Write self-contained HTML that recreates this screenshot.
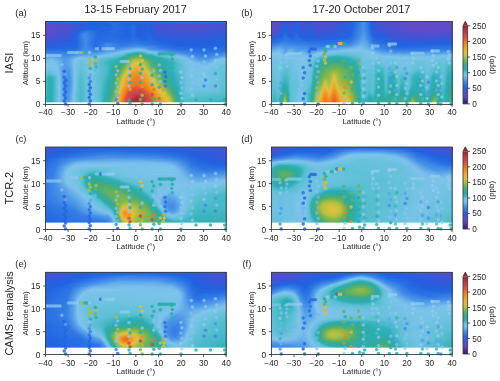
<!DOCTYPE html><html><head><meta charset="utf-8"><style>
html,body{margin:0;padding:0;background:#fff;width:500px;height:381px;overflow:hidden}
.fld{position:absolute;overflow:hidden}.fld i{position:absolute;left:0;width:100%;display:block}
svg{position:absolute;left:0;top:0;will-change:transform}text{font-family:"Liberation Sans",sans-serif;fill:#262626}
.tk{stroke:#262626;stroke-width:0.8}.sp{fill:none;stroke:#3a3a3a;stroke-width:0.85}
</style></head><body>
<div class="fld" style="left:45px;top:21px;width:182px;height:84px"><i style="top:0px;height:1px;background:linear-gradient(90deg,#634ac6 0.5px,#4d50d0 24.5px,#1e62e0 45.5px,#2260df 62.5px,#276de3 69.5px,#2360df 75.5px,#305bdb 94.5px,#4d50d0 118.5px,#514fce 155.5px,#4652d4 181.5px)"></i><i style="top:1px;height:1px;background:linear-gradient(90deg,#644ac5 0.5px,#4e50d0 24.5px,#1e62e0 45.5px,#2260df 62.5px,#276de3 69.5px,#2261df 76.5px,#255fde 90.5px,#4c50d1 116.5px,#534ecd 152.5px,#4752d4 181.5px)"></i><i style="top:2px;height:1px;background:linear-gradient(90deg,#644ac5 0.5px,#4e50d0 24.5px,#1e62e0 45.5px,#2161df 62.5px,#286ee3 69.5px,#2061df 79.5px,#2360de 91.5px,#3359da 101.5px,#3858d8 106.5px,#4951d2 113.5px,#544ecd 150.5px,#4752d3 181.5px)"></i><i style="top:3px;height:1px;background:linear-gradient(90deg,#644ac5 0.5px,#4e50d0 24.5px,#1e62e0 45.5px,#2161df 62.5px,#286ee3 69.5px,#1e62e0 80.5px,#2266e1 89.5px,#315ada 100.5px,#2b5ddc 105.5px,#4752d4 111.5px,#554ecd 149.5px,#4752d4 181.5px)"></i><i style="top:4px;height:1px;background:linear-gradient(90deg,#644ac5 0.5px,#4e50d0 24.5px,#1e62e0 44.5px,#2061df 62.5px,#286fe3 69.5px,#1e62e0 80.5px,#2469e2 89.5px,#2260df 92.5px,#2f5bdb 100.5px,#2061df 104.5px,#4453d5 110.5px,#554ecd 148.5px,#4652d4 181.5px)"></i><i style="top:5px;height:1px;background:linear-gradient(90deg,#644ac5 0.5px,#4e50d0 24.5px,#1e63e0 44.5px,#2166e1 64.5px,#266ce3 70.5px,#2064e1 82.5px,#286ee3 88.5px,#2260df 92.5px,#2d5cdc 100.5px,#1f64e0 104.5px,#285edd 106.5px,#4353d5 110.5px,#534ecd 148.5px,#4453d5 181.5px)"></i><i style="top:6px;height:1px;background:linear-gradient(90deg,#634ac6 0.5px,#4d50d1 24.5px,#1f63e0 43.5px,#2266e1 64.5px,#276ce3 70.5px,#2064e1 82.5px,#286ee3 88.5px,#2260df 92.5px,#2c5cdc 100.5px,#2065e1 104.5px,#265fdd 106.5px,#4154d5 110.5px,#524fce 148.5px,#4254d5 181.5px)"></i><i style="top:7px;height:1px;background:linear-gradient(90deg,#614ac6 0.5px,#4b50d1 24.5px,#1f63e0 40.5px,#2267e1 64.5px,#276ce3 70.5px,#1f64e0 82.5px,#286ee3 88.5px,#2260df 92.5px,#2c5cdc 100.5px,#2064e1 103.5px,#265fde 106.5px,#4054d6 110.5px,#504fcf 148.5px,#4055d6 181.5px)"></i><i style="top:8px;height:1px;background:linear-gradient(90deg,#604bc7 0.5px,#4a51d2 24.5px,#1f63e0 36.5px,#2166e1 48.5px,#2267e1 64.5px,#276ce3 70.5px,#1f63e0 82.5px,#276ee3 88.5px,#1e62e0 91.5px,#2e5cdb 99.5px,#2064e1 103.5px,#255fde 106.5px,#3e55d6 110.5px,#4d50d0 149.5px,#3d56d7 181.5px)"></i><i style="top:9px;height:1px;background:linear-gradient(90deg,#5e4bc8 0.5px,#4851d3 24.5px,#1f63e0 34.5px,#2a71e4 42.5px,#1e62e0 61.5px,#296fe4 69.5px,#1e62e0 80.5px,#276de3 88.5px,#2460de 92.5px,#2b5ddc 100.5px,#2065e1 103.5px,#2460de 106.5px,#3c56d7 110.5px,#4b51d2 149.5px,#3957d8 181.5px)"></i><i style="top:10px;height:1px;background:linear-gradient(90deg,#5c4cc9 0.5px,#4652d4 24.5px,#2064e1 33.5px,#327ae6 41.5px,#1f63e0 56.5px,#286ee3 66.5px,#1f63e0 82.5px,#276de3 88.5px,#245fde 92.5px,#2b5ddc 100.5px,#2165e1 103.5px,#2360df 106.5px,#3b57d7 110.5px,#4852d3 150.5px,#3658d9 181.5px)"></i><i style="top:11px;height:1px;background:linear-gradient(90deg,#5a4cca 0.5px,#4453d5 24.5px,#1f63e0 32.5px,#3c85e7 40.5px,#2166e1 53.5px,#256be2 65.5px,#276ce3 70.5px,#1f63e0 82.5px,#276de3 88.5px,#255fde 92.5px,#2a5ddc 100.5px,#2166e1 103.5px,#2161df 106.5px,#3957d8 110.5px,#4453d5 151.5px,#335ada 181.5px)"></i><i style="top:12px;height:1px;background:linear-gradient(90deg,#584dcb 0.5px,#4453d5 23.5px,#2165e1 32.5px,#408be7 39.5px,#2267e1 52.5px,#266be3 65.5px,#276de3 70.5px,#1f63e0 82.5px,#276de3 88.5px,#255fde 92.5px,#295edd 100.5px,#2166e1 103.5px,#2061df 106.5px,#3858d8 111.5px,#3f55d6 155.5px,#2f5bdb 181.5px)"></i><i style="top:13px;height:1px;background:linear-gradient(90deg,#554ecc 0.5px,#4154d6 23.5px,#1e62e0 31.5px,#428ce7 39.5px,#2368e2 52.5px,#266ce3 65.5px,#246ae2 71.5px,#2064e1 83.5px,#276de3 88.5px,#255fde 92.5px,#285edd 100.5px,#2166e1 105.5px,#265fdd 107.5px,#3658d9 113.5px,#3957d8 161.5px,#2c5ddc 181.5px)"></i><i style="top:14px;height:1px;background:linear-gradient(90deg,#534ece 0.5px,#3e55d6 23.5px,#1f63e0 31.5px,#428ce7 39.5px,#2469e2 52.5px,#266ce3 65.5px,#256ae2 71.5px,#2065e1 83.5px,#276de3 88.5px,#2460de 92.5px,#265fde 100.5px,#2267e1 105.5px,#245fde 107.5px,#3359da 113.5px,#3459d9 164.5px,#295edd 181.5px)"></i><i style="top:15px;height:1px;background:linear-gradient(90deg,#504fcf 0.5px,#3b56d7 23.5px,#2064e1 31.5px,#428de7 39.5px,#246ae2 52.5px,#276de3 65.5px,#256ae2 71.5px,#2165e1 83.5px,#276de3 88.5px,#2260df 92.5px,#2460de 100.5px,#2368e2 105.5px,#315ada 114.5px,#2f5bdb 166.5px,#265fde 181.5px)"></i><i style="top:16px;height:1px;background:linear-gradient(90deg,#4d50d0 0.5px,#3858d8 23.5px,#2065e1 31.5px,#428de7 39.5px,#256ae2 52.5px,#276de3 65.5px,#256be2 71.5px,#2166e1 83.5px,#286ee3 88.5px,#2260df 93.5px,#2267e1 102.5px,#1f62e0 107.5px,#2e5cdb 114.5px,#2d5cdc 166.5px,#2360df 181.5px)"></i><i style="top:17px;height:1px;background:linear-gradient(90deg,#4a51d2 0.5px,#335ada 24.5px,#2165e1 31.5px,#428de7 40.5px,#266ce3 50.5px,#286ee3 65.5px,#266ce3 71.5px,#256ae2 84.5px,#266ce3 89.5px,#2061df 99.5px,#256ae2 105.5px,#2261df 108.5px,#2f5bdb 135.5px,#255fde 172.5px,#2161df 181.5px)"></i><i style="top:18px;height:1px;background:linear-gradient(90deg,#4752d3 0.5px,#2c5cdc 26.5px,#2166e1 31.5px,#428de7 40.5px,#266ce3 50.5px,#296fe4 65.5px,#256be2 72.5px,#266ce3 84.5px,#286ee3 89.5px,#1f63e0 99.5px,#266ce3 105.5px,#2161df 109.5px,#2c5cdc 142.5px,#1f62e0 181.5px)"></i><i style="top:19px;height:1px;background:linear-gradient(90deg,#4353d5 0.5px,#285edd 27.5px,#2166e1 31.5px,#428de7 40.5px,#266ce3 50.5px,#2a71e4 70.5px,#266ce3 83.5px,#2a70e4 89.5px,#2368e2 100.5px,#256be2 106.5px,#2260df 113.5px,#2a5ddc 159.5px,#1e62e0 181.5px)"></i><i style="top:20px;height:1px;background:linear-gradient(90deg,#3f55d6 0.5px,#245fde 28.5px,#2469e2 32.5px,#428de7 40.5px,#266ce3 50.5px,#2c73e5 70.5px,#286ee3 83.5px,#2c73e5 89.5px,#276de3 101.5px,#276de3 106.5px,#2260df 117.5px,#255fde 166.5px,#1f63e0 181.5px)"></i><i style="top:21px;height:1px;background:linear-gradient(90deg,#3b57d7 0.5px,#2166e1 31.5px,#428ce7 40.5px,#266ce3 50.5px,#337be6 63.5px,#2970e4 81.5px,#2f76e6 89.5px,#2b72e4 102.5px,#2261df 120.5px,#2161df 170.5px,#1f63e0 181.5px)"></i><i style="top:22px;height:1px;background:linear-gradient(90deg,#3658d9 0.5px,#2166e1 31.5px,#428ce7 40.5px,#266ce3 50.5px,#2f76e6 57.5px,#3c86e7 62.5px,#2b72e4 77.5px,#337ce6 89.5px,#276de3 108.5px,#2360df 125.5px,#1f63e0 181.5px)"></i><i style="top:23px;height:1px;background:linear-gradient(90deg,#315ada 0.5px,#2166e1 31.5px,#428ce7 40.5px,#266ce3 50.5px,#327ae6 57.5px,#448ee7 61.5px,#2e75e5 75.5px,#3881e7 90.5px,#286ee3 110.5px,#2260df 132.5px,#2064e1 181.5px)"></i><i style="top:24px;height:1px;background:linear-gradient(90deg,#2b5ddc 0.5px,#2266e1 31.5px,#428ce7 40.5px,#276de3 50.5px,#2f76e6 56.5px,#4691e8 61.5px,#327ae6 75.5px,#3f89e7 92.5px,#1e62e0 132.5px,#2065e1 181.5px)"></i><i style="top:25px;height:1px;background:linear-gradient(90deg,#255fde 0.5px,#2368e2 31.5px,#428de7 40.5px,#286ee3 50.5px,#3078e6 56.5px,#4793e8 61.5px,#3780e7 74.5px,#4691e8 95.5px,#2166e1 127.5px,#2266e1 181.5px)"></i><i style="top:26px;height:1px;background:linear-gradient(90deg,#1e62e0 0.5px,#2469e2 31.5px,#438de7 40.5px,#2a70e4 50.5px,#327be6 56.5px,#4994e8 61.5px,#3d87e7 73.5px,#55a0e9 90.5px,#529de8 96.5px,#286fe3 121.5px,#2065e1 164.5px,#2368e2 181.5px)"></i><i style="top:27px;height:1px;background:linear-gradient(90deg,#2266e1 0.5px,#266ce3 31.5px,#448fe7 40.5px,#2c73e5 50.5px,#367fe6 56.5px,#4b96e8 61.5px,#438de7 72.5px,#62abea 89.5px,#6fb5eb 93.5px,#448fe7 105.5px,#276ce3 131.5px,#246ae2 177.5px,#256be2 181.5px)"></i><i style="top:28px;height:1px;background:linear-gradient(90deg,#266be3 0.5px,#2970e4 31.5px,#4590e8 40.5px,#2f77e6 50.5px,#3f8ae7 57.5px,#4d99e8 62.5px,#4a95e8 72.5px,#6ab1ea 85.5px,#76bbeb 89.5px,#7cc4ea 92.5px,#7bc0ec 97.5px,#4e99e8 104.5px,#2a71e4 132.5px,#256be2 170.5px,#286fe3 181.5px)"></i><i style="top:29px;height:1px;background:linear-gradient(90deg,#2a71e4 0.5px,#2d74e5 31.5px,#4792e8 40.5px,#357ee6 51.5px,#529de8 62.5px,#509be8 70.5px,#80c4ec 85.5px,#6dc2e1 94.5px,#7fc3ec 100.5px,#60a9ea 104.5px,#3078e6 132.5px,#276de3 165.5px,#2c73e5 181.5px)"></i><i style="top:30px;height:1px;background:linear-gradient(90deg,#2f76e6 0.5px,#3078e6 30.5px,#4994e8 40.5px,#3d86e7 51.5px,#57a1e9 63.5px,#62abea 71.5px,#7fc4ec 79.5px,#64c1da 89.5px,#5ac0d1 94.5px,#7dc1ec 103.5px,#438de7 124.5px,#286ee3 155.5px,#3078e6 181.5px)"></i><i style="top:31px;height:1px;background:linear-gradient(90deg,#357ee6 0.5px,#347de6 28.5px,#4a96e8 41.5px,#4590e7 51.5px,#7dc4ea 76.5px,#4bbbc9 88.5px,#31b1ba 92.5px,#49bac8 97.5px,#75c3e6 104.5px,#7dc1ec 111.5px,#4893e8 128.5px,#2a71e4 156.5px,#3780e7 181.5px)"></i><i style="top:32px;height:1px;background:linear-gradient(90deg,#3d86e7 0.5px,#3882e7 26.5px,#4d99e8 41.5px,#4e9ae8 51.5px,#78bdeb 67.5px,#7cc4ea 71.5px,#61c1d7 80.5px,#2cafb7 86.5px,#2daca5 92.5px,#2eb0b8 98.5px,#5cc0d4 103.5px,#7fc3ec 116.5px,#4590e8 137.5px,#2d75e5 157.5px,#3f89e7 181.5px)"></i><i style="top:33px;height:1px;background:linear-gradient(90deg,#448fe7 0.5px,#3c86e7 24.5px,#539ee9 40.5px,#5aa4e9 50.5px,#6db4eb 59.5px,#7ec4eb 66.5px,#5dc0d4 78.5px,#2aaeb5 83.5px,#35aa91 91.5px,#2cadab 99.5px,#2aaeb6 101.5px,#5dc0d4 108.5px,#7fc3ec 122.5px,#3f8ae7 145.5px,#3179e6 160.5px,#4792e8 181.5px)"></i><i style="top:34px;height:1px;background:linear-gradient(90deg,#4b96e8 0.5px,#428ce7 24.5px,#5da6e9 36.5px,#62abea 48.5px,#7dc1ec 57.5px,#78c3e7 65.5px,#52becc 77.5px,#2baeb3 81.5px,#44ac7d 90.5px,#3bab89 96.5px,#2aaeb4 104.5px,#5dc0d4 113.5px,#7dc1ec 129.5px,#418be7 148.5px,#367fe6 161.5px,#519de8 181.5px)"></i><i style="top:35px;height:1px;background:linear-gradient(90deg,#55a0e9 0.5px,#56a1e9 8.5px,#438ee7 21.5px,#56a0e9 28.5px,#6bb2ea 35.5px,#6cb3ea 47.5px,#7ec4eb 53.5px,#6ac2df 66.5px,#4bbbc9 75.5px,#2aaeb4 79.5px,#3eab85 85.5px,#5db065 91.5px,#45ac7c 97.5px,#2daca6 104.5px,#31b1ba 109.5px,#5dc0d4 118.5px,#7dc1ec 134.5px,#438ee7 150.5px,#3b85e7 161.5px,#60a9ea 181.5px)"></i><i style="top:36px;height:1px;background:linear-gradient(90deg,#60a9ea 0.5px,#65adea 7.5px,#4893e8 18.5px,#509ce8 25.5px,#7bbfec 34.5px,#75bbeb 46.5px,#7ec4eb 50.5px,#4fbccb 71.5px,#2aaeb4 77.5px,#36ab90 82.5px,#70b354 89.5px,#73b451 93.5px,#34aa93 103.5px,#2baeb7 112.5px,#5ec1d5 123.5px,#80c4ec 137.5px,#4590e7 152.5px,#438ee7 163.5px,#6db4eb 179.5px,#6db4eb 181.5px)"></i><i style="top:37px;height:1px;background:linear-gradient(90deg,#68b0ea 0.5px,#70b6eb 7.5px,#4a96e8 19.5px,#58a2e9 25.5px,#7fc4eb 32.5px,#7bc3e9 49.5px,#3bb4bf 72.5px,#2badaf 76.5px,#39ab8c 81.5px,#60b062 85.5px,#82b74c 88.5px,#93ba48 91.5px,#82b74c 95.5px,#51ae6f 100.5px,#30aa9a 107.5px,#2dafb8 116.5px,#61c1d7 128.5px,#7ec2ec 140.5px,#4994e8 153.5px,#4894e8 163.5px,#74baeb 175.5px,#79beeb 181.5px)"></i><i style="top:38px;height:1px;background:linear-gradient(90deg,#6fb5eb 0.5px,#77bdeb 7.5px,#4d99e8 19.5px,#5da6e9 25.5px,#80c4ec 30.5px,#74c3e5 37.5px,#80c4ec 46.5px,#33b1bb 71.5px,#2daca7 76.5px,#41ab81 81.5px,#81b74c 86.5px,#aabf42 90.5px,#a3bd44 94.5px,#6db356 99.5px,#42ac80 104.5px,#2eaca3 112.5px,#2eafb8 119.5px,#65c1da 132.5px,#7dc1ec 142.5px,#4d99e8 155.5px,#4f9be8 163.5px,#79beeb 173.5px,#7ec4eb 181.5px)"></i><i style="top:39px;height:1px;background:linear-gradient(90deg,#73b9eb 0.5px,#7ec2ec 6.5px,#4f9be8 20.5px,#68afea 26.5px,#7fc3ec 29.5px,#6fc2e3 37.5px,#7fc3ec 45.5px,#31b1ba 69.5px,#2daca5 75.5px,#41ab81 80.5px,#75b450 84.5px,#b0c040 88.5px,#bdc13f 92.5px,#a6be43 96.5px,#67b25c 101.5px,#41ab82 106.5px,#2daca6 115.5px,#31b1ba 122.5px,#65c1db 134.5px,#7ec3ec 143.5px,#59a3e9 154.5px,#55a0e9 162.5px,#7fc3ec 172.5px,#79c3e8 181.5px)"></i><i style="top:40px;height:1px;background:linear-gradient(90deg,#77bceb 0.5px,#7fc4eb 6.5px,#6eb5eb 12.5px,#519ce8 20.5px,#63abea 25.5px,#7ec4eb 29.5px,#6ac2df 36.5px,#80c4ec 45.5px,#2eb0b8 68.5px,#34aa93 77.5px,#56ae6c 81.5px,#86b84b 84.5px,#b5c040 87.5px,#ccc13f 91.5px,#b6c040 96.5px,#69b25a 102.5px,#42ac80 107.5px,#2eaca4 116.5px,#2fb0b9 123.5px,#64c1da 135.5px,#80c4ec 144.5px,#62aaea 155.5px,#61aaea 163.5px,#7fc4eb 171.5px,#74c3e6 181.5px)"></i><i style="top:41px;height:1px;background:linear-gradient(90deg,#79beeb 0.5px,#7bc0ec 10.5px,#529de8 19.5px,#5da6e9 24.5px,#7dc4ea 29.5px,#68c1dd 36.5px,#7fc4ec 45.5px,#35b2bc 65.5px,#2badb0 70.5px,#39ab8c 77.5px,#52ae6f 80.5px,#83b74c 83.5px,#b7c040 86.5px,#d7c23e 90.5px,#d0c13f 94.5px,#a0bd44 99.5px,#6ab259 103.5px,#43ac7f 108.5px,#2eaca4 117.5px,#2fb0b9 124.5px,#64c1da 136.5px,#7ec4eb 145.5px,#66aeea 158.5px,#6db4eb 164.5px,#7ec4eb 170.5px,#71c2e3 181.5px)"></i><i style="top:42px;height:1px;background:linear-gradient(90deg,#7bbfec 0.5px,#7dc2ec 10.5px,#529de8 19.5px,#5ca6e9 24.5px,#7dc1ec 28.5px,#66c1db 36.5px,#7fc4ec 45.5px,#38b3be 64.5px,#2badb1 69.5px,#37ab8e 76.5px,#5cb066 80.5px,#91ba48 83.5px,#c2c13f 86.5px,#e2c23e 90.5px,#dcc23e 94.5px,#aec041 99.5px,#69b25a 104.5px,#43ac7f 109.5px,#2daca5 118.5px,#31b1ba 125.5px,#73c3e5 140.5px,#7ec2ec 148.5px,#6bb2ea 159.5px,#7ec4eb 168.5px,#6dc2e1 180.5px,#6dc2e2 181.5px)"></i><i style="top:43px;height:1px;background:linear-gradient(90deg,#7cc1ec 0.5px,#7bc0ec 11.5px,#519ce8 19.5px,#5ba5e9 24.5px,#7cc1ec 28.5px,#64c1da 36.5px,#7fc4ec 45.5px,#40b7c3 62.5px,#2badb2 68.5px,#36aa91 75.5px,#56af6b 79.5px,#8ab84a 82.5px,#bfc13f 85.5px,#e1c23e 88.5px,#e3c03d 94.5px,#b8c040 99.5px,#67b25c 105.5px,#42ab81 110.5px,#2eaca3 118.5px,#2fb0b9 125.5px,#6ec2e2 139.5px,#7fc3ec 149.5px,#71b8eb 160.5px,#7dc4ea 167.5px,#6ac2de 180.5px,#6ac2df 181.5px)"></i><i style="top:44px;height:1px;background:linear-gradient(90deg,#7ec2ec 0.5px,#7dc4ea 9.5px,#77bdeb 12.5px,#509be8 19.5px,#59a3e9 24.5px,#7dc4ea 29.5px,#64c1da 36.5px,#7fc4ec 45.5px,#42b7c3 62.5px,#2badb1 68.5px,#39ab8c 75.5px,#51ae70 78.5px,#82b74c 81.5px,#bbc040 84.5px,#e1c23e 87.5px,#e8b639 92.5px,#e0c23e 96.5px,#98bb46 102.5px,#5baf67 107.5px,#3cab88 112.5px,#2badb0 122.5px,#34b2bc 126.5px,#71c2e4 140.5px,#7dc2ec 151.5px,#79beeb 161.5px,#79c3e8 168.5px,#66c1dc 179.5px,#68c1dd 181.5px)"></i><i style="top:45px;height:1px;background:linear-gradient(90deg,#80c4ec 0.5px,#79c3e8 7.5px,#7fc3ec 11.5px,#4e9ae8 19.5px,#57a1e9 24.5px,#7dc4eb 29.5px,#63c1d9 36.5px,#80c4ec 45.5px,#48bac7 61.5px,#2aaeb4 67.5px,#37ab8f 74.5px,#5aaf68 78.5px,#8fb949 81.5px,#d3c13f 85.5px,#e4bd3c 87.5px,#eab037 92.5px,#e0c23e 97.5px,#94ba48 103.5px,#58af6a 108.5px,#36ab90 114.5px,#2fb0b9 125.5px,#60c1d7 136.5px,#78c3e7 144.5px,#7bc0ec 154.5px,#79c3e8 166.5px,#65c1db 180.5px,#66c1db 181.5px)"></i><i style="top:46px;height:1px;background:linear-gradient(90deg,#7fc4eb 0.5px,#76c3e6 6.5px,#7bc0ec 12.5px,#4d99e8 19.5px,#549fe9 24.5px,#7ec4eb 29.5px,#63c1d9 35.5px,#75c3e6 41.5px,#7ec4eb 46.5px,#4abbc8 61.5px,#2baeb3 67.5px,#35aa92 73.5px,#55ae6c 77.5px,#87b84b 80.5px,#c0c13f 83.5px,#e4be3c 86.5px,#edab34 91.5px,#dec23e 98.5px,#90ba49 104.5px,#5eb064 108.5px,#3cab88 113.5px,#2cadab 121.5px,#2eb0b8 125.5px,#60c1d6 136.5px,#77c3e7 144.5px,#7dc4ea 162.5px,#67c1dc 174.5px,#64c1da 181.5px)"></i><i style="top:47px;height:1px;background:linear-gradient(90deg,#7cc4ea 0.5px,#72c2e4 5.5px,#7dc2ec 12.5px,#4c97e8 19.5px,#529de8 24.5px,#7ec4eb 29.5px,#62c1d8 35.5px,#75c3e6 41.5px,#7fc4eb 46.5px,#4bbbc9 61.5px,#2badb2 67.5px,#38ab8d 73.5px,#51ae70 76.5px,#80b64d 79.5px,#cbc13f 83.5px,#e3bf3d 85.5px,#efa532 91.5px,#ddc23e 99.5px,#7eb64d 106.5px,#43ac7f 112.5px,#2eaba3 119.5px,#2dafb8 125.5px,#60c1d6 136.5px,#76c3e7 144.5px,#7ec4eb 160.5px,#69c2de 173.5px,#63c1d9 181.5px)"></i><i style="top:48px;height:1px;background:linear-gradient(90deg,#79c3e8 0.5px,#70c2e3 5.5px,#80c4ec 12.5px,#4b97e8 19.5px,#4f9be8 24.5px,#7fc4eb 29.5px,#61c1d7 35.5px,#75c3e6 41.5px,#7fc4eb 46.5px,#4cbbc9 61.5px,#2aaeb6 66.5px,#36aa91 72.5px,#5aaf67 76.5px,#8fb949 79.5px,#d5c13f 83.5px,#e6b93a 85.5px,#f2a030 91.5px,#e6b93a 98.5px,#cec13f 101.5px,#7ab54e 107.5px,#45ac7c 112.5px,#2eaba2 119.5px,#2cafb7 125.5px,#5fc1d6 136.5px,#76c3e6 144.5px,#7cc4ea 160.5px,#68c1dd 173.5px,#62c1d8 181.5px)"></i><i style="top:49px;height:1px;background:linear-gradient(90deg,#76c3e7 0.5px,#6dc2e1 5.5px,#7abfec 13.5px,#4a96e8 19.5px,#4d99e8 24.5px,#7fc4eb 29.5px,#5fc1d6 35.5px,#6ec2e2 40.5px,#80c4ec 45.5px,#4bbbc9 61.5px,#2aaeb5 66.5px,#39ab8c 72.5px,#56ae6c 75.5px,#89b84a 78.5px,#d2c13f 82.5px,#e5bb3b 84.5px,#f29c2d 90.5px,#eea833 96.5px,#d8c23e 101.5px,#76b450 108.5px,#43ac7e 113.5px,#2eaca4 120.5px,#30b0b9 126.5px,#5fc1d5 136.5px,#76c3e6 143.5px,#7ac3e9 160.5px,#6bc2e0 172.5px,#61c1d7 180.5px,#61c1d8 181.5px)"></i><i style="top:50px;height:1px;background:linear-gradient(90deg,#73c3e5 0.5px,#67c1dd 4.5px,#7dc1ec 13.5px,#4995e8 19.5px,#4c98e8 24.5px,#7fc4eb 29.5px,#5ec1d5 35.5px,#6dc2e1 40.5px,#7fc4ec 45.5px,#4abbc8 61.5px,#2baeb3 66.5px,#36aa91 71.5px,#50ad71 74.5px,#83b74c 77.5px,#cec13f 81.5px,#e5bd3c 83.5px,#f19729 90.5px,#f1a331 96.5px,#e2c23e 101.5px,#91ba48 107.5px,#5aaf68 111.5px,#38ab8e 116.5px,#2eafb8 126.5px,#5ec1d5 136.5px,#75c3e6 143.5px,#79c3e8 160.5px,#6bc2df 172.5px,#60c1d7 180.5px,#61c1d7 181.5px)"></i><i style="top:51px;height:1px;background:linear-gradient(90deg,#6fc2e2 0.5px,#62c1d8 4.5px,#7fc3ec 13.5px,#4d99e8 18.5px,#4793e8 23.5px,#69b0ea 27.5px,#7fc4eb 29.5px,#5cc0d3 35.5px,#6cc2e0 40.5px,#7fc4eb 45.5px,#49bac7 61.5px,#2badb2 66.5px,#39ab8c 71.5px,#59af69 74.5px,#91ba48 77.5px,#d9c23e 81.5px,#f1a131 86.5px,#f19225 92.5px,#ebaf36 99.5px,#e0c23e 102.5px,#8cb94a 108.5px,#4bad75 113.5px,#2fab9f 120.5px,#2baeb6 126.5px,#5dc0d4 136.5px,#75c3e6 143.5px,#7cc4ea 154.5px,#6ac2df 172.5px,#5fc1d6 180.5px,#60c1d7 181.5px)"></i><i style="top:52px;height:1px;background:linear-gradient(90deg,#6ac2df 0.5px,#5bc0d3 4.5px,#7fc4eb 13.5px,#4894e8 19.5px,#4a95e8 24.5px,#7fc4eb 29.5px,#5ac0d2 35.5px,#6bc2df 40.5px,#7fc4eb 45.5px,#47b9c6 61.5px,#2aaeb6 65.5px,#34aa92 70.5px,#51ae70 73.5px,#73b451 75.5px,#c5c13f 79.5px,#e3c13e 81.5px,#f19729 87.5px,#f18f23 93.5px,#e7b639 101.5px,#d1c13f 104.5px,#76b44f 110.5px,#42ac80 115.5px,#2eaba1 121.5px,#2eb0b8 127.5px,#60c1d6 137.5px,#74c3e6 143.5px,#7ac3e9 153.5px,#6ec2e2 171.5px,#5fc1d5 179.5px,#60c1d6 181.5px)"></i><i style="top:53px;height:1px;background:linear-gradient(90deg,#65c1db 0.5px,#51bdcc 4.5px,#7dc4ea 13.5px,#4893e8 19.5px,#4995e8 24.5px,#7ec4eb 29.5px,#58c0d0 35.5px,#6ac2de 40.5px,#7ec4eb 45.5px,#4abbc8 60.5px,#2aaeb4 65.5px,#37ab8f 70.5px,#59af69 73.5px,#96bb47 76.5px,#dfc23e 80.5px,#f1982a 86.5px,#f18a1f 92.5px,#edaa34 100.5px,#dac23e 104.5px,#92ba48 109.5px,#59af69 113.5px,#37ab8f 118.5px,#2baeb7 127.5px,#63c1d9 138.5px,#74c3e5 143.5px,#79c3e8 153.5px,#6ec2e2 171.5px,#5ec1d5 179.5px,#5fc1d6 181.5px)"></i><i style="top:54px;height:1px;background:linear-gradient(90deg,#61c1d7 0.5px,#43b8c4 4.5px,#6cc2e1 11.5px,#7abfec 14.5px,#4c98e8 18.5px,#4590e7 23.5px,#5aa4e9 26.5px,#7ec4eb 29.5px,#56bfcf 35.5px,#68c1dd 40.5px,#7ec4eb 45.5px,#48bac7 60.5px,#2baeb3 65.5px,#3aab8b 70.5px,#61b062 73.5px,#8bb94a 75.5px,#d9c23e 79.5px,#f29f2f 84.5px,#f0861c 91.5px,#f29f30 99.5px,#e2c13e 104.5px,#9dbc45 109.5px,#61b062 113.5px,#3fab84 117.5px,#2daca9 124.5px,#2fb0b9 128.5px,#6cc2e1 140.5px,#79c3e8 159.5px,#6ac2df 172.5px,#5ec1d5 180.5px,#5fc1d6 181.5px)"></i><i style="top:55px;height:1px;background:linear-gradient(90deg,#5dc0d4 0.5px,#3ab4bf 3.5px,#3ab4bf 6.5px,#7ac3e9 13.5px,#7cc1ec 14.5px,#4c98e8 18.5px,#448fe7 23.5px,#59a3e9 26.5px,#7ec4eb 29.5px,#54becd 35.5px,#60c1d6 39.5px,#7dc4ea 44.5px,#50bdcc 58.5px,#2badb1 65.5px,#34aa93 69.5px,#55ae6c 72.5px,#95bb47 75.5px,#e2c23e 79.5px,#f19527 85.5px,#f0831a 92.5px,#f1a131 100.5px,#dfc23e 105.5px,#86b84b 111.5px,#47ac79 116.5px,#2eaba2 123.5px,#2cafb7 128.5px,#6cc2e0 140.5px,#79c3e8 159.5px,#6ac2df 172.5px,#5ec1d5 181.5px)"></i><i style="top:56px;height:1px;background:linear-gradient(90deg,#5ac0d2 0.5px,#32b1ba 3.5px,#31b1ba 6.5px,#79c3e8 13.5px,#7dc2ec 14.5px,#4c98e8 18.5px,#448fe7 23.5px,#59a3e9 26.5px,#7ec4eb 29.5px,#52bdcc 35.5px,#5fc1d6 39.5px,#7dc4ea 44.5px,#54bece 57.5px,#2aaeb5 64.5px,#36ab90 69.5px,#49ac78 71.5px,#86b84b 74.5px,#c8c13f 77.5px,#e4bd3c 79.5px,#f19125 85.5px,#f08119 92.5px,#f29e2e 100.5px,#dac23e 106.5px,#80b64d 112.5px,#46ac7b 117.5px,#2eaca4 124.5px,#30b0b9 129.5px,#70c2e3 141.5px,#7ac3e9 154.5px,#6ac2df 172.5px,#5ec1d5 181.5px)"></i><i style="top:57px;height:1px;background:linear-gradient(90deg,#57c0d0 0.5px,#2dafb8 3.5px,#2cafb7 6.5px,#78c3e8 13.5px,#7fc3ec 14.5px,#4c98e8 18.5px,#438ee7 23.5px,#58a3e9 26.5px,#7ec4eb 29.5px,#50bdcb 35.5px,#5ec1d5 39.5px,#7dc4ea 44.5px,#52becc 57.5px,#2aaeb4 64.5px,#38ab8d 69.5px,#61b062 72.5px,#8eb949 74.5px,#e1c23e 78.5px,#f29a2b 83.5px,#f07f19 90.5px,#f19024 98.5px,#e5bb3b 105.5px,#d5c13f 107.5px,#7bb54e 113.5px,#44ac7d 118.5px,#2eaba2 124.5px,#2dafb8 129.5px,#70c2e3 141.5px,#7ac3e9 154.5px,#6ac2df 172.5px,#5dc0d4 181.5px)"></i><i style="top:58px;height:1px;background:linear-gradient(90deg,#55bfce 0.5px,#2aaeb6 3.5px,#31b1ba 7.5px,#6ec2e2 12.5px,#80c4ec 14.5px,#4c98e8 18.5px,#438ee7 23.5px,#58a2e9 26.5px,#7ec4eb 29.5px,#4fbccb 35.5px,#57c0cf 38.5px,#7cc4ea 44.5px,#56bfcf 56.5px,#2baeb2 64.5px,#3aab8a 69.5px,#66b15d 72.5px,#b0c040 75.5px,#e3bf3d 78.5px,#f19125 84.5px,#ef7c1a 90.5px,#f18a1f 97.5px,#e7b73a 105.5px,#d0c13f 108.5px,#76b450 114.5px,#42ac80 119.5px,#2eaca4 125.5px,#2aaeb6 129.5px,#70c2e3 141.5px,#7ac3e9 154.5px,#6ac2df 172.5px,#5dc0d4 181.5px)"></i><i style="top:59px;height:1px;background:linear-gradient(90deg,#53becd 0.5px,#2aaeb5 3.5px,#2fb0b9 7.5px,#6ec2e2 12.5px,#80c4ec 14.5px,#4c98e8 18.5px,#438ee7 23.5px,#58a2e9 26.5px,#7ec4eb 29.5px,#4ebcca 35.5px,#56bfcf 38.5px,#7cc4ea 44.5px,#55bfce 56.5px,#2aaeb6 63.5px,#34aa93 68.5px,#57af6b 71.5px,#9dbc45 74.5px,#dbc23e 77.5px,#f29a2c 82.5px,#f07f19 88.5px,#f08119 95.5px,#ecad35 104.5px,#e2c13e 107.5px,#91ba48 113.5px,#5aaf67 117.5px,#36ab90 122.5px,#2fb0b9 130.5px,#6fc2e3 141.5px,#7ac3e9 154.5px,#6ac2df 172.5px,#5cc0d3 181.5px)"></i><i style="top:60px;height:1px;background:linear-gradient(90deg,#52becd 0.5px,#31b1ba 2.5px,#2aaeb4 6.5px,#39b4bf 8.5px,#6dc2e1 12.5px,#7fc4ec 14.5px,#4c98e8 18.5px,#438ee7 23.5px,#58a2e9 26.5px,#7dc4eb 29.5px,#4ebcca 35.5px,#56bfcf 38.5px,#7cc4ea 44.5px,#54bece 56.5px,#2aaeb4 63.5px,#35aa91 68.5px,#48ac78 70.5px,#89b84a 73.5px,#cec13f 76.5px,#e1c23e 77.5px,#f1982a 82.5px,#ef7c1b 88.5px,#f07f19 95.5px,#ebb036 105.5px,#dfc23e 108.5px,#8cb949 114.5px,#44ac7d 120.5px,#2eaca4 126.5px,#2cafb7 130.5px,#6fc2e3 141.5px,#7ac3e8 154.5px,#6ac2de 172.5px,#5bc0d3 181.5px)"></i><i style="top:61px;height:1px;background:linear-gradient(90deg,#52becc 0.5px,#30b0ba 2.5px,#2baeb3 6.5px,#39b4be 8.5px,#6dc2e1 12.5px,#7fc4eb 14.5px,#4793e8 19.5px,#438ee7 23.5px,#58a2e9 26.5px,#7dc4eb 29.5px,#4dbcca 35.5px,#55bfce 38.5px,#7cc4ea 44.5px,#53becd 56.5px,#2baeb3 63.5px,#37ab8e 68.5px,#4cad75 70.5px,#74b450 72.5px,#c0c13f 75.5px,#e3c03d 77.5px,#f19528 82.5px,#ef7d1a 87.5px,#ee7a1c 94.5px,#f18b21 99.5px,#e9b237 106.5px,#dbc23e 109.5px,#88b84b 115.5px,#48ac78 120.5px,#2eaba2 126.5px,#2aaeb6 130.5px,#6fc2e3 141.5px,#79c3e8 154.5px,#69c2de 172.5px,#5ac0d2 181.5px)"></i><i style="top:62px;height:1px;background:linear-gradient(90deg,#52becd 0.5px,#30b0ba 2.5px,#2baeb3 6.5px,#38b4be 8.5px,#6cc2e1 12.5px,#7fc4eb 14.5px,#4893e8 19.5px,#438ee7 23.5px,#59a3e9 26.5px,#7dc4ea 29.5px,#4dbcca 35.5px,#55bfce 38.5px,#7cc4ea 44.5px,#58c0d0 55.5px,#2badb2 63.5px,#39ab8c 68.5px,#64b15f 71.5px,#96bb47 73.5px,#d8c23e 76.5px,#f2a030 80.5px,#ef7e19 86.5px,#ec7420 93.5px,#f0851c 98.5px,#ebae36 106.5px,#d7c23e 110.5px,#84b74c 116.5px,#46ac7b 121.5px,#2eaca4 127.5px,#2eb0b9 131.5px,#6fc2e2 141.5px,#79c3e8 154.5px,#69c2de 172.5px,#5ac0d1 181.5px)"></i><i style="top:63px;height:1px;background:linear-gradient(90deg,#52becd 0.5px,#31b1ba 2.5px,#2baeb3 6.5px,#38b4be 8.5px,#6cc2e1 12.5px,#7fc4eb 14.5px,#4893e8 19.5px,#448ee7 23.5px,#59a3e9 26.5px,#7dc4ea 29.5px,#4dbcca 35.5px,#55bfce 38.5px,#7cc4ea 44.5px,#58c0d0 55.5px,#2aaeb5 62.5px,#33aa94 67.5px,#54ae6d 70.5px,#9dbc45 73.5px,#dec23e 76.5px,#f19628 81.5px,#f07f19 85.5px,#eb7023 92.5px,#f0861c 99.5px,#ebb037 107.5px,#e0c23e 110.5px,#a0bd44 115.5px,#64b15e 119.5px,#3eab86 123.5px,#2cadad 129.5px,#34b2bc 132.5px,#6fc2e2 141.5px,#78c3e8 154.5px,#69c2de 172.5px,#59c0d1 181.5px)"></i><i style="top:64px;height:1px;background:linear-gradient(90deg,#53becd 0.5px,#31b1ba 2.5px,#2baeb3 6.5px,#38b4be 8.5px,#6cc2e1 12.5px,#7fc4eb 14.5px,#4894e8 19.5px,#448fe7 23.5px,#59a3e9 26.5px,#7dc4ea 29.5px,#4dbcca 35.5px,#55bfce 38.5px,#7cc4ea 44.5px,#58c0d0 55.5px,#2aaeb4 62.5px,#35aa91 67.5px,#47ac7a 69.5px,#88b84b 72.5px,#d0c13f 75.5px,#e2c13e 76.5px,#f19226 81.5px,#ee7a1c 85.5px,#e96b26 92.5px,#f0861d 100.5px,#eab137 108.5px,#ddc23e 111.5px,#9dbc45 116.5px,#61b062 120.5px,#3cab88 124.5px,#2badb0 130.5px,#3ab4bf 133.5px,#71c2e4 142.5px,#73c3e5 152.5px,#75c3e6 159.5px,#68c1dd 172.5px,#58c0d0 181.5px)"></i><i style="top:65px;height:1px;background:linear-gradient(90deg,#53becd 0.5px,#31b1ba 2.5px,#2baeb3 6.5px,#39b4be 8.5px,#6cc2e1 12.5px,#7ec4eb 14.5px,#4894e8 19.5px,#448fe7 23.5px,#5aa4e9 26.5px,#7dc4ea 29.5px,#4dbcca 35.5px,#55bfce 38.5px,#7cc4ea 44.5px,#57c0d0 55.5px,#2baeb2 62.5px,#37ab8f 67.5px,#4bac76 69.5px,#73b451 71.5px,#c1c13f 74.5px,#e4be3c 76.5px,#f19629 80.5px,#ee7b1b 84.5px,#e5642c 91.5px,#f0821a 100.5px,#ecac35 108.5px,#dbc23e 112.5px,#88b84b 118.5px,#46ac7b 123.5px,#2daca7 129.5px,#2eb0b8 132.5px,#69c2de 140.5px,#6fc2e2 145.5px,#74c3e5 159.5px,#68c1dd 172.5px,#58c0d0 181.5px)"></i><i style="top:66px;height:1px;background:linear-gradient(90deg,#53becd 0.5px,#32b1ba 2.5px,#2aaeb4 6.5px,#39b4be 8.5px,#6cc2e1 12.5px,#7ec4eb 14.5px,#4994e8 19.5px,#4590e7 23.5px,#5ba4e9 26.5px,#77bceb 28.5px,#7cc4ea 29.5px,#4cbbc9 35.5px,#55bfce 38.5px,#7cc4ea 44.5px,#57c0cf 55.5px,#2aaeb6 61.5px,#39ab8c 67.5px,#63b15f 70.5px,#96bb47 72.5px,#dcc23e 75.5px,#f29b2c 79.5px,#ef7c1b 83.5px,#df5b35 90.5px,#ea6d25 97.5px,#f0861d 102.5px,#e9b438 110.5px,#d9c23e 113.5px,#95bb47 118.5px,#66b25c 121.5px,#3eab86 125.5px,#2cacab 130.5px,#2baeb6 132.5px,#63c1d9 139.5px,#72c2e4 143.5px,#70c2e3 152.5px,#6fc2e2 161.5px,#6cc2e0 171.5px,#57c0cf 180.5px,#56bfcf 181.5px)"></i><i style="top:67px;height:1px;background:linear-gradient(90deg,#53becd 0.5px,#32b1ba 2.5px,#2aaeb4 6.5px,#39b4bf 8.5px,#6cc2e0 12.5px,#7ec4eb 14.5px,#4995e8 19.5px,#4590e8 23.5px,#5ba5e9 26.5px,#78bdeb 28.5px,#7cc4ea 29.5px,#4cbbc9 35.5px,#54bfce 38.5px,#7cc4ea 44.5px,#57bfcf 55.5px,#2aaeb4 61.5px,#34aa93 66.5px,#55ae6c 69.5px,#9ebc45 72.5px,#e2c23e 75.5px,#f19629 79.5px,#ef7e19 82.5px,#da533d 89.5px,#df5a36 95.5px,#f08119 102.5px,#ebae36 110.5px,#e2c23e 113.5px,#a2bd44 118.5px,#63b15f 122.5px,#3bab89 126.5px,#2aaeb5 132.5px,#69c2de 140.5px,#70c2e3 144.5px,#70c2e3 153.5px,#6bc2e0 171.5px,#56bfcf 180.5px,#55bfcf 181.5px)"></i><i style="top:68px;height:1px;background:linear-gradient(90deg,#52becd 0.5px,#32b1ba 2.5px,#2aaeb4 6.5px,#48bac7 9.5px,#7ec4eb 14.5px,#4995e8 19.5px,#4691e8 23.5px,#5ca6e9 26.5px,#79beeb 28.5px,#73c3e5 30.5px,#4bbbc9 35.5px,#54bece 38.5px,#7cc4ea 44.5px,#56bfcf 55.5px,#2baeb3 61.5px,#36ab90 66.5px,#47ac79 68.5px,#89b84a 71.5px,#d4c13f 74.5px,#eab237 76.5px,#f08119 81.5px,#d85040 87.5px,#db543c 96.5px,#f08119 103.5px,#ebaf36 111.5px,#e0c23e 114.5px,#9ebc45 119.5px,#60b062 123.5px,#39ab8c 127.5px,#2baeb3 132.5px,#69c2de 140.5px,#70c2e3 144.5px,#6ec2e2 154.5px,#6dc2e2 168.5px,#54bfce 181.5px)"></i><i style="top:69px;height:1px;background:linear-gradient(90deg,#52bdcc 0.5px,#31b1ba 2.5px,#2aaeb4 6.5px,#48bac7 9.5px,#7ec4eb 14.5px,#4a96e8 19.5px,#4691e8 23.5px,#5da7e9 26.5px,#79beeb 28.5px,#72c2e4 30.5px,#4bbbc9 35.5px,#54bece 38.5px,#7cc4ea 44.5px,#56bfcf 55.5px,#2cafb7 60.5px,#38ab8d 66.5px,#4cad74 68.5px,#75b450 70.5px,#c5c13f 73.5px,#e6ba3b 75.5px,#f18d22 79.5px,#ee7a1c 81.5px,#d64f42 86.5px,#d34d44 95.5px,#e05d33 99.5px,#f08119 104.5px,#eab137 112.5px,#dec23e 115.5px,#9bbc46 120.5px,#6ab259 123.5px,#3dab87 127.5px,#2daca9 131.5px,#2cafb7 133.5px,#5dc0d4 138.5px,#70c2e3 143.5px,#69c2de 153.5px,#69c2de 171.5px,#53becd 181.5px)"></i><i style="top:70px;height:1px;background:linear-gradient(90deg,#51bdcc 0.5px,#31b1ba 2.5px,#2aaeb4 6.5px,#48bac7 9.5px,#7ec4eb 14.5px,#4a96e8 19.5px,#4792e8 23.5px,#5ea7e9 26.5px,#7abfec 28.5px,#72c2e4 30.5px,#4abbc8 35.5px,#53becd 38.5px,#7cc4ea 44.5px,#5bc0d3 54.5px,#2aaeb6 60.5px,#33aa94 65.5px,#51ae70 68.5px,#7cb64e 70.5px,#cbc13f 73.5px,#e1c23e 74.5px,#f19326 78.5px,#f07f19 80.5px,#d9523e 84.5px,#ca474b 92.5px,#d9523e 99.5px,#f08119 105.5px,#e9b237 113.5px,#dbc23e 116.5px,#98bb47 121.5px,#66b25c 124.5px,#41ab81 127.5px,#2daca6 131.5px,#2aaeb5 133.5px,#5cc0d3 138.5px,#6ec2e2 143.5px,#67c1dd 156.5px,#66c1dc 171.5px,#52becd 181.5px)"></i><i style="top:71px;height:1px;background:linear-gradient(90deg,#50bdcc 0.5px,#31b1ba 2.5px,#2aaeb4 6.5px,#48bac7 9.5px,#7ec4eb 14.5px,#4b97e8 19.5px,#4793e8 23.5px,#5fa8e9 26.5px,#7bc0ec 28.5px,#58c0d0 33.5px,#49bac7 36.5px,#7cc4ea 44.5px,#5bc0d3 54.5px,#2aaeb5 60.5px,#35aa91 65.5px,#56af6b 68.5px,#a1bd44 71.5px,#e4bf3d 74.5px,#f18f23 78.5px,#ee791d 80.5px,#d44e43 84.5px,#c54450 92.5px,#d85040 100.5px,#ee7a1c 105.5px,#f29a2b 110.5px,#e3c13d 116.5px,#a5be43 121.5px,#71b353 124.5px,#3eab85 128.5px,#2cadac 132.5px,#33b2bb 134.5px,#5bc0d2 138.5px,#69c2de 144.5px,#5fc1d6 172.5px,#51bdcc 181.5px)"></i><i style="top:72px;height:1px;background:linear-gradient(90deg,#4fbdcb 0.5px,#30b1ba 2.5px,#2aaeb4 6.5px,#48bac7 9.5px,#7dc4eb 14.5px,#4b97e8 19.5px,#4893e8 23.5px,#60a9ea 26.5px,#7cc1ec 28.5px,#49bac7 35.5px,#52becd 38.5px,#7cc4ea 44.5px,#5bc0d3 54.5px,#2aaeb4 60.5px,#37ab8f 65.5px,#48ac78 67.5px,#8bb94a 70.5px,#d7c23e 73.5px,#f1a231 76.5px,#f08018 79.5px,#d54e42 83.5px,#c3434e 88.5px,#c9474c 97.5px,#de5937 102.5px,#ef7c1b 106.5px,#ebaf36 114.5px,#e2c23e 117.5px,#a2bd44 122.5px,#6cb357 125.5px,#42ac80 128.5px,#2daca9 132.5px,#30b1ba 134.5px,#5ac0d1 138.5px,#66c1db 144.5px,#5ac0d2 173.5px,#4fbdcb 181.5px)"></i><i style="top:73px;height:1px;background:linear-gradient(90deg,#4ebcca 0.5px,#30b0b9 2.5px,#2aaeb5 6.5px,#49bac7 9.5px,#7dc4ea 14.5px,#4c97e8 19.5px,#4c98e8 24.5px,#7dc2ec 28.5px,#48bac7 35.5px,#52becd 38.5px,#7cc4ea 44.5px,#5bc0d3 54.5px,#2baeb3 60.5px,#39ab8c 65.5px,#4dad74 67.5px,#75b450 69.5px,#c6c13f 72.5px,#ddc23e 73.5px,#f19226 77.5px,#ee7a1c 79.5px,#d74f41 82.5px,#c44450 86.5px,#bc3c46 93.5px,#c8464d 98.5px,#de5a36 103.5px,#ef7e1a 107.5px,#eab037 115.5px,#e0c23e 118.5px,#9dbc45 123.5px,#66b15d 126.5px,#3dab86 129.5px,#2badb0 133.5px,#3bb5c0 135.5px,#5cc0d3 139.5px,#5fc1d6 161.5px,#4ebcca 181.5px)"></i><i style="top:74px;height:1px;background:linear-gradient(90deg,#4dbcca 0.5px,#30b0b9 2.5px,#2aaeb5 6.5px,#49bac7 9.5px,#7dc4ea 14.5px,#4c98e8 19.5px,#4995e8 23.5px,#70b6eb 27.5px,#7ec2ec 28.5px,#48bac7 35.5px,#52bdcc 38.5px,#7cc4ea 44.5px,#5bc0d3 54.5px,#2dafb7 59.5px,#33aa94 64.5px,#51ae70 67.5px,#7cb64e 69.5px,#cbc13f 72.5px,#e2c23e 73.5px,#f18f23 77.5px,#f0831a 78.5px,#e7662a 80.5px,#d44d43 82.5px,#c44450 85.5px,#b6363f 92.5px,#c8464d 99.5px,#d9523e 103.5px,#ed781d 107.5px,#f0871d 109.5px,#eab237 116.5px,#d2c13f 120.5px,#98bb46 124.5px,#5eb064 127.5px,#30aa99 131.5px,#2aaeb6 134.5px,#57c0d0 138.5px,#5dc0d4 148.5px,#50bdcb 175.5px,#4cbbc9 181.5px)"></i><i style="top:75px;height:1px;background:linear-gradient(90deg,#4cbbc9 0.5px,#2fb0b9 2.5px,#2aaeb5 6.5px,#49bac7 9.5px,#7dc4ea 14.5px,#4995e8 20.5px,#4e9ae8 24.5px,#7fc3ec 28.5px,#47b9c6 35.5px,#51bdcc 38.5px,#79c3e8 43.5px,#71c2e4 49.5px,#4bbbc8 56.5px,#2baeb7 59.5px,#35aa92 64.5px,#55ae6c 67.5px,#9ebc45 70.5px,#e3bf3d 73.5px,#f18b21 77.5px,#f07f18 78.5px,#d75040 81.5px,#c5454f 84.5px,#b2323a 92.5px,#c8474c 100.5px,#db553b 104.5px,#ef7c1b 108.5px,#ecad35 116.5px,#dcc23e 120.5px,#a5be43 124.5px,#67b25c 127.5px,#3bab89 130.5px,#2aaeb4 134.5px,#56bfcf 138.5px,#5cc0d3 147.5px,#4ebcca 174.5px,#4abac8 181.5px)"></i><i style="top:76px;height:1px;background:linear-gradient(90deg,#4bbbc9 0.5px,#2fb0b9 2.5px,#2aaeb5 6.5px,#6cc2e0 12.5px,#7dc4ea 14.5px,#4a95e8 20.5px,#4f9be8 24.5px,#80c4ec 28.5px,#46b9c6 35.5px,#51bdcc 38.5px,#79c3e8 43.5px,#71c2e4 49.5px,#4abbc8 56.5px,#2aaeb6 59.5px,#36ab90 64.5px,#47ac79 66.5px,#87b84b 69.5px,#d5c13f 72.5px,#ebaf36 74.5px,#ee7b1b 78.5px,#d54e42 81.5px,#c2424e 84.5px,#ae2e36 91.5px,#ca484b 101.5px,#df5a36 105.5px,#f08018 109.5px,#ebaf36 117.5px,#d9c23e 121.5px,#9dbc45 125.5px,#70b353 127.5px,#3fab84 130.5px,#2badb2 134.5px,#59c0d1 139.5px,#4ebcca 170.5px,#47b9c6 181.5px)"></i><i style="top:77px;height:1px;background:linear-gradient(90deg,#4bbbc8 0.5px,#2fb0b9 2.5px,#2aaeb5 6.5px,#6cc2e0 12.5px,#7dc4ea 14.5px,#4a96e8 20.5px,#509ce8 24.5px,#7fc4ec 28.5px,#45b9c6 35.5px,#50bdcc 38.5px,#79c3e8 43.5px,#71c2e4 49.5px,#54bece 55.5px,#2aaeb5 59.5px,#38ab8e 64.5px,#4aac77 66.5px,#8bb94a 69.5px,#d8c23e 72.5px,#f29f30 75.5px,#f0861d 77.5px,#e86928 79.5px,#d34d44 81.5px,#c0404b 84.5px,#ab2a33 91.5px,#bf3f4a 99.5px,#cc4949 102.5px,#dc553b 105.5px,#ef7c1b 109.5px,#edaa34 117.5px,#e2c23e 121.5px,#a9bf42 125.5px,#65b15d 128.5px,#38ab8d 131.5px,#2badb0 134.5px,#58c0d0 139.5px,#44b8c5 181.5px)"></i><i style="top:78px;height:1px;background:linear-gradient(90deg,#4abac8 0.5px,#2eb0b8 2.5px,#2aaeb5 6.5px,#6cc2e0 12.5px,#7cc4ea 14.5px,#4b97e8 20.5px,#519de8 24.5px,#7fc4eb 28.5px,#45b9c5 35.5px,#50bdcb 38.5px,#79c3e8 43.5px,#71c2e4 49.5px,#54bece 55.5px,#2aaeb5 59.5px,#39ab8c 64.5px,#5fb063 67.5px,#8fb949 69.5px,#dbc23e 72.5px,#f29e2e 75.5px,#f0841b 77.5px,#e6662a 79.5px,#da533d 80.5px,#c44450 83.5px,#a92831 90.5px,#b93943 98.5px,#c6454e 101.5px,#d9523e 105.5px,#ee791d 109.5px,#f18d21 112.5px,#e7b73a 120.5px,#d2c13f 123.5px,#9ebc45 126.5px,#6eb356 128.5px,#3bab89 131.5px,#2cadae 134.5px,#2cafb7 135.5px,#56bfcf 139.5px,#52becd 148.5px,#41b7c3 181.5px)"></i><i style="top:79px;height:1px;background:linear-gradient(90deg,#49bac8 0.5px,#2eb0b8 2.5px,#2aaeb5 6.5px,#6cc2e0 12.5px,#7cc4ea 14.5px,#4b97e8 20.5px,#529de8 24.5px,#7ec4eb 28.5px,#44b8c5 35.5px,#50bdcb 38.5px,#79c3e8 43.5px,#71c2e4 49.5px,#53becd 55.5px,#2aaeb4 59.5px,#3aab8b 64.5px,#61b161 67.5px,#92ba48 69.5px,#dec23e 72.5px,#f29c2d 75.5px,#f0831a 77.5px,#e5642c 79.5px,#d85040 80.5px,#c3434f 83.5px,#a82630 90.5px,#b83842 98.5px,#c5454f 101.5px,#d85040 105.5px,#ed771e 109.5px,#f18b20 112.5px,#e6b93a 121.5px,#ccc13f 124.5px,#90ba48 127.5px,#60b062 129.5px,#3eab85 131.5px,#2aaeb5 135.5px,#53becd 139.5px,#55bfce 145.5px,#3db5c0 179.5px,#3db6c1 181.5px)"></i><i style="top:80px;height:1px;background:linear-gradient(90deg,#49bac7 0.5px,#2eb0b8 2.5px,#2aaeb5 6.5px,#6cc2e0 12.5px,#7cc4ea 14.5px,#62abea 17.5px,#4a96e8 21.5px,#539ee9 24.5px,#7ec4eb 28.5px,#44b8c5 35.5px,#4fbdcb 38.5px,#79c3e8 43.5px,#71c2e4 49.5px,#53becd 55.5px,#2baeb3 59.5px,#3bab8a 64.5px,#63b15f 67.5px,#95bb47 69.5px,#dfc23e 72.5px,#f18f23 76.5px,#f0831a 77.5px,#e5632d 79.5px,#d85040 80.5px,#c3434f 83.5px,#a92731 90.5px,#b83842 98.5px,#c5454f 101.5px,#df5a36 106.5px,#ef7e1a 110.5px,#ebaf36 120.5px,#e2c23e 123.5px,#b3c040 126.5px,#68b25b 129.5px,#37ab8f 132.5px,#2baeb3 135.5px,#50bdcc 139.5px,#51bdcc 145.5px,#38b4be 174.5px,#39b4be 181.5px)"></i><i style="top:81px;height:1px;background:linear-gradient(90deg,#48bac7 0.5px,#2eb0b8 2.5px,#2aaeb6 6.5px,#6cc2e0 12.5px,#7cc4ea 14.5px,#6db4eb 16.5px,#4c98e8 20.5px,#549fe9 24.5px,#7dc4eb 28.5px,#43b8c4 35.5px,#4fbdcb 38.5px,#79c3e8 43.5px,#71c2e4 49.5px,#52becd 55.5px,#2baeb3 59.5px,#3bab89 64.5px,#64b15e 67.5px,#b3c040 70.5px,#e0c23e 72.5px,#f18f23 76.5px,#f0831a 77.5px,#e5642c 79.5px,#d9513f 80.5px,#c44450 83.5px,#aa2832 90.5px,#b93943 98.5px,#ca484b 102.5px,#df5b35 106.5px,#ef7d1a 110.5px,#eab137 121.5px,#dcc23e 124.5px,#a5be43 127.5px,#6fb355 129.5px,#45ac7c 131.5px,#2daca6 134.5px,#2fb0b9 136.5px,#51bdcc 140.5px,#32b1bb 175.5px,#34b2bc 181.5px)"></i><i style="top:82px;height:1px;background:linear-gradient(90deg,#48bac7 0.5px,#2eb0b8 2.5px,#2aaeb6 6.5px,#6bc2e0 12.5px,#7cc4ea 14.5px,#6eb5eb 16.5px,#4d99e8 20.5px,#55a0e9 24.5px,#7dc4ea 28.5px,#43b8c4 35.5px,#4fbccb 38.5px,#79c3e8 43.5px,#71c2e4 49.5px,#52becc 55.5px,#2baeb2 59.5px,#3cab88 64.5px,#65b15e 67.5px,#b3c040 70.5px,#e0c23e 72.5px,#f19024 76.5px,#f0841b 77.5px,#e7662a 79.5px,#d24d45 81.5px,#c0404b 84.5px,#ac2b34 91.5px,#bf3f4a 99.5px,#d04b46 103.5px,#e15d33 106.5px,#f0831a 111.5px,#ecad36 121.5px,#e2c23e 124.5px,#aec040 127.5px,#76b44f 129.5px,#49ac77 131.5px,#2eaba2 134.5px,#2aaeb6 136.5px,#49bac7 139.5px,#4dbcca 144.5px,#3bb4bf 157.5px,#2fb0b9 181.5px)"></i><i style="top:83px;height:1px;background:linear-gradient(90deg,#48bac7 0.5px,#2eb0b8 2.5px,#2aaeb6 6.5px,#6bc2e0 12.5px,#7cc4ea 14.5px,#6eb5eb 16.5px,#4d99e8 20.5px,#55a0e9 24.5px,#7dc4ea 28.5px,#43b8c4 35.5px,#4fbccb 38.5px,#78c3e8 43.5px,#71c2e4 49.5px,#51bdcc 55.5px,#2badb2 59.5px,#3cab88 64.5px,#65b15e 67.5px,#b3c040 70.5px,#dfc23e 72.5px,#f19125 76.5px,#ed771e 78.5px,#d44d43 81.5px,#c2424e 84.5px,#af2f37 91.5px,#c9474c 101.5px,#dc553b 105.5px,#ef7e19 110.5px,#eab137 122.5px,#d8c23e 125.5px,#99bb46 128.5px,#64b15f 130.5px,#3fab84 132.5px,#2cadab 135.5px,#34b2bc 137.5px,#4dbcca 141.5px,#34b2bc 161.5px,#2baeb7 181.5px)"></i></div>
<div class="fld" style="left:271px;top:21px;width:182px;height:84px"><i style="top:0px;height:1px;background:linear-gradient(90deg,#5e4bc8 0.5px,#594dca 8.5px,#3e55d7 11.5px,#2460de 13.5px,#2b5ddc 15.5px,#4951d2 18.5px,#3f55d6 21.5px,#2360de 23.5px,#1f63e0 26.5px,#4254d5 30.5px,#3f55d6 35.5px,#285edd 38.5px,#4a51d2 44.5px,#4c50d1 59.5px,#1f63e0 81.5px,#4590e7 92.5px,#3179e6 96.5px,#1f64e0 99.5px,#4353d5 106.5px,#5f4bc8 136.5px,#5e4bc8 172.5px,#5a4cca 181.5px)"></i><i style="top:1px;height:1px;background:linear-gradient(90deg,#5f4bc7 0.5px,#594dca 8.5px,#3d56d7 11.5px,#2360de 13.5px,#2b5ddc 15.5px,#4951d3 18.5px,#3e55d6 21.5px,#2360df 23.5px,#1f64e0 26.5px,#4254d5 30.5px,#3f55d6 35.5px,#285edd 38.5px,#4851d3 43.5px,#4d50d0 58.5px,#2b5ddc 74.5px,#2166e1 82.5px,#4590e8 92.5px,#327ae6 96.5px,#2064e1 99.5px,#4353d5 106.5px,#604bc7 137.5px,#5f4bc8 177.5px,#5d4cc9 181.5px)"></i><i style="top:2px;height:1px;background:linear-gradient(90deg,#604bc7 0.5px,#534ecd 9.5px,#2360df 13.5px,#2a5ddc 15.5px,#4851d3 18.5px,#3e55d7 21.5px,#2260df 23.5px,#1f64e0 26.5px,#4254d5 30.5px,#3f55d6 35.5px,#285edd 38.5px,#4951d3 43.5px,#4d50d0 58.5px,#2b5ddc 73.5px,#2267e1 82.5px,#4691e8 92.5px,#327ae6 96.5px,#2064e1 99.5px,#4253d5 106.5px,#624ac6 137.5px,#604bc7 179.5px,#5f4bc7 181.5px)"></i><i style="top:3px;height:1px;background:linear-gradient(90deg,#604bc7 0.5px,#524fce 9.5px,#2261df 13.5px,#295edd 15.5px,#4752d3 18.5px,#3d56d7 21.5px,#2261df 23.5px,#2064e1 26.5px,#4254d5 30.5px,#3f55d6 35.5px,#285edd 38.5px,#4951d3 43.5px,#4d50d1 58.5px,#295ddd 73.5px,#2267e1 82.5px,#4691e8 92.5px,#337be6 96.5px,#2065e1 99.5px,#4453d4 107.5px,#6549c4 142.5px,#614bc7 181.5px)"></i><i style="top:4px;height:1px;background:linear-gradient(90deg,#604bc7 0.5px,#504fcf 9.5px,#2061df 13.5px,#285edd 15.5px,#4652d4 18.5px,#3b56d7 21.5px,#2161df 23.5px,#2064e1 26.5px,#4154d5 30.5px,#3f55d6 35.5px,#285edd 38.5px,#4951d3 43.5px,#4c50d1 58.5px,#295edd 73.5px,#2368e2 82.5px,#4792e8 92.5px,#337ce6 96.5px,#2260df 100.5px,#4254d5 106.5px,#644ac5 140.5px,#624ac6 181.5px)"></i><i style="top:5px;height:1px;background:linear-gradient(90deg,#604bc7 0.5px,#4f50d0 9.5px,#1f62e0 13.5px,#265fdd 15.5px,#4453d5 18.5px,#3a57d8 21.5px,#2061df 23.5px,#2064e1 26.5px,#4353d5 31.5px,#3f55d6 35.5px,#285edd 38.5px,#4851d3 43.5px,#4b51d2 58.5px,#295edd 72.5px,#2166e1 81.5px,#4792e8 92.5px,#347de6 96.5px,#2161df 100.5px,#4154d6 106.5px,#644ac5 141.5px,#614ac6 181.5px)"></i><i style="top:6px;height:1px;background:linear-gradient(90deg,#5f4bc8 0.5px,#4c50d1 9.5px,#1e62e0 13.5px,#305bda 16.5px,#4453d5 19.5px,#2d5cdc 22.5px,#1f61e0 23.5px,#2065e1 26.5px,#4253d5 31.5px,#3e55d6 35.5px,#275edd 38.5px,#4951d2 44.5px,#4a51d2 58.5px,#295edd 72.5px,#2166e1 81.5px,#4893e8 92.5px,#357de6 96.5px,#2061df 100.5px,#4054d6 106.5px,#634ac6 141.5px,#604bc7 181.5px)"></i><i style="top:7px;height:1px;background:linear-gradient(90deg,#5d4cc8 0.5px,#4951d2 9.5px,#1f64e0 13.5px,#2360df 15.5px,#3f55d6 18.5px,#3758d9 21.5px,#1e62e0 23.5px,#2165e1 26.5px,#4154d5 31.5px,#3d56d7 35.5px,#275fdd 38.5px,#4851d3 44.5px,#4652d4 59.5px,#295edd 72.5px,#2266e1 81.5px,#4894e8 92.5px,#367ee6 96.5px,#1f62e0 100.5px,#3f55d6 106.5px,#624ac6 142.5px,#5f4bc8 181.5px)"></i><i style="top:8px;height:1px;background:linear-gradient(90deg,#5b4cc9 0.5px,#4652d4 9.5px,#2161df 12.5px,#2061df 15.5px,#3d56d7 18.5px,#3559d9 21.5px,#1f63e0 23.5px,#2166e1 26.5px,#2e5cdb 28.5px,#4154d6 32.5px,#3459d9 36.5px,#285edd 39.5px,#4552d4 43.5px,#4652d4 58.5px,#285edd 72.5px,#2267e1 81.5px,#4995e8 92.5px,#3780e6 96.5px,#1e63e0 100.5px,#3d55d7 106.5px,#604bc7 142.5px,#5d4cc9 181.5px)"></i><i style="top:9px;height:1px;background:linear-gradient(90deg,#594dcb 0.5px,#4254d5 9.5px,#1f62e0 12.5px,#1e62e0 15.5px,#3c56d7 19.5px,#1f64e0 23.5px,#2267e1 26.5px,#2161df 27.5px,#3b56d7 30.5px,#3957d8 35.5px,#245fde 38.5px,#4552d4 44.5px,#4353d5 58.5px,#285edd 72.5px,#2267e1 81.5px,#4a96e8 92.5px,#3881e7 96.5px,#1f64e0 100.5px,#3d55d7 107.5px,#5e4bc8 144.5px,#5a4cca 181.5px)"></i><i style="top:10px;height:1px;background:linear-gradient(90deg,#564ecc 0.5px,#3d56d7 9.5px,#1f63e0 12.5px,#1f64e0 15.5px,#3858d8 19.5px,#2065e1 23.5px,#2267e1 26.5px,#1f62e0 27.5px,#3957d8 30.5px,#3758d8 35.5px,#2360df 38.5px,#4353d5 44.5px,#4054d6 58.5px,#285edd 73.5px,#2368e2 81.5px,#4b97e8 92.5px,#3982e7 96.5px,#2065e1 100.5px,#3b57d7 108.5px,#594dcb 139.5px,#574dcc 181.5px)"></i><i style="top:11px;height:1px;background:linear-gradient(90deg,#534ece 0.5px,#3758d9 9.5px,#2165e1 12.5px,#2165e1 15.5px,#3459d9 19.5px,#2166e1 23.5px,#2368e2 26.5px,#1e62e0 27.5px,#3957d8 31.5px,#3559d9 35.5px,#2161df 38.5px,#4054d6 44.5px,#3a57d7 59.5px,#1f63e0 79.5px,#3f89e7 88.5px,#4b97e8 93.5px,#2061df 101.5px,#3659d9 107.5px,#3a57d8 113.5px,#504fcf 127.5px,#564ecc 175.5px,#534ece 181.5px)"></i><i style="top:12px;height:1px;background:linear-gradient(90deg,#4f50d0 0.5px,#315ada 9.5px,#1e62e0 11.5px,#256be2 14.5px,#1e62e0 16.5px,#305bdb 19.5px,#2267e1 23.5px,#2469e2 26.5px,#265fde 28.5px,#3658d9 32.5px,#2b5ddc 36.5px,#2161df 39.5px,#3c56d7 44.5px,#3758d9 59.5px,#1f64e0 79.5px,#418be7 88.5px,#4c98e8 93.5px,#1e62e0 101.5px,#325ada 106.5px,#2e5cdb 112.5px,#4652d4 119.5px,#544ecd 163.5px,#4f4fcf 181.5px)"></i><i style="top:13px;height:1px;background:linear-gradient(90deg,#4b51d2 0.5px,#2065e1 11.5px,#2469e2 15.5px,#2a5ddc 20.5px,#1f63e0 22.5px,#256be2 26.5px,#2360df 28.5px,#335ada 32.5px,#285edd 36.5px,#1f62e0 39.5px,#3957d8 44.5px,#2f5bdb 61.5px,#2267e1 80.5px,#509be8 92.5px,#357de6 97.5px,#2161df 102.5px,#2c5cdc 107.5px,#2161df 111.5px,#4154d6 118.5px,#514fce 157.5px,#4b51d2 181.5px)"></i><i style="top:14px;height:1px;background:linear-gradient(90deg,#4652d4 0.5px,#1f63e0 10.5px,#286fe3 14.5px,#1e62e0 17.5px,#255fde 20.5px,#256ae2 23.5px,#266ce3 26.5px,#1f62e0 28.5px,#2f5bdb 32.5px,#1f63e0 39.5px,#3559d9 44.5px,#285edd 63.5px,#2369e2 80.5px,#529de8 92.5px,#3780e6 97.5px,#1e62e0 102.5px,#285edd 107.5px,#2064e1 111.5px,#3e55d6 119.5px,#4e50d0 156.5px,#4652d4 181.5px)"></i><i style="top:15px;height:1px;background:linear-gradient(90deg,#3f55d6 0.5px,#1f63e0 9.5px,#2a71e4 14.5px,#2061df 20.5px,#2a70e4 25.5px,#2260df 29.5px,#275fdd 35.5px,#1f61e0 40.5px,#315bda 45.5px,#2166e1 78.5px,#418be7 87.5px,#549fe9 92.5px,#3982e7 97.5px,#2061df 103.5px,#2460de 107.5px,#1f63e0 112.5px,#3957d8 118.5px,#4951d3 147.5px,#4054d6 181.5px)"></i><i style="top:16px;height:1px;background:linear-gradient(90deg,#3758d8 0.5px,#1f63e0 7.5px,#2c73e5 14.5px,#2064e1 20.5px,#296fe4 26.5px,#2260df 30.5px,#1f63e0 40.5px,#2c5cdc 47.5px,#1f64e0 75.5px,#337ce6 84.5px,#57a1e9 92.5px,#3b84e7 97.5px,#1f63e0 103.5px,#2061e0 113.5px,#3658d9 119.5px,#4652d4 152.5px,#3a57d8 181.5px)"></i><i style="top:17px;height:1px;background:linear-gradient(90deg,#2f5bdb 0.5px,#1f63e0 4.5px,#2c73e5 15.5px,#2469e2 21.5px,#2b71e4 26.5px,#1f61e0 33.5px,#2166e1 40.5px,#2061df 57.5px,#296fe4 80.5px,#59a3e9 92.5px,#367ee6 98.5px,#1e62e0 105.5px,#2267e1 112.5px,#3957d8 125.5px,#3c56d7 167.5px,#3459d9 181.5px)"></i><i style="top:18px;height:1px;background:linear-gradient(90deg,#265fde 0.5px,#2368e2 4.5px,#2e76e5 15.5px,#276de3 21.5px,#2c74e5 26.5px,#2065e1 34.5px,#2368e2 40.5px,#2064e1 57.5px,#2b72e4 80.5px,#5ca5e9 92.5px,#3882e7 98.5px,#2267e1 104.5px,#2165e1 113.5px,#3a57d8 133.5px,#325ada 172.5px,#2e5cdb 181.5px)"></i><i style="top:19px;height:1px;background:linear-gradient(90deg,#1f63e0 0.5px,#337be6 14.5px,#2a71e4 21.5px,#2e76e5 26.5px,#2368e2 34.5px,#2368e2 41.5px,#2c73e5 79.5px,#5ea8e9 91.5px,#509ce8 95.5px,#286fe3 102.5px,#266ce3 109.5px,#2460de 116.5px,#3658d9 140.5px,#285edd 181.5px)"></i><i style="top:20px;height:1px;background:linear-gradient(90deg,#2368e2 0.5px,#347de6 15.5px,#2f76e6 22.5px,#2e76e5 27.5px,#296fe4 37.5px,#266ce3 56.5px,#3078e6 79.5px,#62aaea 91.5px,#549fe9 95.5px,#2b72e4 102.5px,#286ee3 109.5px,#2260df 117.5px,#325ada 142.5px,#2360df 181.5px)"></i><i style="top:21px;height:1px;background:linear-gradient(90deg,#286ee3 0.5px,#3a83e7 14.5px,#337be6 22.5px,#3179e6 27.5px,#276ee3 52.5px,#357ee6 79.5px,#65adea 91.5px,#58a2e9 95.5px,#2e75e5 102.5px,#2369e2 114.5px,#265fde 123.5px,#2b5ddc 158.5px,#1e62e0 181.5px)"></i><i style="top:22px;height:1px;background:linear-gradient(90deg,#2c74e5 0.5px,#3e88e7 11.5px,#337be6 28.5px,#2b72e4 53.5px,#3a83e7 78.5px,#69b0ea 91.5px,#559fe9 96.5px,#2f76e6 103.5px,#266be3 114.5px,#2260df 124.5px,#265fde 159.5px,#2166e1 181.5px)"></i><i style="top:23px;height:1px;background:linear-gradient(90deg,#327ae6 0.5px,#448ee7 9.5px,#2e75e5 50.5px,#438de7 79.5px,#6cb3ea 90.5px,#61aaea 95.5px,#367fe6 102.5px,#2f77e6 110.5px,#2061e0 126.5px,#2469e2 181.5px)"></i><i style="top:24px;height:1px;background:linear-gradient(90deg,#3983e7 0.5px,#4995e8 9.5px,#327ae6 49.5px,#4c98e8 80.5px,#70b6eb 89.5px,#65adea 95.5px,#3c85e7 102.5px,#327ae6 109.5px,#1f63e0 130.5px,#266ce3 181.5px)"></i><i style="top:25px;height:1px;background:linear-gradient(90deg,#408be7 0.5px,#519de8 9.5px,#4995e8 16.5px,#3780e6 47.5px,#529de8 78.5px,#75bbeb 89.5px,#64adea 96.5px,#3e88e7 103.5px,#2267e1 127.5px,#2970e4 181.5px)"></i><i style="top:26px;height:1px;background:linear-gradient(90deg,#4793e8 0.5px,#5da6e9 8.5px,#4c97e8 15.5px,#509be8 20.5px,#3d86e7 42.5px,#5aa4e9 76.5px,#7bbfec 88.5px,#64adea 97.5px,#418be7 104.5px,#266be3 127.5px,#2d74e5 181.5px)"></i><i style="top:27px;height:1px;background:linear-gradient(90deg,#4f9be8 0.5px,#66aeea 8.5px,#4e9ae8 14.5px,#5ca5e9 19.5px,#4a95e8 26.5px,#438ee7 36.5px,#4691e8 50.5px,#75bbeb 81.5px,#7fc3ec 89.5px,#65adea 98.5px,#448fe7 105.5px,#2a71e4 126.5px,#3078e6 180.5px,#3179e6 181.5px)"></i><i style="top:28px;height:1px;background:linear-gradient(90deg,#5aa4e9 0.5px,#6fb6eb 8.5px,#539ee9 14.5px,#65adea 19.5px,#4e99e8 26.5px,#509ce8 33.5px,#4590e8 40.5px,#7dc4ea 83.5px,#77bdeb 95.5px,#4792e8 107.5px,#2f77e6 127.5px,#327be6 177.5px,#3780e7 181.5px)"></i><i style="top:29px;height:1px;background:linear-gradient(90deg,#64acea 0.5px,#76bceb 8.5px,#57a1e9 14.5px,#6db4eb 19.5px,#529de8 25.5px,#5ca5e9 32.5px,#4994e8 39.5px,#80c4ec 73.5px,#7bc3e9 89.5px,#78bdeb 97.5px,#4995e8 109.5px,#3882e7 125.5px,#357de6 151.5px,#3881e7 160.5px,#3e88e7 181.5px)"></i><i style="top:30px;height:1px;background:linear-gradient(90deg,#6db4eb 0.5px,#7cc0ec 8.5px,#5ba5e9 14.5px,#73b9eb 19.5px,#57a1e9 25.5px,#65adea 31.5px,#4f9be8 39.5px,#64adea 47.5px,#7ec4eb 61.5px,#76c3e7 88.5px,#7ec2ec 97.5px,#4d99e8 111.5px,#438de7 119.5px,#3f8ae7 129.5px,#3f8ae7 138.5px,#3c86e7 150.5px,#448fe7 158.5px,#428de7 169.5px,#4691e8 181.5px)"></i><i style="top:31px;height:1px;background:linear-gradient(90deg,#75bbeb 0.5px,#80c4ec 8.5px,#5ea7e9 14.5px,#78bdeb 18.5px,#6cb3ea 22.5px,#5ba4e9 25.5px,#6bb3ea 31.5px,#5ca6e9 36.5px,#57a2e9 39.5px,#70b7eb 46.5px,#7ec4eb 54.5px,#6dc2e1 82.5px,#7ec3ec 99.5px,#57a1e9 111.5px,#58a2e9 116.5px,#4893e8 122.5px,#4b97e8 128.5px,#4793e8 133.5px,#4995e8 138.5px,#448fe7 149.5px,#519de8 157.5px,#4793e8 167.5px,#509be8 173.5px,#4f9be8 181.5px)"></i><i style="top:32px;height:1px;background:linear-gradient(90deg,#7cc1ec 0.5px,#7cc1ec 10.5px,#63abea 13.5px,#7cc0ec 19.5px,#5fa8e9 25.5px,#71b7eb 32.5px,#5ca5e9 38.5px,#80c4ec 47.5px,#65c1da 70.5px,#71c2e3 88.5px,#80c4ec 100.5px,#69b1ea 108.5px,#62abea 112.5px,#64acea 116.5px,#539ee9 123.5px,#5aa3e9 128.5px,#4f9be8 132.5px,#5aa4e9 137.5px,#4b97e8 143.5px,#55a0e9 152.5px,#5fa8e9 157.5px,#529de8 166.5px,#5fa8e9 173.5px,#5ea7e9 181.5px)"></i><i style="top:33px;height:1px;background:linear-gradient(90deg,#7fc4eb 0.5px,#7abfec 11.5px,#6bb3ea 14.5px,#80c4ec 18.5px,#68afea 26.5px,#75bbeb 34.5px,#64adea 38.5px,#80c4ec 43.5px,#59c0d1 67.5px,#6ac2df 87.5px,#7ac3e9 94.5px,#7dc2ec 106.5px,#69b1ea 111.5px,#6cb3ea 117.5px,#65adea 125.5px,#60a9ea 133.5px,#62abea 138.5px,#5da6e9 148.5px,#68b0ea 158.5px,#65adea 168.5px,#6db4eb 181.5px)"></i><i style="top:34px;height:1px;background:linear-gradient(90deg,#7cc4ea 0.5px,#7cc1ec 12.5px,#7bbfec 15.5px,#7abfec 22.5px,#6fb6eb 26.5px,#79beeb 35.5px,#71b7eb 39.5px,#7dc4ea 42.5px,#46b9c6 66.5px,#67c1dc 87.5px,#78c3e8 94.5px,#7dc2ec 108.5px,#73b9eb 112.5px,#6fb5eb 128.5px,#6fb6eb 152.5px,#7bc0ec 181.5px)"></i><i style="top:35px;height:1px;background:linear-gradient(90deg,#79c3e8 0.5px,#79beeb 24.5px,#7dc1ec 36.5px,#7cc4ea 41.5px,#32b1bb 63.5px,#3cb5c0 73.5px,#6dc2e1 89.5px,#75c3e6 95.5px,#7cc4ea 108.5px,#78bdeb 127.5px,#7bc3e9 181.5px)"></i><i style="top:36px;height:1px;background:linear-gradient(90deg,#77c3e7 0.5px,#7fc4eb 24.5px,#77c3e7 41.5px,#3bb5bf 54.5px,#2baeb2 60.5px,#2baeb7 73.5px,#6bc2e0 89.5px,#75c3e6 94.5px,#74c3e5 107.5px,#7ec4eb 113.5px,#7dc4ea 124.5px,#7ac3e8 164.5px,#74c3e5 181.5px)"></i><i style="top:37px;height:1px;background:linear-gradient(90deg,#75c3e6 0.5px,#75c3e6 9.5px,#77c3e7 18.5px,#7dc4ea 33.5px,#72c2e4 41.5px,#2aaeb5 54.5px,#2daca5 67.5px,#30b0b9 78.5px,#74c3e5 92.5px,#74c3e5 100.5px,#6fc2e3 107.5px,#7bc3e9 113.5px,#75c3e6 123.5px,#7dc4eb 138.5px,#78c3e8 152.5px,#76c3e6 161.5px,#73c3e5 174.5px,#6dc2e1 181.5px)"></i><i style="top:38px;height:1px;background:linear-gradient(90deg,#74c3e5 0.5px,#74c3e5 9.5px,#70c2e3 16.5px,#7fc4ec 31.5px,#6fc2e3 41.5px,#2aaeb5 51.5px,#2faa9b 64.5px,#2aaeb5 79.5px,#52becd 86.5px,#73c3e5 92.5px,#72c2e4 100.5px,#6bc2df 107.5px,#78c3e8 112.5px,#6fc2e3 122.5px,#78c3e8 129.5px,#78c3e8 139.5px,#74c3e5 152.5px,#75c3e6 159.5px,#70c2e3 169.5px,#6fc2e2 174.5px,#67c1dc 181.5px)"></i><i style="top:39px;height:1px;background:linear-gradient(90deg,#73c3e5 0.5px,#73c3e5 9.5px,#6ec2e2 16.5px,#77c3e7 23.5px,#7dc4ea 32.5px,#6cc2e1 41.5px,#2aaeb5 49.5px,#35aa92 62.5px,#2eaba0 74.5px,#2dafb8 82.5px,#70c2e3 91.5px,#71c2e4 100.5px,#67c1dc 107.5px,#76c3e6 112.5px,#6bc2df 122.5px,#78c3e7 128.5px,#75c3e6 139.5px,#6fc2e2 151.5px,#75c3e6 158.5px,#69c2de 168.5px,#6fc2e2 173.5px,#60c1d7 179.5px,#61c1d8 181.5px)"></i><i style="top:40px;height:1px;background:linear-gradient(90deg,#72c2e4 0.5px,#72c2e4 9.5px,#6cc2e0 16.5px,#75c3e6 23.5px,#7dc4ea 32.5px,#6ac2df 41.5px,#2dafb8 47.5px,#3aab8b 60.5px,#36aa90 71.5px,#2aaeb6 83.5px,#6ac2df 90.5px,#6ec2e2 95.5px,#6bc2e0 103.5px,#64c1da 107.5px,#74c3e5 112.5px,#66c1db 121.5px,#76c3e6 128.5px,#77c3e7 138.5px,#6ac2df 150.5px,#76c3e6 157.5px,#63c1d9 167.5px,#6fc2e2 172.5px,#5bc0d2 178.5px,#5dc0d4 181.5px)"></i><i style="top:41px;height:1px;background:linear-gradient(90deg,#71c2e4 0.5px,#71c2e4 9.5px,#68c1dd 15.5px,#75c3e6 22.5px,#7dc4ea 32.5px,#67c1dd 41.5px,#2cafb7 46.5px,#3fab84 59.5px,#40ab83 69.5px,#2baeb7 84.5px,#69c2de 90.5px,#70c2e3 94.5px,#6cc2e0 99.5px,#69c2de 103.5px,#61c1d7 107.5px,#72c2e4 112.5px,#67c1dc 117.5px,#67c1dc 123.5px,#75c3e6 128.5px,#76c3e6 138.5px,#66c1dc 149.5px,#75c3e6 157.5px,#60c1d6 167.5px,#6dc2e1 172.5px,#56bfcf 178.5px,#59c0d1 181.5px)"></i><i style="top:42px;height:1px;background:linear-gradient(90deg,#71c2e3 0.5px,#74c3e5 8.5px,#65c1db 15.5px,#74c3e5 22.5px,#7ec4eb 32.5px,#6ec2e2 40.5px,#4bbbc9 43.5px,#2eb0b8 45.5px,#3aab8b 54.5px,#4aac76 65.5px,#32aa95 77.5px,#2fb0b9 85.5px,#60c1d7 89.5px,#71c2e3 93.5px,#6bc2df 99.5px,#6dc2e1 102.5px,#5cc0d3 106.5px,#70c2e3 114.5px,#5fc1d6 120.5px,#74c3e6 128.5px,#77c3e7 134.5px,#6cc2e1 141.5px,#68c1dd 151.5px,#74c3e5 157.5px,#5dc0d4 167.5px,#6bc2df 172.5px,#50bdcb 178.5px,#55bfcf 181.5px)"></i><i style="top:43px;height:1px;background:linear-gradient(90deg,#70c2e3 0.5px,#74c3e5 8.5px,#63c1d9 14.5px,#73c3e5 22.5px,#7ec4eb 32.5px,#6cc2e1 40.5px,#59c0d0 42.5px,#2aaeb4 45.5px,#47ac79 57.5px,#54ae6d 66.5px,#2faa9c 80.5px,#2aaeb5 85.5px,#5fc1d6 89.5px,#70c2e3 93.5px,#6ac2df 99.5px,#6cc2e1 102.5px,#59c0d1 106.5px,#6ec2e2 115.5px,#5dc0d4 120.5px,#74c3e5 128.5px,#77c3e7 134.5px,#6fc2e2 140.5px,#64c1da 150.5px,#73c3e5 157.5px,#5bc0d2 166.5px,#69c2de 172.5px,#4bbbc9 178.5px,#51bdcc 181.5px)"></i><i style="top:44px;height:1px;background:linear-gradient(90deg,#70c2e3 0.5px,#73c3e5 8.5px,#61c1d7 14.5px,#72c2e4 22.5px,#7ec4eb 32.5px,#6bc2e0 40.5px,#55bfce 42.5px,#2dafb8 44.5px,#3aab8b 51.5px,#5db065 62.5px,#50ad71 71.5px,#2daca6 83.5px,#32b1ba 86.5px,#5dc0d4 89.5px,#70c2e3 93.5px,#69c2de 99.5px,#6bc2e0 102.5px,#55bfce 107.5px,#6cc2e0 115.5px,#5bc0d3 120.5px,#73c3e5 128.5px,#77c3e7 134.5px,#6ec2e2 140.5px,#63c1d9 150.5px,#73c3e5 157.5px,#59c0d1 166.5px,#68c1dd 172.5px,#48bac7 177.5px,#4dbcca 181.5px)"></i><i style="top:45px;height:1px;background:linear-gradient(90deg,#6fc2e2 0.5px,#72c2e4 8.5px,#5fc1d6 14.5px,#71c2e4 22.5px,#7fc4eb 32.5px,#6ac2df 40.5px,#50bdcc 42.5px,#2aaeb4 44.5px,#45ac7b 53.5px,#66b25c 63.5px,#54ae6d 72.5px,#2eaba3 83.5px,#2dafb8 86.5px,#5cc0d3 89.5px,#6fc2e3 93.5px,#68c1dd 99.5px,#6bc2df 102.5px,#4ebcca 107.5px,#6ac2df 115.5px,#59c0d1 120.5px,#73c3e5 128.5px,#77c3e7 134.5px,#6dc2e2 140.5px,#62c1d8 150.5px,#72c2e4 157.5px,#57bfcf 166.5px,#67c1dc 172.5px,#44b8c5 177.5px,#4abac8 181.5px)"></i><i style="top:46px;height:1px;background:linear-gradient(90deg,#6ec2e2 0.5px,#72c2e4 8.5px,#5dc0d4 14.5px,#70c2e3 22.5px,#7fc4eb 32.5px,#69c2de 40.5px,#4cbbc9 42.5px,#35b2bc 43.5px,#2daca8 45.5px,#60b062 57.5px,#6db356 66.5px,#47ac7a 76.5px,#2aaeb6 86.5px,#64c1d9 90.5px,#6dc2e1 94.5px,#67c1dc 99.5px,#6ac2de 102.5px,#48bac7 107.5px,#50bdcb 111.5px,#68c1dd 115.5px,#57c0cf 120.5px,#72c2e4 128.5px,#76c3e6 134.5px,#70c2e3 139.5px,#5ec1d5 149.5px,#71c2e4 157.5px,#54bece 166.5px,#66c1db 172.5px,#41b7c3 177.5px,#46b9c6 181.5px)"></i><i style="top:47px;height:1px;background:linear-gradient(90deg,#6dc2e1 0.5px,#71c2e4 8.5px,#5bc0d3 14.5px,#70c2e3 21.5px,#74c3e5 26.5px,#7fc4eb 32.5px,#68c1dd 40.5px,#48bac7 42.5px,#30b0b9 43.5px,#38ab8e 48.5px,#6eb355 59.5px,#72b451 67.5px,#42ac80 78.5px,#2aaeb4 86.5px,#63c1d9 90.5px,#6cc2e1 94.5px,#66c1dc 99.5px,#69c2de 102.5px,#44b8c4 107.5px,#4abac8 111.5px,#65c1db 114.5px,#52becd 120.5px,#72c2e4 127.5px,#72c2e4 133.5px,#73c3e5 138.5px,#5bc0d3 148.5px,#70c2e3 157.5px,#50bdcc 166.5px,#65c1db 172.5px,#3fb6c2 177.5px,#43b8c4 181.5px)"></i><i style="top:48px;height:1px;background:linear-gradient(90deg,#6bc2e0 0.5px,#70c2e3 8.5px,#59c0d1 14.5px,#6fc2e3 21.5px,#73c3e5 26.5px,#7fc4eb 32.5px,#66c1dc 40.5px,#44b8c5 42.5px,#2baeb6 43.5px,#40ab83 49.5px,#72b452 58.5px,#7db64e 65.5px,#67b25c 72.5px,#2eaba1 84.5px,#2badb2 86.5px,#62c1d8 90.5px,#6cc2e0 94.5px,#62c1d8 98.5px,#68c1dd 102.5px,#40b6c2 107.5px,#46b9c6 111.5px,#64c1da 114.5px,#5ac0d1 117.5px,#4dbcca 120.5px,#70c2e3 127.5px,#6cc2e0 132.5px,#75c3e6 137.5px,#5ac0d1 146.5px,#62c1d8 152.5px,#70c2e3 156.5px,#4dbcca 166.5px,#64c1da 172.5px,#3cb5c0 177.5px,#3fb6c2 181.5px)"></i><i style="top:49px;height:1px;background:linear-gradient(90deg,#69c2de 0.5px,#70c2e3 8.5px,#57c0cf 14.5px,#6fc2e2 21.5px,#73c3e5 26.5px,#80c4ec 31.5px,#65c1db 40.5px,#59c0d1 41.5px,#2aaeb4 43.5px,#48ac78 50.5px,#78b54f 58.5px,#88b84b 64.5px,#6cb357 72.5px,#2fab9f 84.5px,#32b1ba 87.5px,#58c0d0 89.5px,#6dc2e1 93.5px,#61c1d7 98.5px,#67c1dc 102.5px,#3cb5c0 107.5px,#41b7c3 111.5px,#62c1d8 114.5px,#57c0cf 117.5px,#47b9c7 120.5px,#6fc2e2 127.5px,#69c2de 132.5px,#74c3e5 137.5px,#53becd 147.5px,#64c1da 153.5px,#6dc2e1 157.5px,#49bac8 165.5px,#51bdcc 168.5px,#63c1d9 172.5px,#39b4be 177.5px,#3ab4bf 181.5px)"></i><i style="top:50px;height:1px;background:linear-gradient(90deg,#67c1dd 0.5px,#6fc2e2 8.5px,#54bece 14.5px,#6ec2e2 21.5px,#72c2e4 26.5px,#7fc4ec 31.5px,#64c1d9 40.5px,#57c0d0 41.5px,#2badb1 43.5px,#4ead72 50.5px,#7ab54e 57.5px,#96bb47 63.5px,#6bb258 73.5px,#2fab9d 84.5px,#2fb0b9 87.5px,#56bfcf 89.5px,#6bc2e0 92.5px,#63c1d9 99.5px,#66c1db 102.5px,#38b3be 107.5px,#3db6c1 111.5px,#61c1d7 114.5px,#5dc0d4 116.5px,#42b7c3 119.5px,#4fbccb 123.5px,#6dc2e1 127.5px,#66c1db 132.5px,#72c2e4 137.5px,#4cbbc9 147.5px,#5cc0d3 152.5px,#6dc2e1 156.5px,#45b8c5 165.5px,#4ebcca 168.5px,#63c1d9 171.5px,#54bece 174.5px,#36b3bd 177.5px,#36b3bd 181.5px)"></i><i style="top:51px;height:1px;background:linear-gradient(90deg,#65c1db 0.5px,#6ec2e2 8.5px,#51bdcc 14.5px,#6dc2e1 21.5px,#6dc2e1 25.5px,#7fc4ec 31.5px,#62c1d8 40.5px,#54bece 41.5px,#37b3bd 42.5px,#2cadae 43.5px,#4aac76 49.5px,#7bb54e 56.5px,#98bb47 61.5px,#a6be43 63.5px,#82b74c 69.5px,#62b160 75.5px,#2fab9c 84.5px,#2dafb7 87.5px,#5fc1d6 90.5px,#6cc2e0 93.5px,#5fc1d6 98.5px,#65c1da 102.5px,#34b2bc 107.5px,#39b4bf 111.5px,#5fc1d6 114.5px,#5bc0d2 116.5px,#3cb5c0 119.5px,#49bac7 123.5px,#6bc2df 127.5px,#63c1d9 132.5px,#72c2e4 136.5px,#44b8c5 147.5px,#4fbccb 151.5px,#6bc2df 156.5px,#41b7c3 164.5px,#4bbbc8 168.5px,#62c1d8 171.5px,#52becd 174.5px,#33b2bb 177.5px,#32b1ba 181.5px)"></i><i style="top:52px;height:1px;background:linear-gradient(90deg,#63c1d9 0.5px,#71c2e3 7.5px,#4dbcca 14.5px,#6cc2e1 21.5px,#6cc2e0 25.5px,#7fc4eb 31.5px,#60c1d7 40.5px,#50bdcc 41.5px,#33b1bb 42.5px,#2fab9f 44.5px,#6eb355 53.5px,#96bb47 60.5px,#b2c040 62.5px,#aec041 64.5px,#8eb949 67.5px,#6bb258 74.5px,#30aa9a 84.5px,#2aaeb6 87.5px,#5ec1d5 90.5px,#6bc2df 93.5px,#5ec1d5 98.5px,#64c1da 102.5px,#30b0b9 107.5px,#35b2bc 111.5px,#5dc0d4 114.5px,#59c0d1 116.5px,#36b3bd 119.5px,#42b7c4 123.5px,#65c1da 126.5px,#5fc1d6 132.5px,#70c2e3 136.5px,#3fb6c2 146.5px,#41b7c3 150.5px,#68c1dd 155.5px,#5ac0d2 159.5px,#3eb6c2 163.5px,#40b7c2 167.5px,#61c1d7 171.5px,#50bdcc 174.5px,#31b1ba 177.5px,#2dafb8 181.5px)"></i><i style="top:53px;height:1px;background:linear-gradient(90deg,#62c1d8 0.5px,#70c2e3 7.5px,#4abbc8 14.5px,#6bc2e0 21.5px,#6bc2df 25.5px,#7ec4eb 31.5px,#5fc1d6 40.5px,#2eb0b9 42.5px,#35aa91 45.5px,#73b451 53.5px,#9ebc45 60.5px,#bdc13f 62.5px,#c1c13f 63.5px,#92ba48 67.5px,#68b25b 75.5px,#30aa99 84.5px,#2aaeb5 87.5px,#5ec1d5 90.5px,#6ac2df 93.5px,#5dc0d4 98.5px,#63c1d9 102.5px,#2dafb8 107.5px,#31b1ba 111.5px,#5cc0d3 114.5px,#56bfcf 116.5px,#30b1ba 119.5px,#3cb5c0 123.5px,#62c1d8 126.5px,#5cc0d3 132.5px,#6fc2e2 136.5px,#3bb5c0 145.5px,#3bb5c0 150.5px,#65c1db 155.5px,#57bfcf 159.5px,#39b4bf 163.5px,#3cb5c0 167.5px,#60c1d7 171.5px,#5bc0d2 173.5px,#2eafb8 177.5px,#2aaeb5 181.5px)"></i><i style="top:54px;height:1px;background:linear-gradient(90deg,#60c1d7 0.5px,#6fc2e3 7.5px,#47b9c7 14.5px,#6bc2df 21.5px,#6ac2df 25.5px,#7ec4eb 31.5px,#5dc0d4 40.5px,#2aaeb6 42.5px,#46ac7b 47.5px,#77b54f 53.5px,#98bb46 59.5px,#c7c13f 62.5px,#cbc13f 63.5px,#95bb47 67.5px,#6ab259 75.5px,#30aa97 84.5px,#2aaeb4 87.5px,#5dc0d4 90.5px,#6ac2de 93.5px,#5cc0d3 98.5px,#62c1d8 102.5px,#2fb0b9 106.5px,#2eb0b8 111.5px,#5bc0d2 114.5px,#53becd 116.5px,#2bafb7 119.5px,#2eb0b8 122.5px,#60c1d7 126.5px,#5ac0d2 129.5px,#52becd 131.5px,#6dc2e1 136.5px,#38b3be 144.5px,#31b1ba 149.5px,#48bac7 152.5px,#64c1d9 155.5px,#5cc0d3 158.5px,#37b3bd 162.5px,#39b4be 167.5px,#5fc1d6 171.5px,#5ac0d2 173.5px,#2baeb7 177.5px,#2baeb3 181.5px)"></i><i style="top:55px;height:1px;background:linear-gradient(90deg,#5fc1d6 0.5px,#6ec2e2 7.5px,#45b9c6 13.5px,#4cbbc9 16.5px,#69c2de 20.5px,#69c2de 25.5px,#7ec4eb 30.5px,#64c1d9 39.5px,#5cc0d3 40.5px,#2aaeb4 42.5px,#48ac78 47.5px,#7db64e 53.5px,#9cbc45 59.5px,#d0c13f 62.5px,#d4c13f 63.5px,#a1bd44 66.5px,#6db357 75.5px,#31aa96 84.5px,#2baeb3 87.5px,#5cc0d4 90.5px,#69c2de 93.5px,#5bc0d3 98.5px,#61c1d7 102.5px,#2dafb8 106.5px,#2baeb7 111.5px,#59c0d1 114.5px,#50bdcc 116.5px,#2fb0b9 118.5px,#2aaeb6 122.5px,#3fb6c2 124.5px,#5ec1d5 126.5px,#58c0d0 129.5px,#4dbcca 131.5px,#6bc2e0 136.5px,#4cbbc9 140.5px,#30b0b9 145.5px,#30b0b9 150.5px,#62c1d8 155.5px,#5ac0d2 158.5px,#32b1bb 162.5px,#35b2bc 167.5px,#5ec1d5 171.5px,#59c0d1 173.5px,#30b0b9 176.5px,#2badb1 181.5px)"></i><i style="top:56px;height:1px;background:linear-gradient(90deg,#5ec1d5 0.5px,#6ec2e2 7.5px,#42b8c4 13.5px,#4abac8 16.5px,#69c2de 20.5px,#68c1dd 25.5px,#7dc4ea 30.5px,#62c1d8 39.5px,#5ac0d2 40.5px,#2badb2 42.5px,#4cad74 47.5px,#7ab54e 52.5px,#94ba47 57.5px,#9fbd44 59.5px,#d8c23e 62.5px,#ddc23e 63.5px,#a5be43 66.5px,#6fb355 75.5px,#2fab9e 85.5px,#2badb2 87.5px,#5cc0d3 90.5px,#69c2de 93.5px,#5bc0d2 98.5px,#61c1d7 102.5px,#2baeb6 106.5px,#2aaeb5 111.5px,#58c0d0 114.5px,#59c0d1 115.5px,#2baeb7 118.5px,#2cafb7 123.5px,#5cc0d4 126.5px,#5dc0d4 128.5px,#48bac7 131.5px,#6ac2df 136.5px,#56bfcf 139.5px,#37b3be 142.5px,#2aaeb5 149.5px,#40b7c2 152.5px,#61c1d7 155.5px,#58c0d0 158.5px,#2eb0b8 162.5px,#32b1bb 167.5px,#5dc0d4 171.5px,#58c0d0 173.5px,#2dafb8 176.5px,#2badaf 181.5px)"></i><i style="top:57px;height:1px;background:linear-gradient(90deg,#5dc0d4 0.5px,#6dc2e1 7.5px,#3fb6c2 13.5px,#47b9c7 16.5px,#68c1dd 20.5px,#67c1dd 25.5px,#7dc4ea 30.5px,#61c1d7 39.5px,#58c0d0 40.5px,#2badaf 42.5px,#50ae70 47.5px,#81b74c 52.5px,#97bb47 55.5px,#a3bd44 59.5px,#e0c23e 62.5px,#e3c13d 63.5px,#9ebc45 67.5px,#6bb258 76.5px,#2fab9c 85.5px,#2badb1 87.5px,#5bc0d3 90.5px,#68c1dd 93.5px,#5ac0d2 98.5px,#60c1d7 102.5px,#2aaeb5 106.5px,#2aaeb4 111.5px,#57c0cf 114.5px,#59c0d0 115.5px,#2aaeb5 118.5px,#2badb1 122.5px,#2aaeb5 123.5px,#5bc0d3 126.5px,#5bc0d3 128.5px,#45b8c5 131.5px,#67c1dc 135.5px,#5ec1d5 138.5px,#35b2bc 142.5px,#2baeb3 148.5px,#31b1ba 151.5px,#5fc1d6 155.5px,#56bfcf 158.5px,#30b0ba 161.5px,#2fb0b9 167.5px,#5dc0d4 171.5px,#57bfcf 173.5px,#2aaeb6 176.5px,#2cadad 181.5px)"></i><i style="top:58px;height:1px;background:linear-gradient(90deg,#5dc0d4 0.5px,#6cc2e0 7.5px,#3cb5c0 13.5px,#45b9c5 16.5px,#68c1dd 20.5px,#67c1dc 25.5px,#7cc4ea 30.5px,#5fc1d6 39.5px,#56bfcf 40.5px,#3ab4bf 41.5px,#2cadad 42.5px,#54ae6d 47.5px,#8bb94a 52.5px,#a3bd43 54.5px,#9dbc45 58.5px,#b8c040 60.5px,#e3bf3d 62.5px,#dbc23e 64.5px,#aec041 66.5px,#96bb47 69.5px,#6db356 76.5px,#2faa9b 85.5px,#2badb0 87.5px,#4abac8 89.5px,#62c1d8 91.5px,#66c1db 94.5px,#5ac0d1 98.5px,#60c1d6 102.5px,#2aaeb5 106.5px,#2baeb3 111.5px,#46b9c6 113.5px,#55bfcf 114.5px,#58c0d0 115.5px,#2aaeb4 118.5px,#2badb0 122.5px,#34b2bc 124.5px,#5ac0d2 126.5px,#5ac0d2 128.5px,#44b8c4 130.5px,#49bac7 132.5px,#66c1dc 135.5px,#5dc0d4 138.5px,#33b1bb 142.5px,#2aaeb5 150.5px,#4bbbc8 153.5px,#5fc1d5 155.5px,#54bece 158.5px,#2dafb8 161.5px,#2cafb7 167.5px,#5cc0d3 171.5px,#55bfce 173.5px,#2aaeb5 176.5px,#2cacab 181.5px)"></i><i style="top:59px;height:1px;background:linear-gradient(90deg,#5dc0d4 0.5px,#6bc2e0 7.5px,#38b4be 13.5px,#43b8c4 16.5px,#67c1dc 20.5px,#66c1dc 25.5px,#7cc4ea 30.5px,#5ec1d5 39.5px,#52becd 40.5px,#37b3bd 41.5px,#2cacab 42.5px,#4dad73 46.5px,#83b74c 51.5px,#aabf42 53.5px,#b2c040 54.5px,#9ebc45 57.5px,#aabf42 59.5px,#e5bb3b 62.5px,#e6b83a 63.5px,#e1c23e 64.5px,#b2c040 66.5px,#99bb46 69.5px,#69b25a 77.5px,#30aa9a 85.5px,#2badaf 87.5px,#33b2bb 88.5px,#5ac0d2 90.5px,#68c1dd 93.5px,#59c0d1 98.5px,#5fc1d6 102.5px,#2aaeb4 106.5px,#2baeb2 111.5px,#31b1ba 112.5px,#54bfce 114.5px,#56bfcf 115.5px,#2baeb3 118.5px,#2cadae 122.5px,#32b1ba 124.5px,#59c0d1 126.5px,#59c0d1 128.5px,#41b7c3 130.5px,#46b9c6 132.5px,#65c1db 135.5px,#5cc0d4 138.5px,#32b1ba 142.5px,#2aaeb4 150.5px,#3ab4bf 152.5px,#58c0d0 154.5px,#5cc0d3 157.5px,#2aaeb6 161.5px,#2aaeb6 167.5px,#5bc0d2 171.5px,#53becd 173.5px,#32b1ba 175.5px,#2cadab 179.5px,#2daca9 181.5px)"></i><i style="top:60px;height:1px;background:linear-gradient(90deg,#5dc0d4 0.5px,#6ac2df 7.5px,#51bdcc 10.5px,#34b2bc 13.5px,#40b7c2 16.5px,#62c1d8 19.5px,#66c1db 25.5px,#7cc4ea 30.5px,#5cc0d3 39.5px,#4fbdcb 40.5px,#33b1bb 41.5px,#31aa96 43.5px,#70b354 49.5px,#8bb94a 51.5px,#b7c040 53.5px,#bdc13f 54.5px,#a1bd44 57.5px,#aec040 59.5px,#dcc23e 61.5px,#e8b539 63.5px,#e3bf3d 64.5px,#a8be42 67.5px,#6bb258 77.5px,#30aa99 85.5px,#31b1ba 88.5px,#59c0d1 90.5px,#67c1dc 93.5px,#59c0d1 98.5px,#5fc1d6 102.5px,#31b1ba 105.5px,#2cadae 110.5px,#30b0b9 112.5px,#53becd 114.5px,#55bfcf 115.5px,#33b1bb 117.5px,#2cadab 120.5px,#30b0b9 124.5px,#58c0d0 126.5px,#58c0d0 128.5px,#3fb6c2 130.5px,#44b8c5 132.5px,#65c1da 135.5px,#5cc0d3 138.5px,#31b1ba 142.5px,#2aaeb4 150.5px,#39b4bf 152.5px,#57c0d0 154.5px,#5bc0d2 157.5px,#2aaeb5 161.5px,#2aaeb4 167.5px,#5ac0d1 171.5px,#51bdcc 173.5px,#2fb0b9 175.5px,#2daca7 181.5px)"></i><i style="top:61px;height:1px;background:linear-gradient(90deg,#5dc0d4 0.5px,#66c1dc 5.5px,#64c1da 8.5px,#30b0b9 13.5px,#3db6c1 16.5px,#61c1d7 19.5px,#65c1db 25.5px,#7bc3e9 30.5px,#5ac0d2 39.5px,#4cbbc9 40.5px,#2fb0b9 41.5px,#33aa93 43.5px,#6bb258 48.5px,#92ba48 51.5px,#c1c13f 53.5px,#c7c13f 54.5px,#a5be43 57.5px,#b2c040 59.5px,#e2c23e 61.5px,#eab137 63.5px,#e5bb3b 64.5px,#acbf41 67.5px,#6fb355 77.5px,#2eaba2 86.5px,#30b0b9 88.5px,#59c0d1 90.5px,#67c1dc 93.5px,#59c0d0 98.5px,#5fc1d6 102.5px,#30b0b9 105.5px,#2cadae 110.5px,#2eb0b8 112.5px,#52becd 114.5px,#54bfce 115.5px,#31b1ba 117.5px,#2cacaa 120.5px,#2eafb8 124.5px,#56bfcf 126.5px,#57bfcf 128.5px,#3cb5c0 130.5px,#42b7c3 132.5px,#64c1da 135.5px,#5bc0d3 138.5px,#30b0b9 142.5px,#2baeb3 150.5px,#38b4be 152.5px,#5dc0d4 155.5px,#5ac0d2 157.5px,#30b0b9 160.5px,#2cadae 165.5px,#2fb0b9 168.5px,#59c0d1 171.5px,#4fbdcb 173.5px,#2dafb8 175.5px,#2daca5 181.5px)"></i><i style="top:62px;height:1px;background:linear-gradient(90deg,#5dc0d4 0.5px,#65c1db 5.5px,#63c1d9 8.5px,#2baeb6 13.5px,#3bb5bf 16.5px,#60c1d7 19.5px,#65c1db 25.5px,#7bc3e9 30.5px,#59c0d1 39.5px,#48bac7 40.5px,#2baeb6 41.5px,#42ab80 44.5px,#7ab54e 49.5px,#9abc46 51.5px,#cac13f 53.5px,#d0c13f 54.5px,#abbf41 57.5px,#b6c040 59.5px,#e4be3d 61.5px,#ecad35 63.5px,#d8c23e 65.5px,#b1c040 67.5px,#72b452 77.5px,#32aa96 85.5px,#2eb0b8 88.5px,#58c0d0 90.5px,#66c1dc 93.5px,#58c0d0 98.5px,#5ec1d5 102.5px,#2fb0b9 105.5px,#2cadad 110.5px,#2dafb8 112.5px,#51bdcc 114.5px,#53becd 115.5px,#30b0b9 117.5px,#2daca9 120.5px,#2bafb7 124.5px,#55bfce 126.5px,#55bfce 128.5px,#3ab4bf 130.5px,#3fb6c2 132.5px,#63c1d9 135.5px,#5ac0d2 138.5px,#35b2bc 141.5px,#2baeb2 146.5px,#2cafb7 151.5px,#5cc0d4 155.5px,#5ac0d1 157.5px,#2dafb8 160.5px,#2cadac 165.5px,#2cafb7 168.5px,#58c0d0 171.5px,#4dbcca 173.5px,#2aaeb6 175.5px,#2eaba3 181.5px)"></i><i style="top:63px;height:1px;background:linear-gradient(90deg,#5dc0d4 0.5px,#65c1da 5.5px,#62c1d8 8.5px,#2cafb7 12.5px,#2cafb7 15.5px,#60c1d6 19.5px,#65c1da 25.5px,#7bc3e9 30.5px,#56bfcf 39.5px,#2aaeb4 41.5px,#45ac7d 44.5px,#75b450 48.5px,#8eb949 50.5px,#d4c13f 53.5px,#dac23e 54.5px,#b1c040 57.5px,#bbc040 59.5px,#e5bb3b 61.5px,#eea934 63.5px,#dfc23e 65.5px,#b6c040 67.5px,#76b450 77.5px,#33aa94 85.5px,#2cafb7 88.5px,#57c0d0 90.5px,#66c1db 93.5px,#57c0d0 98.5px,#5ec1d5 102.5px,#2eb0b8 105.5px,#2cadac 110.5px,#2cafb7 112.5px,#50bdcc 114.5px,#52becd 115.5px,#2eb0b8 117.5px,#2daca8 120.5px,#2aaeb6 124.5px,#53becd 126.5px,#59c0d1 127.5px,#37b3bd 130.5px,#3cb5c0 132.5px,#62c1d8 135.5px,#59c0d1 138.5px,#33b2bb 141.5px,#2badb2 146.5px,#2baeb6 151.5px,#5cc0d3 155.5px,#59c0d1 157.5px,#2baeb6 160.5px,#2cacab 165.5px,#2aaeb5 168.5px,#56bfcf 171.5px,#4bbbc9 173.5px,#2aaeb5 175.5px,#2eaba1 181.5px)"></i><i style="top:64px;height:1px;background:linear-gradient(90deg,#5dc0d4 0.5px,#5ec1d5 4.5px,#67c1dc 7.5px,#58c0d0 9.5px,#2aaeb4 12.5px,#2aaeb4 15.5px,#5fc1d6 19.5px,#65c1da 25.5px,#7bc3e9 30.5px,#53becd 39.5px,#2badb2 41.5px,#48ac79 44.5px,#72b452 47.5px,#96bb47 50.5px,#dec23e 53.5px,#e2c13e 54.5px,#b6c040 57.5px,#b5c040 58.5px,#c1c13f 59.5px,#d8c23e 60.5px,#eea833 62.5px,#f0a532 63.5px,#e3bf3d 65.5px,#bbc040 67.5px,#84b74c 76.5px,#5fb063 80.5px,#2fab9e 86.5px,#2baeb6 88.5px,#56bfcf 90.5px,#66c1db 93.5px,#57bfcf 98.5px,#5ec1d5 102.5px,#2dafb8 105.5px,#2cadab 110.5px,#2baeb6 112.5px,#4fbdcb 114.5px,#51bdcc 115.5px,#2cafb7 117.5px,#2daca6 120.5px,#2aaeb4 124.5px,#51bdcc 126.5px,#58c0d0 127.5px,#33b2bb 130.5px,#39b4be 132.5px,#61c1d7 135.5px,#58c0d0 138.5px,#30b1ba 141.5px,#2badb2 150.5px,#35b2bc 152.5px,#5bc0d2 155.5px,#58c0d0 157.5px,#2aaeb5 160.5px,#2daca9 165.5px,#2aaeb4 168.5px,#54bece 171.5px,#49bac7 173.5px,#2baeb3 175.5px,#2fab9f 181.5px)"></i><i style="top:65px;height:1px;background:linear-gradient(90deg,#5dc0d4 0.5px,#5dc0d4 4.5px,#66c1db 7.5px,#55bfce 9.5px,#30b0b9 11.5px,#2cadac 14.5px,#31b1ba 16.5px,#5fc1d5 19.5px,#65c1da 25.5px,#7bc3e9 30.5px,#58c0d0 38.5px,#3eb6c1 40.5px,#2badaf 41.5px,#3eab85 43.5px,#6db357 46.5px,#a0bd44 50.5px,#e4bf3d 53.5px,#e0c23e 55.5px,#bcc040 57.5px,#bbc040 58.5px,#c7c13f 59.5px,#e0c23e 60.5px,#f0a432 62.5px,#f2a130 63.5px,#e5bb3b 65.5px,#b9c040 68.5px,#92ba48 75.5px,#6db357 79.5px,#2fab9c 86.5px,#2aaeb5 88.5px,#55bfce 90.5px,#65c1db 93.5px,#55bfce 98.5px,#61c1d7 101.5px,#51bdcc 103.5px,#2baeb7 105.5px,#2cacab 110.5px,#2aaeb5 112.5px,#4ebcca 114.5px,#50bdcb 115.5px,#2aaeb6 117.5px,#2daca5 120.5px,#2baeb2 124.5px,#4ebcca 126.5px,#56bfcf 127.5px,#2fb0b9 130.5px,#34b2bc 132.5px,#5fc1d6 135.5px,#5ec1d5 137.5px,#2dafb8 141.5px,#2badb1 150.5px,#33b1bb 152.5px,#5ac0d2 155.5px,#55bfcf 157.5px,#2baeb3 160.5px,#2daca6 165.5px,#2badb2 168.5px,#52bdcc 171.5px,#52becd 172.5px,#2badb1 175.5px,#2fab9d 181.5px)"></i><i style="top:66px;height:1px;background:linear-gradient(90deg,#5dc0d4 0.5px,#5cc0d3 4.5px,#64c1da 7.5px,#51bdcc 9.5px,#2aaeb6 11.5px,#2daca7 14.5px,#2dafb7 16.5px,#5ec1d5 19.5px,#65c1db 25.5px,#7bc3e9 30.5px,#5fc1d6 36.5px,#4dbcca 39.5px,#2cadad 41.5px,#41ab81 43.5px,#74b450 46.5px,#aabf42 50.5px,#dbc23e 52.5px,#e8b639 54.5px,#e4be3c 55.5px,#c3c13f 57.5px,#c2c13f 58.5px,#e4be3c 60.5px,#f29f30 62.5px,#efa532 64.5px,#dcc23e 66.5px,#bfc13f 68.5px,#99bb46 75.5px,#67b25c 80.5px,#2faa9b 86.5px,#2aaeb4 88.5px,#53becd 90.5px,#65c1da 93.5px,#54bece 98.5px,#61c1d7 101.5px,#4fbdcb 103.5px,#2aaeb6 105.5px,#2daca9 110.5px,#2aaeb4 112.5px,#4cbbc9 114.5px,#4ebcca 115.5px,#2aaeb5 117.5px,#2eaba3 120.5px,#2badb0 124.5px,#52becd 127.5px,#2aaeb6 130.5px,#2eb0b8 132.5px,#5dc0d4 135.5px,#5cc0d4 137.5px,#2aaeb5 141.5px,#2badaf 150.5px,#30b0b9 152.5px,#59c0d1 155.5px,#53becd 157.5px,#31b1ba 159.5px,#2eaca4 163.5px,#2badb0 168.5px,#30b0ba 169.5px,#4fbdcb 171.5px,#50bdcb 172.5px,#31b1ba 174.5px,#2eaba0 178.5px,#2faa9b 181.5px)"></i><i style="top:67px;height:1px;background:linear-gradient(90deg,#5dc0d4 0.5px,#5bc0d2 4.5px,#63c1d9 7.5px,#4ebcca 9.5px,#2baeb3 11.5px,#2eaba1 13.5px,#2aaeb5 16.5px,#5dc0d4 19.5px,#65c1db 25.5px,#7bc3e9 30.5px,#66c1db 35.5px,#4abac8 39.5px,#2cacaa 41.5px,#44ac7d 43.5px,#6db357 45.5px,#b4c040 50.5px,#e3c03d 52.5px,#ebb036 54.5px,#dcc23e 56.5px,#cbc13f 57.5px,#cac13f 58.5px,#e6b93a 60.5px,#f29b2c 62.5px,#f2a030 64.5px,#e3c03d 66.5px,#c6c13f 68.5px,#a0bd44 75.5px,#6bb258 80.5px,#30aa99 86.5px,#2baeb3 88.5px,#5ec1d5 91.5px,#62c1d8 94.5px,#52becd 98.5px,#60c1d6 101.5px,#4dbcca 103.5px,#2aaeb4 105.5px,#2daca8 110.5px,#2baeb3 112.5px,#4bbbc8 114.5px,#4cbbc9 115.5px,#2aaeb4 117.5px,#2eaba1 120.5px,#2cadae 124.5px,#32b1ba 125.5px,#47b9c6 126.5px,#4fbccb 127.5px,#2baeb2 130.5px,#2aaeb5 132.5px,#5bc0d2 135.5px,#5ac0d2 137.5px,#2bafb7 140.5px,#2cadad 150.5px,#2cafb7 152.5px,#57bfcf 155.5px,#50bdcb 157.5px,#2dafb8 159.5px,#2eaba2 163.5px,#2cadae 168.5px,#2dafb8 169.5px,#4dbcca 171.5px,#4ebcca 172.5px,#2fb0b9 174.5px,#2fab9e 178.5px,#30aa99 181.5px)"></i><i style="top:68px;height:1px;background:linear-gradient(90deg,#5dc0d4 0.5px,#54bfce 3.5px,#62c1d8 7.5px,#4abbc8 9.5px,#34b2bc 10.5px,#2eaca3 12.5px,#2fab9c 14.5px,#2baeb3 16.5px,#5dc0d4 19.5px,#66c1db 25.5px,#7cc4ea 30.5px,#65c1db 35.5px,#46b9c6 39.5px,#32b1ba 40.5px,#2daca7 41.5px,#48ac79 43.5px,#74b450 45.5px,#bdc13f 50.5px,#e6ba3b 52.5px,#edaa34 54.5px,#e3c03d 56.5px,#d5c13f 57.5px,#d3c13f 58.5px,#e1c23e 59.5px,#f19629 62.5px,#f29b2c 64.5px,#dac23e 67.5px,#bfc13f 71.5px,#9ebc45 76.5px,#70b354 80.5px,#30aa98 86.5px,#2badb2 88.5px,#5dc0d4 91.5px,#61c1d7 94.5px,#50bdcc 98.5px,#5fc1d6 101.5px,#4bbbc9 103.5px,#2baeb3 105.5px,#2daca7 110.5px,#2badb2 112.5px,#49bac7 114.5px,#4abbc8 115.5px,#2badb2 117.5px,#2fab9f 120.5px,#2cadab 124.5px,#2dafb8 125.5px,#43b8c4 126.5px,#4bbbc9 127.5px,#2cafb7 129.5px,#2cadad 131.5px,#32b1bb 133.5px,#58c0d0 135.5px,#57c0d0 137.5px,#2baeb3 140.5px,#2cadab 150.5px,#2aaeb5 152.5px,#54bece 155.5px,#4dbcca 157.5px,#2aaeb5 159.5px,#2fab9e 163.5px,#2cadac 168.5px,#2aaeb6 169.5px,#4abbc8 171.5px,#4bbbc9 172.5px,#2cafb7 174.5px,#2fab9c 178.5px,#31aa96 181.5px)"></i><i style="top:69px;height:1px;background:linear-gradient(90deg,#5dc0d4 0.5px,#51bdcc 3.5px,#60c1d7 7.5px,#59c0d1 8.5px,#2fb0b9 10.5px,#33aa94 13.5px,#2eaba1 15.5px,#2badb0 16.5px,#5cc0d3 19.5px,#66c1db 25.5px,#7cc4ea 30.5px,#65c1da 35.5px,#43b8c4 39.5px,#2eb0b8 40.5px,#2daca5 41.5px,#4dad73 43.5px,#7db64e 45.5px,#c6c13f 50.5px,#dec23e 51.5px,#efa733 53.5px,#ecac35 55.5px,#dfc23e 57.5px,#e4bd3c 59.5px,#f19125 62.5px,#f19628 64.5px,#e2c13e 67.5px,#c6c13f 71.5px,#a5be43 76.5px,#69b25a 81.5px,#32aa96 86.5px,#2badb1 88.5px,#5cc0d3 91.5px,#60c1d7 94.5px,#4ebcca 98.5px,#5ec1d5 101.5px,#59c0d1 102.5px,#34b2bb 104.5px,#2cadab 106.5px,#2daca9 111.5px,#35b2bc 113.5px,#46b9c6 114.5px,#48bac7 115.5px,#2badb0 117.5px,#2fab9c 120.5px,#2eaba0 123.5px,#2aaeb5 125.5px,#3fb6c2 126.5px,#46b9c6 127.5px,#2aaeb4 129.5px,#2daca8 131.5px,#2baeb6 133.5px,#53becd 135.5px,#59c0d1 136.5px,#40b7c3 138.5px,#2dafb7 139.5px,#2daca8 143.5px,#2cadac 151.5px,#35b2bc 153.5px,#50bdcc 155.5px,#49bac7 157.5px,#2baeb3 159.5px,#2faa9b 163.5px,#2cacaa 168.5px,#2aaeb4 169.5px,#48bac7 171.5px,#49bac7 172.5px,#2aaeb5 174.5px,#30aa9a 178.5px,#33aa94 181.5px)"></i><i style="top:70px;height:1px;background:linear-gradient(90deg,#5dc0d4 0.5px,#4fbccb 3.5px,#5fc1d5 7.5px,#57c0d0 8.5px,#2aaeb6 10.5px,#39ab8b 13.5px,#38ab8d 14.5px,#2cadad 16.5px,#34b2bc 17.5px,#5cc0d3 19.5px,#66c1dc 25.5px,#7dc4ea 30.5px,#64c1da 35.5px,#40b7c3 39.5px,#2aaeb6 40.5px,#3cab88 42.5px,#6eb355 44.5px,#a9bf42 47.5px,#d0c13f 50.5px,#e4be3c 51.5px,#f2a130 53.5px,#efa633 55.5px,#e4be3c 57.5px,#e7b73a 59.5px,#f18c21 62.5px,#f19125 64.5px,#e5bc3b 67.5px,#adbf41 76.5px,#6db356 81.5px,#33aa94 86.5px,#2badaf 88.5px,#5bc0d3 91.5px,#5fc1d6 94.5px,#4bbbc8 98.5px,#5cc0d3 101.5px,#58c0d0 102.5px,#30b1ba 104.5px,#2eaca3 108.5px,#2badaf 112.5px,#44b8c5 114.5px,#45b9c5 115.5px,#2cadae 117.5px,#30aa9a 120.5px,#2fab9d 123.5px,#2baeb2 125.5px,#42b7c3 127.5px,#2badb0 129.5px,#2eaca4 131.5px,#2baeb2 133.5px,#4ebcca 135.5px,#55bfce 136.5px,#2baeb3 139.5px,#2eaca3 143.5px,#2cacaa 151.5px,#30b0ba 153.5px,#4cbbc9 155.5px,#45b8c5 157.5px,#2badb0 159.5px,#31aa97 163.5px,#2eaba0 167.5px,#2badb2 169.5px,#46b9c6 171.5px,#47b9c6 172.5px,#2aaeb4 174.5px,#30aa98 178.5px,#35aa91 181.5px)"></i><i style="top:71px;height:1px;background:linear-gradient(90deg,#5cc0d4 0.5px,#4cbbc9 3.5px,#5dc0d4 7.5px,#54bece 8.5px,#2baeb3 10.5px,#40ab83 13.5px,#3fab85 14.5px,#2cacaa 16.5px,#31b1ba 17.5px,#5bc0d3 19.5px,#67c1dc 25.5px,#7dc4ea 30.5px,#64c1da 35.5px,#3db6c1 39.5px,#2aaeb4 40.5px,#3eab85 42.5px,#75b450 44.5px,#b2c040 47.5px,#dac23e 50.5px,#f29b2c 53.5px,#f2a030 55.5px,#e7b83a 57.5px,#eab137 59.5px,#f0871e 62.5px,#f18c21 64.5px,#e3bf3d 68.5px,#a8be42 77.5px,#71b452 81.5px,#35aa92 86.5px,#2cadae 88.5px,#34b2bc 89.5px,#5ac0d2 91.5px,#5ec1d5 94.5px,#47b9c6 98.5px,#5ac0d2 101.5px,#55bfce 102.5px,#2dafb8 104.5px,#2eaba1 108.5px,#2cadad 112.5px,#2fb0b9 113.5px,#41b7c3 114.5px,#42b7c3 115.5px,#30b1ba 116.5px,#30aa9a 119.5px,#30aa9a 123.5px,#2badb0 125.5px,#3db5c1 127.5px,#2cadac 129.5px,#2fab9f 131.5px,#2cadae 133.5px,#34b2bb 134.5px,#48bac7 135.5px,#4fbccb 136.5px,#2badaf 139.5px,#2fab9e 142.5px,#2daca7 151.5px,#2bafb7 153.5px,#48bac7 155.5px,#40b7c2 157.5px,#2eb0b8 158.5px,#32aa95 162.5px,#2fab9d 167.5px,#2badb0 169.5px,#43b8c4 171.5px,#44b8c5 172.5px,#2baeb3 174.5px,#31aa96 178.5px,#37ab8f 181.5px)"></i><i style="top:72px;height:1px;background:linear-gradient(90deg,#5cc0d3 0.5px,#48bac7 3.5px,#5cc0d3 7.5px,#2badb0 10.5px,#47ac79 13.5px,#45ac7b 14.5px,#2daca7 16.5px,#2eb0b8 17.5px,#5bc0d2 19.5px,#6fc2e2 26.5px,#7ec4eb 30.5px,#64c1d9 35.5px,#2baeb2 40.5px,#2fab9d 41.5px,#41ab81 42.5px,#7eb64d 44.5px,#acbf41 46.5px,#e2c13e 50.5px,#f19628 53.5px,#f29b2c 55.5px,#eab237 57.5px,#edab35 59.5px,#f0831a 62.5px,#f0871d 64.5px,#e6ba3b 68.5px,#c0c13f 75.5px,#94ba47 79.5px,#68b25b 82.5px,#36ab90 86.5px,#2cadac 88.5px,#32b1ba 89.5px,#59c0d1 91.5px,#5dc0d4 94.5px,#42b8c4 98.5px,#58c0d0 101.5px,#3fb6c2 103.5px,#2aaeb6 104.5px,#2fab9f 108.5px,#2cadac 112.5px,#2cafb7 113.5px,#3db5c1 114.5px,#3eb6c1 115.5px,#2cafb7 116.5px,#30aa98 119.5px,#31aa97 123.5px,#30b0b9 126.5px,#38b3be 127.5px,#2aaeb6 128.5px,#30aa9a 131.5px,#2cafb7 134.5px,#42b7c3 135.5px,#49bac8 136.5px,#40b7c2 137.5px,#2aaeb6 138.5px,#30aa9a 141.5px,#2eaca4 151.5px,#2aaeb4 153.5px,#42b8c4 155.5px,#3ab4bf 157.5px,#2aaeb5 158.5px,#36ab90 162.5px,#33aa94 166.5px,#2cadae 169.5px,#41b7c3 171.5px,#42b8c4 172.5px,#2badb1 174.5px,#33aa94 178.5px,#39ab8d 181.5px)"></i><i style="top:73px;height:1px;background:linear-gradient(90deg,#5cc0d3 0.5px,#45b9c5 3.5px,#5bc0d2 6.5px,#4dbcca 8.5px,#36b3bd 9.5px,#2cadad 10.5px,#2faa9b 11.5px,#54ae6d 13.5px,#50ae70 14.5px,#2eaca3 16.5px,#2baeb6 17.5px,#5ac0d2 19.5px,#6fc2e3 26.5px,#7ec4eb 30.5px,#6dc2e1 34.5px,#2badb1 40.5px,#2faa9b 41.5px,#43ac7e 42.5px,#65b15e 43.5px,#a1bd44 45.5px,#e5bc3b 50.5px,#f19125 53.5px,#f19628 55.5px,#edac35 57.5px,#f0a532 59.5px,#ef7d1a 62.5px,#f08219 64.5px,#e8b539 68.5px,#d5c13f 73.5px,#a9bf42 78.5px,#6db357 82.5px,#2fab9c 87.5px,#2fb0b9 89.5px,#58c0d0 91.5px,#5cc0d3 94.5px,#3db5c1 98.5px,#53becd 101.5px,#3bb5bf 103.5px,#2baeb3 104.5px,#2fab9d 108.5px,#2cacaa 112.5px,#2aaeb5 113.5px,#38b4be 114.5px,#38b4be 115.5px,#2aaeb4 116.5px,#32aa95 119.5px,#34aa93 123.5px,#2baeb7 126.5px,#33b1bb 127.5px,#2eaca4 129.5px,#32aa95 131.5px,#2baeb3 134.5px,#43b8c4 136.5px,#2badb2 138.5px,#35aa92 141.5px,#2eaba2 151.5px,#31b1ba 154.5px,#3eb6c1 156.5px,#2badb2 158.5px,#3bab8a 162.5px,#35aa91 166.5px,#2fb0b9 170.5px,#3fb6c2 171.5px,#40b7c3 172.5px,#2badb0 174.5px,#34aa92 178.5px,#3aab8a 181.5px)"></i><i style="top:74px;height:1px;background:linear-gradient(90deg,#5bc0d3 0.5px,#42b8c4 3.5px,#59c0d1 6.5px,#58c0d0 7.5px,#32b1ba 9.5px,#31aa96 11.5px,#62b160 13.5px,#5eb064 14.5px,#40ab83 15.5px,#2eaba0 16.5px,#2aaeb5 17.5px,#59c0d1 19.5px,#70c2e3 26.5px,#7fc4eb 30.5px,#6dc2e2 34.5px,#2badaf 40.5px,#30aa98 41.5px,#46ac7b 42.5px,#6ab259 43.5px,#a9bf42 45.5px,#e1c23e 49.5px,#f18c21 53.5px,#f19024 55.5px,#efa733 58.5px,#f0841b 61.5px,#ec7420 63.5px,#f1891f 65.5px,#e7b83a 69.5px,#d3c13f 74.5px,#a0bd44 79.5px,#71b353 82.5px,#30aa9a 87.5px,#2cafb7 89.5px,#56bfcf 91.5px,#5bc0d2 94.5px,#36b3bd 98.5px,#4cbbc9 101.5px,#2badb1 104.5px,#2faa9b 108.5px,#2daca8 112.5px,#33b1bb 114.5px,#2badb1 116.5px,#37ab8e 120.5px,#36ab90 123.5px,#2aaeb4 126.5px,#2dafb8 127.5px,#37ab8f 131.5px,#2badb0 134.5px,#3db5c1 136.5px,#2cadad 138.5px,#3cab88 141.5px,#2fab9f 151.5px,#2baeb6 154.5px,#36b3bd 156.5px,#2cadae 158.5px,#40ab83 162.5px,#3dab86 165.5px,#2dafb7 170.5px,#3db5c1 171.5px,#3fb6c2 172.5px,#2badaf 174.5px,#35aa91 178.5px,#3cab88 181.5px)"></i><i style="top:75px;height:1px;background:linear-gradient(90deg,#5bc0d2 0.5px,#3fb6c2 3.5px,#57c0d0 6.5px,#56bfcf 7.5px,#2eafb8 9.5px,#35aa92 11.5px,#70b353 13.5px,#6bb258 14.5px,#45ac7c 15.5px,#2fab9d 16.5px,#2baeb3 17.5px,#59c0d1 19.5px,#70c2e3 26.5px,#7fc4eb 30.5px,#6ec2e2 34.5px,#2cadad 40.5px,#31aa96 41.5px,#48ac78 42.5px,#6eb355 43.5px,#b0c040 45.5px,#e4be3c 49.5px,#f19226 52.5px,#f0851c 54.5px,#f2a130 58.5px,#f07f19 61.5px,#ea6f24 63.5px,#f0851c 65.5px,#ecac35 68.5px,#d8c23e 74.5px,#a6be43 79.5px,#75b450 82.5px,#30aa98 87.5px,#2aaeb6 89.5px,#54bece 91.5px,#59c0d1 94.5px,#2dafb8 98.5px,#44b8c5 101.5px,#2cadae 104.5px,#30aa99 108.5px,#2daca6 112.5px,#2cafb7 114.5px,#2cadad 116.5px,#3aab8b 120.5px,#39ab8c 123.5px,#2badb1 126.5px,#2aaeb5 127.5px,#37ab8f 130.5px,#37ab8f 132.5px,#2fb0b9 135.5px,#37b3bd 136.5px,#2baeb6 137.5px,#3eab85 140.5px,#43ac7f 142.5px,#33aa94 147.5px,#2eaba3 152.5px,#2dafb8 156.5px,#34aa92 160.5px,#4aac76 163.5px,#2fab9d 168.5px,#2aaeb6 170.5px,#3bb5c0 171.5px,#3db5c1 172.5px,#2cadae 174.5px,#37ab8f 178.5px,#3eab86 181.5px)"></i><i style="top:76px;height:1px;background:linear-gradient(90deg,#5bc0d2 0.5px,#3cb5c0 3.5px,#55bfce 6.5px,#53becd 7.5px,#2aaeb6 9.5px,#38ab8d 11.5px,#81b74d 13.5px,#7ab54e 14.5px,#4cad75 15.5px,#30aa9a 16.5px,#2badb2 17.5px,#58c0d0 19.5px,#71c2e3 26.5px,#7fc4ec 30.5px,#6ec2e2 34.5px,#2cadac 40.5px,#33aa94 41.5px,#4bad75 42.5px,#72b451 43.5px,#b4c040 45.5px,#dfc23e 48.5px,#f18e23 52.5px,#f08119 54.5px,#f29b2c 58.5px,#ee7a1c 61.5px,#e96a27 63.5px,#f08018 65.5px,#eab037 69.5px,#ddc23e 74.5px,#acbf41 79.5px,#6ab259 83.5px,#31aa96 87.5px,#2aaeb4 89.5px,#51bdcc 91.5px,#5bc0d2 93.5px,#4bbbc9 95.5px,#2cafb7 97.5px,#30b1ba 100.5px,#38b3be 102.5px,#2aaeb5 103.5px,#30aa98 107.5px,#2fab9c 111.5px,#2baeb3 114.5px,#3cab88 120.5px,#3cab89 123.5px,#2cadae 126.5px,#2baeb2 127.5px,#3bab8a 130.5px,#3bab8a 132.5px,#2aaeb5 135.5px,#31b1ba 136.5px,#2eaba2 138.5px,#47ac7a 140.5px,#52ae6f 141.5px,#36ab90 146.5px,#2eaba0 152.5px,#2baeb3 156.5px,#2faa9b 159.5px,#59af69 163.5px,#2daca8 169.5px,#2aaeb5 170.5px,#39b4bf 171.5px,#3bb5c0 172.5px,#2cadad 174.5px,#38ab8e 178.5px,#3fab83 181.5px)"></i><i style="top:77px;height:1px;background:linear-gradient(90deg,#5ac0d2 0.5px,#39b4bf 3.5px,#52becd 6.5px,#50bdcc 7.5px,#2aaeb4 9.5px,#3cab88 11.5px,#63b15f 12.5px,#91ba48 13.5px,#8ab84a 14.5px,#54ae6d 15.5px,#31aa96 16.5px,#2badb0 17.5px,#58c0d0 19.5px,#71c2e4 26.5px,#80c4ec 30.5px,#6ec2e2 34.5px,#2fb0b9 39.5px,#34aa93 41.5px,#4ead73 42.5px,#76b44f 43.5px,#9ebc45 44.5px,#c8c13f 46.5px,#e3c03d 48.5px,#f18a20 52.5px,#ef7d1a 54.5px,#f19528 58.5px,#f0841b 60.5px,#e86828 62.5px,#ea6d25 64.5px,#ee7b1b 65.5px,#ecac35 69.5px,#d9c23e 75.5px,#a1bd44 80.5px,#6db356 83.5px,#33aa94 87.5px,#2badb2 89.5px,#58c0d0 92.5px,#54bece 94.5px,#2baeb3 97.5px,#2cadac 99.5px,#2eb0b8 102.5px,#32aa95 107.5px,#30aa9a 111.5px,#2badaf 114.5px,#40ab83 121.5px,#37ab8f 124.5px,#2cadac 126.5px,#2badb0 127.5px,#3eab85 130.5px,#3eab85 132.5px,#2badb2 135.5px,#2baeb7 136.5px,#2fab9c 138.5px,#57af6a 140.5px,#65b15e 141.5px,#4ead73 143.5px,#39ab8d 146.5px,#2fab9d 152.5px,#2cadad 156.5px,#31aa97 159.5px,#4aac77 161.5px,#5fb063 162.5px,#68b25b 163.5px,#30aa99 168.5px,#2aaeb4 170.5px,#3ab4bf 172.5px,#2cadad 174.5px,#3cab88 179.5px,#41ab81 181.5px)"></i><i style="top:78px;height:1px;background:linear-gradient(90deg,#5ac0d2 0.5px,#37b3bd 3.5px,#4fbdcb 6.5px,#4dbcca 7.5px,#2badb2 9.5px,#2eaba0 10.5px,#3fab84 11.5px,#6db357 12.5px,#a1bd44 13.5px,#99bb46 14.5px,#5db065 15.5px,#34aa93 16.5px,#2badaf 17.5px,#57c0cf 19.5px,#62c1d9 22.5px,#78c3e7 27.5px,#7fc4eb 31.5px,#63c1d9 35.5px,#2eb0b8 39.5px,#35aa92 41.5px,#50ad71 42.5px,#7ab54e 43.5px,#a2bd44 44.5px,#ccc13f 46.5px,#e4be3c 48.5px,#f0871d 52.5px,#ee791d 54.5px,#f1881e 56.5px,#f19024 58.5px,#f08018 60.5px,#e5642c 62.5px,#e26030 63.5px,#f0861d 66.5px,#eea934 69.5px,#dcc23e 75.5px,#a5be43 80.5px,#71b353 83.5px,#35aa92 87.5px,#2badb0 89.5px,#56bfcf 92.5px,#51bdcc 94.5px,#30b0b9 96.5px,#2daca5 99.5px,#2baeb3 102.5px,#35aa92 107.5px,#30aa98 111.5px,#2cacaa 114.5px,#42ac80 121.5px,#39ab8c 124.5px,#2daca9 126.5px,#2cadad 127.5px,#42ac80 130.5px,#42ac80 132.5px,#2badaf 135.5px,#2aaeb4 136.5px,#2cadab 137.5px,#31aa96 138.5px,#47ac7a 139.5px,#69b25a 140.5px,#7ab54e 141.5px,#70b353 142.5px,#46ac7b 144.5px,#39ab8c 147.5px,#30aa9a 152.5px,#2daca7 156.5px,#34aa92 159.5px,#54ae6d 161.5px,#6eb356 162.5px,#7ab54e 163.5px,#6fb354 164.5px,#45ac7c 166.5px,#2daca6 169.5px,#2baeb3 170.5px,#3ab4bf 172.5px,#2cadac 174.5px,#3dab87 179.5px,#42ac80 181.5px)"></i><i style="top:79px;height:1px;background:linear-gradient(90deg,#5ac0d1 0.5px,#3ab4bf 2.5px,#38b4be 4.5px,#4dbcca 6.5px,#4bbbc9 7.5px,#2badb0 9.5px,#2fab9d 10.5px,#42ab80 11.5px,#76b450 12.5px,#aec040 13.5px,#a6be43 14.5px,#64b15f 15.5px,#36aa90 16.5px,#2cadad 17.5px,#56bfcf 19.5px,#62c1d9 22.5px,#78c3e7 27.5px,#7fc4eb 31.5px,#63c1d9 35.5px,#2dafb8 39.5px,#35aa91 41.5px,#52ae6f 42.5px,#7cb64e 43.5px,#a5be43 44.5px,#ddc23e 47.5px,#f19225 51.5px,#f0841b 52.5px,#ed761f 54.5px,#f18b21 58.5px,#ef7c1b 60.5px,#e26030 62.5px,#e05c34 63.5px,#f0831b 66.5px,#ecae36 70.5px,#dfc23e 75.5px,#aabf42 80.5px,#75b450 83.5px,#37ab8f 87.5px,#2cadae 89.5px,#53becd 92.5px,#4dbcca 94.5px,#2aaeb6 96.5px,#2fab9d 99.5px,#2cadae 102.5px,#37ab8f 107.5px,#32aa96 111.5px,#2daca5 114.5px,#44ac7d 121.5px,#3cab89 124.5px,#2daca7 126.5px,#2cacab 127.5px,#39ab8c 129.5px,#4cad75 131.5px,#3aab8a 133.5px,#2cadac 135.5px,#2badb1 136.5px,#2daca7 137.5px,#36aa90 138.5px,#53ae6e 139.5px,#7cb64e 140.5px,#92ba48 141.5px,#85b74b 142.5px,#4cad74 144.5px,#3cab88 146.5px,#30aa98 152.5px,#2fab9e 157.5px,#44ac7e 160.5px,#7fb64d 162.5px,#8fb949 163.5px,#80b64d 164.5px,#48ac78 166.5px,#2daca5 169.5px,#2baeb3 170.5px,#39b4bf 172.5px,#2cadac 174.5px,#3dab86 179.5px,#44ac7e 181.5px)"></i><i style="top:80px;height:1px;background:linear-gradient(90deg,#5ac0d1 0.5px,#38b4be 2.5px,#36b3bd 4.5px,#4bbbc8 6.5px,#49bac7 7.5px,#2cadae 9.5px,#2faa9b 10.5px,#44ac7d 11.5px,#7eb64d 12.5px,#b7c040 13.5px,#b1c040 14.5px,#6ab259 15.5px,#38ab8e 16.5px,#2cadac 17.5px,#55bfce 19.5px,#62c1d8 22.5px,#7fc4ec 30.5px,#6ec2e2 34.5px,#2cafb7 39.5px,#36aa90 41.5px,#53ae6e 42.5px,#7eb64d 43.5px,#a6be43 44.5px,#e0c23e 47.5px,#f19024 51.5px,#f0821a 52.5px,#ec7320 54.5px,#f0871d 58.5px,#ed781d 60.5px,#e05d33 62.5px,#de5937 63.5px,#f08119 66.5px,#ecac35 70.5px,#d8c23e 76.5px,#9dbc45 81.5px,#68b25b 84.5px,#39ab8c 87.5px,#2cadac 89.5px,#31b1ba 90.5px,#50bdcb 92.5px,#49bac8 94.5px,#2badb2 96.5px,#30aa99 98.5px,#2faa9b 100.5px,#2daca9 102.5px,#39ab8c 107.5px,#33aa94 111.5px,#2eaba1 114.5px,#46ac7b 121.5px,#3eab86 124.5px,#2daca5 126.5px,#2daca8 127.5px,#3bab89 129.5px,#52ae6f 131.5px,#3dab86 133.5px,#2daca9 135.5px,#2cadae 136.5px,#2eaca4 137.5px,#3aab8b 138.5px,#5fb063 139.5px,#90ba48 140.5px,#a8be42 141.5px,#98bb46 142.5px,#71b452 143.5px,#53ae6e 144.5px,#3eab86 146.5px,#2faa9b 156.5px,#3aab8a 159.5px,#47ac79 160.5px,#69b25a 161.5px,#90ba49 162.5px,#a2bd44 163.5px,#90ba48 164.5px,#6bb258 165.5px,#4cad74 166.5px,#2eaca4 169.5px,#2baeb2 170.5px,#39b4be 172.5px,#2cadac 174.5px,#3eab85 179.5px,#45ac7c 181.5px)"></i><i style="top:81px;height:1px;background:linear-gradient(90deg,#59c0d1 0.5px,#37b3bd 2.5px,#33b2bb 4.5px,#49bac7 6.5px,#46b9c6 7.5px,#2cadad 9.5px,#30aa99 10.5px,#47ac7a 11.5px,#86b84b 12.5px,#bdc13f 13.5px,#b7c040 14.5px,#6fb355 15.5px,#39ab8c 16.5px,#2cadab 17.5px,#3ab4bf 18.5px,#54bfce 19.5px,#62c1d8 22.5px,#7fc4ec 30.5px,#6ec2e2 34.5px,#2cafb7 39.5px,#36aa90 41.5px,#53ae6e 42.5px,#7eb64d 43.5px,#a7be43 44.5px,#e1c23e 47.5px,#f18e22 51.5px,#f08119 52.5px,#eb7222 54.5px,#f0841b 58.5px,#ec751f 60.5px,#df5b35 62.5px,#e26030 64.5px,#f07f19 66.5px,#edab34 70.5px,#dac23e 76.5px,#a1bd44 81.5px,#6cb258 84.5px,#3bab8a 87.5px,#2cacaa 89.5px,#2dafb8 90.5px,#4cbbc9 92.5px,#45b8c5 94.5px,#2badaf 96.5px,#34aa92 98.5px,#38ab8d 99.5px,#2eaca4 102.5px,#3bab89 107.5px,#30aa99 112.5px,#2fab9d 114.5px,#45ac7c 120.5px,#47ac7a 123.5px,#2eaba3 126.5px,#2daca6 127.5px,#2faa9b 128.5px,#4ead72 130.5px,#58af6a 131.5px,#40ab83 133.5px,#2daca7 135.5px,#2cadac 136.5px,#2eaba1 137.5px,#3dab86 138.5px,#69b25a 139.5px,#a1bd44 140.5px,#b7c040 141.5px,#a8be42 142.5px,#7bb54e 143.5px,#58af6a 144.5px,#44ac7d 145.5px,#30aa98 155.5px,#3dab87 159.5px,#4dad74 160.5px,#71b353 161.5px,#9ebc45 162.5px,#b1c040 163.5px,#9ebc45 164.5px,#72b451 165.5px,#50ae70 166.5px,#33aa94 168.5px,#2baeb2 170.5px,#39b4bf 172.5px,#2cadad 174.5px,#43ac7f 180.5px,#46ac7b 181.5px)"></i><i style="top:82px;height:1px;background:linear-gradient(90deg,#59c0d1 0.5px,#35b2bc 2.5px,#31b1ba 4.5px,#46b9c6 6.5px,#44b8c5 7.5px,#2cadab 9.5px,#31aa97 10.5px,#49ac77 11.5px,#8bb94a 12.5px,#c2c13f 13.5px,#bbc040 14.5px,#73b451 15.5px,#3aab8a 16.5px,#2cacaa 17.5px,#39b4be 18.5px,#53becd 19.5px,#62c1d8 21.5px,#6bc2e0 25.5px,#80c4ec 30.5px,#6dc2e2 34.5px,#2cafb7 39.5px,#36aa90 41.5px,#52ae6f 42.5px,#7db64e 43.5px,#a5be43 44.5px,#e1c23e 47.5px,#f18d22 51.5px,#f08018 52.5px,#eb7122 54.5px,#f08119 58.5px,#e76729 61.5px,#dd5739 63.5px,#ef7e19 66.5px,#edaa34 70.5px,#dbc23e 76.5px,#a4be43 81.5px,#6fb354 84.5px,#3dab87 87.5px,#2daca7 89.5px,#2aaeb5 90.5px,#48bac7 92.5px,#40b7c2 94.5px,#2eb0b8 95.5px,#39ab8c 98.5px,#3dab87 99.5px,#2eaba0 102.5px,#3eab86 107.5px,#31aa97 112.5px,#30aa9a 114.5px,#40ab83 118.5px,#49ac77 123.5px,#2eaba1 126.5px,#2eaca4 127.5px,#30aa98 128.5px,#53ae6e 130.5px,#5db065 131.5px,#43ac7f 133.5px,#2daca5 135.5px,#2cacaa 136.5px,#2fab9f 137.5px,#40ab83 138.5px,#70b354 139.5px,#acbf41 140.5px,#bfc13f 141.5px,#b1c040 142.5px,#82b74c 143.5px,#5aaf67 144.5px,#45ac7c 145.5px,#32aa96 154.5px,#3fab84 159.5px,#51ae6f 160.5px,#78b54f 161.5px,#a8be42 162.5px,#b9c040 163.5px,#a7be42 164.5px,#78b54f 165.5px,#53ae6e 166.5px,#33aa94 168.5px,#2badb2 170.5px,#3ab4bf 172.5px,#2cadad 174.5px,#43ac7e 180.5px,#46ac7a 181.5px)"></i><i style="top:83px;height:1px;background:linear-gradient(90deg,#59c0d1 0.5px,#34b2bc 2.5px,#2fb0b9 4.5px,#44b8c5 6.5px,#42b7c3 7.5px,#30b0b9 8.5px,#32aa96 10.5px,#4bac76 11.5px,#8eb949 12.5px,#c4c13f 13.5px,#bdc13f 14.5px,#75b450 15.5px,#3bab89 16.5px,#2daca9 17.5px,#38b3be 18.5px,#52becd 19.5px,#61c1d8 21.5px,#6bc2df 25.5px,#80c4ec 30.5px,#6dc2e1 34.5px,#2cafb7 39.5px,#36aa90 41.5px,#52ae6f 42.5px,#7cb64e 43.5px,#a4be43 44.5px,#e0c23e 47.5px,#f18d22 51.5px,#f08018 52.5px,#eb7122 54.5px,#f08018 58.5px,#dd5838 63.5px,#ef7e19 66.5px,#eab037 71.5px,#dbc23e 76.5px,#a6be43 81.5px,#72b452 84.5px,#32aa95 88.5px,#2baeb3 90.5px,#43b8c4 92.5px,#3bb5c0 94.5px,#2aaeb5 95.5px,#3cab88 98.5px,#40ab83 99.5px,#2fab9c 102.5px,#3fab84 107.5px,#30aa98 114.5px,#41ab81 118.5px,#4bad75 123.5px,#2fab9f 126.5px,#2eaba2 127.5px,#32aa96 128.5px,#57af6b 130.5px,#60b062 131.5px,#45ac7d 133.5px,#2eaba2 135.5px,#2daca7 136.5px,#2fab9c 137.5px,#42ab80 138.5px,#74b450 139.5px,#b1c040 140.5px,#c3c13f 141.5px,#b4c040 142.5px,#85b74c 143.5px,#5bb066 144.5px,#45ac7c 145.5px,#33aa94 153.5px,#3aab8a 158.5px,#41ab81 159.5px,#54ae6d 160.5px,#7cb64e 161.5px,#adbf41 162.5px,#bcc040 163.5px,#abbf41 164.5px,#7bb54e 165.5px,#55ae6c 166.5px,#34aa93 168.5px,#2badb2 170.5px,#39b4bf 172.5px,#2cadad 174.5px,#47ac79 181.5px)"></i></div>
<div class="fld" style="left:45px;top:147px;width:182px;height:83px"><i style="top:0px;height:1px;background:linear-gradient(90deg,#4453d5 0.5px,#2261df 20.5px,#1e62e0 116.5px,#3f55d6 181.5px)"></i><i style="top:1px;height:1px;background:linear-gradient(90deg,#4353d5 0.5px,#2460de 18.5px,#2166e1 106.5px,#2c5cdc 150.5px,#3e55d6 181.5px)"></i><i style="top:2px;height:1px;background:linear-gradient(90deg,#4154d6 0.5px,#245fde 16.5px,#2469e2 43.5px,#2065e1 114.5px,#3e55d6 181.5px)"></i><i style="top:3px;height:1px;background:linear-gradient(90deg,#3e55d6 0.5px,#2360de 16.5px,#246ae2 40.5px,#2469e2 109.5px,#2460de 132.5px,#3d55d7 181.5px)"></i><i style="top:4px;height:1px;background:linear-gradient(90deg,#3b56d7 0.5px,#2161df 16.5px,#2b72e4 63.5px,#2267e1 119.5px,#285edd 148.5px,#3d56d7 181.5px)"></i><i style="top:5px;height:1px;background:linear-gradient(90deg,#3858d8 0.5px,#1e62e0 16.5px,#2f77e6 62.5px,#256be2 119.5px,#2360de 143.5px,#3c56d7 181.5px)"></i><i style="top:6px;height:1px;background:linear-gradient(90deg,#3559d9 0.5px,#1f63e0 13.5px,#347de6 62.5px,#2a70e4 117.5px,#2260df 145.5px,#3b56d7 181.5px)"></i><i style="top:7px;height:1px;background:linear-gradient(90deg,#315ada 0.5px,#1f64e0 11.5px,#3a83e7 61.5px,#3078e6 111.5px,#2260df 147.5px,#3b57d7 181.5px)"></i><i style="top:8px;height:1px;background:linear-gradient(90deg,#2d5cdb 0.5px,#2064e1 9.5px,#3f89e7 60.5px,#367ee6 112.5px,#2161df 148.5px,#3957d8 181.5px)"></i><i style="top:9px;height:1px;background:linear-gradient(90deg,#295ddd 0.5px,#2165e1 8.5px,#4590e7 58.5px,#3c86e7 112.5px,#2260df 150.5px,#3858d8 181.5px)"></i><i style="top:10px;height:1px;background:linear-gradient(90deg,#255fde 0.5px,#2368e2 9.5px,#4792e8 49.5px,#4590e8 105.5px,#2b72e4 136.5px,#2360df 152.5px,#3658d9 181.5px)"></i><i style="top:11px;height:1px;background:linear-gradient(90deg,#2261df 0.5px,#3d87e7 28.5px,#539ee9 68.5px,#4590e8 119.5px,#2061df 152.5px,#3459d9 181.5px)"></i><i style="top:12px;height:1px;background:linear-gradient(90deg,#1e62e0 0.5px,#448fe7 28.5px,#5da7e9 67.5px,#519ce8 114.5px,#337be6 136.5px,#2161df 154.5px,#325ada 181.5px)"></i><i style="top:13px;height:1px;background:linear-gradient(90deg,#2064e1 0.5px,#3f89e7 22.5px,#5ba5e9 39.5px,#66aeea 91.5px,#509ce8 124.5px,#1f63e0 152.5px,#2e5bdb 181.5px)"></i><i style="top:14px;height:1px;background:linear-gradient(90deg,#2266e1 0.5px,#3b84e7 18.5px,#66aeea 36.5px,#6eb5eb 96.5px,#5ca6e9 124.5px,#246ae2 148.5px,#2460de 164.5px,#2b5ddc 181.5px)"></i><i style="top:15px;height:1px;background:linear-gradient(90deg,#2368e2 0.5px,#3a83e7 16.5px,#6fb6eb 34.5px,#75baeb 103.5px,#65adea 125.5px,#276de3 147.5px,#2260df 166.5px,#275fdd 181.5px)"></i><i style="top:16px;height:1px;background:linear-gradient(90deg,#256ae2 0.5px,#3881e7 14.5px,#78bdeb 33.5px,#7abfec 116.5px,#64acea 129.5px,#296fe4 147.5px,#2261df 173.5px,#2260df 181.5px)"></i><i style="top:17px;height:1px;background:linear-gradient(90deg,#266ce3 0.5px,#3881e7 13.5px,#7dc2ec 31.5px,#7abfec 124.5px,#3e88e7 140.5px,#266be3 152.5px,#1f63e0 181.5px)"></i><i style="top:18px;height:1px;background:linear-gradient(90deg,#276de3 0.5px,#3780e7 12.5px,#5ea7e9 21.5px,#80c4ec 29.5px,#7bc3e9 80.5px,#7abfec 127.5px,#2f77e6 146.5px,#2166e1 175.5px,#2266e1 181.5px)"></i><i style="top:19px;height:1px;background:linear-gradient(90deg,#286ee3 0.5px,#367fe6 11.5px,#5fa8e9 20.5px,#80c4ec 27.5px,#75c3e6 50.5px,#7cc1ec 128.5px,#347de6 145.5px,#256be2 163.5px,#256ae2 181.5px)"></i><i style="top:20px;height:1px;background:linear-gradient(90deg,#2970e4 0.5px,#357de6 10.5px,#5fa8e9 19.5px,#7fc4eb 26.5px,#70c2e3 50.5px,#7ec4eb 127.5px,#64adea 135.5px,#3b85e7 144.5px,#2970e4 157.5px,#286ee3 181.5px)"></i><i style="top:21px;height:1px;background:linear-gradient(90deg,#2a70e4 0.5px,#367fe6 10.5px,#5da7e9 18.5px,#80c4ec 24.5px,#69c2de 49.5px,#77c3e7 86.5px,#7dc4ea 127.5px,#76bceb 132.5px,#3f89e7 144.5px,#2c73e5 156.5px,#2c73e5 181.5px)"></i><i style="top:22px;height:1px;background:linear-gradient(90deg,#2a71e4 0.5px,#347de6 9.5px,#5aa4e9 17.5px,#7fc4ec 23.5px,#62c1d9 49.5px,#77c3e7 78.5px,#7bc3e9 126.5px,#79beeb 132.5px,#3f89e7 145.5px,#2e75e5 159.5px,#2f77e6 181.5px)"></i><i style="top:23px;height:1px;background:linear-gradient(90deg,#2b72e4 0.5px,#357ee6 9.5px,#5ea7e9 17.5px,#7ec4eb 23.5px,#5bc0d2 48.5px,#77c3e7 74.5px,#7cc4ea 127.5px,#78bdeb 133.5px,#408ae7 146.5px,#3179e6 162.5px,#357ee6 181.5px)"></i><i style="top:24px;height:1px;background:linear-gradient(90deg,#2c73e5 0.5px,#367fe6 9.5px,#5aa4e9 16.5px,#7fc4ec 22.5px,#63c1d9 39.5px,#50bdcb 48.5px,#74c3e5 69.5px,#7dc4ea 128.5px,#76bceb 134.5px,#448fe7 146.5px,#357ee6 162.5px,#3b85e7 181.5px)"></i><i style="top:25px;height:1px;background:linear-gradient(90deg,#2c73e5 0.5px,#3781e7 9.5px,#5ca6e9 16.5px,#7ec3ec 21.5px,#67c1dc 37.5px,#42b7c3 47.5px,#6fc2e3 66.5px,#75c3e6 105.5px,#7bc0ec 133.5px,#4590e8 147.5px,#3b84e7 164.5px,#418be7 181.5px)"></i><i style="top:26px;height:1px;background:linear-gradient(90deg,#2c74e5 0.5px,#357ee6 8.5px,#57a1e9 15.5px,#80c4ec 21.5px,#66c1db 37.5px,#35b2bc 46.5px,#46b9c6 53.5px,#65c1db 62.5px,#77c3e7 85.5px,#7ec4eb 129.5px,#73b9eb 136.5px,#4792e8 148.5px,#408be7 166.5px,#4792e8 181.5px)"></i><i style="top:27px;height:1px;background:linear-gradient(90deg,#2d74e5 0.5px,#367fe6 8.5px,#59a3e9 15.5px,#7fc4eb 21.5px,#69c2de 36.5px,#3fb6c2 42.5px,#2aaeb5 46.5px,#33b2bb 52.5px,#5dc0d4 61.5px,#76c3e7 82.5px,#7ec4eb 130.5px,#6bb2ea 139.5px,#4793e8 150.5px,#4994e8 172.5px,#4c98e8 181.5px)"></i><i style="top:28px;height:1px;background:linear-gradient(90deg,#2d75e5 0.5px,#3780e6 8.5px,#5ba4e9 15.5px,#7ec4eb 21.5px,#6cc2e1 35.5px,#4abbc8 40.5px,#2cafb7 43.5px,#2badaf 50.5px,#30b0b9 54.5px,#5ec1d5 64.5px,#75c3e6 84.5px,#7bc0ec 135.5px,#4a95e8 151.5px,#539ee9 176.5px,#55a0e9 181.5px)"></i><i style="top:29px;height:1px;background:linear-gradient(90deg,#2e75e5 0.5px,#3881e7 8.5px,#5ca6e9 15.5px,#7fc3ec 20.5px,#6cc2e0 35.5px,#4fbdcb 39.5px,#2cafb7 42.5px,#2daca5 48.5px,#2dafb8 56.5px,#5dc0d4 67.5px,#74c3e5 85.5px,#7abfec 136.5px,#4d99e8 152.5px,#58a2e9 172.5px,#5ea7e9 181.5px)"></i><i style="top:30px;height:1px;background:linear-gradient(90deg,#2e76e5 0.5px,#3982e7 8.5px,#5da7e9 15.5px,#7fc3ec 20.5px,#6bc2e0 35.5px,#4abbc8 39.5px,#2baeb3 42.5px,#2fab9e 48.5px,#2eb0b8 59.5px,#5fc1d6 71.5px,#72c2e4 87.5px,#7cc1ec 136.5px,#539ee9 152.5px,#66aeea 181.5px)"></i><i style="top:31px;height:1px;background:linear-gradient(90deg,#2e76e5 0.5px,#3a83e7 8.5px,#5ea7e9 15.5px,#7fc3ec 20.5px,#6fc2e3 34.5px,#54bece 38.5px,#2aaeb6 41.5px,#30aa99 47.5px,#2cacaa 57.5px,#31b1ba 63.5px,#5fc1d6 74.5px,#71c2e3 91.5px,#7cc1ec 137.5px,#5aa3e9 152.5px,#6eb4eb 181.5px)"></i><i style="top:32px;height:1px;background:linear-gradient(90deg,#2f77e6 0.5px,#3a84e7 8.5px,#5ea8e9 15.5px,#7ec4eb 21.5px,#6fc2e3 34.5px,#51bdcc 38.5px,#2baeb3 41.5px,#34aa93 47.5px,#2fab9e 56.5px,#2fb0b9 66.5px,#60c1d6 77.5px,#71c2e4 102.5px,#7cc1ec 138.5px,#60a9ea 152.5px,#75bbeb 181.5px)"></i><i style="top:33px;height:1px;background:linear-gradient(90deg,#2f77e6 0.5px,#3f89e7 9.5px,#7fc4ec 21.5px,#6fc2e2 34.5px,#4fbccb 38.5px,#2fb0b9 40.5px,#37ab8e 47.5px,#33aa93 55.5px,#2eb0b8 69.5px,#5ec1d5 79.5px,#72c2e4 110.5px,#7cc1ec 139.5px,#66aeea 152.5px,#7cc0ec 181.5px)"></i><i style="top:34px;height:1px;background:linear-gradient(90deg,#2f77e6 0.5px,#3f89e7 9.5px,#80c4ec 21.5px,#6fc2e3 34.5px,#4ebcca 38.5px,#2eafb8 40.5px,#3aab8b 47.5px,#39ab8c 55.5px,#2aaeb5 71.5px,#5bc0d3 81.5px,#7bc3e9 126.5px,#7abfec 141.5px,#6cb3ea 153.5px,#7ec4eb 181.5px)"></i><i style="top:35px;height:1px;background:linear-gradient(90deg,#3078e6 0.5px,#438ee7 10.5px,#7fc4ec 22.5px,#6fc2e3 34.5px,#4ebcca 38.5px,#2eafb8 40.5px,#3bab89 47.5px,#3fab84 55.5px,#2baeb6 74.5px,#5ac0d2 84.5px,#7bc3e9 127.5px,#7abfec 142.5px,#73b9eb 154.5px,#7dc4ea 175.5px,#7ac3e9 181.5px)"></i><i style="top:36px;height:1px;background:linear-gradient(90deg,#3078e6 0.5px,#438ee7 10.5px,#7fc3ec 22.5px,#70c2e3 34.5px,#50bdcc 38.5px,#30b0ba 40.5px,#34aa93 45.5px,#44ac7d 52.5px,#31aa97 67.5px,#2cafb7 77.5px,#5bc0d2 88.5px,#7bc3e9 130.5px,#7abfec 144.5px,#7fc3ec 158.5px,#76c3e7 181.5px)"></i><i style="top:37px;height:1px;background:linear-gradient(90deg,#3078e6 0.5px,#4691e8 11.5px,#7ec2ec 23.5px,#71c2e3 34.5px,#54bece 38.5px,#2aaeb4 41.5px,#40ab82 49.5px,#45ac7c 59.5px,#2badb1 78.5px,#3cb5c0 83.5px,#5fc1d6 93.5px,#7bc3e9 130.5px,#7ac3e9 163.5px,#72c2e4 181.5px)"></i><i style="top:38px;height:1px;background:linear-gradient(90deg,#3078e6 0.5px,#4894e8 12.5px,#7dc1ec 24.5px,#75c3e6 33.5px,#59c0d1 38.5px,#2dafb8 41.5px,#3bab89 48.5px,#4dad74 57.5px,#30aa98 73.5px,#2cafb7 83.5px,#5dc0d4 94.5px,#7cc4ea 129.5px,#79c3e8 158.5px,#6ec2e2 181.5px)"></i><i style="top:39px;height:1px;background:linear-gradient(90deg,#3179e6 0.5px,#4b96e8 13.5px,#7abfec 24.5px,#7cc4ea 31.5px,#5cc0d4 38.5px,#2aaeb5 42.5px,#46ac7b 52.5px,#52ae6f 60.5px,#2daca8 81.5px,#2fb0b9 86.5px,#5cc0d3 95.5px,#7dc4ea 128.5px,#6dc2e1 176.5px,#6ac2de 181.5px)"></i><i style="top:40px;height:1px;background:linear-gradient(90deg,#3179e6 0.5px,#4995e8 13.5px,#78beeb 25.5px,#7dc4ea 31.5px,#61c1d7 38.5px,#2aaeb4 43.5px,#41ab82 51.5px,#59af69 59.5px,#33aa94 78.5px,#2eb0b8 88.5px,#5dc0d4 97.5px,#7ec4eb 128.5px,#65c1db 181.5px)"></i><i style="top:41px;height:1px;background:linear-gradient(90deg,#3179e6 0.5px,#4b96e8 14.5px,#79beeb 27.5px,#7cc4ea 32.5px,#59c0d1 40.5px,#2aaeb5 44.5px,#3dab86 51.5px,#5db065 59.5px,#45ac7c 73.5px,#2aaeb5 89.5px,#5dc0d4 98.5px,#7fc4ec 127.5px,#61c1d7 181.5px)"></i><i style="top:42px;height:1px;background:linear-gradient(90deg,#3179e6 0.5px,#4b97e8 15.5px,#7ec2ec 30.5px,#6ac2df 38.5px,#4ebccb 42.5px,#2aaeb6 45.5px,#3aab8b 51.5px,#5fb063 59.5px,#55ae6c 70.5px,#30aa98 84.5px,#2cafb7 91.5px,#5cc0d3 99.5px,#7dc2ec 123.5px,#6bc2e0 156.5px,#5cc0d4 181.5px)"></i><i style="top:43px;height:1px;background:linear-gradient(90deg,#3179e6 0.5px,#4c98e8 16.5px,#7fc4ec 32.5px,#60c1d6 41.5px,#38b4be 45.5px,#2baeb7 46.5px,#3bab8a 52.5px,#62b160 60.5px,#56af6b 74.5px,#2daca8 89.5px,#31b1ba 93.5px,#5cc0d3 100.5px,#7ec2ec 121.5px,#7fc3ec 130.5px,#59c0d1 181.5px)"></i><i style="top:44px;height:1px;background:linear-gradient(90deg,#3078e6 0.5px,#4d99e8 17.5px,#7fc4eb 33.5px,#5cc0d3 43.5px,#2cafb7 47.5px,#36ab90 52.5px,#61b161 60.5px,#61b161 73.5px,#3dab87 84.5px,#2aaeb4 93.5px,#5ec1d5 102.5px,#7cc1ec 120.5px,#77bdeb 128.5px,#7cc4ea 134.5px,#53becd 181.5px)"></i><i style="top:45px;height:1px;background:linear-gradient(90deg,#3078e6 0.5px,#519ce8 19.5px,#7fc4eb 34.5px,#5dc0d4 44.5px,#2cafb7 48.5px,#37ab8f 53.5px,#61b161 61.5px,#68b25b 74.5px,#46ac7a 83.5px,#2daca8 92.5px,#2aaeb6 95.5px,#5dc0d4 103.5px,#7fc3ec 118.5px,#71b7eb 126.5px,#7dc4eb 134.5px,#59c0d1 170.5px,#4ebccb 181.5px)"></i><i style="top:46px;height:1px;background:linear-gradient(90deg,#3078e6 0.5px,#519de8 20.5px,#7ec4eb 36.5px,#5dc0d4 45.5px,#2aaeb6 49.5px,#3dab87 55.5px,#64b15f 63.5px,#6db356 75.5px,#4fad72 83.5px,#2eaba1 92.5px,#2fb0b9 97.5px,#5dc0d4 104.5px,#7dc2ec 117.5px,#6cb3ea 126.5px,#7dc4ea 135.5px,#59c0d1 165.5px,#4bbbc8 181.5px)"></i><i style="top:47px;height:1px;background:linear-gradient(90deg,#3078e6 0.5px,#529de8 21.5px,#7ec4eb 37.5px,#63c1d9 45.5px,#46b9c6 48.5px,#2aaeb5 50.5px,#3cab87 56.5px,#69b25a 66.5px,#71b353 76.5px,#4bac76 85.5px,#2eaca4 94.5px,#2aaeb6 98.5px,#5ec1d5 105.5px,#80c4ec 115.5px,#67afea 125.5px,#7fc4eb 135.5px,#5ac0d1 160.5px,#48bac7 181.5px)"></i><i style="top:48px;height:1px;background:linear-gradient(90deg,#3077e6 0.5px,#529de8 22.5px,#7fc4eb 38.5px,#63c1d9 46.5px,#37b3bd 50.5px,#2aaeb5 51.5px,#40ab83 58.5px,#6fb354 69.5px,#71b452 78.5px,#2fab9c 94.5px,#2fb0b9 100.5px,#60c1d6 106.5px,#80c4ec 114.5px,#62abea 124.5px,#7ec4eb 136.5px,#5ac0d2 157.5px,#46b9c6 181.5px)"></i><i style="top:49px;height:1px;background:linear-gradient(90deg,#2f77e6 0.5px,#519de8 23.5px,#7fc4eb 39.5px,#62c1d8 47.5px,#2aaeb6 52.5px,#3eab86 59.5px,#71b353 70.5px,#75b450 78.5px,#45ac7b 89.5px,#2daca7 98.5px,#2cafb7 101.5px,#63c1d9 107.5px,#7fc4eb 113.5px,#5ea7e9 123.5px,#6fb6eb 132.5px,#7dc4ea 137.5px,#5ac0d2 155.5px,#45b9c5 181.5px)"></i><i style="top:50px;height:1px;background:linear-gradient(90deg,#2f77e6 0.5px,#519ce8 24.5px,#7fc4eb 40.5px,#5bc0d2 49.5px,#2cafb7 53.5px,#3bab89 60.5px,#73b451 71.5px,#78b54f 79.5px,#4ead73 89.5px,#2daca5 99.5px,#2aaeb6 102.5px,#61c1d7 107.5px,#7fc3ec 113.5px,#5ba5e9 121.5px,#61a9ea 129.5px,#7fc4eb 137.5px,#5ac0d2 153.5px,#45b9c5 181.5px)"></i><i style="top:51px;height:1px;background:linear-gradient(90deg,#2f76e6 0.5px,#509ce8 25.5px,#7fc4eb 41.5px,#5bc0d2 50.5px,#2baeb3 55.5px,#39ab8b 61.5px,#74b450 72.5px,#7ab54e 80.5px,#52ae6f 90.5px,#2eaba3 100.5px,#2aaeb6 103.5px,#5dc0d4 107.5px,#7dc4eb 112.5px,#56a0e9 121.5px,#5ca6e9 129.5px,#80c4ec 137.5px,#59c0d1 153.5px,#45b9c5 181.5px)"></i><i style="top:52px;height:1px;background:linear-gradient(90deg,#2e76e5 0.5px,#529de8 27.5px,#7ec4eb 42.5px,#55bfcf 52.5px,#2aaeb5 56.5px,#3dab87 63.5px,#72b452 72.5px,#81b74d 79.5px,#66b15d 88.5px,#2eaba1 101.5px,#2dafb7 104.5px,#62c1d8 108.5px,#7ec4eb 112.5px,#519ce8 121.5px,#57a2e9 129.5px,#7ec4eb 138.5px,#59c0d0 152.5px,#45b9c6 181.5px)"></i><i style="top:53px;height:1px;background:linear-gradient(90deg,#2e75e5 0.5px,#519ce8 28.5px,#7dc4eb 43.5px,#59c0d1 53.5px,#2badb2 58.5px,#3cab88 64.5px,#75b450 73.5px,#87b84b 80.5px,#6bb258 89.5px,#2eaba1 102.5px,#30b0ba 105.5px,#5ec1d5 108.5px,#7dc4ea 112.5px,#4d99e8 121.5px,#539ee9 129.5px,#7fc4ec 138.5px,#58c0d0 151.5px,#46b9c6 181.5px)"></i><i style="top:54px;height:1px;background:linear-gradient(90deg,#2d75e5 0.5px,#4f9be8 29.5px,#7fc4ec 43.5px,#5bc0d2 54.5px,#2aaeb4 59.5px,#3cab88 65.5px,#7ab54e 74.5px,#90ba49 80.5px,#7ab54e 88.5px,#45ac7d 98.5px,#2baeb3 105.5px,#62c1d8 109.5px,#7ec2ec 113.5px,#4d99e8 120.5px,#4f9ae8 129.5px,#80c4ec 138.5px,#57c0cf 151.5px,#47b9c6 181.5px)"></i><i style="top:55px;height:1px;background:linear-gradient(90deg,#2d74e5 0.5px,#4e9ae8 30.5px,#7fc4eb 44.5px,#5dc0d4 55.5px,#2aaeb5 60.5px,#3bab89 66.5px,#7bb54e 74.5px,#9bbc46 80.5px,#8bb94a 87.5px,#62b161 95.5px,#2eaba2 104.5px,#2aaeb5 106.5px,#66c1dc 110.5px,#7ec4eb 113.5px,#4c98e8 120.5px,#4b97e8 129.5px,#7fc3ec 138.5px,#55bfce 151.5px,#47b9c6 181.5px)"></i><i style="top:56px;height:1px;background:linear-gradient(90deg,#2c73e5 0.5px,#4a96e8 30.5px,#7ec4eb 45.5px,#5ec1d5 56.5px,#2aaeb6 61.5px,#35aa91 66.5px,#5db064 71.5px,#89b84a 75.5px,#aabf42 80.5px,#9cbc45 86.5px,#6bb258 95.5px,#2eaba3 105.5px,#2cafb7 107.5px,#5fc1d6 110.5px,#7ec2ec 114.5px,#4c97e8 120.5px,#4793e8 128.5px,#69b1ea 135.5px,#7fc3ec 138.5px,#53becd 151.5px,#47b9c6 181.5px)"></i><i style="top:57px;height:1px;background:linear-gradient(90deg,#2c73e5 0.5px,#4691e8 29.5px,#7fc4eb 46.5px,#5fc1d6 57.5px,#2cafb7 62.5px,#36aa91 67.5px,#59af69 71.5px,#81b74c 74.5px,#b1c040 78.5px,#b6c040 83.5px,#6fb355 96.5px,#2eaca4 106.5px,#2fb0b9 108.5px,#62c1d8 111.5px,#7cc4ea 114.5px,#65adea 117.5px,#4994e8 121.5px,#4591e8 128.5px,#62aaea 134.5px,#80c4ec 138.5px,#51bdcc 151.5px,#47b9c6 181.5px)"></i><i style="top:58px;height:1px;background:linear-gradient(90deg,#2b72e4 0.5px,#428ce7 28.5px,#63acea 39.5px,#7fc4eb 47.5px,#60c1d7 58.5px,#3bb5c0 62.5px,#2badb1 64.5px,#37ab8f 68.5px,#54ae6d 71.5px,#86b84b 74.5px,#b5c040 77.5px,#c8c13f 81.5px,#aabf42 88.5px,#6bb258 98.5px,#2faa9c 106.5px,#32b1ba 109.5px,#64c1da 112.5px,#7ec4eb 115.5px,#4995e8 121.5px,#448fe7 128.5px,#5aa4e9 133.5px,#7fc4ec 138.5px,#4fbdcb 151.5px,#46b9c6 181.5px)"></i><i style="top:59px;height:1px;background:linear-gradient(90deg,#2a71e4 0.5px,#3f89e7 28.5px,#5fa8e9 39.5px,#7fc4ec 48.5px,#61c1d8 59.5px,#3eb6c2 63.5px,#2badb2 65.5px,#39ab8c 69.5px,#62b160 72.5px,#8db949 74.5px,#c2c13f 77.5px,#d7c23e 80.5px,#c7c13f 85.5px,#6db356 99.5px,#2fab9c 107.5px,#2badb1 109.5px,#48bac7 111.5px,#70c2e3 114.5px,#80c4ec 116.5px,#4b96e8 121.5px,#428ce7 127.5px,#539ee9 132.5px,#7ec4eb 138.5px,#4ebcca 151.5px,#46b9c6 181.5px)"></i><i style="top:60px;height:1px;background:linear-gradient(90deg,#2a70e4 0.5px,#3a84e7 27.5px,#5aa4e9 39.5px,#7ec4eb 50.5px,#5ec1d5 61.5px,#2baeb3 66.5px,#3fab84 70.5px,#61b161 72.5px,#94ba47 74.5px,#c1c13f 76.5px,#e3c03d 79.5px,#dbc23e 84.5px,#8eb949 95.5px,#67b25b 101.5px,#2fab9d 108.5px,#2badb2 110.5px,#67c1dd 114.5px,#7cc0ec 117.5px,#4894e8 122.5px,#438ee7 128.5px,#5ba5e9 133.5px,#7ec2ec 137.5px,#4cbbc9 151.5px,#45b9c5 181.5px)"></i><i style="top:61px;height:1px;background:linear-gradient(90deg,#296fe4 0.5px,#3881e7 27.5px,#59a3e9 40.5px,#7fc4ec 51.5px,#61c1d7 62.5px,#44b8c5 65.5px,#2badb2 67.5px,#3bab8a 70.5px,#60b062 72.5px,#9dbc45 74.5px,#e0c23e 77.5px,#e9b338 81.5px,#e0c23e 85.5px,#9ebc45 93.5px,#70b354 101.5px,#33aa94 108.5px,#2baeb3 111.5px,#6ac2de 115.5px,#7dc4ea 117.5px,#4b97e8 122.5px,#448fe7 128.5px,#5ea7e9 133.5px,#80c4ec 137.5px,#4abac8 151.5px,#44b8c5 181.5px)"></i><i style="top:62px;height:1px;background:linear-gradient(90deg,#286fe3 0.5px,#3780e6 28.5px,#5ca5e9 42.5px,#7fc4eb 53.5px,#64c1da 63.5px,#45b9c5 66.5px,#32b1ba 67.5px,#2eaba0 69.5px,#45ac7c 71.5px,#7fb64d 73.5px,#c2c13f 75.5px,#dbc23e 76.5px,#eea833 80.5px,#dfc23e 86.5px,#a8be42 92.5px,#70b354 102.5px,#32aa95 109.5px,#2aaeb4 112.5px,#61c1d7 115.5px,#7fc4ec 118.5px,#4a95e8 123.5px,#4894e8 129.5px,#7dc4eb 137.5px,#49bac7 150.5px,#43b8c4 181.5px)"></i><i style="top:63px;height:1px;background:linear-gradient(90deg,#286ee3 0.5px,#367fe6 29.5px,#5da7e9 44.5px,#7fc4ec 55.5px,#67c1dd 64.5px,#56bfcf 66.5px,#2aaeb6 68.5px,#32aa95 70.5px,#5db065 72.5px,#81b74c 73.5px,#cbc13f 75.5px,#e3bf3d 76.5px,#f2a030 79.5px,#eea733 83.5px,#dac23e 87.5px,#a5be43 93.5px,#77b54f 102.5px,#31aa97 110.5px,#2baeb7 113.5px,#57c0d0 115.5px,#7dc1ec 119.5px,#4f9be8 123.5px,#4994e8 128.5px,#6fb6eb 134.5px,#80c4ec 136.5px,#47b9c6 150.5px,#42b7c3 181.5px)"></i><i style="top:64px;height:1px;background:linear-gradient(90deg,#276de3 0.5px,#347ce6 29.5px,#5ea7e9 46.5px,#7fc4eb 59.5px,#69c2de 65.5px,#52becd 67.5px,#38b4be 68.5px,#2cadad 69.5px,#3fab84 71.5px,#5aaf67 72.5px,#82b74c 73.5px,#b1c040 74.5px,#d2c13f 75.5px,#e6ba3b 76.5px,#f2982a 79.5px,#f29a2c 82.5px,#dfc23e 87.5px,#adbf41 92.5px,#75b450 103.5px,#30aa99 111.5px,#31b1ba 114.5px,#67c1dc 117.5px,#7bc3e9 119.5px,#6db4eb 121.5px,#4d99e8 125.5px,#57a1e9 130.5px,#7ec2ec 135.5px,#44b8c5 150.5px,#40b7c3 181.5px)"></i><i style="top:65px;height:1px;background:linear-gradient(90deg,#266ce3 0.5px,#337ce6 30.5px,#5da6e9 48.5px,#7cc4ea 63.5px,#5ec1d5 67.5px,#2aaeb4 69.5px,#3bab89 71.5px,#56af6b 72.5px,#80b64d 73.5px,#b2c040 74.5px,#d5c13f 75.5px,#efa733 77.5px,#f19024 80.5px,#f0a532 84.5px,#e2c23e 87.5px,#b4c040 91.5px,#7ab54e 103.5px,#35aa92 111.5px,#2badb2 114.5px,#6ac2df 118.5px,#7cc4ea 120.5px,#56a1e9 126.5px,#66aeea 131.5px,#7dc4ea 135.5px,#44b8c4 149.5px,#3fb6c2 181.5px)"></i><i style="top:66px;height:1px;background:linear-gradient(90deg,#266be3 0.5px,#337be6 31.5px,#60a9ea 52.5px,#7abfec 63.5px,#79c3e8 65.5px,#57bfcf 68.5px,#35b2bc 69.5px,#2daca7 70.5px,#37ab8f 71.5px,#4fad71 72.5px,#7ab54e 73.5px,#b0c040 74.5px,#d5c13f 75.5px,#f0a532 77.5px,#f18d22 80.5px,#f0a331 84.5px,#e2c23e 87.5px,#b3c040 91.5px,#93ba48 98.5px,#6eb356 105.5px,#32aa95 112.5px,#2aaeb5 115.5px,#61c1d7 118.5px,#7cc4ea 121.5px,#63abea 127.5px,#7dc4ea 134.5px,#41b7c3 149.5px,#3eb6c1 181.5px)"></i><i style="top:67px;height:1px;background:linear-gradient(90deg,#256be2 0.5px,#327ae6 32.5px,#6eb5eb 63.5px,#7fc3ec 65.5px,#60c1d6 68.5px,#2cadae 70.5px,#32aa95 71.5px,#47ac79 72.5px,#72b452 73.5px,#a8be42 74.5px,#d1c13f 75.5px,#e7b83a 76.5px,#f19125 79.5px,#f19326 82.5px,#e1c23e 87.5px,#b1c040 91.5px,#94ba47 97.5px,#77b54f 104.5px,#30aa99 113.5px,#2eb0b8 116.5px,#61c1d8 119.5px,#7fc4ec 123.5px,#72b8eb 128.5px,#7cc4ea 133.5px,#3fb6c2 149.5px,#3cb5c0 181.5px)"></i><i style="top:68px;height:1px;background:linear-gradient(90deg,#256ae2 0.5px,#327ae6 34.5px,#5da6e9 62.5px,#80c4ec 66.5px,#68c1dd 68.5px,#52becd 69.5px,#2aaeb5 70.5px,#2fab9d 71.5px,#42ab80 72.5px,#68b25b 73.5px,#9cbc45 74.5px,#c8c13f 75.5px,#e5bc3c 76.5px,#f19528 79.5px,#f19628 82.5px,#ddc23e 87.5px,#a5be43 92.5px,#78b54f 104.5px,#3bab8a 112.5px,#2badb0 116.5px,#32b1ba 117.5px,#61c1d7 120.5px,#7fc4ec 126.5px,#6fc2e2 135.5px,#3db5c1 149.5px,#3bb5c0 181.5px)"></i><i style="top:69px;height:1px;background:linear-gradient(90deg,#2469e2 0.5px,#347ce6 38.5px,#519de8 62.5px,#7cc4ea 67.5px,#5dc0d4 69.5px,#38b3be 70.5px,#2daca5 71.5px,#3bab89 72.5px,#5baf67 73.5px,#8bb94a 74.5px,#bcc040 75.5px,#dfc23e 76.5px,#f29c2d 79.5px,#f29c2d 82.5px,#e4be3d 86.5px,#a0bd44 92.5px,#71b353 105.5px,#2eaba0 115.5px,#2badb2 117.5px,#5ec1d5 121.5px,#77c3e7 127.5px,#5fc1d5 138.5px,#3bb4bf 149.5px,#3ab4bf 181.5px)"></i><i style="top:70px;height:1px;background:linear-gradient(90deg,#2469e2 0.5px,#357ee6 43.5px,#4c98e8 63.5px,#6bb2ea 66.5px,#7cc1ec 67.5px,#65c1da 69.5px,#2cadad 71.5px,#34aa92 72.5px,#4dad74 73.5px,#78b54f 74.5px,#acbf41 75.5px,#cfc13f 76.5px,#e5bc3b 77.5px,#f2a130 80.5px,#eab137 84.5px,#e1c23e 86.5px,#9bbc46 92.5px,#6bb258 106.5px,#30aa99 115.5px,#2baeb2 118.5px,#60c1d6 123.5px,#6dc2e1 130.5px,#38b3be 150.5px,#39b4be 181.5px)"></i><i style="top:71px;height:1px;background:linear-gradient(90deg,#2368e2 0.5px,#3780e7 49.5px,#4792e8 63.5px,#61aaea 66.5px,#7cc4ea 68.5px,#55bfce 70.5px,#2aaeb5 71.5px,#2fab9c 72.5px,#42ac80 73.5px,#66b15d 74.5px,#94ba47 75.5px,#bdc13f 76.5px,#dac23e 77.5px,#edab35 80.5px,#e7b83a 84.5px,#cac13f 87.5px,#90ba49 93.5px,#6fb355 105.5px,#2eaba3 117.5px,#2eb0b8 120.5px,#59c0d0 124.5px,#61c1d8 132.5px,#36b3bd 150.5px,#37b3be 181.5px)"></i><i style="top:72px;height:1px;background:linear-gradient(90deg,#2368e2 0.5px,#3780e7 54.5px,#4691e8 64.5px,#59a3e9 66.5px,#7ec3ec 68.5px,#5ec1d5 70.5px,#38b3be 71.5px,#2daca5 72.5px,#3aab8a 73.5px,#55ae6c 74.5px,#7cb64e 75.5px,#a8be42 76.5px,#ddc23e 78.5px,#e7b739 82.5px,#dbc23e 85.5px,#90ba48 92.5px,#6db357 105.5px,#2eaba3 118.5px,#2aaeb5 121.5px,#55bfce 127.5px,#53becd 136.5px,#35b2bc 150.5px,#36b3bd 181.5px)"></i><i style="top:73px;height:1px;background:linear-gradient(90deg,#2267e1 0.5px,#367fe6 60.5px,#4793e8 65.5px,#62aaea 67.5px,#76bceb 68.5px,#77c3e7 69.5px,#65c1da 70.5px,#2cadad 72.5px,#33aa95 73.5px,#46ac7a 74.5px,#69b25a 75.5px,#b3c040 77.5px,#d9c23e 79.5px,#e3bf3d 81.5px,#d9c23e 84.5px,#8bb94a 92.5px,#67b25c 106.5px,#2eaba1 119.5px,#2aaeb6 123.5px,#4bbbc9 130.5px,#41b7c3 141.5px,#34b2bb 154.5px,#35b2bc 181.5px)"></i><i style="top:74px;height:1px;background:linear-gradient(90deg,#2267e1 0.5px,#347de6 61.5px,#4b97e8 66.5px,#7bc3e9 69.5px,#52bdcc 71.5px,#2aaeb4 72.5px,#3fab84 74.5px,#79b54f 76.5px,#b7c040 78.5px,#d6c23e 81.5px,#c6c13f 85.5px,#81b74c 93.5px,#61b161 107.5px,#2eaba0 120.5px,#2dafb8 126.5px,#43b8c4 134.5px,#33b1bb 155.5px,#35b2bc 181.5px)"></i><i style="top:75px;height:1px;background:linear-gradient(90deg,#2267e1 0.5px,#3179e6 61.5px,#4994e8 66.5px,#7fc4eb 69.5px,#5ac0d1 71.5px,#32b1bb 72.5px,#2eaca4 73.5px,#4bad75 75.5px,#69b25a 76.5px,#a4be43 78.5px,#c2c13f 80.5px,#c8c13f 83.5px,#99bb46 89.5px,#77b54f 95.5px,#5cb066 108.5px,#2eaba2 122.5px,#2eafb8 129.5px,#3db5c1 138.5px,#33b1bb 157.5px,#34b2bc 181.5px)"></i><i style="top:76px;height:1px;background:linear-gradient(90deg,#2267e1 0.5px,#2f77e6 61.5px,#4792e8 66.5px,#67aeea 68.5px,#7ec2ec 69.5px,#5ec1d5 71.5px,#3bb4bf 72.5px,#2daca9 73.5px,#44ac7d 75.5px,#79b54f 77.5px,#aabf42 79.5px,#bfc13f 82.5px,#a8be42 87.5px,#7bb54e 93.5px,#57af6a 109.5px,#2eaba1 123.5px,#30b0ba 132.5px,#37b3bd 142.5px,#33b2bb 178.5px,#33b2bb 181.5px)"></i><i style="top:77px;height:1px;background:linear-gradient(90deg,#2267e1 0.5px,#2e76e5 61.5px,#4591e8 66.5px,#64adea 68.5px,#7bc0ec 69.5px,#60c1d7 71.5px,#2cadad 73.5px,#40ab82 75.5px,#6fb355 77.5px,#adbf41 80.5px,#b9c040 83.5px,#9bbc46 88.5px,#75b450 94.5px,#53ae6e 110.5px,#2eaba1 124.5px,#2fb0b9 133.5px,#35b2bc 143.5px,#33b2bb 181.5px)"></i><i style="top:78px;height:1px;background:linear-gradient(90deg,#2267e1 0.5px,#2e76e5 61.5px,#4590e8 66.5px,#64acea 68.5px,#7bc0ec 69.5px,#61c1d8 71.5px,#2cadae 73.5px,#3eab85 75.5px,#6ab259 77.5px,#a7be42 80.5px,#b5c040 83.5px,#a2bd44 87.5px,#74b450 94.5px,#52ae6f 110.5px,#2eaca3 125.5px,#31b1ba 134.5px,#32b1ba 146.5px,#33b2bb 181.5px)"></i><i style="top:79px;height:1px;background:linear-gradient(90deg,#2267e1 0.5px,#2f77e6 61.5px,#4691e8 66.5px,#65adea 68.5px,#7cc1ec 69.5px,#61c1d7 71.5px,#2cadae 73.5px,#3eab85 75.5px,#80b64d 78.5px,#afc040 81.5px,#b0c040 85.5px,#75b450 94.5px,#52ae6f 110.5px,#2eaba2 124.5px,#2dafb8 132.5px,#38b3be 141.5px,#34b2bb 166.5px,#33b2bb 181.5px)"></i><i style="top:80px;height:1px;background:linear-gradient(90deg,#2267e1 0.5px,#3079e6 61.5px,#4893e8 66.5px,#7fc3ec 69.5px,#5ec1d5 71.5px,#3eb6c1 72.5px,#2cadac 73.5px,#3fab84 75.5px,#6bb258 77.5px,#a7be42 80.5px,#b6c040 83.5px,#a5be43 87.5px,#78b54f 94.5px,#56af6b 109.5px,#2eaba0 122.5px,#2dafb8 130.5px,#3bb5c0 139.5px,#33b1bb 158.5px,#34b2bc 181.5px)"></i><i style="top:81px;height:1px;background:linear-gradient(90deg,#2267e1 0.5px,#347ce6 61.5px,#4b97e8 66.5px,#7dc4eb 69.5px,#5bc0d2 71.5px,#37b3bd 72.5px,#2daca9 73.5px,#42ac80 75.5px,#70b353 77.5px,#aec041 80.5px,#b9c040 84.5px,#7cb64e 94.5px,#60b062 107.5px,#2fab9f 120.5px,#2fb0b9 127.5px,#42b8c4 136.5px,#33b1bb 155.5px,#34b2bc 181.5px)"></i><i style="top:82px;height:1px;background:linear-gradient(90deg,#2267e1 0.5px,#367fe6 60.5px,#4792e8 65.5px,#5fa8e9 67.5px,#7ac3e9 69.5px,#55bfcf 71.5px,#2fb0b9 72.5px,#36ab90 74.5px,#5fb064 76.5px,#77b54f 77.5px,#a6be43 79.5px,#bfc13f 82.5px,#b0c040 87.5px,#84b74c 93.5px,#66b15d 106.5px,#2eaba0 119.5px,#2eb0b8 124.5px,#4abbc8 131.5px,#33b2bb 154.5px,#35b2bc 181.5px)"></i></div>
<div class="fld" style="left:271px;top:147px;width:182px;height:83px"><i style="top:0px;height:1px;background:linear-gradient(90deg,#564ecc 0.5px,#2260df 25.5px,#2368e2 119.5px,#2360de 136.5px,#4652d4 175.5px,#4552d4 181.5px)"></i><i style="top:1px;height:1px;background:linear-gradient(90deg,#574dcb 0.5px,#2161df 24.5px,#1f62e0 59.5px,#2d74e5 91.5px,#2166e1 134.5px,#295ddd 144.5px,#4652d4 178.5px,#4553d4 181.5px)"></i><i style="top:2px;height:1px;background:linear-gradient(90deg,#574dcc 0.5px,#2f5bdb 15.5px,#1e63e0 25.5px,#2161df 57.5px,#3982e7 87.5px,#2d75e5 126.5px,#2360df 144.5px,#4553d4 177.5px,#4353d5 181.5px)"></i><i style="top:3px;height:1px;background:linear-gradient(90deg,#544ecd 0.5px,#3659d9 12.5px,#1f63e0 20.5px,#2061df 56.5px,#448fe7 84.5px,#3c85e7 121.5px,#2161df 146.5px,#4353d5 177.5px,#4254d5 181.5px)"></i><i style="top:4px;height:1px;background:linear-gradient(90deg,#504fcf 0.5px,#3459d9 11.5px,#2064e1 18.5px,#2166e1 58.5px,#4f9be8 82.5px,#4d99e8 110.5px,#337be6 133.5px,#2161df 149.5px,#4154d6 178.5px,#4054d6 181.5px)"></i><i style="top:5px;height:1px;background:linear-gradient(90deg,#4a51d2 0.5px,#2b5ddc 11.5px,#2165e1 16.5px,#256ae2 30.5px,#2368e2 57.5px,#60a9ea 82.5px,#5fa8e9 109.5px,#3b84e7 133.5px,#1f62e0 151.5px,#3e55d6 178.5px,#3e55d7 181.5px)"></i><i style="top:6px;height:1px;background:linear-gradient(90deg,#4154d5 0.5px,#2065e1 13.5px,#2b72e4 27.5px,#2469e2 54.5px,#418ce7 67.5px,#6fb6eb 82.5px,#6eb5eb 109.5px,#509be8 127.5px,#2166e1 150.5px,#2b5ddc 162.5px,#3b56d7 181.5px)"></i><i style="top:7px;height:1px;background:linear-gradient(90deg,#3559d9 0.5px,#2065e1 10.5px,#3078e6 26.5px,#276de3 53.5px,#3e88e7 64.5px,#79beeb 80.5px,#7cc1ec 107.5px,#5da6e9 127.5px,#276ee3 147.5px,#2260df 159.5px,#3858d8 180.5px,#3858d8 181.5px)"></i><i style="top:8px;height:1px;background:linear-gradient(90deg,#275edd 0.5px,#2267e1 7.5px,#3882e7 25.5px,#2b72e4 51.5px,#3f89e7 62.5px,#80c4ec 78.5px,#7ec4eb 112.5px,#6bb2ea 126.5px,#2c73e5 146.5px,#2260df 162.5px,#3459d9 181.5px)"></i><i style="top:9px;height:1px;background:linear-gradient(90deg,#2165e1 0.5px,#418be7 24.5px,#2f77e6 49.5px,#4692e8 62.5px,#80c4ec 75.5px,#74c3e5 100.5px,#7abfec 124.5px,#2f77e6 146.5px,#2161df 164.5px,#315bda 181.5px)"></i><i style="top:10px;height:1px;background:linear-gradient(90deg,#286ee3 0.5px,#4a96e8 23.5px,#367fe6 49.5px,#509be8 62.5px,#7ec4eb 73.5px,#70c2e3 93.5px,#7bc0ec 127.5px,#377fe6 145.5px,#2161df 167.5px,#2c5cdc 181.5px)"></i><i style="top:11px;height:1px;background:linear-gradient(90deg,#2f77e6 0.5px,#59a3e9 23.5px,#3e88e7 48.5px,#55a0e9 60.5px,#80c4ec 70.5px,#6cc2e1 89.5px,#7bc3e9 125.5px,#7abfec 130.5px,#3c85e7 145.5px,#1f63e0 167.5px,#285edd 181.5px)"></i><i style="top:12px;height:1px;background:linear-gradient(90deg,#3a84e7 0.5px,#6ab1ea 20.5px,#5ca5e9 33.5px,#4691e8 45.5px,#56a0e9 56.5px,#7ec4eb 68.5px,#69c2de 88.5px,#77c3e7 125.5px,#7abfec 132.5px,#408be7 145.5px,#266be3 162.5px,#2360df 179.5px,#2360df 181.5px)"></i><i style="top:13px;height:1px;background:linear-gradient(90deg,#4691e8 0.5px,#78bdeb 15.5px,#76bbeb 29.5px,#4e9ae8 46.5px,#79beeb 62.5px,#7bc3e9 67.5px,#66c1dc 89.5px,#74c3e5 125.5px,#7ec2ec 133.5px,#428de7 146.5px,#266ce3 164.5px,#1e62e0 181.5px)"></i><i style="top:14px;height:1px;background:linear-gradient(90deg,#56a1e9 0.5px,#7fc3ec 8.5px,#7bc3e9 27.5px,#7abfec 34.5px,#5da6e9 46.5px,#7ec4eb 61.5px,#65c1da 87.5px,#71c2e4 125.5px,#7dc1ec 135.5px,#448fe7 147.5px,#276de3 166.5px,#2166e1 181.5px)"></i><i style="top:15px;height:1px;background:linear-gradient(90deg,#6bb2ea 0.5px,#80c4ec 3.5px,#6ac2df 16.5px,#7bc0ec 38.5px,#6bb2ea 47.5px,#7ec4eb 56.5px,#63c1d9 87.5px,#6ec2e2 125.5px,#7bc0ec 137.5px,#4692e8 148.5px,#286fe3 168.5px,#2469e2 181.5px)"></i><i style="top:16px;height:1px;background:linear-gradient(90deg,#7ec2ec 0.5px,#5cc0d3 12.5px,#73c3e5 34.5px,#7dc2ec 41.5px,#7bbfec 49.5px,#79c3e8 55.5px,#62c1d9 89.5px,#6dc2e1 126.5px,#7dc1ec 138.5px,#4691e8 150.5px,#2a70e4 171.5px,#276de3 181.5px)"></i><i style="top:17px;height:1px;background:linear-gradient(90deg,#77c3e7 0.5px,#43b8c4 11.5px,#4ebccb 21.5px,#7fc4ec 46.5px,#65c1db 72.5px,#68c1dd 123.5px,#7ec2ec 139.5px,#4691e8 152.5px,#2c73e5 173.5px,#2a71e4 181.5px)"></i><i style="top:18px;height:1px;background:linear-gradient(90deg,#6dc2e1 0.5px,#2bafb7 9.5px,#31b1ba 19.5px,#70c2e3 38.5px,#77c3e7 49.5px,#64c1da 67.5px,#67c1dd 124.5px,#7abfec 141.5px,#4893e8 153.5px,#2e76e5 176.5px,#2e75e5 181.5px)"></i><i style="top:19px;height:1px;background:linear-gradient(90deg,#63c1d9 0.5px,#2baeb7 5.5px,#2daca6 13.5px,#2dafb8 23.5px,#66c1db 36.5px,#75c3e6 47.5px,#62c1d8 66.5px,#68c1dd 126.5px,#7bc0ec 142.5px,#4893e8 155.5px,#327ae6 178.5px,#327ae6 181.5px)"></i><i style="top:20px;height:1px;background:linear-gradient(90deg,#5ac0d2 0.5px,#2eb0b8 3.5px,#2faa9b 10.5px,#2daca6 20.5px,#2eb0b8 26.5px,#63c1d9 36.5px,#72c2e4 47.5px,#60c1d6 65.5px,#68c1dd 128.5px,#7cc0ec 143.5px,#4792e8 158.5px,#3881e7 181.5px)"></i><i style="top:21px;height:1px;background:linear-gradient(90deg,#50bdcb 0.5px,#2dafb8 2.5px,#35aa91 9.5px,#34aa93 17.5px,#2aaeb6 27.5px,#5ec1d5 35.5px,#71c2e3 46.5px,#5fc1d6 66.5px,#68c1dd 129.5px,#7cc1ec 144.5px,#4893e8 160.5px,#3e88e7 181.5px)"></i><i style="top:22px;height:1px;background:linear-gradient(90deg,#45b9c5 0.5px,#2badb1 2.5px,#3dab86 9.5px,#3bab89 17.5px,#2aaeb6 28.5px,#5dc0d4 35.5px,#6fc2e3 46.5px,#5fc1d6 67.5px,#68c1dd 130.5px,#7dc1ec 145.5px,#4a95e8 162.5px,#448fe7 181.5px)"></i><i style="top:23px;height:1px;background:linear-gradient(90deg,#3db5c1 0.5px,#2baeb6 1.5px,#3eab85 7.5px,#47ac79 14.5px,#2eaca4 25.5px,#2fb0b9 29.5px,#5dc0d4 35.5px,#6ec2e2 46.5px,#5fc1d6 69.5px,#67c1dc 130.5px,#7dc2ec 146.5px,#4c98e8 164.5px,#4a96e8 181.5px)"></i><i style="top:24px;height:1px;background:linear-gradient(90deg,#36b3bd 0.5px,#2baeb3 1.5px,#43ac7e 7.5px,#52ae6f 13.5px,#32aa95 23.5px,#2dafb8 29.5px,#5bc0d2 34.5px,#6ec2e2 44.5px,#5fc1d5 76.5px,#67c1dc 131.5px,#7ec2ec 147.5px,#539ee9 165.5px,#539ee9 181.5px)"></i><i style="top:25px;height:1px;background:linear-gradient(90deg,#32b1ba 0.5px,#30aa99 3.5px,#52ae6e 9.5px,#56af6b 15.5px,#2eaca4 26.5px,#2cafb7 29.5px,#5cc0d3 34.5px,#6ec2e2 44.5px,#5ec1d5 84.5px,#68c1dd 132.5px,#7cc0ec 149.5px,#59a3e9 166.5px,#5da6e9 181.5px)"></i><i style="top:26px;height:1px;background:linear-gradient(90deg,#2fb0b9 0.5px,#39ab8c 4.5px,#5cb066 10.5px,#58af69 16.5px,#2eaca4 26.5px,#2dafb8 29.5px,#5dc0d4 34.5px,#6ec2e2 44.5px,#5fc1d5 92.5px,#6ac2de 134.5px,#7dc1ec 150.5px,#60a9ea 167.5px,#66aeea 181.5px)"></i><i style="top:27px;height:1px;background:linear-gradient(90deg,#2dafb8 0.5px,#3aab8b 4.5px,#5fb064 10.5px,#5aaf67 16.5px,#2eaca4 26.5px,#30b0b9 29.5px,#5ac0d2 33.5px,#6ec2e2 42.5px,#5ec1d5 98.5px,#6ac2df 135.5px,#7ec2ec 151.5px,#66aeea 168.5px,#6eb5eb 181.5px)"></i><i style="top:28px;height:1px;background:linear-gradient(90deg,#2dafb7 0.5px,#3aab8a 4.5px,#5fb063 10.5px,#59af68 16.5px,#2fab9f 25.5px,#2aaeb4 28.5px,#5cc0d3 33.5px,#6ec2e2 42.5px,#5ec1d5 101.5px,#6bc2e0 136.5px,#7cc1ec 153.5px,#6cb3ea 170.5px,#75bbeb 181.5px)"></i><i style="top:29px;height:1px;background:linear-gradient(90deg,#2dafb8 0.5px,#3aab8b 4.5px,#5cb066 10.5px,#56ae6c 16.5px,#2daca9 26.5px,#2baeb6 28.5px,#5ec1d5 33.5px,#6ec2e2 42.5px,#5ec1d5 104.5px,#6cc2e1 137.5px,#7cc0ec 155.5px,#73b9eb 173.5px,#7bc0ec 181.5px)"></i><i style="top:30px;height:1px;background:linear-gradient(90deg,#2fb0b9 0.5px,#38ab8d 4.5px,#57af6a 10.5px,#4fad71 16.5px,#2daca5 25.5px,#30b1ba 28.5px,#5ac0d2 32.5px,#6ec2e2 41.5px,#5dc0d4 107.5px,#6dc2e1 138.5px,#7dc2ec 156.5px,#7abfec 175.5px,#80c4ec 181.5px)"></i><i style="top:31px;height:1px;background:linear-gradient(90deg,#31b1ba 0.5px,#30aa99 3.5px,#4ead73 9.5px,#4cad75 15.5px,#2cacaa 25.5px,#2baeb7 27.5px,#5cc0d4 32.5px,#6dc2e1 41.5px,#5dc0d4 108.5px,#6dc2e1 138.5px,#7dc1ec 159.5px,#7dc4eb 181.5px)"></i><i style="top:32px;height:1px;background:linear-gradient(90deg,#34b2bc 0.5px,#2daca6 2.5px,#45ac7c 8.5px,#45ac7c 15.5px,#2badaf 25.5px,#33b2bb 27.5px,#5ec1d5 32.5px,#6dc2e1 42.5px,#5dc0d4 109.5px,#6dc2e1 138.5px,#7dc2ec 163.5px,#7bc3e9 181.5px)"></i><i style="top:33px;height:1px;background:linear-gradient(90deg,#38b3be 0.5px,#2aaeb4 1.5px,#3eab86 7.5px,#41ab82 14.5px,#2aaeb5 25.5px,#5cc0d4 31.5px,#6dc2e1 41.5px,#5cc0d4 109.5px,#6dc2e1 138.5px,#7fc4ec 169.5px,#7ac3e9 181.5px)"></i><i style="top:34px;height:1px;background:linear-gradient(90deg,#3cb5c0 0.5px,#2bafb7 1.5px,#39ab8c 7.5px,#3aab8a 14.5px,#2aaeb5 24.5px,#5bc0d3 30.5px,#6dc2e1 40.5px,#5cc0d3 107.5px,#6bc2df 136.5px,#7ec4eb 169.5px,#78c3e8 181.5px)"></i><i style="top:35px;height:1px;background:linear-gradient(90deg,#41b7c3 0.5px,#2badb0 2.5px,#36aa90 8.5px,#30aa99 16.5px,#2bafb7 23.5px,#5ec1d5 30.5px,#6dc2e1 41.5px,#5cc0d3 102.5px,#67c1dd 133.5px,#7dc4ea 166.5px,#77c3e7 181.5px)"></i><i style="top:36px;height:1px;background:linear-gradient(90deg,#45b9c6 0.5px,#2aaeb4 2.5px,#30aa98 8.5px,#2eaca4 17.5px,#2fb0b9 22.5px,#5ec1d5 29.5px,#6ec2e2 40.5px,#5bc0d3 93.5px,#64c1da 130.5px,#7cc4ea 163.5px,#76c3e6 181.5px)"></i><i style="top:37px;height:1px;background:linear-gradient(90deg,#4abbc8 0.5px,#2eb0b8 2.5px,#2fab9e 9.5px,#2baeb3 19.5px,#5fc1d5 28.5px,#6fc2e2 40.5px,#5ac0d2 83.5px,#63c1d9 129.5px,#7ac3e9 161.5px,#75c3e6 181.5px)"></i><i style="top:38px;height:1px;background:linear-gradient(90deg,#4fbdcb 0.5px,#2baeb7 3.5px,#2daca6 10.5px,#2baeb7 18.5px,#5fc1d6 27.5px,#70c2e3 39.5px,#58c0d0 75.5px,#62c1d8 128.5px,#79c3e8 158.5px,#74c3e5 181.5px)"></i><i style="top:39px;height:1px;background:linear-gradient(90deg,#54bece 0.5px,#2cafb7 4.5px,#2badaf 12.5px,#32b1ba 17.5px,#60c1d7 26.5px,#71c2e4 39.5px,#52becd 71.5px,#64c1da 129.5px,#79c3e8 157.5px,#73c3e5 181.5px)"></i><i style="top:40px;height:1px;background:linear-gradient(90deg,#58c0d0 0.5px,#2dafb8 6.5px,#31b1ba 14.5px,#64c1da 26.5px,#73c3e5 39.5px,#49bac8 67.5px,#5ac0d1 101.5px,#64c1da 129.5px,#78c3e8 155.5px,#72c2e4 181.5px)"></i><i style="top:41px;height:1px;background:linear-gradient(90deg,#5bc0d2 0.5px,#37b3bd 7.5px,#41b7c3 15.5px,#6ec2e2 29.5px,#70c2e3 43.5px,#40b7c2 63.5px,#5ac0d2 97.5px,#63c1d9 128.5px,#78c3e7 152.5px,#71c2e4 181.5px)"></i><i style="top:42px;height:1px;background:linear-gradient(90deg,#5dc0d4 0.5px,#42b7c3 8.5px,#52becd 17.5px,#76c3e6 34.5px,#66c1db 47.5px,#35b2bc 61.5px,#42b7c3 76.5px,#5ac0d2 93.5px,#61c1d7 126.5px,#78c3e7 150.5px,#71c2e3 181.5px)"></i><i style="top:43px;height:1px;background:linear-gradient(90deg,#60c1d6 0.5px,#4dbcca 10.5px,#77c3e7 35.5px,#63c1d9 47.5px,#2baeb6 59.5px,#31b1ba 72.5px,#59c0d1 91.5px,#61c1d7 126.5px,#78c3e7 149.5px,#70c2e3 181.5px)"></i><i style="top:44px;height:1px;background:linear-gradient(90deg,#62c1d8 0.5px,#5ac0d2 14.5px,#78c3e8 36.5px,#5ec1d5 47.5px,#2aaeb4 56.5px,#2badaf 68.5px,#30b0b9 75.5px,#59c0d1 91.5px,#61c1d7 126.5px,#78c3e8 149.5px,#6fc2e3 181.5px)"></i><i style="top:45px;height:1px;background:linear-gradient(90deg,#64c1d9 0.5px,#61c1d7 17.5px,#7ac3e9 35.5px,#5cc0d3 46.5px,#2aaeb4 53.5px,#2eaca3 64.5px,#2fb0b9 77.5px,#58c0d0 90.5px,#61c1d7 126.5px,#78c3e8 148.5px,#6ec2e2 181.5px)"></i><i style="top:46px;height:1px;background:linear-gradient(90deg,#65c1db 0.5px,#67c1dd 20.5px,#7bc3e9 35.5px,#59c0d1 45.5px,#2baeb3 51.5px,#30aa9a 61.5px,#2badaf 75.5px,#36b3bd 80.5px,#58c0d0 91.5px,#61c1d7 126.5px,#78c3e8 148.5px,#6ec2e2 181.5px)"></i><i style="top:47px;height:1px;background:linear-gradient(90deg,#67c1dc 0.5px,#6bc2df 21.5px,#7cc4ea 34.5px,#5cc0d3 43.5px,#2cafb7 48.5px,#36ab90 59.5px,#2faa9b 70.5px,#31b1ba 80.5px,#57c0cf 91.5px,#61c1d7 126.5px,#78c3e8 148.5px,#6dc2e1 181.5px)"></i><i style="top:48px;height:1px;background:linear-gradient(90deg,#68c1dd 0.5px,#6ec2e2 22.5px,#7dc4ea 34.5px,#5ac0d2 42.5px,#2dafb8 46.5px,#3dab87 57.5px,#3bab89 67.5px,#2baeb7 80.5px,#54bece 90.5px,#62c1d8 127.5px,#79c3e8 148.5px,#6cc2e1 181.5px)"></i><i style="top:49px;height:1px;background:linear-gradient(90deg,#69c2de 0.5px,#6ec2e2 22.5px,#7fc4eb 33.5px,#61c1d8 40.5px,#2baeb3 45.5px,#45ac7d 56.5px,#46ac7a 65.5px,#2badb0 79.5px,#38b3be 83.5px,#57c0cf 93.5px,#61c1d7 126.5px,#79c3e8 148.5px,#6bc2e0 181.5px)"></i><i style="top:50px;height:1px;background:linear-gradient(90deg,#69c2de 0.5px,#6fc2e3 22.5px,#80c4ec 33.5px,#64c1da 39.5px,#2fb0b9 43.5px,#38ab8d 49.5px,#5baf67 59.5px,#4ead73 67.5px,#2eaca3 77.5px,#2eb0b8 82.5px,#53becd 91.5px,#62c1d8 127.5px,#79c3e8 148.5px,#6bc2df 181.5px)"></i><i style="top:51px;height:1px;background:linear-gradient(90deg,#6ac2df 0.5px,#6fc2e3 22.5px,#7dc2ec 30.5px,#7ac3e9 35.5px,#53becd 40.5px,#2fb0b9 42.5px,#38ab8d 47.5px,#66b15d 56.5px,#68b25b 64.5px,#2fab9f 77.5px,#2aaeb6 82.5px,#52becd 91.5px,#64c1da 128.5px,#78c3e8 149.5px,#6ac2df 181.5px)"></i><i style="top:52px;height:1px;background:linear-gradient(90deg,#6bc2df 0.5px,#6fc2e3 22.5px,#7dc2ec 29.5px,#7ac3e9 35.5px,#5ac0d2 39.5px,#34b2bc 41.5px,#2daca6 43.5px,#66b15d 52.5px,#7eb64d 58.5px,#75b450 65.5px,#2faa9b 77.5px,#2dafb8 83.5px,#53becd 92.5px,#64c1da 128.5px,#78c3e8 149.5px,#69c2de 181.5px)"></i><i style="top:53px;height:1px;background:linear-gradient(90deg,#6bc2e0 0.5px,#6fc2e3 22.5px,#7fc3ec 28.5px,#7dc1ec 33.5px,#73c3e5 36.5px,#53becd 39.5px,#2aaeb5 41.5px,#44ac7e 46.5px,#78b54f 52.5px,#94ba48 59.5px,#88b84b 65.5px,#6cb258 69.5px,#3cab88 75.5px,#2badb2 82.5px,#54bece 93.5px,#62c1d8 127.5px,#78c3e8 149.5px,#69c2de 181.5px)"></i><i style="top:54px;height:1px;background:linear-gradient(90deg,#6bc2e0 0.5px,#6dc2e1 21.5px,#7dc2ec 28.5px,#7cc1ec 33.5px,#72c2e4 36.5px,#4cbbc9 39.5px,#34b2bc 40.5px,#2eaba2 42.5px,#5baf67 47.5px,#7ab54e 50.5px,#a0bd44 56.5px,#a2bd44 63.5px,#79b54f 69.5px,#3aab8a 76.5px,#2badb0 82.5px,#53becd 93.5px,#64c1da 128.5px,#78c3e8 149.5px,#68c1dd 181.5px)"></i><i style="top:55px;height:1px;background:linear-gradient(90deg,#6cc2e0 0.5px,#6dc2e1 21.5px,#7cc1ec 28.5px,#77bceb 32.5px,#7fc4eb 34.5px,#5bc0d2 38.5px,#2cafb7 40.5px,#37ab8f 43.5px,#74b450 48.5px,#a3bd43 53.5px,#b6c040 60.5px,#a4be43 66.5px,#70b354 71.5px,#3eab85 76.5px,#2daca9 81.5px,#33b2bb 85.5px,#54bfce 94.5px,#63c1d9 127.5px,#78c3e8 149.5px,#67c1dd 181.5px)"></i><i style="top:56px;height:1px;background:linear-gradient(90deg,#6cc2e0 0.5px,#6dc2e1 21.5px,#80c4ec 27.5px,#76bceb 32.5px,#7fc4eb 34.5px,#59c0d1 38.5px,#2aaeb4 40.5px,#3bab89 43.5px,#72b451 47.5px,#abbf41 52.5px,#c0c13f 60.5px,#b3c040 66.5px,#6eb355 72.5px,#41ab81 76.5px,#2daca7 81.5px,#2aaeb6 84.5px,#50bdcc 92.5px,#65c1db 128.5px,#78c3e8 149.5px,#67c1dc 181.5px)"></i><i style="top:57px;height:1px;background:linear-gradient(90deg,#6cc2e0 0.5px,#6dc2e1 21.5px,#7fc3ec 27.5px,#75bbeb 32.5px,#7fc4eb 34.5px,#56bfcf 38.5px,#2badb1 40.5px,#3eab85 43.5px,#7cb64e 47.5px,#aec040 51.5px,#c9c13f 59.5px,#bcc040 66.5px,#95bb47 70.5px,#69b25a 73.5px,#3dab87 77.5px,#2daca5 81.5px,#30b0b9 85.5px,#53becd 93.5px,#64c1da 127.5px,#79c3e8 148.5px,#66c1db 181.5px)"></i><i style="top:58px;height:1px;background:linear-gradient(90deg,#6cc2e1 0.5px,#6dc2e1 21.5px,#7fc3ec 27.5px,#75bbeb 32.5px,#7fc4eb 34.5px,#64c1da 37.5px,#2badaf 40.5px,#41ab82 43.5px,#72b452 46.5px,#adbf41 50.5px,#cdc13f 57.5px,#cdc13f 64.5px,#aec041 69.5px,#70b354 73.5px,#3fab84 77.5px,#2eaca4 81.5px,#2fb0b9 85.5px,#53becd 93.5px,#63c1d9 126.5px,#79c3e8 147.5px,#65c1da 181.5px)"></i><i style="top:59px;height:1px;background:linear-gradient(90deg,#6cc2e1 0.5px,#6dc2e1 21.5px,#7ec3ec 27.5px,#75baeb 32.5px,#7fc4eb 34.5px,#63c1d9 37.5px,#38b3be 39.5px,#2cadae 40.5px,#42ac80 43.5px,#76b44f 46.5px,#b2c040 50.5px,#d5c13f 58.5px,#d1c13f 65.5px,#a9bf42 70.5px,#67b25c 74.5px,#41ab81 77.5px,#2daca9 82.5px,#2eb0b8 85.5px,#53becd 93.5px,#64c1da 126.5px,#79c3e8 147.5px,#64c1da 181.5px)"></i><i style="top:60px;height:1px;background:linear-gradient(90deg,#6cc2e1 0.5px,#6dc2e1 21.5px,#7ec3ec 27.5px,#75baeb 32.5px,#7fc4eb 34.5px,#63c1d9 37.5px,#37b3be 39.5px,#2cadae 40.5px,#43ac7f 43.5px,#78b54f 46.5px,#b4c040 50.5px,#d9c23e 58.5px,#d6c23e 65.5px,#b0c040 70.5px,#6bb258 74.5px,#43ac7f 77.5px,#2eaba2 81.5px,#2eb0b8 85.5px,#53becd 93.5px,#63c1d9 125.5px,#79c3e8 146.5px,#63c1d9 181.5px)"></i><i style="top:61px;height:1px;background:linear-gradient(90deg,#6cc2e1 0.5px,#6dc2e1 21.5px,#7fc3ec 27.5px,#75baeb 32.5px,#7fc4eb 34.5px,#63c1d9 37.5px,#38b3be 39.5px,#2cadae 40.5px,#42ac7f 43.5px,#77b54f 46.5px,#b4c040 50.5px,#dbc23e 58.5px,#dac23e 65.5px,#b3c040 70.5px,#6eb356 74.5px,#3cab88 78.5px,#2cadae 83.5px,#35b2bc 86.5px,#55bfce 94.5px,#61c1d7 123.5px,#79c3e8 145.5px,#62c1d8 181.5px)"></i><i style="top:62px;height:1px;background:linear-gradient(90deg,#6cc2e0 0.5px,#6dc2e1 21.5px,#7fc3ec 27.5px,#75bbeb 32.5px,#7fc4eb 34.5px,#64c1d9 37.5px,#2badaf 40.5px,#41ab81 43.5px,#75b450 46.5px,#b3c040 50.5px,#dbc23e 58.5px,#dbc23e 65.5px,#b5c040 70.5px,#6fb354 74.5px,#3cab88 78.5px,#2daca8 82.5px,#2eb0b8 85.5px,#51bdcc 92.5px,#63c1d9 124.5px,#79c3e8 144.5px,#61c1d7 181.5px)"></i><i style="top:63px;height:1px;background:linear-gradient(90deg,#6cc2e0 0.5px,#6dc2e1 21.5px,#7fc3ec 27.5px,#76bbeb 32.5px,#7fc4eb 34.5px,#56bfcf 38.5px,#2badb1 40.5px,#3fab83 43.5px,#70b353 46.5px,#afc040 50.5px,#dac23e 58.5px,#dec23e 64.5px,#bfc13f 69.5px,#81b74c 73.5px,#44ac7d 77.5px,#2eaba2 81.5px,#2eb0b8 85.5px,#51bdcc 92.5px,#64c1da 124.5px,#79c3e8 144.5px,#5fc1d6 181.5px)"></i><i style="top:64px;height:1px;background:linear-gradient(90deg,#6bc2e0 0.5px,#6dc2e1 21.5px,#80c4ec 27.5px,#77bceb 32.5px,#7ec4eb 34.5px,#58c0d0 38.5px,#2baeb3 40.5px,#3dab87 43.5px,#7bb54e 47.5px,#b2c040 51.5px,#dcc23e 60.5px,#d4c13f 66.5px,#b3c040 70.5px,#6db356 74.5px,#43ac7e 77.5px,#2eaba2 81.5px,#2fb0b9 85.5px,#52bdcc 92.5px,#65c1da 124.5px,#79c3e8 144.5px,#5ec1d5 181.5px)"></i><i style="top:65px;height:1px;background:linear-gradient(90deg,#6bc2df 0.5px,#6dc2e1 21.5px,#7cc1ec 28.5px,#78bdeb 32.5px,#7ec4eb 34.5px,#59c0d1 38.5px,#2aaeb5 40.5px,#3aab8b 43.5px,#72b452 47.5px,#b3c040 52.5px,#d8c23e 61.5px,#c9c13f 67.5px,#9ebc45 71.5px,#6ab259 74.5px,#42ab80 77.5px,#2eaba3 81.5px,#30b0b9 85.5px,#52bdcc 92.5px,#65c1db 124.5px,#78c3e8 144.5px,#5dc0d4 181.5px)"></i><i style="top:66px;height:1px;background:linear-gradient(90deg,#6ac2df 0.5px,#6dc2e1 21.5px,#7ec2ec 28.5px,#78c3e7 35.5px,#5bc0d2 38.5px,#2eafb8 40.5px,#36ab90 43.5px,#77b54f 48.5px,#b3c040 53.5px,#d1c13f 61.5px,#c3c13f 67.5px,#a6be43 70.5px,#74b450 73.5px,#40ab83 77.5px,#2eaca4 81.5px,#31b1ba 85.5px,#54bece 93.5px,#65c1da 123.5px,#78c3e8 143.5px,#5bc0d3 181.5px)"></i><i style="top:67px;height:1px;background:linear-gradient(90deg,#69c2de 0.5px,#70c2e3 22.5px,#7cc0ec 29.5px,#78c3e7 35.5px,#5dc0d4 38.5px,#34b2bb 40.5px,#2eaba2 42.5px,#51ae6f 46.5px,#7ab54f 49.5px,#b0c040 54.5px,#cac13f 62.5px,#b4c040 68.5px,#6db356 73.5px,#3eab86 77.5px,#2daca6 81.5px,#2aaeb6 84.5px,#4fbccb 91.5px,#69c2de 125.5px,#77c3e7 145.5px,#5ac0d1 181.5px)"></i><i style="top:68px;height:1px;background:linear-gradient(90deg,#69c2de 0.5px,#70c2e3 22.5px,#7dc2ec 29.5px,#7dc4ea 34.5px,#5fc1d5 38.5px,#2baeb3 41.5px,#3fab83 45.5px,#79b54f 50.5px,#b2c040 56.5px,#c0c13f 63.5px,#a9bf42 68.5px,#73b451 72.5px,#42ac80 76.5px,#2daca8 81.5px,#33b2bb 85.5px,#53becd 93.5px,#68c1dd 124.5px,#77c3e7 144.5px,#58c0d0 181.5px)"></i><i style="top:69px;height:1px;background:linear-gradient(90deg,#68c1dd 0.5px,#70c2e3 22.5px,#7dc2ec 30.5px,#77c3e7 35.5px,#55bfce 39.5px,#2cafb7 41.5px,#3aab8b 45.5px,#77b54f 51.5px,#b0c040 58.5px,#b1c040 65.5px,#84b74c 70.5px,#3fab84 76.5px,#2cacaa 81.5px,#2eafb8 84.5px,#51bdcc 92.5px,#6cc2e0 126.5px,#76c3e6 146.5px,#56bfcf 181.5px)"></i><i style="top:70px;height:1px;background:linear-gradient(90deg,#67c1dc 0.5px,#70c2e3 22.5px,#80c4ec 32.5px,#6bc2e0 37.5px,#47b9c7 40.5px,#2badb1 42.5px,#43ac7f 47.5px,#7eb64d 53.5px,#a6be43 59.5px,#a7be42 64.5px,#83b74c 69.5px,#42ac80 75.5px,#2daca6 80.5px,#30b0b9 84.5px,#51bdcc 92.5px,#6ec2e2 127.5px,#75c3e6 147.5px,#53becd 181.5px)"></i><i style="top:71px;height:1px;background:linear-gradient(90deg,#66c1dc 0.5px,#72c2e4 23.5px,#7ec4eb 33.5px,#5cc0d3 39.5px,#2aaeb6 42.5px,#3dab86 47.5px,#7ab54e 54.5px,#9bbc46 60.5px,#94ba47 65.5px,#6cb357 70.5px,#38ab8d 76.5px,#2aaeb6 83.5px,#4ebccb 91.5px,#76c3e7 142.5px,#51bdcc 181.5px)"></i><i style="top:72px;height:1px;background:linear-gradient(90deg,#65c1db 0.5px,#72c2e4 23.5px,#7dc4ea 33.5px,#5ec1d5 39.5px,#2badb1 43.5px,#3eab86 48.5px,#75b450 55.5px,#8eb949 61.5px,#80b64d 66.5px,#62b161 70.5px,#35aa91 76.5px,#2dafb8 83.5px,#50bdcc 92.5px,#76c3e6 142.5px,#4fbccb 181.5px)"></i><i style="top:73px;height:1px;background:linear-gradient(90deg,#65c1da 0.5px,#74c3e5 24.5px,#7cc4ea 33.5px,#61c1d7 39.5px,#2baeb6 43.5px,#3eab85 49.5px,#76b450 57.5px,#7fb64d 63.5px,#67b25c 68.5px,#32aa96 76.5px,#2fb0b9 83.5px,#50bdcb 92.5px,#75c3e6 142.5px,#4fbdcb 179.5px,#4dbcca 181.5px)"></i><i style="top:74px;height:1px;background:linear-gradient(90deg,#64c1da 0.5px,#73c3e5 24.5px,#7ac3e8 34.5px,#5cc0d3 40.5px,#2baeb3 44.5px,#3fab84 50.5px,#70b353 58.5px,#71b353 64.5px,#34aa93 75.5px,#2aaeb6 82.5px,#4ebcca 91.5px,#75c3e6 141.5px,#51bdcc 177.5px,#4bbbc9 181.5px)"></i><i style="top:75px;height:1px;background:linear-gradient(90deg,#64c1da 0.5px,#75c3e6 25.5px,#79c3e8 34.5px,#56bfcf 41.5px,#2baeb7 44.5px,#3bab89 50.5px,#69b25a 58.5px,#65b15d 65.5px,#2fab9c 76.5px,#2cafb7 82.5px,#4fbdcb 92.5px,#75c3e6 141.5px,#51bdcc 176.5px,#49bac8 181.5px)"></i><i style="top:76px;height:1px;background:linear-gradient(90deg,#63c1d9 0.5px,#77c3e7 26.5px,#77c3e7 35.5px,#59c0d1 41.5px,#2badb2 45.5px,#43ac7f 52.5px,#65b15d 59.5px,#5baf67 66.5px,#2fab9e 76.5px,#2eb0b8 82.5px,#4fbdcb 92.5px,#75c3e6 141.5px,#50bdcb 176.5px,#48bac7 181.5px)"></i><i style="top:77px;height:1px;background:linear-gradient(90deg,#63c1d9 0.5px,#76c3e7 26.5px,#77c3e7 35.5px,#5ac0d2 41.5px,#2aaeb4 45.5px,#3cab88 51.5px,#62b160 59.5px,#57af6a 66.5px,#2eaba0 76.5px,#2fb0b9 82.5px,#4fbccb 92.5px,#75c3e6 141.5px,#51bdcc 175.5px,#48bac7 181.5px)"></i><i style="top:78px;height:1px;background:linear-gradient(90deg,#63c1d9 0.5px,#76c3e7 26.5px,#77c3e7 35.5px,#5ac0d2 41.5px,#2aaeb5 45.5px,#3bab89 51.5px,#61b161 59.5px,#56af6b 66.5px,#2eaba0 76.5px,#2fb0b9 82.5px,#4fbccb 92.5px,#75c3e6 141.5px,#51bdcc 175.5px,#48bac7 181.5px)"></i><i style="top:79px;height:1px;background:linear-gradient(90deg,#63c1d9 0.5px,#76c3e7 26.5px,#77c3e7 35.5px,#5ac0d1 41.5px,#2baeb3 45.5px,#3cab88 51.5px,#63b15f 59.5px,#58af6a 66.5px,#2fab9f 76.5px,#2fb0b9 82.5px,#4fbccb 92.5px,#75c3e6 141.5px,#51bdcc 175.5px,#48bac7 181.5px)"></i><i style="top:80px;height:1px;background:linear-gradient(90deg,#63c1d9 0.5px,#75c3e6 25.5px,#77c3e7 35.5px,#57c0d0 41.5px,#2eafb8 44.5px,#34aa92 49.5px,#66b15d 58.5px,#62b160 65.5px,#2fab9d 76.5px,#2dafb8 82.5px,#4fbdcb 92.5px,#75c3e6 141.5px,#51bdcc 176.5px,#49bac8 181.5px)"></i><i style="top:81px;height:1px;background:linear-gradient(90deg,#64c1da 0.5px,#73c3e5 24.5px,#7ac3e8 34.5px,#5cc0d3 40.5px,#2baeb3 44.5px,#3fab85 50.5px,#6fb355 58.5px,#6fb355 64.5px,#2eaba0 77.5px,#31b1ba 83.5px,#51bdcc 93.5px,#75c3e6 142.5px,#4fbccb 178.5px,#4bbbc8 181.5px)"></i><i style="top:82px;height:1px;background:linear-gradient(90deg,#65c1da 0.5px,#74c3e5 24.5px,#7ac3e9 34.5px,#59c0d1 40.5px,#2cafb7 43.5px,#38ab8e 48.5px,#74b450 57.5px,#7db64e 63.5px,#66b15d 68.5px,#31aa96 76.5px,#2fb0b9 83.5px,#50bdcb 92.5px,#75c3e6 142.5px,#4fbccb 179.5px,#4cbbc9 181.5px)"></i></div>
<div class="fld" style="left:45px;top:272px;width:182px;height:83px"><i style="top:0px;height:1px;background:linear-gradient(90deg,#4a51d2 0.5px,#1e62e0 53.5px,#255fde 129.5px,#4a51d2 181.5px)"></i><i style="top:1px;height:1px;background:linear-gradient(90deg,#4852d3 0.5px,#285edd 41.5px,#2266e1 55.5px,#2166e1 122.5px,#2b5ddc 140.5px,#4851d3 181.5px)"></i><i style="top:2px;height:1px;background:linear-gradient(90deg,#4552d4 0.5px,#295edd 36.5px,#2166e1 51.5px,#2c73e5 100.5px,#2260df 135.5px,#4353d5 173.5px,#4652d4 181.5px)"></i><i style="top:3px;height:1px;background:linear-gradient(90deg,#4254d5 0.5px,#265fde 38.5px,#2368e2 50.5px,#327ae6 86.5px,#256be2 127.5px,#2360df 139.5px,#4154d5 171.5px,#4453d5 181.5px)"></i><i style="top:4px;height:1px;background:linear-gradient(90deg,#3f55d6 0.5px,#1f63e0 43.5px,#3a83e7 80.5px,#3179e6 118.5px,#2161df 141.5px,#3f55d6 169.5px,#4254d5 181.5px)"></i><i style="top:5px;height:1px;background:linear-gradient(90deg,#3c56d7 0.5px,#1f63e0 39.5px,#408ae7 77.5px,#3982e7 116.5px,#2161df 143.5px,#3e55d6 168.5px,#4054d6 181.5px)"></i><i style="top:6px;height:1px;background:linear-gradient(90deg,#3957d8 0.5px,#2064e1 35.5px,#4691e8 76.5px,#3f89e7 116.5px,#2161df 145.5px,#3c56d7 168.5px,#3e55d6 181.5px)"></i><i style="top:7px;height:1px;background:linear-gradient(90deg,#3758d9 0.5px,#2065e1 32.5px,#4a96e8 74.5px,#4591e8 115.5px,#2061df 146.5px,#3b56d7 167.5px,#3c56d7 181.5px)"></i><i style="top:8px;height:1px;background:linear-gradient(90deg,#3459d9 0.5px,#2165e1 29.5px,#529de8 74.5px,#4f9be8 110.5px,#357ee6 131.5px,#2161df 147.5px,#3a57d8 168.5px,#3b57d7 181.5px)"></i><i style="top:9px;height:1px;background:linear-gradient(90deg,#315ada 0.5px,#2065e1 26.5px,#5ba5e9 74.5px,#57a1e9 111.5px,#3780e6 133.5px,#2161df 148.5px,#3857d8 169.5px,#3957d8 181.5px)"></i><i style="top:10px;height:1px;background:linear-gradient(90deg,#2f5bdb 0.5px,#2065e1 24.5px,#60a9ea 71.5px,#60a9ea 110.5px,#418ce7 131.5px,#1f62e0 148.5px,#3758d9 169.5px,#3658d9 181.5px)"></i><i style="top:11px;height:1px;background:linear-gradient(90deg,#2c5cdc 0.5px,#2065e1 22.5px,#64acea 67.5px,#69b0ea 107.5px,#519ce8 127.5px,#1e62e0 148.5px,#3559d9 171.5px,#3459d9 181.5px)"></i><i style="top:12px;height:1px;background:linear-gradient(90deg,#2a5ddc 0.5px,#2065e1 20.5px,#428de7 41.5px,#69b1ea 65.5px,#6fb6eb 107.5px,#5aa4e9 127.5px,#1f63e0 148.5px,#335ada 175.5px,#315ada 181.5px)"></i><i style="top:13px;height:1px;background:linear-gradient(90deg,#285edd 0.5px,#2064e1 17.5px,#3780e7 34.5px,#65adea 53.5px,#76bceb 88.5px,#68b0ea 125.5px,#347ce6 140.5px,#1f61e0 150.5px,#305bdb 176.5px,#2e5cdb 181.5px)"></i><i style="top:14px;height:1px;background:linear-gradient(90deg,#265fde 0.5px,#2165e1 17.5px,#3780e6 32.5px,#6bb2ea 50.5px,#7bbfec 93.5px,#6eb5eb 126.5px,#408ae7 138.5px,#1f64e0 149.5px,#2c5cdc 178.5px,#2a5ddc 181.5px)"></i><i style="top:15px;height:1px;background:linear-gradient(90deg,#2460de 0.5px,#276ce3 23.5px,#509be8 38.5px,#74baeb 49.5px,#7ec2ec 107.5px,#72b8eb 128.5px,#3f8ae7 139.5px,#2065e1 149.5px,#275edd 179.5px,#265fde 181.5px)"></i><i style="top:16px;height:1px;background:linear-gradient(90deg,#2161df 0.5px,#2b72e4 25.5px,#5aa4e9 38.5px,#7cc1ec 48.5px,#7bc0ec 127.5px,#5ca5e9 135.5px,#2970e4 145.5px,#2161df 154.5px,#2161df 181.5px)"></i><i style="top:17px;height:1px;background:linear-gradient(90deg,#2061e0 0.5px,#2d74e5 25.5px,#59a3e9 36.5px,#80c4ec 45.5px,#7abfec 130.5px,#539ee9 137.5px,#286ee3 146.5px,#2161df 158.5px,#1f64e0 181.5px)"></i><i style="top:18px;height:1px;background:linear-gradient(90deg,#1e62e0 0.5px,#2d74e5 24.5px,#5ba5e9 35.5px,#7fc4eb 43.5px,#7dc1ec 131.5px,#3e88e7 141.5px,#2368e2 149.5px,#2267e1 181.5px)"></i><i style="top:19px;height:1px;background:linear-gradient(90deg,#1f63e0 0.5px,#2e76e5 24.5px,#5da6e9 34.5px,#7ec4eb 41.5px,#79c3e8 58.5px,#7abfec 133.5px,#3078e6 144.5px,#1f64e0 155.5px,#266be3 181.5px)"></i><i style="top:20px;height:1px;background:linear-gradient(90deg,#2064e1 0.5px,#2d75e5 23.5px,#55a0e9 32.5px,#7fc4ec 39.5px,#75c3e6 53.5px,#7dc4ea 131.5px,#78beeb 134.5px,#327ae6 144.5px,#2165e1 154.5px,#2970e4 181.5px)"></i><i style="top:21px;height:1px;background:linear-gradient(90deg,#2165e1 0.5px,#2e76e5 23.5px,#549fe9 31.5px,#7fc4eb 38.5px,#74c3e5 52.5px,#7dc4ea 132.5px,#75bbeb 135.5px,#3983e7 143.5px,#2469e2 151.5px,#2d74e5 181.5px)"></i><i style="top:22px;height:1px;background:linear-gradient(90deg,#2166e1 0.5px,#3077e6 23.5px,#5aa4e9 31.5px,#7ec2ec 36.5px,#73c3e5 52.5px,#7cc4ea 132.5px,#78bdeb 135.5px,#408be7 142.5px,#276de3 149.5px,#2b72e4 174.5px,#317ae6 181.5px)"></i><i style="top:23px;height:1px;background:linear-gradient(90deg,#2267e1 0.5px,#3179e6 23.5px,#56a1e9 30.5px,#7ec2ec 35.5px,#72c2e4 51.5px,#7bc3e9 132.5px,#79beeb 135.5px,#3d86e7 143.5px,#276ee3 150.5px,#327be6 177.5px,#3881e7 181.5px)"></i><i style="top:24px;height:1px;background:linear-gradient(90deg,#2368e2 0.5px,#2f77e6 22.5px,#529de8 29.5px,#7ec4eb 35.5px,#71c2e4 48.5px,#7bc3e9 132.5px,#7abfec 135.5px,#3e88e7 143.5px,#2970e4 150.5px,#347ce6 174.5px,#3e88e7 181.5px)"></i><i style="top:25px;height:1px;background:linear-gradient(90deg,#2368e2 0.5px,#3078e6 22.5px,#56a0e9 29.5px,#7fc4ec 34.5px,#71c2e4 45.5px,#79c3e8 131.5px,#7bc0ec 135.5px,#408ae7 143.5px,#2b72e4 150.5px,#367fe6 172.5px,#448fe7 181.5px)"></i><i style="top:26px;height:1px;background:linear-gradient(90deg,#2469e2 0.5px,#317ae6 22.5px,#5aa4e9 29.5px,#7ec2ec 33.5px,#71c2e3 45.5px,#78c3e7 129.5px,#7bc0ec 135.5px,#418ce7 143.5px,#2c73e5 151.5px,#3c85e7 172.5px,#4a95e8 181.5px)"></i><i style="top:27px;height:1px;background:linear-gradient(90deg,#246ae2 0.5px,#327be6 22.5px,#539ee9 28.5px,#7fc4ec 33.5px,#70c2e3 42.5px,#76c3e6 125.5px,#7abfec 135.5px,#438de7 143.5px,#2e76e5 151.5px,#418be7 172.5px,#529de8 181.5px)"></i><i style="top:28px;height:1px;background:linear-gradient(90deg,#256ae2 0.5px,#337ce6 22.5px,#55a0e9 28.5px,#7cc1ec 32.5px,#70c2e3 44.5px,#74c3e5 120.5px,#7ec3ec 134.5px,#408be7 144.5px,#3078e6 153.5px,#539ee9 178.5px,#5ba5e9 181.5px)"></i><i style="top:29px;height:1px;background:linear-gradient(90deg,#256be2 0.5px,#347de6 22.5px,#57a1e9 28.5px,#7fc3ec 32.5px,#6ec2e2 41.5px,#72c2e4 119.5px,#7dc1ec 134.5px,#428de7 144.5px,#357de6 153.5px,#55a0e9 176.5px,#64acea 181.5px)"></i><i style="top:30px;height:1px;background:linear-gradient(90deg,#266be3 0.5px,#357de6 22.5px,#59a3e9 28.5px,#80c4ec 32.5px,#6dc2e2 40.5px,#71c2e4 118.5px,#7bc0ec 134.5px,#448fe7 144.5px,#3983e7 153.5px,#58a2e9 174.5px,#6bb2ea 181.5px)"></i><i style="top:31px;height:1px;background:linear-gradient(90deg,#266ce3 0.5px,#327ae6 21.5px,#4f9be8 27.5px,#7fc4eb 32.5px,#6dc2e1 40.5px,#6fc2e2 115.5px,#7dc2ec 133.5px,#438ee7 145.5px,#418be7 156.5px,#68b0ea 177.5px,#72b8eb 181.5px)"></i><i style="top:32px;height:1px;background:linear-gradient(90deg,#266ce3 0.5px,#327be6 21.5px,#509be8 27.5px,#7fc4eb 32.5px,#6cc2e0 40.5px,#6bc2e0 111.5px,#7bc0ec 133.5px,#4691e8 145.5px,#4893e8 157.5px,#79beeb 181.5px)"></i><i style="top:33px;height:1px;background:linear-gradient(90deg,#276de3 0.5px,#337be6 21.5px,#519ce8 27.5px,#7ec4eb 32.5px,#6bc2e0 40.5px,#69c2de 80.5px,#70c2e3 118.5px,#7cc1ec 132.5px,#4894e8 145.5px,#4e9ae8 157.5px,#7fc3ec 181.5px)"></i><i style="top:34px;height:1px;background:linear-gradient(90deg,#276de3 0.5px,#337ce6 21.5px,#519ce8 27.5px,#7ec4eb 32.5px,#6bc2df 41.5px,#67c1dc 77.5px,#6fc2e3 117.5px,#7cc1ec 131.5px,#4a95e8 146.5px,#57a2e9 157.5px,#7ec4eb 181.5px)"></i><i style="top:35px;height:1px;background:linear-gradient(90deg,#276de3 0.5px,#347ce6 21.5px,#519de8 27.5px,#7ec4eb 32.5px,#6ac2df 41.5px,#65c1da 76.5px,#6fc2e3 117.5px,#7cc1ec 130.5px,#4d99e8 146.5px,#7fc4eb 177.5px,#7ac3e9 181.5px)"></i><i style="top:36px;height:1px;background:linear-gradient(90deg,#276de3 0.5px,#347de6 21.5px,#529de8 27.5px,#7ec4eb 32.5px,#6ac2df 41.5px,#63c1d9 75.5px,#6fc2e2 116.5px,#7bc0ec 129.5px,#539ee9 145.5px,#80c4ec 172.5px,#77c3e7 181.5px)"></i><i style="top:37px;height:1px;background:linear-gradient(90deg,#276ee3 0.5px,#347de6 21.5px,#529de8 27.5px,#7ec4eb 32.5px,#6ac2df 41.5px,#61c1d7 75.5px,#6ec2e2 115.5px,#7dc2ec 127.5px,#58a2e9 143.5px,#6bb2ea 155.5px,#7ec4eb 168.5px,#74c3e5 181.5px)"></i><i style="top:38px;height:1px;background:linear-gradient(90deg,#286ee3 0.5px,#357ee6 21.5px,#529de8 27.5px,#7fc4eb 32.5px,#6ac2df 41.5px,#5fc1d6 75.5px,#6dc2e2 114.5px,#7cc0ec 126.5px,#5ba5e9 141.5px,#6fb6eb 154.5px,#7ec4eb 163.5px,#70c2e3 181.5px)"></i><i style="top:39px;height:1px;background:linear-gradient(90deg,#286ee3 0.5px,#357ee6 21.5px,#529de8 27.5px,#7fc4eb 32.5px,#6bc2df 41.5px,#5dc0d4 75.5px,#6dc2e1 113.5px,#7dc1ec 124.5px,#5ca5e9 138.5px,#70b7eb 152.5px,#7ec4eb 160.5px,#6dc2e1 181.5px)"></i><i style="top:40px;height:1px;background:linear-gradient(90deg,#286ee3 0.5px,#367ee6 21.5px,#529de8 27.5px,#7fc4ec 32.5px,#6bc2df 41.5px,#5bc0d3 75.5px,#69c2de 110.5px,#7fc3ec 122.5px,#5ba5e9 135.5px,#6cb3ea 148.5px,#7ec4eb 157.5px,#69c2de 181.5px)"></i><i style="top:41px;height:1px;background:linear-gradient(90deg,#286ee3 0.5px,#367fe6 21.5px,#529de8 27.5px,#80c4ec 32.5px,#6bc2e0 42.5px,#59c0d1 76.5px,#65c1da 106.5px,#7ec2ec 121.5px,#58a2e9 134.5px,#6cb3ea 146.5px,#7ec4eb 155.5px,#65c1db 181.5px)"></i><i style="top:42px;height:1px;background:linear-gradient(90deg,#286ee3 0.5px,#367fe6 21.5px,#519de8 27.5px,#80c4ec 32.5px,#6bc2e0 42.5px,#56bfcf 76.5px,#5ac0d2 97.5px,#7dc1ec 120.5px,#559fe9 132.5px,#62abea 142.5px,#7ec4eb 153.5px,#62c1d8 181.5px)"></i><i style="top:43px;height:1px;background:linear-gradient(90deg,#286ee3 0.5px,#367fe6 21.5px,#519ce8 27.5px,#7ec3ec 32.5px,#6bc2e0 44.5px,#50bdcc 79.5px,#50bdcc 94.5px,#7cc1ec 119.5px,#509ce8 131.5px,#5ca6e9 140.5px,#7fc4ec 150.5px,#5fc1d5 181.5px)"></i><i style="top:44px;height:1px;background:linear-gradient(90deg,#286ee3 0.5px,#357ee6 21.5px,#59a3e9 28.5px,#7dc2ec 32.5px,#69c2de 48.5px,#43b8c4 88.5px,#76c3e7 114.5px,#7cc1ec 118.5px,#4c98e8 130.5px,#549fe9 138.5px,#7fc4eb 149.5px,#5cc0d3 181.5px)"></i><i style="top:45px;height:1px;background:linear-gradient(90deg,#276ee3 0.5px,#357ee6 21.5px,#58a2e9 28.5px,#7ec4eb 33.5px,#6bc2e0 45.5px,#3bb5bf 91.5px,#7ec4eb 116.5px,#4a96e8 129.5px,#529de8 138.5px,#7ec4eb 148.5px,#59c0d1 181.5px)"></i><i style="top:46px;height:1px;background:linear-gradient(90deg,#276de3 0.5px,#347de6 21.5px,#56a1e9 28.5px,#7fc4eb 33.5px,#6ac2df 46.5px,#30b0ba 91.5px,#7ac3e9 114.5px,#79beeb 117.5px,#4a95e8 127.5px,#4c98e8 137.5px,#7fc4eb 147.5px,#57bfcf 181.5px)"></i><i style="top:47px;height:1px;background:linear-gradient(90deg,#276de3 0.5px,#367fe6 22.5px,#549fe9 28.5px,#80c4ec 33.5px,#67c1dd 48.5px,#2aaeb4 87.5px,#33b1bb 96.5px,#72c2e4 111.5px,#7fc4ec 115.5px,#4994e8 126.5px,#4893e8 136.5px,#80c4ec 146.5px,#54bece 181.5px)"></i><i style="top:48px;height:1px;background:linear-gradient(90deg,#276de3 0.5px,#347de6 22.5px,#519de8 28.5px,#7ec2ec 33.5px,#3db5c1 72.5px,#2badb1 84.5px,#2baeb2 95.5px,#3db5c1 100.5px,#6fc2e3 110.5px,#7ec2ec 115.5px,#4894e8 125.5px,#448fe7 135.5px,#5fa8e9 141.5px,#7fc4ec 146.5px,#5fc1d6 170.5px,#52becc 181.5px)"></i><i style="top:49px;height:1px;background:linear-gradient(90deg,#266ce3 0.5px,#337be6 22.5px,#58a2e9 29.5px,#7fc4eb 34.5px,#37b3bd 72.5px,#2cadae 82.5px,#2daca8 93.5px,#2cafb7 99.5px,#66c1db 108.5px,#7fc4eb 114.5px,#4894e8 124.5px,#418be7 134.5px,#57a2e9 140.5px,#7ec4eb 146.5px,#63c1d9 164.5px,#50bdcc 181.5px)"></i><i style="top:50px;height:1px;background:linear-gradient(90deg,#266ce3 0.5px,#317ae6 22.5px,#559fe9 29.5px,#7fc3ec 34.5px,#3fb6c2 65.5px,#2badb2 77.5px,#2fab9f 92.5px,#30b0b9 101.5px,#69c2de 109.5px,#80c4ec 114.5px,#4994e8 123.5px,#3e88e7 133.5px,#56a1e9 140.5px,#7dc2ec 145.5px,#61c1d7 165.5px,#4fbccb 181.5px)"></i><i style="top:51px;height:1px;background:linear-gradient(90deg,#266be3 0.5px,#3078e6 22.5px,#519ce8 29.5px,#7fc4eb 35.5px,#40b7c3 62.5px,#2baeb3 73.5px,#32aa96 91.5px,#2eb0b8 102.5px,#62c1d8 108.5px,#7fc3ec 114.5px,#4792e8 123.5px,#3c86e7 133.5px,#55a0e9 140.5px,#7ec3ec 145.5px,#63c1d9 160.5px,#4ebccb 181.5px)"></i><i style="top:52px;height:1px;background:linear-gradient(90deg,#256be2 0.5px,#3179e6 23.5px,#55a0e9 30.5px,#7dc2ec 35.5px,#49bac7 58.5px,#2baeb3 69.5px,#38ab8d 91.5px,#2badb2 102.5px,#42b8c4 105.5px,#6bc2e0 110.5px,#7fc4ec 114.5px,#4894e8 122.5px,#3a83e7 132.5px,#4c98e8 139.5px,#7fc3ec 145.5px,#63c1d9 158.5px,#4ebcca 181.5px)"></i><i style="top:53px;height:1px;background:linear-gradient(90deg,#256ae2 0.5px,#3077e6 23.5px,#59a3e9 31.5px,#7ec3ec 36.5px,#4bbbc8 57.5px,#2baeb3 66.5px,#3bab8a 84.5px,#3dab86 93.5px,#2dafb7 104.5px,#61c1d8 109.5px,#7fc4ec 114.5px,#4792e8 122.5px,#3882e7 132.5px,#4c98e8 139.5px,#80c4ec 145.5px,#62c1d8 157.5px,#4dbcca 181.5px)"></i><i style="top:54px;height:1px;background:linear-gradient(90deg,#246ae2 0.5px,#2e76e5 23.5px,#539ee9 31.5px,#7ec2ec 37.5px,#4fbccb 56.5px,#2baeb3 64.5px,#3dab86 81.5px,#47ac79 91.5px,#2fab9f 101.5px,#2dafb8 105.5px,#64c1da 110.5px,#7ec4eb 114.5px,#4691e8 122.5px,#3780e6 131.5px,#4c98e8 139.5px,#7fc4eb 145.5px,#61c1d7 156.5px,#4dbcca 181.5px)"></i><i style="top:55px;height:1px;background:linear-gradient(90deg,#2469e2 0.5px,#2d75e5 23.5px,#549fe9 32.5px,#7fc4eb 39.5px,#50bdcb 56.5px,#2aaeb5 62.5px,#41ab81 78.5px,#57af6a 90.5px,#35aa91 100.5px,#2dafb7 106.5px,#5fc1d5 110.5px,#7fc3ec 115.5px,#4995e8 121.5px,#357ee6 130.5px,#4893e8 138.5px,#7ec4eb 145.5px,#60c1d6 156.5px,#4cbbc9 181.5px)"></i><i style="top:56px;height:1px;background:linear-gradient(90deg,#2469e2 0.5px,#2e76e5 24.5px,#5ba4e9 34.5px,#80c4ec 40.5px,#53becd 56.5px,#2baeb7 61.5px,#3eab86 72.5px,#68b25b 87.5px,#5aaf67 94.5px,#2eaba2 104.5px,#2cafb7 107.5px,#60c1d7 111.5px,#7ec4eb 115.5px,#4590e7 122.5px,#347de6 130.5px,#4994e8 138.5px,#7ec2ec 144.5px,#5ec1d5 156.5px,#4cbbc9 181.5px)"></i><i style="top:57px;height:1px;background:linear-gradient(90deg,#2369e2 0.5px,#2f77e6 25.5px,#58a2e9 35.5px,#7fc3ec 41.5px,#57c0cf 56.5px,#2aaeb4 61.5px,#3eab86 69.5px,#75b450 82.5px,#78b54f 90.5px,#4fad71 98.5px,#2daca8 106.5px,#2bafb7 108.5px,#61c1d8 112.5px,#7fc3ec 116.5px,#4995e8 121.5px,#337ce6 129.5px,#4590e7 137.5px,#80c4ec 144.5px,#5fc1d6 154.5px,#4bbbc8 181.5px)"></i><i style="top:58px;height:1px;background:linear-gradient(90deg,#2368e2 0.5px,#2f77e6 26.5px,#55a0e9 36.5px,#7fc4eb 43.5px,#5bc0d2 56.5px,#2baeb3 61.5px,#3dab87 67.5px,#78b54f 76.5px,#96bb47 84.5px,#83b74c 92.5px,#5cb066 98.5px,#2fab9f 106.5px,#2baeb6 109.5px,#63c1d9 113.5px,#7dc4ea 116.5px,#4590e7 122.5px,#337be6 129.5px,#4691e8 137.5px,#7ec4eb 144.5px,#5ec1d5 154.5px,#49bac8 181.5px)"></i><i style="top:59px;height:1px;background:linear-gradient(90deg,#2368e2 0.5px,#2f77e6 27.5px,#529de8 37.5px,#80c4ec 44.5px,#5fc1d5 56.5px,#2badb2 61.5px,#37ab8f 65.5px,#7fb64d 73.5px,#b0c040 80.5px,#adbf41 87.5px,#78b54f 96.5px,#37ab8f 105.5px,#2baeb6 110.5px,#66c1db 114.5px,#7fc3ec 117.5px,#4590e8 122.5px,#327be6 129.5px,#4893e8 137.5px,#7ec2ec 143.5px,#5dc0d4 154.5px,#48bac7 181.5px)"></i><i style="top:60px;height:1px;background:linear-gradient(90deg,#2267e1 0.5px,#3078e6 29.5px,#57a1e9 39.5px,#7fc4eb 46.5px,#63c1d9 56.5px,#43b8c4 59.5px,#2badb1 61.5px,#3cab88 65.5px,#75b450 70.5px,#b2c040 75.5px,#ccc13f 81.5px,#b8c040 89.5px,#6cb258 99.5px,#38ab8e 106.5px,#2cafb7 111.5px,#6ac2de 115.5px,#7dc4ea 117.5px,#5aa4e9 120.5px,#3c86e7 124.5px,#357ee6 131.5px,#519ce8 138.5px,#7fc4ec 143.5px,#5dc0d4 153.5px,#47b9c6 181.5px)"></i><i style="top:61px;height:1px;background:linear-gradient(90deg,#2267e1 0.5px,#3078e6 31.5px,#559fe9 40.5px,#7ec2ec 47.5px,#6ec2e2 55.5px,#59c0d1 58.5px,#2badb2 61.5px,#40ab83 65.5px,#79b54f 69.5px,#b8c040 73.5px,#e2c23e 78.5px,#dfc23e 85.5px,#9cbc45 95.5px,#6db356 100.5px,#38ab8d 107.5px,#2fb0b9 112.5px,#63c1d9 115.5px,#7dc2ec 118.5px,#4894e8 122.5px,#347ce6 128.5px,#4792e8 136.5px,#7cc0ec 142.5px,#5bc0d2 154.5px,#45b9c5 181.5px)"></i><i style="top:62px;height:1px;background:linear-gradient(90deg,#2266e1 0.5px,#3179e6 33.5px,#5aa4e9 42.5px,#80c4ec 51.5px,#67c1dc 57.5px,#50bdcb 59.5px,#2baeb3 61.5px,#38ab8d 64.5px,#75b450 68.5px,#c0c13f 72.5px,#e3c03d 75.5px,#ecac35 81.5px,#dec23e 88.5px,#8bb94a 98.5px,#5cb065 103.5px,#2fab9f 110.5px,#2badb1 112.5px,#4abac8 114.5px,#7dc4ea 118.5px,#448fe7 123.5px,#357ee6 129.5px,#509be8 137.5px,#80c4ec 142.5px,#5dc0d4 151.5px,#44b8c5 181.5px)"></i><i style="top:63px;height:1px;background:linear-gradient(90deg,#2166e1 0.5px,#2f77e6 34.5px,#6eb4eb 48.5px,#7ec4eb 54.5px,#63c1d9 58.5px,#42b7c4 60.5px,#2aaeb6 61.5px,#39ab8c 64.5px,#69b25a 67.5px,#b0c040 70.5px,#e1c23e 73.5px,#f29c2d 79.5px,#f1a331 84.5px,#dac23e 90.5px,#7fb64d 100.5px,#3dab87 108.5px,#2aaeb5 113.5px,#62c1d8 116.5px,#7bc0ec 119.5px,#4792e8 123.5px,#3881e7 129.5px,#4c98e8 136.5px,#7ec4eb 142.5px,#5bc0d3 151.5px,#42b7c4 181.5px)"></i><i style="top:64px;height:1px;background:linear-gradient(90deg,#2166e1 0.5px,#2f76e6 35.5px,#65adea 49.5px,#80c4ec 55.5px,#5ec1d5 59.5px,#32b1bb 61.5px,#2fab9e 63.5px,#56af6b 66.5px,#86b84b 68.5px,#ccc13f 71.5px,#e6b93a 73.5px,#f18f24 78.5px,#f18c21 82.5px,#e9b338 88.5px,#d8c23e 91.5px,#7bb54e 101.5px,#34aa93 110.5px,#2badb0 113.5px,#33b1bb 114.5px,#69c2de 117.5px,#7ec4eb 119.5px,#4b97e8 123.5px,#3b85e7 129.5px,#529de8 136.5px,#7fc3ec 141.5px,#5ac0d2 151.5px,#41b7c3 181.5px)"></i><i style="top:65px;height:1px;background:linear-gradient(90deg,#2165e1 0.5px,#2c74e5 35.5px,#5ca6e9 50.5px,#75baeb 55.5px,#7fc3ec 56.5px,#57c0d0 60.5px,#2badb1 62.5px,#42ab81 65.5px,#87b84b 68.5px,#d2c13f 71.5px,#e9b338 73.5px,#f0821a 78.5px,#ee7b1c 81.5px,#f19226 85.5px,#ddc23e 91.5px,#75b450 102.5px,#30aa98 111.5px,#2aaeb6 114.5px,#63c1d9 117.5px,#79c3e8 119.5px,#7bc0ec 120.5px,#4a95e8 124.5px,#408ae7 130.5px,#58a2e9 136.5px,#7ec4eb 141.5px,#59c0d1 151.5px,#3fb6c2 181.5px)"></i><i style="top:66px;height:1px;background:linear-gradient(90deg,#2065e1 0.5px,#2a71e4 35.5px,#4f9ae8 49.5px,#69b0ea 55.5px,#7fc4ec 57.5px,#5fc1d6 60.5px,#2dafb7 62.5px,#31aa97 64.5px,#4ead73 66.5px,#83b74c 68.5px,#d4c13f 71.5px,#ebaf36 73.5px,#f08119 77.5px,#ea6e24 80.5px,#f0831a 84.5px,#eea934 88.5px,#dfc23e 91.5px,#76b44f 102.5px,#33aa94 111.5px,#2badb2 114.5px,#6ac2df 118.5px,#7ec4eb 120.5px,#4b97e8 125.5px,#4691e8 131.5px,#5ea8e9 136.5px,#80c4ec 140.5px,#59c0d1 150.5px,#3eb6c1 181.5px)"></i><i style="top:67px;height:1px;background:linear-gradient(90deg,#2064e1 0.5px,#2a71e4 36.5px,#4793e8 49.5px,#559fe9 54.5px,#7ec4eb 58.5px,#58c0d0 61.5px,#3bb5bf 62.5px,#2badaf 63.5px,#46ac7a 66.5px,#7ab54e 68.5px,#d1c13f 71.5px,#e4be3c 72.5px,#f19528 75.5px,#f07f19 77.5px,#e86927 80.5px,#ed761f 83.5px,#f08018 84.5px,#eea934 88.5px,#dec23e 91.5px,#75b450 102.5px,#2faa9b 112.5px,#2fb0b9 115.5px,#59c0d1 117.5px,#7fc3ec 121.5px,#4f9ae8 126.5px,#4e9ae8 132.5px,#7dc4eb 140.5px,#55bfcf 151.5px,#44b8c5 172.5px,#3cb5c0 181.5px)"></i><i style="top:68px;height:1px;background:linear-gradient(90deg,#1f64e0 0.5px,#296fe4 36.5px,#509ce8 55.5px,#77bceb 58.5px,#7bc3e9 59.5px,#4bbbc8 62.5px,#2cafb7 63.5px,#32aa95 65.5px,#53ae6e 67.5px,#8db949 69.5px,#e1c23e 72.5px,#f2992b 75.5px,#f0831a 77.5px,#ea6e24 80.5px,#ee7a1c 83.5px,#f19729 86.5px,#dac23e 91.5px,#73b451 102.5px,#30aa99 112.5px,#2aaeb5 115.5px,#5fc1d6 118.5px,#7cc1ec 122.5px,#56a1e9 127.5px,#5ba5e9 133.5px,#7fc4ec 139.5px,#54bece 151.5px,#44b8c5 171.5px,#3bb5c0 181.5px)"></i><i style="top:69px;height:1px;background:linear-gradient(90deg,#1f63e0 0.5px,#2970e4 37.5px,#4893e8 55.5px,#6ab2ea 58.5px,#7cc0ec 59.5px,#6ac2df 61.5px,#5ac0d2 62.5px,#2badaf 64.5px,#47ac7a 67.5px,#7bb54e 69.5px,#d3c13f 72.5px,#ebaf36 74.5px,#ef7e19 79.5px,#f07f19 82.5px,#efa733 87.5px,#e0c23e 90.5px,#86b84b 99.5px,#54ae6d 106.5px,#2eaba0 113.5px,#2baeb2 115.5px,#63c1d9 119.5px,#7dc1ec 123.5px,#5fa8e9 128.5px,#68b0ea 134.5px,#7fc4ec 138.5px,#52becd 151.5px,#43b8c4 171.5px,#3ab4bf 181.5px)"></i><i style="top:70px;height:1px;background:linear-gradient(90deg,#1f63e0 0.5px,#2a70e4 38.5px,#428ce7 55.5px,#5ea7e9 58.5px,#7fc4eb 60.5px,#4fbdcb 63.5px,#30b0b9 64.5px,#30aa97 66.5px,#4fad72 68.5px,#86b84b 70.5px,#d8c23e 73.5px,#f0a331 76.5px,#f18b20 80.5px,#f29f2f 85.5px,#e2c23e 89.5px,#88b84b 98.5px,#58af6a 105.5px,#2fab9f 113.5px,#2fb0b9 116.5px,#5ec1d5 119.5px,#80c4ec 124.5px,#69b0ea 130.5px,#7dc4ea 138.5px,#50bdcb 152.5px,#42b7c3 171.5px,#38b4be 181.5px)"></i><i style="top:71px;height:1px;background:linear-gradient(90deg,#1f63e0 0.5px,#2970e4 39.5px,#3881e7 54.5px,#529de8 58.5px,#76bbeb 60.5px,#7ac3e9 61.5px,#5dc0d4 63.5px,#2baeb3 65.5px,#42ac7f 68.5px,#6fb355 70.5px,#c1c13f 73.5px,#e4bd3c 75.5px,#f29c2d 80.5px,#ecad35 85.5px,#e1c23e 88.5px,#80b64d 98.5px,#30aa98 112.5px,#2aaeb6 116.5px,#60c1d7 120.5px,#7fc3ec 126.5px,#74baeb 132.5px,#7dc4eb 137.5px,#4ebccb 152.5px,#41b7c3 171.5px,#37b3bd 181.5px)"></i><i style="top:72px;height:1px;background:linear-gradient(90deg,#1e62e0 0.5px,#2b72e4 43.5px,#327be6 54.5px,#4a95e8 58.5px,#7ec2ec 61.5px,#55bfce 64.5px,#37b3bd 65.5px,#2cadad 66.5px,#45ac7b 69.5px,#71b353 71.5px,#bdc13f 74.5px,#dfc23e 76.5px,#ebae36 81.5px,#dbc23e 87.5px,#78b54f 98.5px,#30aa98 112.5px,#2baeb3 116.5px,#61c1d8 121.5px,#7fc4eb 128.5px,#77c3e7 138.5px,#4dbcca 152.5px,#3eb6c1 172.5px,#36b3bd 181.5px)"></i><i style="top:73px;height:1px;background:linear-gradient(90deg,#1e62e0 0.5px,#2e76e5 54.5px,#4d99e8 59.5px,#7cc4ea 62.5px,#49bac8 65.5px,#2cafb7 66.5px,#30aa98 68.5px,#5cb065 71.5px,#89b84a 73.5px,#c3c13f 76.5px,#e1c23e 79.5px,#dfc23e 84.5px,#7eb64d 96.5px,#3cab89 109.5px,#2badb1 116.5px,#3ab4bf 118.5px,#61c1d8 122.5px,#7cc4ea 130.5px,#6fc2e3 140.5px,#4cbbc9 152.5px,#3cb5c0 173.5px,#35b2bc 181.5px)"></i><i style="top:74px;height:1px;background:linear-gradient(90deg,#1e62e0 0.5px,#2c73e5 54.5px,#4893e8 59.5px,#7cc1ec 62.5px,#59c0d1 65.5px,#2badb1 67.5px,#3eab85 70.5px,#84b74c 74.5px,#b7c040 77.5px,#cec13f 81.5px,#b8c040 87.5px,#66b15d 99.5px,#30aa9a 112.5px,#2aaeb5 117.5px,#61c1d7 123.5px,#79c3e8 132.5px,#67c1dc 142.5px,#4bbbc9 153.5px,#35b2bc 181.5px)"></i><i style="top:75px;height:1px;background:linear-gradient(90deg,#1f62e0 0.5px,#2a70e4 54.5px,#448fe7 59.5px,#7cc4ea 63.5px,#4bbbc9 66.5px,#2fb0b9 67.5px,#37ab8f 70.5px,#6eb355 74.5px,#aabf42 78.5px,#bac040 82.5px,#a3bd43 88.5px,#66b15d 98.5px,#32aa96 111.5px,#2fb0b9 118.5px,#60c1d6 124.5px,#76c3e6 133.5px,#5fc1d6 144.5px,#4abbc8 154.5px,#34b2bc 181.5px)"></i><i style="top:76px;height:1px;background:linear-gradient(90deg,#1f62e0 0.5px,#286ee3 54.5px,#418be7 59.5px,#6db4eb 62.5px,#80c4ec 63.5px,#56bfcf 66.5px,#2badb1 68.5px,#3bab8a 71.5px,#7cb64e 76.5px,#a5be43 80.5px,#a6be43 85.5px,#67b25c 97.5px,#31aa97 111.5px,#2cafb7 118.5px,#60c1d7 125.5px,#74c3e5 134.5px,#55bfce 147.5px,#34b2bc 181.5px)"></i><i style="top:77px;height:1px;background:linear-gradient(90deg,#1f62e0 0.5px,#276de3 54.5px,#3f89e7 59.5px,#69b0ea 62.5px,#7cc1ec 63.5px,#5bc0d2 66.5px,#2aaeb5 68.5px,#40ab83 72.5px,#7db64e 77.5px,#9cbc45 81.5px,#95bb47 87.5px,#64b15f 97.5px,#30aa98 111.5px,#2aaeb6 118.5px,#5dc0d4 125.5px,#73c3e5 134.5px,#58c0d0 146.5px,#4abac8 156.5px,#34b2bb 181.5px)"></i><i style="top:78px;height:1px;background:linear-gradient(90deg,#1f62e0 0.5px,#276de3 54.5px,#3f89e7 59.5px,#67afea 62.5px,#7bc0ec 63.5px,#6bc2df 65.5px,#45b9c5 67.5px,#2baeb7 68.5px,#3eab85 72.5px,#78b54f 77.5px,#96bb47 81.5px,#92ba48 87.5px,#67b25c 96.5px,#33aa94 110.5px,#2aaeb6 118.5px,#61c1d7 126.5px,#72c2e4 135.5px,#4abac8 154.5px,#34b2bb 181.5px)"></i><i style="top:79px;height:1px;background:linear-gradient(90deg,#1f62e0 0.5px,#286ee3 54.5px,#408ae7 59.5px,#6ab1ea 62.5px,#7dc2ec 63.5px,#5ac0d2 66.5px,#2aaeb5 68.5px,#40ab83 72.5px,#79b54f 77.5px,#99bb46 82.5px,#8ab84a 89.5px,#60b063 98.5px,#30aa98 111.5px,#2baeb6 118.5px,#5ec1d5 125.5px,#73c3e5 135.5px,#4abac8 154.5px,#34b2bc 181.5px)"></i><i style="top:80px;height:1px;background:linear-gradient(90deg,#1f62e0 0.5px,#296fe4 54.5px,#438de7 59.5px,#5da6e9 61.5px,#7ec4eb 63.5px,#53becd 66.5px,#38b4be 67.5px,#2badb0 68.5px,#3bab8a 71.5px,#75b450 76.5px,#9dbc45 81.5px,#98bb46 87.5px,#68b25b 97.5px,#31aa97 111.5px,#2eb0b8 118.5px,#5ec1d5 124.5px,#75c3e6 134.5px,#55bfcf 147.5px,#49bac8 161.5px,#34b2bc 181.5px)"></i><i style="top:81px;height:1px;background:linear-gradient(90deg,#1e62e0 0.5px,#2b72e4 54.5px,#4792e8 59.5px,#7abfec 62.5px,#6bc2df 64.5px,#43b8c4 66.5px,#2aaeb5 67.5px,#38ab8d 70.5px,#76b44f 75.5px,#a7be42 80.5px,#aabf42 85.5px,#69b25a 98.5px,#32aa95 111.5px,#2aaeb5 117.5px,#5fc1d6 123.5px,#78c3e8 132.5px,#67c1dc 142.5px,#4bbbc9 153.5px,#35b2bc 181.5px)"></i><i style="top:82px;height:1px;background:linear-gradient(90deg,#1e62e0 0.5px,#2e75e5 54.5px,#4c98e8 59.5px,#7dc4eb 62.5px,#4ebccb 65.5px,#32b1bb 66.5px,#2fab9e 68.5px,#5baf67 72.5px,#87b84b 75.5px,#b0c040 79.5px,#b5c040 85.5px,#6ab259 99.5px,#30aa99 112.5px,#2cafb7 117.5px,#60c1d7 122.5px,#7cc4ea 131.5px,#6cc2e0 141.5px,#4cbbc9 153.5px,#3ab4bf 174.5px,#35b2bc 181.5px)"></i></div>
<div class="fld" style="left:271px;top:272px;width:182px;height:83px"><i style="top:0px;height:1px;background:linear-gradient(90deg,#584dcb 0.5px,#3957d8 30.5px,#275edd 50.5px,#1f62e0 75.5px,#2368e2 97.5px,#265fde 116.5px,#514fce 178.5px,#514fcf 181.5px)"></i><i style="top:1px;height:1px;background:linear-gradient(90deg,#554ecc 0.5px,#4154d6 25.5px,#2a5ddc 46.5px,#295ddd 66.5px,#2166e1 76.5px,#2b72e4 94.5px,#2261df 112.5px,#4154d6 153.5px,#4e50d0 181.5px)"></i><i style="top:2px;height:1px;background:linear-gradient(90deg,#524fce 0.5px,#4951d2 19.5px,#2c5ddc 44.5px,#2e5bdb 63.5px,#2065e1 72.5px,#3881e7 91.5px,#2061df 114.5px,#3659d9 147.5px,#4c50d1 178.5px,#4c50d1 181.5px)"></i><i style="top:3px;height:1px;background:linear-gradient(90deg,#504fcf 0.5px,#4c50d1 16.5px,#2c5cdc 44.5px,#305bdb 61.5px,#2166e1 70.5px,#4792e8 90.5px,#1e63e0 115.5px,#2e5cdb 144.5px,#4951d2 177.5px,#4951d2 181.5px)"></i><i style="top:4px;height:1px;background:linear-gradient(90deg,#4e50d0 0.5px,#4b51d1 15.5px,#2b5ddc 44.5px,#2d5cdc 60.5px,#2065e1 67.5px,#509ce8 84.5px,#5da7e9 91.5px,#286ee3 109.5px,#1f62e0 131.5px,#4752d4 178.5px,#4752d4 181.5px)"></i><i style="top:5px;height:1px;background:linear-gradient(90deg,#4b51d1 0.5px,#4851d3 15.5px,#295edd 45.5px,#255fde 60.5px,#2469e2 66.5px,#4d98e8 79.5px,#77bdeb 87.5px,#74baeb 93.5px,#3c86e7 104.5px,#2267e1 117.5px,#2360de 141.5px,#4453d5 176.5px,#4453d5 181.5px)"></i><i style="top:6px;height:1px;background:linear-gradient(90deg,#4951d3 0.5px,#4353d5 15.5px,#255fde 48.5px,#2469e2 63.5px,#4590e8 74.5px,#7fc4ec 83.5px,#73c3e5 91.5px,#80c4ec 96.5px,#438ee7 105.5px,#286ee3 115.5px,#2260df 142.5px,#4154d5 176.5px,#4154d5 181.5px)"></i><i style="top:7px;height:1px;background:linear-gradient(90deg,#4652d4 0.5px,#3e55d7 14.5px,#2f5bdb 32.5px,#2064e1 54.5px,#357ee6 67.5px,#58a2e9 74.5px,#80c4ec 79.5px,#5fc1d6 89.5px,#74c3e5 97.5px,#7cc1ec 100.5px,#4590e8 107.5px,#2b71e4 116.5px,#2260df 143.5px,#3e55d6 176.5px,#3e55d6 181.5px)"></i><i style="top:8px;height:1px;background:linear-gradient(90deg,#4353d5 0.5px,#2c5ddc 27.5px,#2261df 41.5px,#3078e6 62.5px,#58a2e9 71.5px,#7ec4eb 76.5px,#40b7c3 89.5px,#50bdcc 94.5px,#7ec4eb 102.5px,#428ce7 110.5px,#2b72e4 119.5px,#2260df 144.5px,#3c56d7 175.5px,#3b56d7 181.5px)"></i><i style="top:9px;height:1px;background:linear-gradient(90deg,#3f55d6 0.5px,#255fde 24.5px,#275edd 37.5px,#2266e1 44.5px,#3982e7 61.5px,#59a3e9 68.5px,#7ec4eb 73.5px,#4dbcca 81.5px,#2aaeb4 86.5px,#2aaeb4 93.5px,#52becd 98.5px,#7cc4ea 104.5px,#71b8eb 106.5px,#4692e8 111.5px,#2d74e5 121.5px,#2260df 145.5px,#3957d8 175.5px,#3857d8 181.5px)"></i><i style="top:10px;height:1px;background:linear-gradient(90deg,#3b57d7 0.5px,#1f63e0 20.5px,#265fdd 36.5px,#2368e2 43.5px,#428ce7 60.5px,#63acea 66.5px,#7ec4eb 70.5px,#49bac8 78.5px,#2aaeb6 81.5px,#2fab9e 89.5px,#2badaf 96.5px,#31b1ba 98.5px,#67c1dc 103.5px,#7cc4ea 106.5px,#70b7eb 108.5px,#4691e8 113.5px,#2c74e5 125.5px,#2260df 146.5px,#3758d9 174.5px,#3559d9 181.5px)"></i><i style="top:11px;height:1px;background:linear-gradient(90deg,#3659d9 0.5px,#2064e1 12.5px,#2360df 29.5px,#2261df 37.5px,#418ce7 56.5px,#5ea7e9 62.5px,#7dc4ea 67.5px,#53becd 74.5px,#2aaeb5 78.5px,#38ab8d 88.5px,#30aa99 95.5px,#2aaeb6 100.5px,#5fc1d6 104.5px,#7ec4eb 108.5px,#4a95e8 114.5px,#2a70e4 130.5px,#2260df 147.5px,#3459d9 174.5px,#325ada 181.5px)"></i><i style="top:12px;height:1px;background:linear-gradient(90deg,#305bdb 0.5px,#1f64e0 7.5px,#256be2 23.5px,#245fde 32.5px,#256ae2 41.5px,#539ee9 57.5px,#7ec2ec 63.5px,#53becd 71.5px,#2aaeb5 75.5px,#43ac7f 87.5px,#3eab85 94.5px,#2aaeb6 102.5px,#63c1d9 106.5px,#7dc2ec 110.5px,#4a95e8 116.5px,#246ae2 136.5px,#2360de 149.5px,#325ada 174.5px,#2f5bdb 181.5px)"></i><i style="top:13px;height:1px;background:linear-gradient(90deg,#2a5ddd 0.5px,#2064e1 4.5px,#2c73e5 20.5px,#2261df 32.5px,#276ee3 41.5px,#5aa4e9 55.5px,#7ec2ec 60.5px,#55bfce 68.5px,#2aaeb5 72.5px,#3eab85 81.5px,#56af6b 90.5px,#3aab8a 98.5px,#2badb0 103.5px,#30b0ba 104.5px,#5fc1d6 107.5px,#7fc4ec 111.5px,#4a95e8 118.5px,#2469e2 137.5px,#2460de 151.5px,#2f5bdb 174.5px,#2c5ddc 181.5px)"></i><i style="top:14px;height:1px;background:linear-gradient(90deg,#2260df 0.5px,#347ce6 17.5px,#1e62e0 35.5px,#418be7 47.5px,#74baeb 56.5px,#7ec4eb 58.5px,#4dbcca 66.5px,#2bafb7 69.5px,#3aab8b 77.5px,#66b15d 88.5px,#5cb066 94.5px,#2eaca4 103.5px,#2baeb7 105.5px,#5dc0d4 108.5px,#7ec4eb 112.5px,#4a96e8 120.5px,#256ae2 137.5px,#2360de 152.5px,#2c5cdc 174.5px,#285edd 181.5px)"></i><i style="top:15px;height:1px;background:linear-gradient(90deg,#2064e1 0.5px,#3d86e7 16.5px,#1f63e0 34.5px,#357de6 43.5px,#62abea 51.5px,#7fc3ec 55.5px,#53becd 63.5px,#2aaeb4 67.5px,#3cab88 75.5px,#72b452 87.5px,#6fb355 93.5px,#3cab88 101.5px,#2aaeb6 106.5px,#5dc0d4 109.5px,#7dc4ea 113.5px,#4792e8 123.5px,#266ce3 137.5px,#2460de 154.5px,#275edd 176.5px,#2360de 181.5px)"></i><i style="top:16px;height:1px;background:linear-gradient(90deg,#2469e2 0.5px,#4590e8 14.5px,#3982e7 23.5px,#2064e1 33.5px,#2f77e6 41.5px,#69b1ea 50.5px,#80c4ec 53.5px,#53becd 61.5px,#2baeb3 65.5px,#3dab87 73.5px,#78b54f 85.5px,#81b74d 91.5px,#6bb258 96.5px,#30aa9a 104.5px,#2dafb7 107.5px,#5ec1d5 110.5px,#7dc2ec 115.5px,#4591e8 125.5px,#266ce3 138.5px,#2360de 156.5px,#2061df 179.5px,#1f62e0 181.5px)"></i><i style="top:17px;height:1px;background:linear-gradient(90deg,#296fe4 0.5px,#519ce8 14.5px,#408ae7 23.5px,#2267e1 32.5px,#2b72e4 39.5px,#5ca6e9 47.5px,#7ec2ec 51.5px,#57c0cf 59.5px,#2aaeb5 63.5px,#3cab88 71.5px,#79b54f 83.5px,#8bb94a 90.5px,#73b451 96.5px,#2fab9d 105.5px,#2badb1 107.5px,#45b9c6 109.5px,#6ac2de 112.5px,#7ec2ec 116.5px,#438de7 127.5px,#286ee3 138.5px,#2360df 159.5px,#2064e1 181.5px)"></i><i style="top:18px;height:1px;background:linear-gradient(90deg,#2e75e5 0.5px,#61a9ea 13.5px,#57a1e9 20.5px,#266be3 31.5px,#2a70e4 38.5px,#539ee9 45.5px,#7fc4ec 50.5px,#54bece 58.5px,#2aaeb4 62.5px,#3dab86 70.5px,#7eb64d 83.5px,#8eb949 90.5px,#77b54f 96.5px,#30aa99 105.5px,#2aaeb6 108.5px,#5cc0d3 111.5px,#7ec2ec 117.5px,#3f8ae7 129.5px,#286ee3 140.5px,#1f63e0 172.5px,#2267e1 181.5px)"></i><i style="top:19px;height:1px;background:linear-gradient(90deg,#367ee6 0.5px,#72b8eb 13.5px,#6bb2ea 19.5px,#2a71e4 30.5px,#266ce3 36.5px,#418ce7 42.5px,#7ec4eb 49.5px,#55bfce 57.5px,#2aaeb5 61.5px,#3cab87 69.5px,#79b54f 82.5px,#8cb94a 90.5px,#6fb354 97.5px,#30aa98 105.5px,#2aaeb4 108.5px,#61c1d7 112.5px,#7ec2ec 118.5px,#408ae7 130.5px,#2970e4 141.5px,#2166e1 172.5px,#256be2 181.5px)"></i><i style="top:20px;height:1px;background:linear-gradient(90deg,#3f8ae7 0.5px,#80c4ec 12.5px,#7bc0ec 19.5px,#3078e6 29.5px,#266ce3 35.5px,#3e88e7 41.5px,#7fc4eb 48.5px,#4fbdcb 57.5px,#2baeb3 61.5px,#41ab82 70.5px,#79b54f 83.5px,#84b74c 91.5px,#6bb258 97.5px,#2eaba1 106.5px,#2baeb3 108.5px,#5fc1d6 112.5px,#7fc4eb 118.5px,#3d87e7 132.5px,#2a70e4 144.5px,#256ae2 173.5px,#286ee3 181.5px)"></i><i style="top:21px;height:1px;background:linear-gradient(90deg,#4a95e8 0.5px,#7fc3ec 8.5px,#75c3e6 17.5px,#7ec2ec 21.5px,#3a84e7 28.5px,#276de3 34.5px,#3b84e7 40.5px,#80c4ec 47.5px,#4dbcca 57.5px,#2baeb3 61.5px,#3fab84 70.5px,#75b450 85.5px,#74b450 93.5px,#46ac7b 101.5px,#2cadac 107.5px,#2aaeb4 108.5px,#5ec1d5 112.5px,#80c4ec 119.5px,#418ce7 132.5px,#2c73e5 145.5px,#286ee3 173.5px,#2b72e4 181.5px)"></i><i style="top:22px;height:1px;background:linear-gradient(90deg,#5ba4e9 0.5px,#7fc4eb 6.5px,#6ac2df 16.5px,#7fc4eb 22.5px,#3f89e7 28.5px,#2970e4 33.5px,#3179e6 38.5px,#5aa4e9 43.5px,#7dc2ec 46.5px,#4fbccb 57.5px,#2aaeb5 61.5px,#45ac7c 73.5px,#6db356 87.5px,#62b160 95.5px,#2daca7 106.5px,#2baeb7 108.5px,#5fc1d6 112.5px,#7fc3ec 120.5px,#438de7 133.5px,#2b72e4 150.5px,#2e76e5 181.5px)"></i><i style="top:23px;height:1px;background:linear-gradient(90deg,#6db4eb 0.5px,#7dc4ea 4.5px,#60c1d6 15.5px,#77c3e7 22.5px,#7ec4eb 23.5px,#438ee7 28.5px,#2b72e4 33.5px,#347ce6 38.5px,#529de8 42.5px,#7ec4eb 46.5px,#4abbc8 58.5px,#2aaeb4 62.5px,#48ac78 77.5px,#60b062 89.5px,#47ac79 98.5px,#2baeb3 107.5px,#60c1d6 112.5px,#7fc4ec 120.5px,#428de7 135.5px,#2c73e5 155.5px,#337be6 181.5px)"></i><i style="top:24px;height:1px;background:linear-gradient(90deg,#7fc3ec 0.5px,#55bfce 15.5px,#69c2de 21.5px,#7fc4eb 24.5px,#408ae7 29.5px,#2c73e5 34.5px,#3d86e7 39.5px,#57a2e9 42.5px,#7dc2ec 45.5px,#51bdcc 58.5px,#2aaeb4 63.5px,#43ac7f 78.5px,#4fad71 91.5px,#35aa92 101.5px,#2dafb7 107.5px,#5bc0d3 111.5px,#7ec4eb 120.5px,#438ee7 137.5px,#2e76e5 158.5px,#3881e7 181.5px)"></i><i style="top:25px;height:1px;background:linear-gradient(90deg,#77c3e7 0.5px,#45b9c6 15.5px,#61c1d7 21.5px,#7dc1ec 25.5px,#448fe7 29.5px,#2f76e6 33.5px,#3982e7 38.5px,#5ca6e9 42.5px,#7fc4ec 45.5px,#51bdcc 59.5px,#2aaeb5 64.5px,#3dab87 79.5px,#42ac7f 92.5px,#2daca5 103.5px,#2baeb6 106.5px,#5ec1d5 111.5px,#7fc4eb 121.5px,#448fe7 139.5px,#327ae6 159.5px,#3e87e7 181.5px)"></i><i style="top:26px;height:1px;background:linear-gradient(90deg,#6fc2e2 0.5px,#48bac7 10.5px,#39b4bf 16.5px,#5ac0d1 21.5px,#7dc4ea 25.5px,#408ae7 30.5px,#3078e6 34.5px,#418ce7 39.5px,#7abfec 44.5px,#74c3e5 47.5px,#53becd 60.5px,#2baeb3 66.5px,#39ab8c 83.5px,#36aa91 95.5px,#2cafb7 105.5px,#61c1d7 111.5px,#7fc3ec 123.5px,#448fe7 142.5px,#3881e7 162.5px,#438ee7 181.5px)"></i><i style="top:27px;height:1px;background:linear-gradient(90deg,#66c1dc 0.5px,#50bdcc 7.5px,#2fb0b9 14.5px,#3cb5c0 19.5px,#79c3e8 25.5px,#7cc0ec 26.5px,#4b97e8 29.5px,#327ae6 34.5px,#448ee7 39.5px,#7cc1ec 44.5px,#56bfcf 61.5px,#2baeb3 68.5px,#32aa95 86.5px,#2daca5 99.5px,#2fb0b9 104.5px,#63c1d9 111.5px,#80c4ec 124.5px,#4590e8 144.5px,#3f89e7 164.5px,#4894e8 181.5px)"></i><i style="top:28px;height:1px;background:linear-gradient(90deg,#60c1d6 0.5px,#4ebcca 6.5px,#2aaeb6 13.5px,#2eb0b8 18.5px,#7fc4eb 26.5px,#4692e8 30.5px,#357ee6 34.5px,#4691e8 39.5px,#7ec3ec 44.5px,#69c2de 53.5px,#58c0d0 62.5px,#2aaeb5 70.5px,#2eaba0 89.5px,#2dafb8 102.5px,#61c1d8 110.5px,#7fc4ec 125.5px,#4691e8 147.5px,#4a96e8 174.5px,#509be8 181.5px)"></i><i style="top:29px;height:1px;background:linear-gradient(90deg,#5cc0d3 0.5px,#49bac7 6.5px,#2aaeb5 12.5px,#2fb0b9 19.5px,#7cc4ea 26.5px,#65aeea 28.5px,#438de7 31.5px,#3881e7 35.5px,#4f9be8 40.5px,#80c4ec 44.5px,#6bc2df 52.5px,#5ac0d2 63.5px,#2aaeb5 74.5px,#2cadac 93.5px,#2fb0b9 100.5px,#63c1d9 110.5px,#80c4ec 127.5px,#4994e8 149.5px,#57a1e9 178.5px,#59a3e9 181.5px)"></i><i style="top:30px;height:1px;background:linear-gradient(90deg,#59c0d1 0.5px,#40b7c2 7.5px,#2aaeb4 12.5px,#2cafb7 19.5px,#79c3e8 26.5px,#7abfec 27.5px,#4c98e8 30.5px,#3a84e7 35.5px,#529de8 40.5px,#80c4ec 44.5px,#6cc2e0 52.5px,#5cc0d3 64.5px,#2dafb8 79.5px,#2fb0b9 96.5px,#6ac2df 112.5px,#7cc1ec 131.5px,#4d99e8 150.5px,#63abea 181.5px)"></i><i style="top:31px;height:1px;background:linear-gradient(90deg,#58c0d0 0.5px,#39b4bf 8.5px,#2aaeb4 12.5px,#2bafb7 19.5px,#78c3e7 26.5px,#7ec2ec 27.5px,#4894e8 31.5px,#3d87e7 35.5px,#549fe9 40.5px,#80c4ec 44.5px,#6dc2e2 52.5px,#5ec1d5 65.5px,#36b3bd 84.5px,#3fb6c2 97.5px,#70c2e3 115.5px,#7cc1ec 133.5px,#55a0e9 150.5px,#6cb3ea 181.5px)"></i><i style="top:32px;height:1px;background:linear-gradient(90deg,#58c0d0 0.5px,#34b2bc 9.5px,#2badb1 14.5px,#2cafb7 19.5px,#76c3e7 26.5px,#7fc4ec 27.5px,#4b96e8 31.5px,#418be7 36.5px,#56a1e9 40.5px,#80c4ec 44.5px,#6fc2e2 52.5px,#5fc1d6 67.5px,#43b8c4 90.5px,#75c3e6 122.5px,#7cc0ec 135.5px,#5da6e9 150.5px,#74baeb 181.5px)"></i><i style="top:33px;height:1px;background:linear-gradient(90deg,#59c0d1 0.5px,#36b3bd 9.5px,#2baeb3 14.5px,#2eb0b8 19.5px,#75c3e6 26.5px,#7ec4eb 27.5px,#4893e8 32.5px,#4691e8 37.5px,#62abea 41.5px,#7fc3ec 44.5px,#70c2e3 54.5px,#51bdcc 93.5px,#80c4ec 135.5px,#64adea 150.5px,#7cc1ec 181.5px)"></i><i style="top:34px;height:1px;background:linear-gradient(90deg,#5ac0d2 0.5px,#3eb6c1 8.5px,#2aaeb4 14.5px,#31b1ba 19.5px,#7dc4ea 27.5px,#4a96e8 32.5px,#4793e8 37.5px,#7dc2ec 44.5px,#5ac0d2 87.5px,#6cc2e0 113.5px,#7cc1ec 138.5px,#6bb2ea 151.5px,#7ec4eb 181.5px)"></i><i style="top:35px;height:1px;background:linear-gradient(90deg,#5cc0d3 0.5px,#45b9c5 7.5px,#2aaeb6 15.5px,#3bb5c0 20.5px,#7cc4ea 27.5px,#6cb3ea 29.5px,#4995e8 33.5px,#4c98e8 38.5px,#7fc4eb 45.5px,#73c3e5 58.5px,#60c1d7 99.5px,#7bc0ec 140.5px,#73b9eb 153.5px,#7dc4eb 174.5px,#7ac3e9 181.5px)"></i><i style="top:36px;height:1px;background:linear-gradient(90deg,#5dc0d4 0.5px,#3db6c1 9.5px,#2eb0b8 16.5px,#47b9c7 21.5px,#7cc4ea 27.5px,#6eb5eb 29.5px,#4b97e8 33.5px,#4e9ae8 38.5px,#80c4ec 45.5px,#74c3e5 60.5px,#64c1da 102.5px,#7dc1ec 141.5px,#79beeb 154.5px,#7bc3e9 171.5px,#77c3e7 181.5px)"></i><i style="top:37px;height:1px;background:linear-gradient(90deg,#5ec1d5 0.5px,#31b1ba 15.5px,#42b8c4 20.5px,#7bc3e9 27.5px,#7cc0ec 28.5px,#4e99e8 33.5px,#509ce8 38.5px,#7fc4eb 46.5px,#66c1dc 104.5px,#7cc0ec 144.5px,#77c3e7 176.5px,#74c3e5 181.5px)"></i><i style="top:38px;height:1px;background:linear-gradient(90deg,#5fc1d6 0.5px,#34b2bc 15.5px,#46b9c6 20.5px,#7dc1ec 28.5px,#519ce8 33.5px,#529de8 38.5px,#80c4ec 46.5px,#68c1dd 106.5px,#80c4ec 153.5px,#72c2e4 181.5px)"></i><i style="top:39px;height:1px;background:linear-gradient(90deg,#5fc1d6 0.5px,#37b3bd 14.5px,#49bac8 20.5px,#7ec2ec 28.5px,#539ee9 33.5px,#539ee9 38.5px,#80c4ec 47.5px,#69c2de 107.5px,#7ec4eb 153.5px,#70c2e3 181.5px)"></i><i style="top:40px;height:1px;background:linear-gradient(90deg,#5fc1d6 0.5px,#39b4bf 14.5px,#4dbcca 20.5px,#7ec2ec 28.5px,#529de8 34.5px,#5da7e9 40.5px,#80c4ec 48.5px,#69c2de 108.5px,#7cc4ea 153.5px,#6fc2e3 181.5px)"></i><i style="top:41px;height:1px;background:linear-gradient(90deg,#5fc1d6 0.5px,#3cb5c0 14.5px,#50bdcb 20.5px,#7fc3ec 28.5px,#549fe9 34.5px,#5ea7e9 40.5px,#80c4ec 49.5px,#68c1dd 107.5px,#7bc3e9 153.5px,#6ec2e2 181.5px)"></i><i style="top:42px;height:1px;background:linear-gradient(90deg,#5fc1d5 0.5px,#3db5c1 13.5px,#53becd 20.5px,#7fc3ec 28.5px,#56a1e9 34.5px,#5fa8e9 40.5px,#7fc4ec 50.5px,#67c1dc 106.5px,#7bc3e9 153.5px,#6dc2e1 181.5px)"></i><i style="top:43px;height:1px;background:linear-gradient(90deg,#5ec1d5 0.5px,#3fb6c2 13.5px,#56bfcf 20.5px,#7fc3ec 28.5px,#58a2e9 34.5px,#63acea 41.5px,#80c4ec 51.5px,#65c1db 104.5px,#7bc3e9 152.5px,#6dc2e1 181.5px)"></i><i style="top:44px;height:1px;background:linear-gradient(90deg,#5ec1d5 0.5px,#40b6c2 12.5px,#52becd 19.5px,#7fc3ec 28.5px,#5aa4e9 34.5px,#65adea 41.5px,#80c4ec 50.5px,#63c1d9 103.5px,#7ac3e9 152.5px,#6cc2e0 181.5px)"></i><i style="top:45px;height:1px;background:linear-gradient(90deg,#5dc0d4 0.5px,#41b7c3 12.5px,#59c0d1 20.5px,#7fc4ec 28.5px,#5ca6e9 34.5px,#66aeea 41.5px,#7fc4eb 49.5px,#5fc1d6 100.5px,#79c3e8 152.5px,#6bc2e0 181.5px)"></i><i style="top:46px;height:1px;background:linear-gradient(90deg,#5dc0d4 0.5px,#42b7c3 12.5px,#5ec1d5 21.5px,#80c4ec 28.5px,#5ea7e9 34.5px,#68b0ea 41.5px,#7ec4eb 48.5px,#60c1d6 80.5px,#63c1d9 112.5px,#79c3e8 151.5px,#6ac2df 181.5px)"></i><i style="top:47px;height:1px;background:linear-gradient(90deg,#5ec1d5 0.5px,#43b8c4 11.5px,#5cc0d3 20.5px,#80c4ec 28.5px,#5fa8e9 35.5px,#74baeb 43.5px,#7dc4ea 47.5px,#59c0d1 72.5px,#5fc1d6 111.5px,#79c3e8 150.5px,#6ac2de 181.5px)"></i><i style="top:48px;height:1px;background:linear-gradient(90deg,#5ec1d5 0.5px,#44b8c5 11.5px,#60c1d7 21.5px,#80c4ec 28.5px,#61aaea 35.5px,#78bdeb 43.5px,#7cc4ea 46.5px,#45b9c5 71.5px,#68c1dd 126.5px,#78c3e8 150.5px,#68c1dd 181.5px)"></i><i style="top:49px;height:1px;background:linear-gradient(90deg,#5fc1d6 0.5px,#45b9c5 11.5px,#65c1db 22.5px,#7fc4ec 28.5px,#63acea 35.5px,#7fc4eb 44.5px,#32b1ba 66.5px,#35b2bc 81.5px,#78c3e8 147.5px,#67c1dc 181.5px)"></i><i style="top:50px;height:1px;background:linear-gradient(90deg,#60c1d6 0.5px,#47b9c6 11.5px,#6ac2df 23.5px,#7fc4ec 28.5px,#66aeea 35.5px,#7fc4eb 43.5px,#4abbc8 54.5px,#2aaeb5 60.5px,#2cadac 75.5px,#31b1ba 87.5px,#78c3e7 144.5px,#66c1db 181.5px)"></i><i style="top:51px;height:1px;background:linear-gradient(90deg,#60c1d7 0.5px,#48bac7 11.5px,#6fc2e3 24.5px,#7cc0ec 29.5px,#68b0ea 35.5px,#7fc4ec 42.5px,#50bdcb 51.5px,#2cafb7 55.5px,#2fab9d 67.5px,#2baeb3 87.5px,#75c3e6 141.5px,#64c1da 181.5px)"></i><i style="top:52px;height:1px;background:linear-gradient(90deg,#61c1d8 0.5px,#49bac8 11.5px,#77c3e7 26.5px,#7cc1ec 29.5px,#6ab2ea 35.5px,#80c4ec 41.5px,#53becd 49.5px,#2aaeb4 53.5px,#35aa92 63.5px,#31aa96 77.5px,#2fb0b9 95.5px,#55bfcf 120.5px,#77c3e7 145.5px,#63c1d9 181.5px)"></i><i style="top:53px;height:1px;background:linear-gradient(90deg,#62c1d8 0.5px,#4bbbc9 11.5px,#7cc1ec 29.5px,#6db4eb 35.5px,#7dc4ea 41.5px,#50bdcb 48.5px,#2aaeb5 51.5px,#3eab85 61.5px,#40ab83 73.5px,#2badb1 92.5px,#48bac7 117.5px,#74c3e6 141.5px,#61c1d7 181.5px)"></i><i style="top:54px;height:1px;background:linear-gradient(90deg,#63c1d9 0.5px,#4cbbc9 11.5px,#7dc1ec 29.5px,#6fb5eb 35.5px,#7ec4eb 40.5px,#5bc0d2 46.5px,#2baeb2 50.5px,#45ac7c 59.5px,#52ae6f 68.5px,#34aa93 83.5px,#2aaeb4 97.5px,#43b8c4 117.5px,#6fc2e3 136.5px,#71c2e4 155.5px,#5fc1d6 181.5px)"></i><i style="top:55px;height:1px;background:linear-gradient(90deg,#64c1da 0.5px,#4dbcca 11.5px,#7cc1ec 29.5px,#71b7eb 35.5px,#7fc4ec 39.5px,#5cc0d4 45.5px,#31b1ba 48.5px,#30aa99 52.5px,#5fb063 61.5px,#62b161 70.5px,#2eaba2 89.5px,#2bafb7 105.5px,#44b8c5 119.5px,#6dc2e1 135.5px,#72c2e4 153.5px,#5ec1d5 181.5px)"></i><i style="top:56px;height:1px;background:linear-gradient(90deg,#64c1da 0.5px,#4ebcca 11.5px,#7cc1ec 29.5px,#72b8eb 35.5px,#7dc4ea 39.5px,#55bfce 45.5px,#2badb2 48.5px,#3fab85 53.5px,#6fb355 60.5px,#75b450 68.5px,#4fad71 79.5px,#2fab9e 89.5px,#2aaeb5 103.5px,#37b3bd 116.5px,#67c1dd 132.5px,#74c3e6 150.5px,#5cc0d3 181.5px)"></i><i style="top:57px;height:1px;background:linear-gradient(90deg,#65c1db 0.5px,#4fbccb 11.5px,#80c4ec 28.5px,#72b8eb 34.5px,#7fc4ec 38.5px,#5ac0d1 44.5px,#2aaeb4 47.5px,#38ab8d 51.5px,#77b54f 58.5px,#8cb94a 64.5px,#72b452 74.5px,#30aa97 88.5px,#2baeb2 100.5px,#31b1ba 115.5px,#67c1dd 132.5px,#74c3e6 150.5px,#5ac0d2 181.5px)"></i><i style="top:58px;height:1px;background:linear-gradient(90deg,#66c1db 0.5px,#51bdcc 11.5px,#7fc3ec 28.5px,#73b9eb 34.5px,#7ec4eb 38.5px,#5ec1d5 43.5px,#2eb0b9 46.5px,#37ab8f 50.5px,#76b44f 56.5px,#99bb46 61.5px,#96bb47 68.5px,#6db356 77.5px,#36ab90 87.5px,#2badb0 98.5px,#30b0b9 116.5px,#65c1db 131.5px,#75c3e6 148.5px,#58c0d0 181.5px)"></i><i style="top:59px;height:1px;background:linear-gradient(90deg,#67c1dc 0.5px,#53becd 11.5px,#7dc2ec 28.5px,#73b9eb 34.5px,#7cc4ea 38.5px,#5bc0d2 43.5px,#2baeb3 46.5px,#3cab87 50.5px,#79b54f 55.5px,#a5be43 60.5px,#a7be42 66.5px,#7bb54e 76.5px,#3cab88 86.5px,#2daca6 93.5px,#2badb2 108.5px,#30b0b9 117.5px,#63c1d9 130.5px,#76c3e6 147.5px,#55bfcf 181.5px)"></i><i style="top:60px;height:1px;background:linear-gradient(90deg,#69c2de 0.5px,#56bfcf 11.5px,#80c4ec 27.5px,#71b8eb 33.5px,#80c4ec 37.5px,#57c0d0 43.5px,#32b1ba 45.5px,#30aa99 48.5px,#5aaf67 52.5px,#86b84b 55.5px,#adbf41 59.5px,#b0c040 66.5px,#81b74c 76.5px,#55ae6c 82.5px,#2faa9b 90.5px,#2badb2 101.5px,#2dafb8 117.5px,#63c1d9 130.5px,#76c3e6 146.5px,#52becd 181.5px)"></i><i style="top:61px;height:1px;background:linear-gradient(90deg,#6bc2e0 0.5px,#59c0d1 10.5px,#7cc4ea 25.5px,#73b9eb 34.5px,#7fc4ec 37.5px,#5fc1d6 42.5px,#2dafb8 45.5px,#3bab8a 49.5px,#7fb64d 54.5px,#aec040 58.5px,#b8c040 64.5px,#97bb47 73.5px,#6eb355 79.5px,#3eab86 86.5px,#2daca6 93.5px,#2badb1 105.5px,#2dafb8 118.5px,#60c1d6 129.5px,#76c3e6 145.5px,#54bece 178.5px,#4fbccb 181.5px)"></i><i style="top:62px;height:1px;background:linear-gradient(90deg,#6ec2e2 0.5px,#5cc0d4 10.5px,#7fc3ec 26.5px,#70b6eb 33.5px,#7fc4ec 37.5px,#5ec1d5 42.5px,#2aaeb6 45.5px,#3cab88 49.5px,#72b451 53.5px,#aabf42 57.5px,#bbc040 62.5px,#a3bd44 71.5px,#6fb355 79.5px,#3eab86 86.5px,#2daca6 93.5px,#2badb0 105.5px,#2baeb3 117.5px,#50bdcb 125.5px,#73c3e5 139.5px,#6cc2e1 160.5px,#4cbbc9 181.5px)"></i><i style="top:63px;height:1px;background:linear-gradient(90deg,#72c2e4 0.5px,#61c1d7 10.5px,#7cc0ec 26.5px,#6eb5eb 33.5px,#80c4ec 37.5px,#5ec1d5 42.5px,#2aaeb6 45.5px,#3cab88 49.5px,#72b452 53.5px,#a8be42 57.5px,#b9c040 62.5px,#a0bd44 71.5px,#6db356 79.5px,#3dab87 86.5px,#2daca7 93.5px,#2badaf 104.5px,#2cadae 116.5px,#2fb0b9 120.5px,#5fc1d6 129.5px,#76c3e6 144.5px,#5bc0d3 172.5px,#49bac8 181.5px)"></i><i style="top:64px;height:1px;background:linear-gradient(90deg,#76c3e6 0.5px,#66c1dc 11.5px,#7cc1ec 25.5px,#6bb2ea 32.5px,#7fc3ec 37.5px,#5fc1d6 42.5px,#2dafb8 45.5px,#3bab8a 49.5px,#7cb64e 54.5px,#a9bf42 58.5px,#b2c040 64.5px,#7db64e 76.5px,#3cab89 86.5px,#2daca8 93.5px,#2cadad 104.5px,#2daca9 115.5px,#31b1ba 121.5px,#5ec1d5 129.5px,#75c3e6 144.5px,#5bc0d3 171.5px,#46b9c6 181.5px)"></i><i style="top:65px;height:1px;background:linear-gradient(90deg,#7bc3e9 0.5px,#6dc2e2 12.5px,#7bc0ec 24.5px,#69b0ea 32.5px,#7dc4ea 38.5px,#58c0d0 43.5px,#33b1bb 45.5px,#2daca5 47.5px,#48ac78 51.5px,#7fb64d 55.5px,#a2bd44 59.5px,#a4be43 65.5px,#6fb354 77.5px,#36aa91 87.5px,#2cadae 96.5px,#2eaca4 115.5px,#2cafb7 121.5px,#5dc0d4 129.5px,#75c3e6 144.5px,#5cc0d3 170.5px,#44b8c5 181.5px)"></i><i style="top:66px;height:1px;background:linear-gradient(90deg,#7fc3ec 0.5px,#74c3e5 13.5px,#7cc1ec 22.5px,#65adea 31.5px,#7fc4eb 38.5px,#5cc0d3 43.5px,#2aaeb5 46.5px,#3aab8a 50.5px,#7ab54e 56.5px,#97bb47 61.5px,#85b74c 70.5px,#67b25c 77.5px,#33aa94 87.5px,#2cadae 97.5px,#2fab9e 114.5px,#2eafb8 122.5px,#5ec1d5 130.5px,#74c3e5 145.5px,#56bfcf 172.5px,#41b7c3 181.5px)"></i><i style="top:67px;height:1px;background:linear-gradient(90deg,#74baeb 0.5px,#7ec4eb 4.5px,#7bc0ec 20.5px,#62abea 31.5px,#77bdeb 37.5px,#7cc4ea 39.5px,#57bfcf 44.5px,#33b2bb 46.5px,#2daca7 48.5px,#4aac76 53.5px,#76b44f 58.5px,#82b74c 64.5px,#65b15e 75.5px,#2faa9b 88.5px,#2cadad 98.5px,#31aa97 113.5px,#2aaeb5 122.5px,#5dc0d4 130.5px,#73c3e5 145.5px,#56bfcf 171.5px,#3fb6c2 181.5px)"></i><i style="top:68px;height:1px;background:linear-gradient(90deg,#69b0ea 0.5px,#7fc3ec 10.5px,#60a9ea 32.5px,#7ec4eb 39.5px,#51bdcc 45.5px,#2fb0b9 47.5px,#33aa95 51.5px,#66b25c 59.5px,#6ab259 67.5px,#45ac7c 80.5px,#2daca5 90.5px,#2daca9 100.5px,#36aa90 113.5px,#2baeb7 123.5px,#5bc0d2 130.5px,#73c3e5 146.5px,#4ebcca 173.5px,#3db5c1 181.5px)"></i><i style="top:69px;height:1px;background:linear-gradient(90deg,#5da7e9 0.5px,#73b9eb 11.5px,#5ca6e9 32.5px,#7cc4ea 40.5px,#4fbccb 46.5px,#2fb0b9 48.5px,#35aa91 53.5px,#57af6b 61.5px,#4ead73 74.5px,#2daca5 89.5px,#2daca9 99.5px,#3bab89 112.5px,#2daca9 121.5px,#2fb0b9 124.5px,#5cc0d3 131.5px,#72c2e4 147.5px,#46b9c6 175.5px,#3bb5c0 181.5px)"></i><i style="top:70px;height:1px;background:linear-gradient(90deg,#529de8 0.5px,#68afea 12.5px,#59a3e9 32.5px,#79beeb 39.5px,#7bc3e9 41.5px,#50bdcb 47.5px,#2baeb3 50.5px,#41ab82 59.5px,#44ac7d 73.5px,#2cadab 91.5px,#2eaba2 101.5px,#40ab83 112.5px,#2eaba0 120.5px,#2aaeb6 124.5px,#5ac0d1 131.5px,#71c2e3 147.5px,#44b8c5 175.5px,#39b4bf 181.5px)"></i><i style="top:71px;height:1px;background:linear-gradient(90deg,#4995e8 0.5px,#5ca6e9 15.5px,#56a0e9 32.5px,#7fc4eb 41.5px,#54bece 48.5px,#2eb0b8 51.5px,#38ab8d 61.5px,#39ab8c 77.5px,#2cadae 93.5px,#30aa98 103.5px,#45ac7c 112.5px,#31aa97 119.5px,#2fb0b9 125.5px,#5ac0d2 132.5px,#6fc2e3 148.5px,#38b3be 181.5px)"></i><i style="top:72px;height:1px;background:linear-gradient(90deg,#438ee7 0.5px,#529de8 20.5px,#55a0e9 33.5px,#7fc4eb 42.5px,#50bdcb 50.5px,#2aaeb4 54.5px,#31aa96 65.5px,#30aa9a 80.5px,#2cadae 93.5px,#33aa94 103.5px,#4aac76 112.5px,#34aa92 119.5px,#2baeb6 125.5px,#58c0d0 132.5px,#6ec2e2 148.5px,#37b3bd 181.5px)"></i><i style="top:73px;height:1px;background:linear-gradient(90deg,#3e88e7 0.5px,#4c98e8 25.5px,#5ca6e9 36.5px,#7fc4eb 43.5px,#51bdcc 52.5px,#2aaeb5 57.5px,#2fab9c 72.5px,#2cadae 94.5px,#3aab8b 104.5px,#52ae6f 112.5px,#37ab8e 119.5px,#2aaeb4 125.5px,#5bc0d2 134.5px,#6dc2e2 148.5px,#36b3bd 181.5px)"></i><i style="top:74px;height:1px;background:linear-gradient(90deg,#3983e7 0.5px,#539ee9 34.5px,#7fc4ec 44.5px,#47b9c6 56.5px,#2aaeb4 62.5px,#2eaca4 78.5px,#2badb0 93.5px,#38ab8d 103.5px,#58af69 111.5px,#48ac78 116.5px,#2daca7 123.5px,#2dafb7 126.5px,#59c0d1 134.5px,#6cc2e1 148.5px,#35b2bc 181.5px)"></i><i style="top:75px;height:1px;background:linear-gradient(90deg,#367ee6 0.5px,#549ee9 35.5px,#80c4ec 45.5px,#48bac7 59.5px,#2aaeb4 66.5px,#2cadac 81.5px,#2cadae 94.5px,#3aab8b 103.5px,#5eb064 111.5px,#4dad73 116.5px,#2daca5 123.5px,#2aaeb6 126.5px,#58c0d0 134.5px,#6cc2e0 148.5px,#35b2bc 180.5px,#34b2bc 181.5px)"></i><i style="top:76px;height:1px;background:linear-gradient(90deg,#337be6 0.5px,#529de8 35.5px,#7dc4eb 47.5px,#47b9c6 62.5px,#2aaeb4 70.5px,#2baeb3 85.5px,#2cadac 95.5px,#3bab89 103.5px,#62b161 111.5px,#51ae70 116.5px,#2eaca4 123.5px,#30b1ba 127.5px,#5bc0d3 136.5px,#6ac2df 149.5px,#36b3bd 178.5px,#34b2bb 181.5px)"></i><i style="top:77px;height:1px;background:linear-gradient(90deg,#3179e6 0.5px,#549fe9 36.5px,#80c4ec 47.5px,#4bbbc8 63.5px,#2aaeb4 72.5px,#2badaf 94.5px,#38ab8e 102.5px,#64b15e 111.5px,#53ae6e 116.5px,#2eaba3 123.5px,#2fb0b9 127.5px,#5bc0d2 136.5px,#6ac2df 149.5px,#36b3bd 177.5px,#33b2bb 181.5px)"></i><i style="top:78px;height:1px;background:linear-gradient(90deg,#3179e6 0.5px,#549ee9 36.5px,#7ec4eb 48.5px,#4dbcca 63.5px,#2aaeb5 72.5px,#2badaf 94.5px,#38ab8d 102.5px,#65b15e 111.5px,#5baf67 115.5px,#2fab9c 122.5px,#2fb0b9 127.5px,#5bc0d2 136.5px,#6ac2de 149.5px,#36b3bd 177.5px,#33b2bb 181.5px)"></i><i style="top:79px;height:1px;background:linear-gradient(90deg,#327ae6 0.5px,#549fe9 36.5px,#7fc4ec 47.5px,#48bac7 63.5px,#2aaeb5 71.5px,#2badaf 94.5px,#37ab8e 102.5px,#63b15f 111.5px,#52ae6f 116.5px,#2eaca3 123.5px,#30b0b9 127.5px,#5bc0d2 136.5px,#6ac2df 149.5px,#36b3bd 177.5px,#34b2bb 181.5px)"></i><i style="top:80px;height:1px;background:linear-gradient(90deg,#347de6 0.5px,#539ee9 35.5px,#7fc4eb 46.5px,#46b9c6 61.5px,#2aaeb4 68.5px,#2badaf 82.5px,#2badaf 94.5px,#3bab8a 103.5px,#60b063 111.5px,#4fad72 116.5px,#2daca5 123.5px,#2aaeb5 126.5px,#5ac0d1 135.5px,#6ac2df 149.5px,#35b2bc 179.5px,#34b2bc 181.5px)"></i><i style="top:81px;height:1px;background:linear-gradient(90deg,#3982e7 0.5px,#529de8 34.5px,#7fc4ec 44.5px,#4cbbc9 56.5px,#2aaeb4 63.5px,#2daca5 78.5px,#2badb0 93.5px,#38ab8d 103.5px,#59af68 111.5px,#49ac77 116.5px,#2daca7 123.5px,#2cafb7 126.5px,#59c0d1 134.5px,#6cc2e1 148.5px,#35b2bc 181.5px)"></i><i style="top:82px;height:1px;background:linear-gradient(90deg,#3d87e7 0.5px,#4b97e8 27.5px,#60a9ea 37.5px,#80c4ec 43.5px,#4cbbc9 53.5px,#2aaeb4 58.5px,#2fab9d 74.5px,#2cadae 94.5px,#3aab8b 104.5px,#53ae6e 112.5px,#38ab8e 119.5px,#2aaeb4 125.5px,#5bc0d2 134.5px,#6dc2e1 148.5px,#35b2bc 181.5px)"></i></div>
<svg width="500" height="381" viewBox="0 0 500 381"><defs><linearGradient id="cbg" x1="0" y1="0" x2="0" y2="1"><stop offset="0.000" stop-color="#a01c28"/><stop offset="0.040" stop-color="#b03038"/><stop offset="0.080" stop-color="#be3e49"/><stop offset="0.120" stop-color="#cd4949"/><stop offset="0.160" stop-color="#dd5739"/><stop offset="0.200" stop-color="#ec751f"/><stop offset="0.240" stop-color="#f18c21"/><stop offset="0.280" stop-color="#f2a030"/><stop offset="0.320" stop-color="#e8b539"/><stop offset="0.360" stop-color="#d3c13f"/><stop offset="0.400" stop-color="#abbf41"/><stop offset="0.440" stop-color="#74b450"/><stop offset="0.480" stop-color="#48ac78"/><stop offset="0.520" stop-color="#30aa98"/><stop offset="0.560" stop-color="#2aaeb6"/><stop offset="0.600" stop-color="#5ec1d5"/><stop offset="0.640" stop-color="#7bc3e9"/><stop offset="0.680" stop-color="#5da7e9"/><stop offset="0.720" stop-color="#3e88e7"/><stop offset="0.760" stop-color="#2a71e4"/><stop offset="0.800" stop-color="#255fde"/><stop offset="0.840" stop-color="#4652d4"/><stop offset="0.880" stop-color="#5e4bc8"/><stop offset="0.920" stop-color="#5d3eb4"/><stop offset="0.960" stop-color="#432b94"/><stop offset="1.000" stop-color="#2a1a6c"/></linearGradient><filter id="blr" x="0" y="0" width="500" height="381" filterUnits="userSpaceOnUse"><feGaussianBlur stdDeviation="0.35"/></filter></defs>
<rect x="45" y="22" width="181" height="1" fill="#2a6ee8" opacity="0.85"/>
<rect x="45.50" y="102.33" width="180.70" height="2.07" fill="#fff"/>
<rect x="271.40" y="102.33" width="180.70" height="2.07" fill="#fff"/>
<rect x="45.50" y="222.62" width="180.70" height="6.88" fill="#fff"/>
<rect x="271.40" y="222.62" width="180.70" height="6.88" fill="#fff"/>
<rect x="45.50" y="347.65" width="180.70" height="6.85" fill="#fff"/>
<rect x="271.40" y="347.65" width="180.70" height="6.85" fill="#fff"/>
<g filter="url(#blr)">
<circle cx="46.6" cy="55.6" r="1.75" fill="#88c4ee" fill-opacity="0.70"/>
<circle cx="48.6" cy="55.6" r="1.75" fill="#88c4ee" fill-opacity="0.70"/>
<circle cx="50.5" cy="55.6" r="1.75" fill="#88c4ee" fill-opacity="0.70"/>
<circle cx="52.4" cy="55.6" r="1.75" fill="#88c4ee" fill-opacity="0.70"/>
<circle cx="54.4" cy="55.6" r="1.75" fill="#88c4ee" fill-opacity="0.70"/>
<circle cx="56.3" cy="55.6" r="1.75" fill="#88c4ee" fill-opacity="0.70"/>
<circle cx="58.2" cy="55.6" r="1.75" fill="#88c4ee" fill-opacity="0.70"/>
<circle cx="60.2" cy="55.6" r="1.75" fill="#88c4ee" fill-opacity="0.70"/>
<circle cx="61.8" cy="64.8" r="1.75" fill="#88c4ee" fill-opacity="0.70"/>
<circle cx="64.2" cy="71.2" r="1.75" fill="#2268e2" fill-opacity="0.85"/>
<circle cx="65.6" cy="74.2" r="1.75" fill="#65a5eb" fill-opacity="0.70"/>
<circle cx="64.2" cy="77.2" r="1.75" fill="#276de3" fill-opacity="0.85"/>
<circle cx="65.6" cy="80.2" r="1.75" fill="#2268e2" fill-opacity="0.85"/>
<circle cx="64.2" cy="83.1" r="1.75" fill="#2268e2" fill-opacity="0.85"/>
<circle cx="65.6" cy="86.1" r="1.75" fill="#2268e2" fill-opacity="0.85"/>
<circle cx="64.2" cy="89.1" r="1.75" fill="#2268e2" fill-opacity="0.85"/>
<circle cx="65.6" cy="92.0" r="1.75" fill="#2268e2" fill-opacity="0.85"/>
<circle cx="64.2" cy="95.0" r="1.75" fill="#2268e2" fill-opacity="0.85"/>
<circle cx="65.6" cy="98.0" r="1.75" fill="#2268e2" fill-opacity="0.85"/>
<circle cx="64.2" cy="101.0" r="1.75" fill="#2268e2" fill-opacity="0.85"/>
<circle cx="65.6" cy="103.9" r="1.75" fill="#2268e2" fill-opacity="0.85"/>
<circle cx="68.5" cy="52.4" r="1.75" fill="#88c4ee" fill-opacity="0.70"/>
<circle cx="70.4" cy="52.4" r="1.75" fill="#88c4ee" fill-opacity="0.70"/>
<circle cx="72.4" cy="52.4" r="1.75" fill="#88c4ee" fill-opacity="0.70"/>
<circle cx="74.3" cy="52.4" r="1.75" fill="#88c4ee" fill-opacity="0.70"/>
<circle cx="76.2" cy="52.4" r="1.75" fill="#88c4ee" fill-opacity="0.70"/>
<circle cx="78.1" cy="52.4" r="1.75" fill="#93cdef" fill-opacity="0.70"/>
<circle cx="80.0" cy="52.4" r="1.75" fill="#5ec1d5" fill-opacity="0.85"/>
<circle cx="81.9" cy="52.4" r="1.75" fill="#abbf41" fill-opacity="0.85"/>
<circle cx="83.8" cy="52.4" r="1.75" fill="#74b450" fill-opacity="0.85"/>
<circle cx="85.7" cy="52.4" r="1.75" fill="#2aaeb6" fill-opacity="0.85"/>
<circle cx="87.6" cy="52.4" r="1.75" fill="#2aaeb6" fill-opacity="0.85"/>
<circle cx="89.5" cy="52.4" r="1.75" fill="#93cdef" fill-opacity="0.70"/>
<circle cx="89.2" cy="58.8" r="1.75" fill="#abbf41" fill-opacity="0.85"/>
<circle cx="90.3" cy="62.0" r="1.75" fill="#abbf41" fill-opacity="0.85"/>
<circle cx="89.2" cy="65.3" r="1.75" fill="#a0bd44" fill-opacity="0.85"/>
<circle cx="90.3" cy="68.5" r="1.75" fill="#2aaeb6" fill-opacity="0.85"/>
<circle cx="89.2" cy="71.7" r="1.75" fill="#88c4ee" fill-opacity="0.70"/>
<circle cx="90.3" cy="74.9" r="1.75" fill="#5da7e9" fill-opacity="0.85"/>
<circle cx="89.2" cy="78.1" r="1.75" fill="#438de7" fill-opacity="0.85"/>
<circle cx="90.3" cy="81.4" r="1.75" fill="#327be6" fill-opacity="0.85"/>
<circle cx="89.2" cy="84.6" r="1.75" fill="#276de3" fill-opacity="0.85"/>
<circle cx="90.3" cy="87.8" r="1.75" fill="#2268e2" fill-opacity="0.85"/>
<circle cx="89.2" cy="91.0" r="1.75" fill="#2268e2" fill-opacity="0.85"/>
<circle cx="90.3" cy="94.3" r="1.75" fill="#2268e2" fill-opacity="0.85"/>
<circle cx="89.2" cy="97.5" r="1.75" fill="#2268e2" fill-opacity="0.85"/>
<circle cx="90.3" cy="100.7" r="1.75" fill="#2268e2" fill-opacity="0.85"/>
<circle cx="89.2" cy="103.9" r="1.75" fill="#2268e2" fill-opacity="0.85"/>
<circle cx="95.3" cy="57.0" r="1.75" fill="#30aa98" fill-opacity="0.85"/>
<circle cx="96.0" cy="60.3" r="1.75" fill="#abbf41" fill-opacity="0.85"/>
<circle cx="95.3" cy="63.6" r="1.75" fill="#74b450" fill-opacity="0.85"/>
<circle cx="96.0" cy="67.0" r="1.75" fill="#2aaeb6" fill-opacity="0.85"/>
<circle cx="95.3" cy="70.3" r="1.75" fill="#5ec1d5" fill-opacity="0.85"/>
<circle cx="96.3" cy="48.7" r="1.75" fill="#88c4ee" fill-opacity="0.70"/>
<circle cx="98.4" cy="48.7" r="1.75" fill="#88c4ee" fill-opacity="0.70"/>
<circle cx="100.6" cy="48.7" r="1.75" fill="#2268e2" fill-opacity="0.85"/>
<circle cx="102.7" cy="48.7" r="1.75" fill="#88c4ee" fill-opacity="0.70"/>
<circle cx="104.8" cy="48.7" r="1.75" fill="#88c4ee" fill-opacity="0.70"/>
<circle cx="106.9" cy="48.7" r="1.75" fill="#93cdef" fill-opacity="0.70"/>
<circle cx="109.0" cy="48.7" r="1.75" fill="#93cdef" fill-opacity="0.70"/>
<circle cx="111.1" cy="48.7" r="1.75" fill="#93cdef" fill-opacity="0.70"/>
<circle cx="113.3" cy="48.7" r="1.75" fill="#93cdef" fill-opacity="0.70"/>
<circle cx="116.1" cy="66.6" r="1.75" fill="#abbf41" fill-opacity="0.85"/>
<circle cx="117.7" cy="70.7" r="1.75" fill="#88c4ee" fill-opacity="0.70"/>
<circle cx="116.1" cy="74.8" r="1.75" fill="#88c4ee" fill-opacity="0.70"/>
<circle cx="117.7" cy="78.9" r="1.75" fill="#abbf41" fill-opacity="0.85"/>
<circle cx="116.1" cy="83.0" r="1.75" fill="#88c4ee" fill-opacity="0.70"/>
<circle cx="117.7" cy="87.1" r="1.75" fill="#88c4ee" fill-opacity="0.70"/>
<circle cx="116.1" cy="91.2" r="1.75" fill="#7bc3e9" fill-opacity="0.85"/>
<circle cx="117.7" cy="95.3" r="1.75" fill="#5ec1d5" fill-opacity="0.85"/>
<circle cx="116.1" cy="99.4" r="1.75" fill="#3e88e7" fill-opacity="0.85"/>
<circle cx="117.7" cy="103.5" r="1.75" fill="#2268e2" fill-opacity="0.85"/>
<circle cx="121.2" cy="61.6" r="1.75" fill="#93cdef" fill-opacity="0.70"/>
<circle cx="123.4" cy="61.6" r="1.75" fill="#93cdef" fill-opacity="0.70"/>
<circle cx="125.7" cy="61.6" r="1.75" fill="#93cdef" fill-opacity="0.70"/>
<circle cx="127.9" cy="61.6" r="1.75" fill="#93cdef" fill-opacity="0.70"/>
<circle cx="129.0" cy="65.3" r="1.75" fill="#5ec1d5" fill-opacity="0.85"/>
<circle cx="130.1" cy="68.7" r="1.75" fill="#2aaeb6" fill-opacity="0.85"/>
<circle cx="129.0" cy="72.2" r="1.75" fill="#93cdef" fill-opacity="0.70"/>
<circle cx="130.1" cy="75.7" r="1.75" fill="#2aaeb6" fill-opacity="0.85"/>
<circle cx="129.0" cy="79.2" r="1.75" fill="#93cdef" fill-opacity="0.70"/>
<circle cx="130.1" cy="82.6" r="1.75" fill="#2aaeb6" fill-opacity="0.85"/>
<circle cx="129.0" cy="86.1" r="1.75" fill="#93cdef" fill-opacity="0.70"/>
<circle cx="130.1" cy="89.6" r="1.75" fill="#f19628" fill-opacity="0.85"/>
<circle cx="129.0" cy="93.1" r="1.75" fill="#d44d43" fill-opacity="0.85"/>
<circle cx="130.1" cy="96.5" r="1.75" fill="#cd4949" fill-opacity="0.85"/>
<circle cx="129.0" cy="100.0" r="1.75" fill="#2aaeb6" fill-opacity="0.85"/>
<circle cx="130.1" cy="103.5" r="1.75" fill="#2aaeb6" fill-opacity="0.85"/>
<circle cx="140.4" cy="56.0" r="1.75" fill="#d3c13f" fill-opacity="0.85"/>
<circle cx="142.2" cy="60.4" r="1.75" fill="#e3c03d" fill-opacity="0.85"/>
<circle cx="140.4" cy="64.8" r="1.75" fill="#30aa98" fill-opacity="0.85"/>
<circle cx="142.2" cy="69.1" r="1.75" fill="#2aaeb6" fill-opacity="0.85"/>
<circle cx="140.4" cy="73.5" r="1.75" fill="#2aaeb6" fill-opacity="0.85"/>
<circle cx="142.2" cy="77.8" r="1.75" fill="#93cdef" fill-opacity="0.70"/>
<circle cx="140.4" cy="82.2" r="1.75" fill="#2aaeb6" fill-opacity="0.85"/>
<circle cx="142.2" cy="86.5" r="1.75" fill="#f18c21" fill-opacity="0.85"/>
<circle cx="140.4" cy="90.9" r="1.75" fill="#c5454f" fill-opacity="0.85"/>
<circle cx="142.2" cy="95.2" r="1.75" fill="#abbf41" fill-opacity="0.85"/>
<circle cx="140.4" cy="99.6" r="1.75" fill="#74b450" fill-opacity="0.85"/>
<circle cx="142.2" cy="103.9" r="1.75" fill="#5eb064" fill-opacity="0.85"/>
<circle cx="152.2" cy="56.0" r="1.75" fill="#2aaeb6" fill-opacity="0.85"/>
<circle cx="153.8" cy="60.8" r="1.75" fill="#2aaeb6" fill-opacity="0.85"/>
<circle cx="152.2" cy="65.6" r="1.75" fill="#2aaeb6" fill-opacity="0.85"/>
<circle cx="153.8" cy="70.4" r="1.75" fill="#88c4ee" fill-opacity="0.70"/>
<circle cx="152.2" cy="75.2" r="1.75" fill="#2aaeb6" fill-opacity="0.85"/>
<circle cx="153.8" cy="80.0" r="1.75" fill="#93cdef" fill-opacity="0.70"/>
<circle cx="152.2" cy="84.8" r="1.75" fill="#2aaeb6" fill-opacity="0.85"/>
<circle cx="153.8" cy="89.6" r="1.75" fill="#ec751f" fill-opacity="0.85"/>
<circle cx="152.2" cy="94.4" r="1.75" fill="#cd4949" fill-opacity="0.85"/>
<circle cx="153.8" cy="99.1" r="1.75" fill="#2aaeb6" fill-opacity="0.85"/>
<circle cx="152.2" cy="103.9" r="1.75" fill="#2aaeb6" fill-opacity="0.85"/>
<circle cx="163.4" cy="89.7" r="1.75" fill="#f19628" fill-opacity="0.85"/>
<circle cx="164.3" cy="92.9" r="1.75" fill="#e3c03d" fill-opacity="0.85"/>
<circle cx="163.4" cy="96.1" r="1.75" fill="#d3c13f" fill-opacity="0.85"/>
<circle cx="159.6" cy="53.7" r="1.75" fill="#2daca7" fill-opacity="0.85"/>
<circle cx="161.7" cy="53.7" r="1.75" fill="#2daca7" fill-opacity="0.85"/>
<circle cx="163.8" cy="53.7" r="1.75" fill="#2daca7" fill-opacity="0.85"/>
<circle cx="165.9" cy="53.7" r="1.75" fill="#2daca7" fill-opacity="0.85"/>
<circle cx="168.0" cy="53.7" r="1.75" fill="#2daca7" fill-opacity="0.85"/>
<circle cx="170.1" cy="53.7" r="1.75" fill="#2daca7" fill-opacity="0.85"/>
<circle cx="172.2" cy="53.7" r="1.75" fill="#2daca7" fill-opacity="0.85"/>
<circle cx="174.2" cy="53.7" r="1.75" fill="#2daca7" fill-opacity="0.85"/>
<circle cx="159.2" cy="53.7" r="1.75" fill="#2daca7" fill-opacity="0.85"/>
<circle cx="160.4" cy="59.3" r="1.75" fill="#2daca7" fill-opacity="0.85"/>
<circle cx="159.2" cy="64.9" r="1.75" fill="#88c4ee" fill-opacity="0.70"/>
<circle cx="160.4" cy="70.5" r="1.75" fill="#88c4ee" fill-opacity="0.70"/>
<circle cx="159.2" cy="76.1" r="1.75" fill="#88c4ee" fill-opacity="0.70"/>
<circle cx="160.4" cy="81.6" r="1.75" fill="#88c4ee" fill-opacity="0.70"/>
<circle cx="159.2" cy="87.2" r="1.75" fill="#2aaeb6" fill-opacity="0.85"/>
<circle cx="160.4" cy="92.8" r="1.75" fill="#d3c13f" fill-opacity="0.85"/>
<circle cx="159.2" cy="98.4" r="1.75" fill="#2aaeb6" fill-opacity="0.85"/>
<circle cx="160.4" cy="103.9" r="1.75" fill="#2aaeb6" fill-opacity="0.85"/>
<circle cx="164.9" cy="72.2" r="1.75" fill="#2a71e4" fill-opacity="0.85"/>
<circle cx="165.6" cy="76.8" r="1.75" fill="#2a71e4" fill-opacity="0.85"/>
<circle cx="164.9" cy="81.4" r="1.75" fill="#2d74e5" fill-opacity="0.85"/>
<circle cx="165.6" cy="86.0" r="1.75" fill="#327be6" fill-opacity="0.85"/>
<circle cx="171.7" cy="54.7" r="1.75" fill="#2daca7" fill-opacity="0.85"/>
<circle cx="172.3" cy="59.0" r="1.75" fill="#2daca7" fill-opacity="0.85"/>
<circle cx="171.7" cy="63.3" r="1.75" fill="#2aaeb6" fill-opacity="0.85"/>
<circle cx="172.3" cy="67.6" r="1.75" fill="#2aaeb6" fill-opacity="0.85"/>
<circle cx="181.0" cy="72.2" r="1.75" fill="#93cdef" fill-opacity="0.70"/>
<circle cx="181.9" cy="77.5" r="1.75" fill="#93cdef" fill-opacity="0.70"/>
<circle cx="181.0" cy="82.8" r="1.75" fill="#88c4ee" fill-opacity="0.70"/>
<circle cx="181.9" cy="88.1" r="1.75" fill="#88c4ee" fill-opacity="0.70"/>
<circle cx="181.0" cy="93.3" r="1.75" fill="#93cdef" fill-opacity="0.70"/>
<circle cx="181.9" cy="98.6" r="1.75" fill="#8fccec" fill-opacity="0.70"/>
<circle cx="181.0" cy="103.9" r="1.75" fill="#2aaeb6" fill-opacity="0.85"/>
<circle cx="191.2" cy="50.1" r="1.75" fill="#93cdef" fill-opacity="0.70"/>
<circle cx="192.5" cy="56.5" r="1.75" fill="#93cdef" fill-opacity="0.70"/>
<circle cx="191.2" cy="63.0" r="1.75" fill="#88c4ee" fill-opacity="0.70"/>
<circle cx="192.5" cy="69.4" r="1.75" fill="#88c4ee" fill-opacity="0.70"/>
<circle cx="191.2" cy="75.8" r="1.75" fill="#93cdef" fill-opacity="0.70"/>
<circle cx="192.5" cy="82.3" r="1.75" fill="#88c4ee" fill-opacity="0.70"/>
<circle cx="191.2" cy="88.7" r="1.75" fill="#88c4ee" fill-opacity="0.70"/>
<circle cx="192.5" cy="95.2" r="1.75" fill="#93cdef" fill-opacity="0.70"/>
<circle cx="196.0" cy="99.8" r="1.75" fill="#2badb0" fill-opacity="0.85"/>
<circle cx="204.0" cy="50.1" r="1.75" fill="#93cdef" fill-opacity="0.70"/>
<circle cx="205.5" cy="56.0" r="1.75" fill="#93cdef" fill-opacity="0.70"/>
<circle cx="204.0" cy="62.0" r="1.75" fill="#88c4ee" fill-opacity="0.70"/>
<circle cx="205.5" cy="68.0" r="1.75" fill="#88c4ee" fill-opacity="0.70"/>
<circle cx="204.0" cy="74.0" r="1.75" fill="#93cdef" fill-opacity="0.70"/>
<circle cx="205.5" cy="80.0" r="1.75" fill="#3e88e7" fill-opacity="0.85"/>
<circle cx="204.0" cy="86.0" r="1.75" fill="#3e88e7" fill-opacity="0.85"/>
<circle cx="210.5" cy="99.8" r="1.75" fill="#2badb0" fill-opacity="0.85"/>
<circle cx="215.4" cy="48.2" r="1.75" fill="#8fccec" fill-opacity="0.70"/>
<circle cx="216.7" cy="54.5" r="1.75" fill="#8fccec" fill-opacity="0.70"/>
<circle cx="215.4" cy="60.8" r="1.75" fill="#93cdef" fill-opacity="0.70"/>
<circle cx="216.7" cy="67.1" r="1.75" fill="#88c4ee" fill-opacity="0.70"/>
<circle cx="215.4" cy="73.4" r="1.75" fill="#4a95e8" fill-opacity="0.85"/>
<circle cx="216.7" cy="79.7" r="1.75" fill="#88c4ee" fill-opacity="0.70"/>
<circle cx="215.4" cy="86.0" r="1.75" fill="#3e88e7" fill-opacity="0.85"/>
<circle cx="224.7" cy="99.8" r="1.75" fill="#30aa98" fill-opacity="0.85"/>
<circle cx="225.4" cy="103.9" r="1.75" fill="#30aa98" fill-opacity="0.85"/>
<circle cx="273.2" cy="54.2" r="1.75" fill="#88c4ee" fill-opacity="0.70"/>
<circle cx="276.3" cy="54.2" r="1.75" fill="#88c4ee" fill-opacity="0.70"/>
<circle cx="279.3" cy="54.2" r="1.75" fill="#88c4ee" fill-opacity="0.70"/>
<circle cx="280.1" cy="57.4" r="1.75" fill="#88c4ee" fill-opacity="0.70"/>
<circle cx="281.2" cy="62.6" r="1.75" fill="#88c4ee" fill-opacity="0.70"/>
<circle cx="280.1" cy="67.8" r="1.75" fill="#93cdef" fill-opacity="0.70"/>
<circle cx="281.2" cy="72.9" r="1.75" fill="#76b4ed" fill-opacity="0.70"/>
<circle cx="280.1" cy="78.1" r="1.75" fill="#76b4ed" fill-opacity="0.70"/>
<circle cx="281.2" cy="83.3" r="1.75" fill="#559fe9" fill-opacity="0.85"/>
<circle cx="280.1" cy="88.4" r="1.75" fill="#559fe9" fill-opacity="0.85"/>
<circle cx="281.2" cy="93.6" r="1.75" fill="#76b4ed" fill-opacity="0.70"/>
<circle cx="280.1" cy="98.8" r="1.75" fill="#4a95e8" fill-opacity="0.85"/>
<circle cx="281.2" cy="103.9" r="1.75" fill="#2268e2" fill-opacity="0.85"/>
<circle cx="288.3" cy="53.7" r="1.75" fill="#93cdef" fill-opacity="0.70"/>
<circle cx="290.8" cy="53.7" r="1.75" fill="#93cdef" fill-opacity="0.70"/>
<circle cx="293.3" cy="53.7" r="1.75" fill="#93cdef" fill-opacity="0.70"/>
<circle cx="295.8" cy="53.7" r="1.75" fill="#93cdef" fill-opacity="0.70"/>
<circle cx="298.3" cy="53.7" r="1.75" fill="#93cdef" fill-opacity="0.70"/>
<circle cx="300.8" cy="53.7" r="1.75" fill="#93cdef" fill-opacity="0.70"/>
<circle cx="286.1" cy="54.7" r="1.75" fill="#93cdef" fill-opacity="0.70"/>
<circle cx="287.0" cy="58.7" r="1.75" fill="#88c4ee" fill-opacity="0.70"/>
<circle cx="286.1" cy="62.6" r="1.75" fill="#88c4ee" fill-opacity="0.70"/>
<circle cx="287.0" cy="66.6" r="1.75" fill="#88c4ee" fill-opacity="0.70"/>
<circle cx="303.2" cy="67.6" r="1.75" fill="#2a71e4" fill-opacity="0.85"/>
<circle cx="304.6" cy="72.8" r="1.75" fill="#276de3" fill-opacity="0.85"/>
<circle cx="303.2" cy="78.0" r="1.75" fill="#2a71e4" fill-opacity="0.85"/>
<circle cx="304.6" cy="83.1" r="1.75" fill="#76b4ed" fill-opacity="0.70"/>
<circle cx="303.2" cy="88.3" r="1.75" fill="#76b4ed" fill-opacity="0.70"/>
<circle cx="304.6" cy="93.5" r="1.75" fill="#276de3" fill-opacity="0.85"/>
<circle cx="303.2" cy="98.7" r="1.75" fill="#2268e2" fill-opacity="0.85"/>
<circle cx="304.6" cy="103.9" r="1.75" fill="#2268e2" fill-opacity="0.85"/>
<circle cx="310.9" cy="49.1" r="1.75" fill="#2268e2" fill-opacity="0.85"/>
<circle cx="313.2" cy="49.1" r="1.75" fill="#2268e2" fill-opacity="0.85"/>
<circle cx="315.4" cy="49.1" r="1.75" fill="#276de3" fill-opacity="0.85"/>
<circle cx="309.3" cy="51.4" r="1.75" fill="#276de3" fill-opacity="0.85"/>
<circle cx="310.3" cy="56.0" r="1.75" fill="#2a71e4" fill-opacity="0.85"/>
<circle cx="309.3" cy="60.6" r="1.75" fill="#2a71e4" fill-opacity="0.85"/>
<circle cx="310.3" cy="65.3" r="1.75" fill="#2d74e5" fill-opacity="0.85"/>
<circle cx="316.8" cy="55.6" r="1.75" fill="#88c4ee" fill-opacity="0.70"/>
<circle cx="318.2" cy="61.0" r="1.75" fill="#88c4ee" fill-opacity="0.70"/>
<circle cx="316.8" cy="66.3" r="1.75" fill="#88c4ee" fill-opacity="0.70"/>
<circle cx="318.2" cy="71.7" r="1.75" fill="#7dbaed" fill-opacity="0.70"/>
<circle cx="316.8" cy="77.1" r="1.75" fill="#76b4ed" fill-opacity="0.70"/>
<circle cx="318.2" cy="82.4" r="1.75" fill="#76b4ed" fill-opacity="0.70"/>
<circle cx="316.8" cy="87.8" r="1.75" fill="#76b4ed" fill-opacity="0.70"/>
<circle cx="318.2" cy="93.2" r="1.75" fill="#7dbaed" fill-opacity="0.70"/>
<circle cx="316.8" cy="98.6" r="1.75" fill="#7dbaed" fill-opacity="0.70"/>
<circle cx="318.2" cy="103.9" r="1.75" fill="#2268e2" fill-opacity="0.85"/>
<circle cx="336.9" cy="43.6" r="1.75" fill="#2a71e4" fill-opacity="0.85"/>
<circle cx="339.2" cy="43.6" r="1.75" fill="#d3c13f" fill-opacity="0.85"/>
<circle cx="341.4" cy="43.6" r="1.75" fill="#e3c03d" fill-opacity="0.85"/>
<circle cx="343.7" cy="43.6" r="1.75" fill="#30aa98" fill-opacity="0.85"/>
<circle cx="327.2" cy="46.4" r="1.75" fill="#93cdef" fill-opacity="0.70"/>
<circle cx="329.2" cy="46.4" r="1.75" fill="#93cdef" fill-opacity="0.70"/>
<circle cx="331.1" cy="46.4" r="1.75" fill="#2daca7" fill-opacity="0.85"/>
<circle cx="333.1" cy="46.4" r="1.75" fill="#2daca7" fill-opacity="0.85"/>
<circle cx="335.1" cy="46.4" r="1.75" fill="#93cdef" fill-opacity="0.70"/>
<circle cx="324.4" cy="48.2" r="1.75" fill="#30aa98" fill-opacity="0.85"/>
<circle cx="325.5" cy="51.2" r="1.75" fill="#48ac78" fill-opacity="0.85"/>
<circle cx="324.4" cy="54.1" r="1.75" fill="#74b450" fill-opacity="0.85"/>
<circle cx="325.5" cy="57.1" r="1.75" fill="#d3c13f" fill-opacity="0.85"/>
<circle cx="324.4" cy="60.0" r="1.75" fill="#edab34" fill-opacity="0.85"/>
<circle cx="325.5" cy="63.0" r="1.75" fill="#d3c13f" fill-opacity="0.85"/>
<circle cx="344.0" cy="61.1" r="1.75" fill="#5eb064" fill-opacity="0.85"/>
<circle cx="345.1" cy="66.4" r="1.75" fill="#2daca7" fill-opacity="0.85"/>
<circle cx="344.0" cy="71.7" r="1.75" fill="#74b450" fill-opacity="0.85"/>
<circle cx="345.1" cy="77.0" r="1.75" fill="#2aaeb6" fill-opacity="0.85"/>
<circle cx="344.0" cy="82.3" r="1.75" fill="#f18c21" fill-opacity="0.85"/>
<circle cx="345.1" cy="87.6" r="1.75" fill="#f0821a" fill-opacity="0.85"/>
<circle cx="344.0" cy="92.9" r="1.75" fill="#74b450" fill-opacity="0.85"/>
<circle cx="345.1" cy="98.2" r="1.75" fill="#88c4ee" fill-opacity="0.70"/>
<circle cx="344.0" cy="103.5" r="1.75" fill="#93cdef" fill-opacity="0.70"/>
<circle cx="351.1" cy="67.6" r="1.75" fill="#74b450" fill-opacity="0.85"/>
<circle cx="352.5" cy="74.7" r="1.75" fill="#6bb258" fill-opacity="0.85"/>
<circle cx="351.1" cy="81.9" r="1.75" fill="#d3c13f" fill-opacity="0.85"/>
<circle cx="352.5" cy="89.1" r="1.75" fill="#48ac78" fill-opacity="0.85"/>
<circle cx="351.1" cy="96.3" r="1.75" fill="#f18c21" fill-opacity="0.85"/>
<circle cx="352.5" cy="103.5" r="1.75" fill="#2daca7" fill-opacity="0.85"/>
<circle cx="358.5" cy="60.6" r="1.75" fill="#74b450" fill-opacity="0.85"/>
<circle cx="359.6" cy="66.6" r="1.75" fill="#6bb258" fill-opacity="0.85"/>
<circle cx="358.5" cy="72.5" r="1.75" fill="#30aa98" fill-opacity="0.85"/>
<circle cx="359.6" cy="78.4" r="1.75" fill="#48ac78" fill-opacity="0.85"/>
<circle cx="358.5" cy="84.3" r="1.75" fill="#2daca7" fill-opacity="0.85"/>
<circle cx="359.6" cy="90.3" r="1.75" fill="#2badb0" fill-opacity="0.85"/>
<circle cx="358.5" cy="96.2" r="1.75" fill="#2aaeb6" fill-opacity="0.85"/>
<circle cx="359.6" cy="102.1" r="1.75" fill="#2aaeb6" fill-opacity="0.85"/>
<circle cx="372.4" cy="45.9" r="1.75" fill="#93cdef" fill-opacity="0.70"/>
<circle cx="375.1" cy="45.9" r="1.75" fill="#93cdef" fill-opacity="0.70"/>
<circle cx="377.8" cy="45.9" r="1.75" fill="#93cdef" fill-opacity="0.70"/>
<circle cx="372.3" cy="48.2" r="1.75" fill="#93cdef" fill-opacity="0.70"/>
<circle cx="372.9" cy="53.1" r="1.75" fill="#93cdef" fill-opacity="0.70"/>
<circle cx="372.3" cy="58.0" r="1.75" fill="#88c4ee" fill-opacity="0.70"/>
<circle cx="372.9" cy="63.0" r="1.75" fill="#88c4ee" fill-opacity="0.70"/>
<circle cx="388.9" cy="44.1" r="1.75" fill="#93cdef" fill-opacity="0.70"/>
<circle cx="391.1" cy="44.1" r="1.75" fill="#93cdef" fill-opacity="0.70"/>
<circle cx="393.4" cy="44.1" r="1.75" fill="#93cdef" fill-opacity="0.70"/>
<circle cx="395.6" cy="44.1" r="1.75" fill="#93cdef" fill-opacity="0.70"/>
<circle cx="389.3" cy="45.4" r="1.75" fill="#93cdef" fill-opacity="0.70"/>
<circle cx="390.7" cy="51.3" r="1.75" fill="#88c4ee" fill-opacity="0.70"/>
<circle cx="389.3" cy="57.1" r="1.75" fill="#88c4ee" fill-opacity="0.70"/>
<circle cx="390.7" cy="62.9" r="1.75" fill="#88c4ee" fill-opacity="0.70"/>
<circle cx="389.3" cy="68.7" r="1.75" fill="#5da7e9" fill-opacity="0.85"/>
<circle cx="390.7" cy="74.5" r="1.75" fill="#5da7e9" fill-opacity="0.85"/>
<circle cx="389.3" cy="80.3" r="1.75" fill="#4a95e8" fill-opacity="0.85"/>
<circle cx="390.7" cy="86.1" r="1.75" fill="#88c4ee" fill-opacity="0.70"/>
<circle cx="389.3" cy="91.9" r="1.75" fill="#88c4ee" fill-opacity="0.70"/>
<circle cx="390.7" cy="97.7" r="1.75" fill="#2aaeb6" fill-opacity="0.85"/>
<circle cx="389.3" cy="103.5" r="1.75" fill="#2badb0" fill-opacity="0.85"/>
<circle cx="405.1" cy="58.3" r="1.75" fill="#88c4ee" fill-opacity="0.70"/>
<circle cx="406.9" cy="63.4" r="1.75" fill="#88c4ee" fill-opacity="0.70"/>
<circle cx="405.1" cy="68.4" r="1.75" fill="#5da7e9" fill-opacity="0.85"/>
<circle cx="406.9" cy="73.4" r="1.75" fill="#4a95e8" fill-opacity="0.85"/>
<circle cx="405.1" cy="78.4" r="1.75" fill="#3e88e7" fill-opacity="0.85"/>
<circle cx="406.9" cy="83.4" r="1.75" fill="#88c4ee" fill-opacity="0.70"/>
<circle cx="405.1" cy="88.4" r="1.75" fill="#88c4ee" fill-opacity="0.70"/>
<circle cx="406.9" cy="93.4" r="1.75" fill="#88c4ee" fill-opacity="0.70"/>
<circle cx="405.1" cy="98.5" r="1.75" fill="#88c4ee" fill-opacity="0.70"/>
<circle cx="406.9" cy="103.5" r="1.75" fill="#2aaeb6" fill-opacity="0.85"/>
<circle cx="411.9" cy="53.3" r="1.75" fill="#8accea" fill-opacity="0.70"/>
<circle cx="414.1" cy="53.3" r="1.75" fill="#8accea" fill-opacity="0.70"/>
<circle cx="416.3" cy="53.3" r="1.75" fill="#8accea" fill-opacity="0.70"/>
<circle cx="418.5" cy="53.3" r="1.75" fill="#8accea" fill-opacity="0.70"/>
<circle cx="420.7" cy="53.3" r="1.75" fill="#8accea" fill-opacity="0.70"/>
<circle cx="423.0" cy="53.3" r="1.75" fill="#8accea" fill-opacity="0.70"/>
<circle cx="412.7" cy="53.7" r="1.75" fill="#8fccec" fill-opacity="0.70"/>
<circle cx="413.4" cy="58.3" r="1.75" fill="#8fccec" fill-opacity="0.70"/>
<circle cx="412.7" cy="63.0" r="1.75" fill="#93cdef" fill-opacity="0.70"/>
<circle cx="427.0" cy="76.8" r="1.75" fill="#93cdef" fill-opacity="0.70"/>
<circle cx="428.4" cy="82.2" r="1.75" fill="#3e88e7" fill-opacity="0.85"/>
<circle cx="427.0" cy="87.6" r="1.75" fill="#88c4ee" fill-opacity="0.70"/>
<circle cx="428.4" cy="93.1" r="1.75" fill="#4a95e8" fill-opacity="0.85"/>
<circle cx="427.0" cy="98.5" r="1.75" fill="#93cdef" fill-opacity="0.70"/>
<circle cx="428.4" cy="103.9" r="1.75" fill="#2aaeb6" fill-opacity="0.85"/>
<circle cx="431.8" cy="51.0" r="1.75" fill="#8fccec" fill-opacity="0.70"/>
<circle cx="434.0" cy="51.0" r="1.75" fill="#8fccec" fill-opacity="0.70"/>
<circle cx="436.3" cy="51.0" r="1.75" fill="#8fccec" fill-opacity="0.70"/>
<circle cx="438.5" cy="51.0" r="1.75" fill="#8fccec" fill-opacity="0.70"/>
<circle cx="432.4" cy="51.0" r="1.75" fill="#8fccec" fill-opacity="0.70"/>
<circle cx="433.4" cy="55.7" r="1.75" fill="#93cdef" fill-opacity="0.70"/>
<circle cx="432.4" cy="60.5" r="1.75" fill="#93cdef" fill-opacity="0.70"/>
<circle cx="433.4" cy="65.3" r="1.75" fill="#93cdef" fill-opacity="0.70"/>
<circle cx="440.9" cy="76.8" r="1.75" fill="#88c4ee" fill-opacity="0.70"/>
<circle cx="442.0" cy="83.6" r="1.75" fill="#88c4ee" fill-opacity="0.70"/>
<circle cx="440.9" cy="90.4" r="1.75" fill="#5da7e9" fill-opacity="0.85"/>
<circle cx="442.0" cy="97.1" r="1.75" fill="#93cdef" fill-opacity="0.70"/>
<circle cx="440.9" cy="103.9" r="1.75" fill="#2aaeb6" fill-opacity="0.85"/>
<circle cx="448.3" cy="51.4" r="1.75" fill="#8fccec" fill-opacity="0.70"/>
<circle cx="449.2" cy="55.3" r="1.75" fill="#93cdef" fill-opacity="0.70"/>
<circle cx="448.3" cy="59.1" r="1.75" fill="#93cdef" fill-opacity="0.70"/>
<circle cx="449.2" cy="63.0" r="1.75" fill="#93cdef" fill-opacity="0.70"/>
<circle cx="450.2" cy="99.8" r="1.75" fill="#2aaeb6" fill-opacity="0.85"/>
<circle cx="450.9" cy="103.9" r="1.75" fill="#2aaeb6" fill-opacity="0.85"/>
<circle cx="363.3" cy="67.6" r="1.75" fill="#8fccec" fill-opacity="0.70"/>
<circle cx="364.7" cy="71.1" r="1.75" fill="#47b9c6" fill-opacity="0.85"/>
<circle cx="363.3" cy="74.7" r="1.75" fill="#8fccec" fill-opacity="0.70"/>
<circle cx="364.7" cy="78.3" r="1.75" fill="#36b2bc" fill-opacity="0.85"/>
<circle cx="363.3" cy="81.9" r="1.75" fill="#8accea" fill-opacity="0.70"/>
<circle cx="364.7" cy="85.5" r="1.75" fill="#47b9c6" fill-opacity="0.85"/>
<circle cx="363.3" cy="89.1" r="1.75" fill="#8fccec" fill-opacity="0.70"/>
<circle cx="364.7" cy="92.7" r="1.75" fill="#36b2bc" fill-opacity="0.85"/>
<circle cx="363.3" cy="96.3" r="1.75" fill="#8fccec" fill-opacity="0.70"/>
<circle cx="364.7" cy="99.9" r="1.75" fill="#2aaeb6" fill-opacity="0.85"/>
<circle cx="363.3" cy="103.5" r="1.75" fill="#2badb0" fill-opacity="0.85"/>
<circle cx="376.7" cy="58.3" r="1.75" fill="#8accea" fill-opacity="0.70"/>
<circle cx="378.5" cy="62.4" r="1.75" fill="#8fccec" fill-opacity="0.70"/>
<circle cx="376.7" cy="66.6" r="1.75" fill="#47b9c6" fill-opacity="0.85"/>
<circle cx="378.5" cy="70.7" r="1.75" fill="#8fccec" fill-opacity="0.70"/>
<circle cx="376.7" cy="74.8" r="1.75" fill="#36b2bc" fill-opacity="0.85"/>
<circle cx="378.5" cy="78.9" r="1.75" fill="#8fccec" fill-opacity="0.70"/>
<circle cx="376.7" cy="83.0" r="1.75" fill="#47b9c6" fill-opacity="0.85"/>
<circle cx="378.5" cy="87.1" r="1.75" fill="#8accea" fill-opacity="0.70"/>
<circle cx="376.7" cy="91.2" r="1.75" fill="#2aaeb6" fill-opacity="0.85"/>
<circle cx="378.5" cy="95.3" r="1.75" fill="#8fccec" fill-opacity="0.70"/>
<circle cx="376.7" cy="99.4" r="1.75" fill="#36b2bc" fill-opacity="0.85"/>
<circle cx="378.5" cy="103.5" r="1.75" fill="#2badb0" fill-opacity="0.85"/>
<circle cx="395.4" cy="63.0" r="1.75" fill="#8fccec" fill-opacity="0.70"/>
<circle cx="396.8" cy="67.5" r="1.75" fill="#36b2bc" fill-opacity="0.85"/>
<circle cx="395.4" cy="72.0" r="1.75" fill="#8fccec" fill-opacity="0.70"/>
<circle cx="396.8" cy="76.5" r="1.75" fill="#8accea" fill-opacity="0.70"/>
<circle cx="395.4" cy="81.0" r="1.75" fill="#47b9c6" fill-opacity="0.85"/>
<circle cx="396.8" cy="85.5" r="1.75" fill="#8fccec" fill-opacity="0.70"/>
<circle cx="395.4" cy="90.0" r="1.75" fill="#559fe9" fill-opacity="0.85"/>
<circle cx="396.8" cy="94.5" r="1.75" fill="#8fccec" fill-opacity="0.70"/>
<circle cx="395.4" cy="99.0" r="1.75" fill="#47b9c6" fill-opacity="0.85"/>
<circle cx="396.8" cy="103.5" r="1.75" fill="#2aaeb6" fill-opacity="0.85"/>
<circle cx="420.8" cy="67.6" r="1.75" fill="#8accea" fill-opacity="0.70"/>
<circle cx="422.4" cy="72.0" r="1.75" fill="#8fccec" fill-opacity="0.70"/>
<circle cx="420.8" cy="76.5" r="1.75" fill="#5da7e9" fill-opacity="0.85"/>
<circle cx="422.4" cy="81.0" r="1.75" fill="#8fccec" fill-opacity="0.70"/>
<circle cx="420.8" cy="85.5" r="1.75" fill="#8accea" fill-opacity="0.70"/>
<circle cx="422.4" cy="90.0" r="1.75" fill="#559fe9" fill-opacity="0.85"/>
<circle cx="420.8" cy="94.5" r="1.75" fill="#8fccec" fill-opacity="0.70"/>
<circle cx="422.4" cy="99.0" r="1.75" fill="#47b9c6" fill-opacity="0.85"/>
<circle cx="420.8" cy="103.5" r="1.75" fill="#2aaeb6" fill-opacity="0.85"/>
<circle cx="436.6" cy="63.0" r="1.75" fill="#8accea" fill-opacity="0.70"/>
<circle cx="438.2" cy="67.5" r="1.75" fill="#8fccec" fill-opacity="0.70"/>
<circle cx="436.6" cy="72.0" r="1.75" fill="#8fccec" fill-opacity="0.70"/>
<circle cx="438.2" cy="76.5" r="1.75" fill="#559fe9" fill-opacity="0.85"/>
<circle cx="436.6" cy="81.0" r="1.75" fill="#8accea" fill-opacity="0.70"/>
<circle cx="438.2" cy="85.5" r="1.75" fill="#8fccec" fill-opacity="0.70"/>
<circle cx="436.6" cy="90.0" r="1.75" fill="#5da7e9" fill-opacity="0.85"/>
<circle cx="438.2" cy="94.5" r="1.75" fill="#8fccec" fill-opacity="0.70"/>
<circle cx="436.6" cy="99.0" r="1.75" fill="#47b9c6" fill-opacity="0.85"/>
<circle cx="438.2" cy="103.5" r="1.75" fill="#2aaeb6" fill-opacity="0.85"/>
<circle cx="46.6" cy="180.9" r="1.75" fill="#88c4ee" fill-opacity="0.70"/>
<circle cx="48.6" cy="180.9" r="1.75" fill="#88c4ee" fill-opacity="0.70"/>
<circle cx="50.5" cy="180.9" r="1.75" fill="#88c4ee" fill-opacity="0.70"/>
<circle cx="52.4" cy="180.9" r="1.75" fill="#88c4ee" fill-opacity="0.70"/>
<circle cx="54.4" cy="180.9" r="1.75" fill="#88c4ee" fill-opacity="0.70"/>
<circle cx="56.3" cy="180.9" r="1.75" fill="#88c4ee" fill-opacity="0.70"/>
<circle cx="58.2" cy="180.9" r="1.75" fill="#88c4ee" fill-opacity="0.70"/>
<circle cx="60.2" cy="180.9" r="1.75" fill="#88c4ee" fill-opacity="0.70"/>
<circle cx="61.8" cy="190.1" r="1.75" fill="#88c4ee" fill-opacity="0.70"/>
<circle cx="64.2" cy="196.5" r="1.75" fill="#2268e2" fill-opacity="0.85"/>
<circle cx="65.6" cy="199.5" r="1.75" fill="#65a5eb" fill-opacity="0.70"/>
<circle cx="64.2" cy="202.4" r="1.75" fill="#276de3" fill-opacity="0.85"/>
<circle cx="65.6" cy="205.4" r="1.75" fill="#2268e2" fill-opacity="0.85"/>
<circle cx="64.2" cy="208.3" r="1.75" fill="#2268e2" fill-opacity="0.85"/>
<circle cx="65.6" cy="211.3" r="1.75" fill="#2268e2" fill-opacity="0.85"/>
<circle cx="64.2" cy="214.2" r="1.75" fill="#2268e2" fill-opacity="0.85"/>
<circle cx="65.6" cy="217.2" r="1.75" fill="#2268e2" fill-opacity="0.85"/>
<circle cx="64.2" cy="220.2" r="1.75" fill="#2268e2" fill-opacity="0.85"/>
<circle cx="65.6" cy="223.1" r="1.75" fill="#2268e2" fill-opacity="0.85"/>
<circle cx="64.2" cy="226.1" r="1.75" fill="#2268e2" fill-opacity="0.85"/>
<circle cx="65.6" cy="229.0" r="1.75" fill="#2268e2" fill-opacity="0.85"/>
<circle cx="68.5" cy="177.7" r="1.75" fill="#88c4ee" fill-opacity="0.70"/>
<circle cx="70.4" cy="177.7" r="1.75" fill="#88c4ee" fill-opacity="0.70"/>
<circle cx="72.4" cy="177.7" r="1.75" fill="#88c4ee" fill-opacity="0.70"/>
<circle cx="74.3" cy="177.7" r="1.75" fill="#88c4ee" fill-opacity="0.70"/>
<circle cx="76.2" cy="177.7" r="1.75" fill="#88c4ee" fill-opacity="0.70"/>
<circle cx="78.1" cy="177.7" r="1.75" fill="#93cdef" fill-opacity="0.70"/>
<circle cx="80.0" cy="177.7" r="1.75" fill="#5ec1d5" fill-opacity="0.85"/>
<circle cx="81.9" cy="177.7" r="1.75" fill="#abbf41" fill-opacity="0.85"/>
<circle cx="83.8" cy="177.7" r="1.75" fill="#74b450" fill-opacity="0.85"/>
<circle cx="85.7" cy="177.7" r="1.75" fill="#2aaeb6" fill-opacity="0.85"/>
<circle cx="87.6" cy="177.7" r="1.75" fill="#2aaeb6" fill-opacity="0.85"/>
<circle cx="89.5" cy="177.7" r="1.75" fill="#93cdef" fill-opacity="0.70"/>
<circle cx="89.2" cy="184.1" r="1.75" fill="#abbf41" fill-opacity="0.85"/>
<circle cx="90.3" cy="187.3" r="1.75" fill="#abbf41" fill-opacity="0.85"/>
<circle cx="89.2" cy="190.5" r="1.75" fill="#a0bd44" fill-opacity="0.85"/>
<circle cx="90.3" cy="193.8" r="1.75" fill="#2aaeb6" fill-opacity="0.85"/>
<circle cx="89.2" cy="197.0" r="1.75" fill="#88c4ee" fill-opacity="0.70"/>
<circle cx="90.3" cy="200.2" r="1.75" fill="#5da7e9" fill-opacity="0.85"/>
<circle cx="89.2" cy="203.4" r="1.75" fill="#438de7" fill-opacity="0.85"/>
<circle cx="90.3" cy="206.6" r="1.75" fill="#327be6" fill-opacity="0.85"/>
<circle cx="89.2" cy="209.8" r="1.75" fill="#276de3" fill-opacity="0.85"/>
<circle cx="90.3" cy="213.0" r="1.75" fill="#2268e2" fill-opacity="0.85"/>
<circle cx="89.2" cy="216.2" r="1.75" fill="#2268e2" fill-opacity="0.85"/>
<circle cx="90.3" cy="219.4" r="1.75" fill="#2268e2" fill-opacity="0.85"/>
<circle cx="89.2" cy="222.6" r="1.75" fill="#2268e2" fill-opacity="0.85"/>
<circle cx="90.3" cy="225.8" r="1.75" fill="#2268e2" fill-opacity="0.85"/>
<circle cx="89.2" cy="229.0" r="1.75" fill="#2268e2" fill-opacity="0.85"/>
<circle cx="95.3" cy="182.3" r="1.75" fill="#30aa98" fill-opacity="0.85"/>
<circle cx="96.0" cy="185.6" r="1.75" fill="#abbf41" fill-opacity="0.85"/>
<circle cx="95.3" cy="188.9" r="1.75" fill="#74b450" fill-opacity="0.85"/>
<circle cx="96.0" cy="192.3" r="1.75" fill="#2aaeb6" fill-opacity="0.85"/>
<circle cx="95.3" cy="195.6" r="1.75" fill="#5ec1d5" fill-opacity="0.85"/>
<circle cx="96.3" cy="174.0" r="1.75" fill="#88c4ee" fill-opacity="0.70"/>
<circle cx="98.4" cy="174.0" r="1.75" fill="#88c4ee" fill-opacity="0.70"/>
<circle cx="100.6" cy="174.0" r="1.75" fill="#2268e2" fill-opacity="0.85"/>
<circle cx="102.7" cy="174.0" r="1.75" fill="#88c4ee" fill-opacity="0.70"/>
<circle cx="104.8" cy="174.0" r="1.75" fill="#88c4ee" fill-opacity="0.70"/>
<circle cx="106.9" cy="174.0" r="1.75" fill="#93cdef" fill-opacity="0.70"/>
<circle cx="109.0" cy="174.0" r="1.75" fill="#93cdef" fill-opacity="0.70"/>
<circle cx="111.1" cy="174.0" r="1.75" fill="#93cdef" fill-opacity="0.70"/>
<circle cx="113.3" cy="174.0" r="1.75" fill="#93cdef" fill-opacity="0.70"/>
<circle cx="116.1" cy="191.9" r="1.75" fill="#abbf41" fill-opacity="0.85"/>
<circle cx="117.7" cy="196.0" r="1.75" fill="#88c4ee" fill-opacity="0.70"/>
<circle cx="116.1" cy="200.1" r="1.75" fill="#88c4ee" fill-opacity="0.70"/>
<circle cx="117.7" cy="204.1" r="1.75" fill="#abbf41" fill-opacity="0.85"/>
<circle cx="116.1" cy="208.2" r="1.75" fill="#88c4ee" fill-opacity="0.70"/>
<circle cx="117.7" cy="212.3" r="1.75" fill="#88c4ee" fill-opacity="0.70"/>
<circle cx="116.1" cy="216.4" r="1.75" fill="#7bc3e9" fill-opacity="0.85"/>
<circle cx="117.7" cy="220.4" r="1.75" fill="#5ec1d5" fill-opacity="0.85"/>
<circle cx="116.1" cy="224.5" r="1.75" fill="#3e88e7" fill-opacity="0.85"/>
<circle cx="117.7" cy="228.6" r="1.75" fill="#2268e2" fill-opacity="0.85"/>
<circle cx="121.2" cy="186.9" r="1.75" fill="#93cdef" fill-opacity="0.70"/>
<circle cx="123.4" cy="186.9" r="1.75" fill="#93cdef" fill-opacity="0.70"/>
<circle cx="125.7" cy="186.9" r="1.75" fill="#93cdef" fill-opacity="0.70"/>
<circle cx="127.9" cy="186.9" r="1.75" fill="#93cdef" fill-opacity="0.70"/>
<circle cx="129.0" cy="190.5" r="1.75" fill="#5ec1d5" fill-opacity="0.85"/>
<circle cx="130.1" cy="194.0" r="1.75" fill="#2aaeb6" fill-opacity="0.85"/>
<circle cx="129.0" cy="197.5" r="1.75" fill="#93cdef" fill-opacity="0.70"/>
<circle cx="130.1" cy="200.9" r="1.75" fill="#2aaeb6" fill-opacity="0.85"/>
<circle cx="129.0" cy="204.4" r="1.75" fill="#93cdef" fill-opacity="0.70"/>
<circle cx="130.1" cy="207.8" r="1.75" fill="#2aaeb6" fill-opacity="0.85"/>
<circle cx="129.0" cy="211.3" r="1.75" fill="#93cdef" fill-opacity="0.70"/>
<circle cx="130.1" cy="214.8" r="1.75" fill="#f19628" fill-opacity="0.85"/>
<circle cx="129.0" cy="218.2" r="1.75" fill="#d44d43" fill-opacity="0.85"/>
<circle cx="130.1" cy="221.7" r="1.75" fill="#cd4949" fill-opacity="0.85"/>
<circle cx="129.0" cy="225.1" r="1.75" fill="#2aaeb6" fill-opacity="0.85"/>
<circle cx="130.1" cy="228.6" r="1.75" fill="#2aaeb6" fill-opacity="0.85"/>
<circle cx="140.4" cy="181.4" r="1.75" fill="#d3c13f" fill-opacity="0.85"/>
<circle cx="142.2" cy="185.7" r="1.75" fill="#e3c03d" fill-opacity="0.85"/>
<circle cx="140.4" cy="190.0" r="1.75" fill="#30aa98" fill-opacity="0.85"/>
<circle cx="142.2" cy="194.4" r="1.75" fill="#2aaeb6" fill-opacity="0.85"/>
<circle cx="140.4" cy="198.7" r="1.75" fill="#2aaeb6" fill-opacity="0.85"/>
<circle cx="142.2" cy="203.0" r="1.75" fill="#93cdef" fill-opacity="0.70"/>
<circle cx="140.4" cy="207.4" r="1.75" fill="#2aaeb6" fill-opacity="0.85"/>
<circle cx="142.2" cy="211.7" r="1.75" fill="#f18c21" fill-opacity="0.85"/>
<circle cx="140.4" cy="216.0" r="1.75" fill="#c5454f" fill-opacity="0.85"/>
<circle cx="142.2" cy="220.4" r="1.75" fill="#abbf41" fill-opacity="0.85"/>
<circle cx="140.4" cy="224.7" r="1.75" fill="#74b450" fill-opacity="0.85"/>
<circle cx="142.2" cy="229.0" r="1.75" fill="#5eb064" fill-opacity="0.85"/>
<circle cx="152.2" cy="181.4" r="1.75" fill="#2aaeb6" fill-opacity="0.85"/>
<circle cx="153.8" cy="186.1" r="1.75" fill="#2aaeb6" fill-opacity="0.85"/>
<circle cx="152.2" cy="190.9" r="1.75" fill="#2aaeb6" fill-opacity="0.85"/>
<circle cx="153.8" cy="195.7" r="1.75" fill="#88c4ee" fill-opacity="0.70"/>
<circle cx="152.2" cy="200.4" r="1.75" fill="#2aaeb6" fill-opacity="0.85"/>
<circle cx="153.8" cy="205.2" r="1.75" fill="#93cdef" fill-opacity="0.70"/>
<circle cx="152.2" cy="210.0" r="1.75" fill="#2aaeb6" fill-opacity="0.85"/>
<circle cx="153.8" cy="214.7" r="1.75" fill="#ec751f" fill-opacity="0.85"/>
<circle cx="152.2" cy="219.5" r="1.75" fill="#cd4949" fill-opacity="0.85"/>
<circle cx="153.8" cy="224.3" r="1.75" fill="#2aaeb6" fill-opacity="0.85"/>
<circle cx="152.2" cy="229.0" r="1.75" fill="#2aaeb6" fill-opacity="0.85"/>
<circle cx="163.4" cy="214.8" r="1.75" fill="#f19628" fill-opacity="0.85"/>
<circle cx="164.3" cy="218.0" r="1.75" fill="#e3c03d" fill-opacity="0.85"/>
<circle cx="163.4" cy="221.2" r="1.75" fill="#d3c13f" fill-opacity="0.85"/>
<circle cx="159.6" cy="179.1" r="1.75" fill="#2daca7" fill-opacity="0.85"/>
<circle cx="161.7" cy="179.1" r="1.75" fill="#2daca7" fill-opacity="0.85"/>
<circle cx="163.8" cy="179.1" r="1.75" fill="#2daca7" fill-opacity="0.85"/>
<circle cx="165.9" cy="179.1" r="1.75" fill="#2daca7" fill-opacity="0.85"/>
<circle cx="168.0" cy="179.1" r="1.75" fill="#2daca7" fill-opacity="0.85"/>
<circle cx="170.1" cy="179.1" r="1.75" fill="#2daca7" fill-opacity="0.85"/>
<circle cx="172.2" cy="179.1" r="1.75" fill="#2daca7" fill-opacity="0.85"/>
<circle cx="174.2" cy="179.1" r="1.75" fill="#2daca7" fill-opacity="0.85"/>
<circle cx="159.2" cy="179.1" r="1.75" fill="#2daca7" fill-opacity="0.85"/>
<circle cx="160.4" cy="184.6" r="1.75" fill="#2daca7" fill-opacity="0.85"/>
<circle cx="159.2" cy="190.2" r="1.75" fill="#88c4ee" fill-opacity="0.70"/>
<circle cx="160.4" cy="195.7" r="1.75" fill="#88c4ee" fill-opacity="0.70"/>
<circle cx="159.2" cy="201.3" r="1.75" fill="#88c4ee" fill-opacity="0.70"/>
<circle cx="160.4" cy="206.8" r="1.75" fill="#88c4ee" fill-opacity="0.70"/>
<circle cx="159.2" cy="212.4" r="1.75" fill="#2aaeb6" fill-opacity="0.85"/>
<circle cx="160.4" cy="217.9" r="1.75" fill="#d3c13f" fill-opacity="0.85"/>
<circle cx="159.2" cy="223.5" r="1.75" fill="#2aaeb6" fill-opacity="0.85"/>
<circle cx="160.4" cy="229.0" r="1.75" fill="#2aaeb6" fill-opacity="0.85"/>
<circle cx="164.9" cy="197.4" r="1.75" fill="#2a71e4" fill-opacity="0.85"/>
<circle cx="165.6" cy="202.0" r="1.75" fill="#2a71e4" fill-opacity="0.85"/>
<circle cx="164.9" cy="206.6" r="1.75" fill="#2d74e5" fill-opacity="0.85"/>
<circle cx="165.6" cy="211.2" r="1.75" fill="#327be6" fill-opacity="0.85"/>
<circle cx="171.7" cy="180.0" r="1.75" fill="#2daca7" fill-opacity="0.85"/>
<circle cx="172.3" cy="184.3" r="1.75" fill="#2daca7" fill-opacity="0.85"/>
<circle cx="171.7" cy="188.6" r="1.75" fill="#2aaeb6" fill-opacity="0.85"/>
<circle cx="172.3" cy="192.8" r="1.75" fill="#2aaeb6" fill-opacity="0.85"/>
<circle cx="181.0" cy="197.4" r="1.75" fill="#93cdef" fill-opacity="0.70"/>
<circle cx="181.9" cy="202.7" r="1.75" fill="#93cdef" fill-opacity="0.70"/>
<circle cx="181.0" cy="208.0" r="1.75" fill="#88c4ee" fill-opacity="0.70"/>
<circle cx="181.9" cy="213.2" r="1.75" fill="#88c4ee" fill-opacity="0.70"/>
<circle cx="181.0" cy="218.5" r="1.75" fill="#93cdef" fill-opacity="0.70"/>
<circle cx="181.9" cy="223.8" r="1.75" fill="#8fccec" fill-opacity="0.70"/>
<circle cx="181.0" cy="229.0" r="1.75" fill="#2aaeb6" fill-opacity="0.85"/>
<circle cx="191.2" cy="175.4" r="1.75" fill="#93cdef" fill-opacity="0.70"/>
<circle cx="192.5" cy="181.8" r="1.75" fill="#93cdef" fill-opacity="0.70"/>
<circle cx="191.2" cy="188.2" r="1.75" fill="#88c4ee" fill-opacity="0.70"/>
<circle cx="192.5" cy="194.7" r="1.75" fill="#88c4ee" fill-opacity="0.70"/>
<circle cx="191.2" cy="201.1" r="1.75" fill="#93cdef" fill-opacity="0.70"/>
<circle cx="192.5" cy="207.5" r="1.75" fill="#88c4ee" fill-opacity="0.70"/>
<circle cx="191.2" cy="213.9" r="1.75" fill="#88c4ee" fill-opacity="0.70"/>
<circle cx="192.5" cy="220.3" r="1.75" fill="#93cdef" fill-opacity="0.70"/>
<circle cx="196.0" cy="224.9" r="1.75" fill="#2badb0" fill-opacity="0.85"/>
<circle cx="204.0" cy="175.4" r="1.75" fill="#93cdef" fill-opacity="0.70"/>
<circle cx="205.5" cy="181.4" r="1.75" fill="#93cdef" fill-opacity="0.70"/>
<circle cx="204.0" cy="187.3" r="1.75" fill="#88c4ee" fill-opacity="0.70"/>
<circle cx="205.5" cy="193.3" r="1.75" fill="#88c4ee" fill-opacity="0.70"/>
<circle cx="204.0" cy="199.2" r="1.75" fill="#93cdef" fill-opacity="0.70"/>
<circle cx="205.5" cy="205.2" r="1.75" fill="#3e88e7" fill-opacity="0.85"/>
<circle cx="204.0" cy="211.2" r="1.75" fill="#3e88e7" fill-opacity="0.85"/>
<circle cx="210.5" cy="224.9" r="1.75" fill="#2badb0" fill-opacity="0.85"/>
<circle cx="215.4" cy="173.6" r="1.75" fill="#8fccec" fill-opacity="0.70"/>
<circle cx="216.7" cy="179.8" r="1.75" fill="#8fccec" fill-opacity="0.70"/>
<circle cx="215.4" cy="186.1" r="1.75" fill="#93cdef" fill-opacity="0.70"/>
<circle cx="216.7" cy="192.4" r="1.75" fill="#88c4ee" fill-opacity="0.70"/>
<circle cx="215.4" cy="198.6" r="1.75" fill="#4a95e8" fill-opacity="0.85"/>
<circle cx="216.7" cy="204.9" r="1.75" fill="#88c4ee" fill-opacity="0.70"/>
<circle cx="215.4" cy="211.2" r="1.75" fill="#3e88e7" fill-opacity="0.85"/>
<circle cx="224.7" cy="224.9" r="1.75" fill="#30aa98" fill-opacity="0.85"/>
<circle cx="225.4" cy="229.0" r="1.75" fill="#30aa98" fill-opacity="0.85"/>
<circle cx="273.2" cy="179.5" r="1.75" fill="#88c4ee" fill-opacity="0.70"/>
<circle cx="276.3" cy="179.5" r="1.75" fill="#88c4ee" fill-opacity="0.70"/>
<circle cx="279.3" cy="179.5" r="1.75" fill="#88c4ee" fill-opacity="0.70"/>
<circle cx="280.1" cy="182.8" r="1.75" fill="#88c4ee" fill-opacity="0.70"/>
<circle cx="281.2" cy="187.9" r="1.75" fill="#88c4ee" fill-opacity="0.70"/>
<circle cx="280.1" cy="193.0" r="1.75" fill="#93cdef" fill-opacity="0.70"/>
<circle cx="281.2" cy="198.2" r="1.75" fill="#76b4ed" fill-opacity="0.70"/>
<circle cx="280.1" cy="203.3" r="1.75" fill="#76b4ed" fill-opacity="0.70"/>
<circle cx="281.2" cy="208.5" r="1.75" fill="#559fe9" fill-opacity="0.85"/>
<circle cx="280.1" cy="213.6" r="1.75" fill="#559fe9" fill-opacity="0.85"/>
<circle cx="281.2" cy="218.8" r="1.75" fill="#76b4ed" fill-opacity="0.70"/>
<circle cx="280.1" cy="223.9" r="1.75" fill="#4a95e8" fill-opacity="0.85"/>
<circle cx="281.2" cy="229.0" r="1.75" fill="#2268e2" fill-opacity="0.85"/>
<circle cx="288.3" cy="179.1" r="1.75" fill="#93cdef" fill-opacity="0.70"/>
<circle cx="290.8" cy="179.1" r="1.75" fill="#93cdef" fill-opacity="0.70"/>
<circle cx="293.3" cy="179.1" r="1.75" fill="#93cdef" fill-opacity="0.70"/>
<circle cx="295.8" cy="179.1" r="1.75" fill="#93cdef" fill-opacity="0.70"/>
<circle cx="298.3" cy="179.1" r="1.75" fill="#93cdef" fill-opacity="0.70"/>
<circle cx="300.8" cy="179.1" r="1.75" fill="#93cdef" fill-opacity="0.70"/>
<circle cx="286.1" cy="180.0" r="1.75" fill="#93cdef" fill-opacity="0.70"/>
<circle cx="287.0" cy="184.0" r="1.75" fill="#88c4ee" fill-opacity="0.70"/>
<circle cx="286.1" cy="187.9" r="1.75" fill="#88c4ee" fill-opacity="0.70"/>
<circle cx="287.0" cy="191.9" r="1.75" fill="#88c4ee" fill-opacity="0.70"/>
<circle cx="303.2" cy="192.8" r="1.75" fill="#2a71e4" fill-opacity="0.85"/>
<circle cx="304.6" cy="198.0" r="1.75" fill="#276de3" fill-opacity="0.85"/>
<circle cx="303.2" cy="203.2" r="1.75" fill="#2a71e4" fill-opacity="0.85"/>
<circle cx="304.6" cy="208.4" r="1.75" fill="#76b4ed" fill-opacity="0.70"/>
<circle cx="303.2" cy="213.5" r="1.75" fill="#76b4ed" fill-opacity="0.70"/>
<circle cx="304.6" cy="218.7" r="1.75" fill="#276de3" fill-opacity="0.85"/>
<circle cx="303.2" cy="223.9" r="1.75" fill="#2268e2" fill-opacity="0.85"/>
<circle cx="304.6" cy="229.0" r="1.75" fill="#2268e2" fill-opacity="0.85"/>
<circle cx="310.9" cy="174.5" r="1.75" fill="#2268e2" fill-opacity="0.85"/>
<circle cx="313.2" cy="174.5" r="1.75" fill="#2268e2" fill-opacity="0.85"/>
<circle cx="315.4" cy="174.5" r="1.75" fill="#276de3" fill-opacity="0.85"/>
<circle cx="309.3" cy="176.8" r="1.75" fill="#276de3" fill-opacity="0.85"/>
<circle cx="310.3" cy="181.4" r="1.75" fill="#2a71e4" fill-opacity="0.85"/>
<circle cx="309.3" cy="186.0" r="1.75" fill="#2a71e4" fill-opacity="0.85"/>
<circle cx="310.3" cy="190.5" r="1.75" fill="#2d74e5" fill-opacity="0.85"/>
<circle cx="316.8" cy="180.9" r="1.75" fill="#88c4ee" fill-opacity="0.70"/>
<circle cx="318.2" cy="186.3" r="1.75" fill="#88c4ee" fill-opacity="0.70"/>
<circle cx="316.8" cy="191.6" r="1.75" fill="#88c4ee" fill-opacity="0.70"/>
<circle cx="318.2" cy="197.0" r="1.75" fill="#7dbaed" fill-opacity="0.70"/>
<circle cx="316.8" cy="202.3" r="1.75" fill="#76b4ed" fill-opacity="0.70"/>
<circle cx="318.2" cy="207.7" r="1.75" fill="#76b4ed" fill-opacity="0.70"/>
<circle cx="316.8" cy="213.0" r="1.75" fill="#76b4ed" fill-opacity="0.70"/>
<circle cx="318.2" cy="218.3" r="1.75" fill="#7dbaed" fill-opacity="0.70"/>
<circle cx="316.8" cy="223.7" r="1.75" fill="#7dbaed" fill-opacity="0.70"/>
<circle cx="318.2" cy="229.0" r="1.75" fill="#2268e2" fill-opacity="0.85"/>
<circle cx="336.9" cy="169.0" r="1.75" fill="#2a71e4" fill-opacity="0.85"/>
<circle cx="339.2" cy="169.0" r="1.75" fill="#d3c13f" fill-opacity="0.85"/>
<circle cx="341.4" cy="169.0" r="1.75" fill="#e3c03d" fill-opacity="0.85"/>
<circle cx="343.7" cy="169.0" r="1.75" fill="#30aa98" fill-opacity="0.85"/>
<circle cx="327.2" cy="171.8" r="1.75" fill="#93cdef" fill-opacity="0.70"/>
<circle cx="329.2" cy="171.8" r="1.75" fill="#93cdef" fill-opacity="0.70"/>
<circle cx="331.1" cy="171.8" r="1.75" fill="#2daca7" fill-opacity="0.85"/>
<circle cx="333.1" cy="171.8" r="1.75" fill="#2daca7" fill-opacity="0.85"/>
<circle cx="335.1" cy="171.8" r="1.75" fill="#93cdef" fill-opacity="0.70"/>
<circle cx="324.4" cy="173.6" r="1.75" fill="#30aa98" fill-opacity="0.85"/>
<circle cx="325.5" cy="176.5" r="1.75" fill="#48ac78" fill-opacity="0.85"/>
<circle cx="324.4" cy="179.4" r="1.75" fill="#74b450" fill-opacity="0.85"/>
<circle cx="325.5" cy="182.4" r="1.75" fill="#d3c13f" fill-opacity="0.85"/>
<circle cx="324.4" cy="185.3" r="1.75" fill="#edab34" fill-opacity="0.85"/>
<circle cx="325.5" cy="188.2" r="1.75" fill="#d3c13f" fill-opacity="0.85"/>
<circle cx="344.0" cy="186.4" r="1.75" fill="#5eb064" fill-opacity="0.85"/>
<circle cx="345.1" cy="191.7" r="1.75" fill="#2daca7" fill-opacity="0.85"/>
<circle cx="344.0" cy="197.0" r="1.75" fill="#74b450" fill-opacity="0.85"/>
<circle cx="345.1" cy="202.2" r="1.75" fill="#2aaeb6" fill-opacity="0.85"/>
<circle cx="344.0" cy="207.5" r="1.75" fill="#f18c21" fill-opacity="0.85"/>
<circle cx="345.1" cy="212.8" r="1.75" fill="#f0821a" fill-opacity="0.85"/>
<circle cx="344.0" cy="218.0" r="1.75" fill="#74b450" fill-opacity="0.85"/>
<circle cx="345.1" cy="223.3" r="1.75" fill="#88c4ee" fill-opacity="0.70"/>
<circle cx="344.0" cy="228.6" r="1.75" fill="#93cdef" fill-opacity="0.70"/>
<circle cx="351.1" cy="192.8" r="1.75" fill="#74b450" fill-opacity="0.85"/>
<circle cx="352.5" cy="200.0" r="1.75" fill="#6bb258" fill-opacity="0.85"/>
<circle cx="351.1" cy="207.1" r="1.75" fill="#d3c13f" fill-opacity="0.85"/>
<circle cx="352.5" cy="214.3" r="1.75" fill="#48ac78" fill-opacity="0.85"/>
<circle cx="351.1" cy="221.4" r="1.75" fill="#f18c21" fill-opacity="0.85"/>
<circle cx="352.5" cy="228.6" r="1.75" fill="#2daca7" fill-opacity="0.85"/>
<circle cx="358.5" cy="186.0" r="1.75" fill="#74b450" fill-opacity="0.85"/>
<circle cx="359.6" cy="191.9" r="1.75" fill="#6bb258" fill-opacity="0.85"/>
<circle cx="358.5" cy="197.7" r="1.75" fill="#30aa98" fill-opacity="0.85"/>
<circle cx="359.6" cy="203.6" r="1.75" fill="#48ac78" fill-opacity="0.85"/>
<circle cx="358.5" cy="209.5" r="1.75" fill="#2daca7" fill-opacity="0.85"/>
<circle cx="359.6" cy="215.4" r="1.75" fill="#2badb0" fill-opacity="0.85"/>
<circle cx="358.5" cy="221.3" r="1.75" fill="#2aaeb6" fill-opacity="0.85"/>
<circle cx="359.6" cy="227.2" r="1.75" fill="#2aaeb6" fill-opacity="0.85"/>
<circle cx="372.4" cy="171.3" r="1.75" fill="#93cdef" fill-opacity="0.70"/>
<circle cx="375.1" cy="171.3" r="1.75" fill="#93cdef" fill-opacity="0.70"/>
<circle cx="377.8" cy="171.3" r="1.75" fill="#93cdef" fill-opacity="0.70"/>
<circle cx="372.3" cy="173.6" r="1.75" fill="#93cdef" fill-opacity="0.70"/>
<circle cx="372.9" cy="178.5" r="1.75" fill="#93cdef" fill-opacity="0.70"/>
<circle cx="372.3" cy="183.4" r="1.75" fill="#88c4ee" fill-opacity="0.70"/>
<circle cx="372.9" cy="188.2" r="1.75" fill="#88c4ee" fill-opacity="0.70"/>
<circle cx="388.9" cy="169.5" r="1.75" fill="#93cdef" fill-opacity="0.70"/>
<circle cx="391.1" cy="169.5" r="1.75" fill="#93cdef" fill-opacity="0.70"/>
<circle cx="393.4" cy="169.5" r="1.75" fill="#93cdef" fill-opacity="0.70"/>
<circle cx="395.6" cy="169.5" r="1.75" fill="#93cdef" fill-opacity="0.70"/>
<circle cx="389.3" cy="170.8" r="1.75" fill="#93cdef" fill-opacity="0.70"/>
<circle cx="390.7" cy="176.6" r="1.75" fill="#88c4ee" fill-opacity="0.70"/>
<circle cx="389.3" cy="182.4" r="1.75" fill="#88c4ee" fill-opacity="0.70"/>
<circle cx="390.7" cy="188.2" r="1.75" fill="#88c4ee" fill-opacity="0.70"/>
<circle cx="389.3" cy="193.9" r="1.75" fill="#5da7e9" fill-opacity="0.85"/>
<circle cx="390.7" cy="199.7" r="1.75" fill="#5da7e9" fill-opacity="0.85"/>
<circle cx="389.3" cy="205.5" r="1.75" fill="#4a95e8" fill-opacity="0.85"/>
<circle cx="390.7" cy="211.3" r="1.75" fill="#88c4ee" fill-opacity="0.70"/>
<circle cx="389.3" cy="217.0" r="1.75" fill="#88c4ee" fill-opacity="0.70"/>
<circle cx="390.7" cy="222.8" r="1.75" fill="#2aaeb6" fill-opacity="0.85"/>
<circle cx="389.3" cy="228.6" r="1.75" fill="#2badb0" fill-opacity="0.85"/>
<circle cx="405.1" cy="183.7" r="1.75" fill="#88c4ee" fill-opacity="0.70"/>
<circle cx="406.9" cy="188.7" r="1.75" fill="#88c4ee" fill-opacity="0.70"/>
<circle cx="405.1" cy="193.6" r="1.75" fill="#5da7e9" fill-opacity="0.85"/>
<circle cx="406.9" cy="198.6" r="1.75" fill="#4a95e8" fill-opacity="0.85"/>
<circle cx="405.1" cy="203.6" r="1.75" fill="#3e88e7" fill-opacity="0.85"/>
<circle cx="406.9" cy="208.6" r="1.75" fill="#88c4ee" fill-opacity="0.70"/>
<circle cx="405.1" cy="213.6" r="1.75" fill="#88c4ee" fill-opacity="0.70"/>
<circle cx="406.9" cy="218.6" r="1.75" fill="#88c4ee" fill-opacity="0.70"/>
<circle cx="405.1" cy="223.6" r="1.75" fill="#88c4ee" fill-opacity="0.70"/>
<circle cx="406.9" cy="228.6" r="1.75" fill="#2aaeb6" fill-opacity="0.85"/>
<circle cx="411.9" cy="178.6" r="1.75" fill="#8accea" fill-opacity="0.70"/>
<circle cx="414.1" cy="178.6" r="1.75" fill="#8accea" fill-opacity="0.70"/>
<circle cx="416.3" cy="178.6" r="1.75" fill="#8accea" fill-opacity="0.70"/>
<circle cx="418.5" cy="178.6" r="1.75" fill="#8accea" fill-opacity="0.70"/>
<circle cx="420.7" cy="178.6" r="1.75" fill="#8accea" fill-opacity="0.70"/>
<circle cx="423.0" cy="178.6" r="1.75" fill="#8accea" fill-opacity="0.70"/>
<circle cx="412.7" cy="179.1" r="1.75" fill="#8fccec" fill-opacity="0.70"/>
<circle cx="413.4" cy="183.7" r="1.75" fill="#8fccec" fill-opacity="0.70"/>
<circle cx="412.7" cy="188.2" r="1.75" fill="#93cdef" fill-opacity="0.70"/>
<circle cx="427.0" cy="202.0" r="1.75" fill="#93cdef" fill-opacity="0.70"/>
<circle cx="428.4" cy="207.4" r="1.75" fill="#3e88e7" fill-opacity="0.85"/>
<circle cx="427.0" cy="212.8" r="1.75" fill="#88c4ee" fill-opacity="0.70"/>
<circle cx="428.4" cy="218.2" r="1.75" fill="#4a95e8" fill-opacity="0.85"/>
<circle cx="427.0" cy="223.6" r="1.75" fill="#93cdef" fill-opacity="0.70"/>
<circle cx="428.4" cy="229.0" r="1.75" fill="#2aaeb6" fill-opacity="0.85"/>
<circle cx="431.8" cy="176.3" r="1.75" fill="#8fccec" fill-opacity="0.70"/>
<circle cx="434.0" cy="176.3" r="1.75" fill="#8fccec" fill-opacity="0.70"/>
<circle cx="436.3" cy="176.3" r="1.75" fill="#8fccec" fill-opacity="0.70"/>
<circle cx="438.5" cy="176.3" r="1.75" fill="#8fccec" fill-opacity="0.70"/>
<circle cx="432.4" cy="176.3" r="1.75" fill="#8fccec" fill-opacity="0.70"/>
<circle cx="433.4" cy="181.1" r="1.75" fill="#93cdef" fill-opacity="0.70"/>
<circle cx="432.4" cy="185.8" r="1.75" fill="#93cdef" fill-opacity="0.70"/>
<circle cx="433.4" cy="190.5" r="1.75" fill="#93cdef" fill-opacity="0.70"/>
<circle cx="440.9" cy="202.0" r="1.75" fill="#88c4ee" fill-opacity="0.70"/>
<circle cx="442.0" cy="208.8" r="1.75" fill="#88c4ee" fill-opacity="0.70"/>
<circle cx="440.9" cy="215.5" r="1.75" fill="#5da7e9" fill-opacity="0.85"/>
<circle cx="442.0" cy="222.3" r="1.75" fill="#93cdef" fill-opacity="0.70"/>
<circle cx="440.9" cy="229.0" r="1.75" fill="#2aaeb6" fill-opacity="0.85"/>
<circle cx="448.3" cy="176.8" r="1.75" fill="#8fccec" fill-opacity="0.70"/>
<circle cx="449.2" cy="180.6" r="1.75" fill="#93cdef" fill-opacity="0.70"/>
<circle cx="448.3" cy="184.4" r="1.75" fill="#93cdef" fill-opacity="0.70"/>
<circle cx="449.2" cy="188.2" r="1.75" fill="#93cdef" fill-opacity="0.70"/>
<circle cx="450.2" cy="224.9" r="1.75" fill="#2aaeb6" fill-opacity="0.85"/>
<circle cx="450.9" cy="229.0" r="1.75" fill="#2aaeb6" fill-opacity="0.85"/>
<circle cx="363.3" cy="192.8" r="1.75" fill="#8fccec" fill-opacity="0.70"/>
<circle cx="364.7" cy="196.4" r="1.75" fill="#47b9c6" fill-opacity="0.85"/>
<circle cx="363.3" cy="200.0" r="1.75" fill="#8fccec" fill-opacity="0.70"/>
<circle cx="364.7" cy="203.6" r="1.75" fill="#36b2bc" fill-opacity="0.85"/>
<circle cx="363.3" cy="207.1" r="1.75" fill="#8accea" fill-opacity="0.70"/>
<circle cx="364.7" cy="210.7" r="1.75" fill="#47b9c6" fill-opacity="0.85"/>
<circle cx="363.3" cy="214.3" r="1.75" fill="#8fccec" fill-opacity="0.70"/>
<circle cx="364.7" cy="217.9" r="1.75" fill="#36b2bc" fill-opacity="0.85"/>
<circle cx="363.3" cy="221.4" r="1.75" fill="#8fccec" fill-opacity="0.70"/>
<circle cx="364.7" cy="225.0" r="1.75" fill="#2aaeb6" fill-opacity="0.85"/>
<circle cx="363.3" cy="228.6" r="1.75" fill="#2badb0" fill-opacity="0.85"/>
<circle cx="376.7" cy="183.7" r="1.75" fill="#8accea" fill-opacity="0.70"/>
<circle cx="378.5" cy="187.8" r="1.75" fill="#8fccec" fill-opacity="0.70"/>
<circle cx="376.7" cy="191.8" r="1.75" fill="#47b9c6" fill-opacity="0.85"/>
<circle cx="378.5" cy="195.9" r="1.75" fill="#8fccec" fill-opacity="0.70"/>
<circle cx="376.7" cy="200.0" r="1.75" fill="#36b2bc" fill-opacity="0.85"/>
<circle cx="378.5" cy="204.1" r="1.75" fill="#8fccec" fill-opacity="0.70"/>
<circle cx="376.7" cy="208.2" r="1.75" fill="#47b9c6" fill-opacity="0.85"/>
<circle cx="378.5" cy="212.2" r="1.75" fill="#8accea" fill-opacity="0.70"/>
<circle cx="376.7" cy="216.3" r="1.75" fill="#2aaeb6" fill-opacity="0.85"/>
<circle cx="378.5" cy="220.4" r="1.75" fill="#8fccec" fill-opacity="0.70"/>
<circle cx="376.7" cy="224.5" r="1.75" fill="#36b2bc" fill-opacity="0.85"/>
<circle cx="378.5" cy="228.6" r="1.75" fill="#2badb0" fill-opacity="0.85"/>
<circle cx="395.4" cy="188.2" r="1.75" fill="#8fccec" fill-opacity="0.70"/>
<circle cx="396.8" cy="192.7" r="1.75" fill="#36b2bc" fill-opacity="0.85"/>
<circle cx="395.4" cy="197.2" r="1.75" fill="#8fccec" fill-opacity="0.70"/>
<circle cx="396.8" cy="201.7" r="1.75" fill="#8accea" fill-opacity="0.70"/>
<circle cx="395.4" cy="206.2" r="1.75" fill="#47b9c6" fill-opacity="0.85"/>
<circle cx="396.8" cy="210.7" r="1.75" fill="#8fccec" fill-opacity="0.70"/>
<circle cx="395.4" cy="215.1" r="1.75" fill="#559fe9" fill-opacity="0.85"/>
<circle cx="396.8" cy="219.6" r="1.75" fill="#8fccec" fill-opacity="0.70"/>
<circle cx="395.4" cy="224.1" r="1.75" fill="#47b9c6" fill-opacity="0.85"/>
<circle cx="396.8" cy="228.6" r="1.75" fill="#2aaeb6" fill-opacity="0.85"/>
<circle cx="420.8" cy="192.8" r="1.75" fill="#8accea" fill-opacity="0.70"/>
<circle cx="422.4" cy="197.3" r="1.75" fill="#8fccec" fill-opacity="0.70"/>
<circle cx="420.8" cy="201.8" r="1.75" fill="#5da7e9" fill-opacity="0.85"/>
<circle cx="422.4" cy="206.2" r="1.75" fill="#8fccec" fill-opacity="0.70"/>
<circle cx="420.8" cy="210.7" r="1.75" fill="#8accea" fill-opacity="0.70"/>
<circle cx="422.4" cy="215.2" r="1.75" fill="#559fe9" fill-opacity="0.85"/>
<circle cx="420.8" cy="219.6" r="1.75" fill="#8fccec" fill-opacity="0.70"/>
<circle cx="422.4" cy="224.1" r="1.75" fill="#47b9c6" fill-opacity="0.85"/>
<circle cx="420.8" cy="228.6" r="1.75" fill="#2aaeb6" fill-opacity="0.85"/>
<circle cx="436.6" cy="188.2" r="1.75" fill="#8accea" fill-opacity="0.70"/>
<circle cx="438.2" cy="192.7" r="1.75" fill="#8fccec" fill-opacity="0.70"/>
<circle cx="436.6" cy="197.2" r="1.75" fill="#8fccec" fill-opacity="0.70"/>
<circle cx="438.2" cy="201.7" r="1.75" fill="#559fe9" fill-opacity="0.85"/>
<circle cx="436.6" cy="206.2" r="1.75" fill="#8accea" fill-opacity="0.70"/>
<circle cx="438.2" cy="210.7" r="1.75" fill="#8fccec" fill-opacity="0.70"/>
<circle cx="436.6" cy="215.1" r="1.75" fill="#5da7e9" fill-opacity="0.85"/>
<circle cx="438.2" cy="219.6" r="1.75" fill="#8fccec" fill-opacity="0.70"/>
<circle cx="436.6" cy="224.1" r="1.75" fill="#47b9c6" fill-opacity="0.85"/>
<circle cx="438.2" cy="228.6" r="1.75" fill="#2aaeb6" fill-opacity="0.85"/>
<circle cx="46.6" cy="306.1" r="1.75" fill="#88c4ee" fill-opacity="0.70"/>
<circle cx="48.6" cy="306.1" r="1.75" fill="#88c4ee" fill-opacity="0.70"/>
<circle cx="50.5" cy="306.1" r="1.75" fill="#88c4ee" fill-opacity="0.70"/>
<circle cx="52.4" cy="306.1" r="1.75" fill="#88c4ee" fill-opacity="0.70"/>
<circle cx="54.4" cy="306.1" r="1.75" fill="#88c4ee" fill-opacity="0.70"/>
<circle cx="56.3" cy="306.1" r="1.75" fill="#88c4ee" fill-opacity="0.70"/>
<circle cx="58.2" cy="306.1" r="1.75" fill="#88c4ee" fill-opacity="0.70"/>
<circle cx="60.2" cy="306.1" r="1.75" fill="#88c4ee" fill-opacity="0.70"/>
<circle cx="61.8" cy="315.2" r="1.75" fill="#88c4ee" fill-opacity="0.70"/>
<circle cx="64.2" cy="321.6" r="1.75" fill="#2268e2" fill-opacity="0.85"/>
<circle cx="65.6" cy="324.6" r="1.75" fill="#65a5eb" fill-opacity="0.70"/>
<circle cx="64.2" cy="327.5" r="1.75" fill="#276de3" fill-opacity="0.85"/>
<circle cx="65.6" cy="330.5" r="1.75" fill="#2268e2" fill-opacity="0.85"/>
<circle cx="64.2" cy="333.4" r="1.75" fill="#2268e2" fill-opacity="0.85"/>
<circle cx="65.6" cy="336.4" r="1.75" fill="#2268e2" fill-opacity="0.85"/>
<circle cx="64.2" cy="339.3" r="1.75" fill="#2268e2" fill-opacity="0.85"/>
<circle cx="65.6" cy="342.3" r="1.75" fill="#2268e2" fill-opacity="0.85"/>
<circle cx="64.2" cy="345.2" r="1.75" fill="#2268e2" fill-opacity="0.85"/>
<circle cx="65.6" cy="348.1" r="1.75" fill="#2268e2" fill-opacity="0.85"/>
<circle cx="64.2" cy="351.1" r="1.75" fill="#2268e2" fill-opacity="0.85"/>
<circle cx="65.6" cy="354.0" r="1.75" fill="#2268e2" fill-opacity="0.85"/>
<circle cx="68.5" cy="302.9" r="1.75" fill="#88c4ee" fill-opacity="0.70"/>
<circle cx="70.4" cy="302.9" r="1.75" fill="#88c4ee" fill-opacity="0.70"/>
<circle cx="72.4" cy="302.9" r="1.75" fill="#88c4ee" fill-opacity="0.70"/>
<circle cx="74.3" cy="302.9" r="1.75" fill="#88c4ee" fill-opacity="0.70"/>
<circle cx="76.2" cy="302.9" r="1.75" fill="#88c4ee" fill-opacity="0.70"/>
<circle cx="78.1" cy="302.9" r="1.75" fill="#93cdef" fill-opacity="0.70"/>
<circle cx="80.0" cy="302.9" r="1.75" fill="#5ec1d5" fill-opacity="0.85"/>
<circle cx="81.9" cy="302.9" r="1.75" fill="#abbf41" fill-opacity="0.85"/>
<circle cx="83.8" cy="302.9" r="1.75" fill="#74b450" fill-opacity="0.85"/>
<circle cx="85.7" cy="302.9" r="1.75" fill="#2aaeb6" fill-opacity="0.85"/>
<circle cx="87.6" cy="302.9" r="1.75" fill="#2aaeb6" fill-opacity="0.85"/>
<circle cx="89.5" cy="302.9" r="1.75" fill="#93cdef" fill-opacity="0.70"/>
<circle cx="89.2" cy="309.3" r="1.75" fill="#abbf41" fill-opacity="0.85"/>
<circle cx="90.3" cy="312.5" r="1.75" fill="#abbf41" fill-opacity="0.85"/>
<circle cx="89.2" cy="315.7" r="1.75" fill="#a0bd44" fill-opacity="0.85"/>
<circle cx="90.3" cy="318.9" r="1.75" fill="#2aaeb6" fill-opacity="0.85"/>
<circle cx="89.2" cy="322.1" r="1.75" fill="#88c4ee" fill-opacity="0.70"/>
<circle cx="90.3" cy="325.3" r="1.75" fill="#5da7e9" fill-opacity="0.85"/>
<circle cx="89.2" cy="328.5" r="1.75" fill="#438de7" fill-opacity="0.85"/>
<circle cx="90.3" cy="331.7" r="1.75" fill="#327be6" fill-opacity="0.85"/>
<circle cx="89.2" cy="334.9" r="1.75" fill="#276de3" fill-opacity="0.85"/>
<circle cx="90.3" cy="338.1" r="1.75" fill="#2268e2" fill-opacity="0.85"/>
<circle cx="89.2" cy="341.3" r="1.75" fill="#2268e2" fill-opacity="0.85"/>
<circle cx="90.3" cy="344.5" r="1.75" fill="#2268e2" fill-opacity="0.85"/>
<circle cx="89.2" cy="347.6" r="1.75" fill="#2268e2" fill-opacity="0.85"/>
<circle cx="90.3" cy="350.8" r="1.75" fill="#2268e2" fill-opacity="0.85"/>
<circle cx="89.2" cy="354.0" r="1.75" fill="#2268e2" fill-opacity="0.85"/>
<circle cx="95.3" cy="307.5" r="1.75" fill="#30aa98" fill-opacity="0.85"/>
<circle cx="96.0" cy="310.8" r="1.75" fill="#abbf41" fill-opacity="0.85"/>
<circle cx="95.3" cy="314.1" r="1.75" fill="#74b450" fill-opacity="0.85"/>
<circle cx="96.0" cy="317.4" r="1.75" fill="#2aaeb6" fill-opacity="0.85"/>
<circle cx="95.3" cy="320.7" r="1.75" fill="#5ec1d5" fill-opacity="0.85"/>
<circle cx="96.3" cy="299.2" r="1.75" fill="#88c4ee" fill-opacity="0.70"/>
<circle cx="98.4" cy="299.2" r="1.75" fill="#88c4ee" fill-opacity="0.70"/>
<circle cx="100.6" cy="299.2" r="1.75" fill="#2268e2" fill-opacity="0.85"/>
<circle cx="102.7" cy="299.2" r="1.75" fill="#88c4ee" fill-opacity="0.70"/>
<circle cx="104.8" cy="299.2" r="1.75" fill="#88c4ee" fill-opacity="0.70"/>
<circle cx="106.9" cy="299.2" r="1.75" fill="#93cdef" fill-opacity="0.70"/>
<circle cx="109.0" cy="299.2" r="1.75" fill="#93cdef" fill-opacity="0.70"/>
<circle cx="111.1" cy="299.2" r="1.75" fill="#93cdef" fill-opacity="0.70"/>
<circle cx="113.3" cy="299.2" r="1.75" fill="#93cdef" fill-opacity="0.70"/>
<circle cx="116.1" cy="317.1" r="1.75" fill="#abbf41" fill-opacity="0.85"/>
<circle cx="117.7" cy="321.1" r="1.75" fill="#88c4ee" fill-opacity="0.70"/>
<circle cx="116.1" cy="325.2" r="1.75" fill="#88c4ee" fill-opacity="0.70"/>
<circle cx="117.7" cy="329.2" r="1.75" fill="#abbf41" fill-opacity="0.85"/>
<circle cx="116.1" cy="333.3" r="1.75" fill="#88c4ee" fill-opacity="0.70"/>
<circle cx="117.7" cy="337.3" r="1.75" fill="#88c4ee" fill-opacity="0.70"/>
<circle cx="116.1" cy="341.4" r="1.75" fill="#7bc3e9" fill-opacity="0.85"/>
<circle cx="117.7" cy="345.5" r="1.75" fill="#5ec1d5" fill-opacity="0.85"/>
<circle cx="116.1" cy="349.5" r="1.75" fill="#3e88e7" fill-opacity="0.85"/>
<circle cx="117.7" cy="353.6" r="1.75" fill="#2268e2" fill-opacity="0.85"/>
<circle cx="121.2" cy="312.0" r="1.75" fill="#93cdef" fill-opacity="0.70"/>
<circle cx="123.4" cy="312.0" r="1.75" fill="#93cdef" fill-opacity="0.70"/>
<circle cx="125.7" cy="312.0" r="1.75" fill="#93cdef" fill-opacity="0.70"/>
<circle cx="127.9" cy="312.0" r="1.75" fill="#93cdef" fill-opacity="0.70"/>
<circle cx="129.0" cy="315.7" r="1.75" fill="#5ec1d5" fill-opacity="0.85"/>
<circle cx="130.1" cy="319.1" r="1.75" fill="#2aaeb6" fill-opacity="0.85"/>
<circle cx="129.0" cy="322.6" r="1.75" fill="#93cdef" fill-opacity="0.70"/>
<circle cx="130.1" cy="326.0" r="1.75" fill="#2aaeb6" fill-opacity="0.85"/>
<circle cx="129.0" cy="329.5" r="1.75" fill="#93cdef" fill-opacity="0.70"/>
<circle cx="130.1" cy="332.9" r="1.75" fill="#2aaeb6" fill-opacity="0.85"/>
<circle cx="129.0" cy="336.4" r="1.75" fill="#93cdef" fill-opacity="0.70"/>
<circle cx="130.1" cy="339.8" r="1.75" fill="#f19628" fill-opacity="0.85"/>
<circle cx="129.0" cy="343.2" r="1.75" fill="#d44d43" fill-opacity="0.85"/>
<circle cx="130.1" cy="346.7" r="1.75" fill="#cd4949" fill-opacity="0.85"/>
<circle cx="129.0" cy="350.1" r="1.75" fill="#2aaeb6" fill-opacity="0.85"/>
<circle cx="130.1" cy="353.6" r="1.75" fill="#2aaeb6" fill-opacity="0.85"/>
<circle cx="140.4" cy="306.6" r="1.75" fill="#d3c13f" fill-opacity="0.85"/>
<circle cx="142.2" cy="310.9" r="1.75" fill="#e3c03d" fill-opacity="0.85"/>
<circle cx="140.4" cy="315.2" r="1.75" fill="#30aa98" fill-opacity="0.85"/>
<circle cx="142.2" cy="319.5" r="1.75" fill="#2aaeb6" fill-opacity="0.85"/>
<circle cx="140.4" cy="323.8" r="1.75" fill="#2aaeb6" fill-opacity="0.85"/>
<circle cx="142.2" cy="328.1" r="1.75" fill="#93cdef" fill-opacity="0.70"/>
<circle cx="140.4" cy="332.5" r="1.75" fill="#2aaeb6" fill-opacity="0.85"/>
<circle cx="142.2" cy="336.8" r="1.75" fill="#f18c21" fill-opacity="0.85"/>
<circle cx="140.4" cy="341.1" r="1.75" fill="#c5454f" fill-opacity="0.85"/>
<circle cx="142.2" cy="345.4" r="1.75" fill="#abbf41" fill-opacity="0.85"/>
<circle cx="140.4" cy="349.7" r="1.75" fill="#74b450" fill-opacity="0.85"/>
<circle cx="142.2" cy="354.0" r="1.75" fill="#5eb064" fill-opacity="0.85"/>
<circle cx="152.2" cy="306.6" r="1.75" fill="#2aaeb6" fill-opacity="0.85"/>
<circle cx="153.8" cy="311.3" r="1.75" fill="#2aaeb6" fill-opacity="0.85"/>
<circle cx="152.2" cy="316.0" r="1.75" fill="#2aaeb6" fill-opacity="0.85"/>
<circle cx="153.8" cy="320.8" r="1.75" fill="#88c4ee" fill-opacity="0.70"/>
<circle cx="152.2" cy="325.5" r="1.75" fill="#2aaeb6" fill-opacity="0.85"/>
<circle cx="153.8" cy="330.3" r="1.75" fill="#93cdef" fill-opacity="0.70"/>
<circle cx="152.2" cy="335.0" r="1.75" fill="#2aaeb6" fill-opacity="0.85"/>
<circle cx="153.8" cy="339.8" r="1.75" fill="#ec751f" fill-opacity="0.85"/>
<circle cx="152.2" cy="344.5" r="1.75" fill="#cd4949" fill-opacity="0.85"/>
<circle cx="153.8" cy="349.3" r="1.75" fill="#2aaeb6" fill-opacity="0.85"/>
<circle cx="152.2" cy="354.0" r="1.75" fill="#2aaeb6" fill-opacity="0.85"/>
<circle cx="163.4" cy="339.9" r="1.75" fill="#f19628" fill-opacity="0.85"/>
<circle cx="164.3" cy="343.1" r="1.75" fill="#e3c03d" fill-opacity="0.85"/>
<circle cx="163.4" cy="346.3" r="1.75" fill="#d3c13f" fill-opacity="0.85"/>
<circle cx="159.6" cy="304.3" r="1.75" fill="#2daca7" fill-opacity="0.85"/>
<circle cx="161.7" cy="304.3" r="1.75" fill="#2daca7" fill-opacity="0.85"/>
<circle cx="163.8" cy="304.3" r="1.75" fill="#2daca7" fill-opacity="0.85"/>
<circle cx="165.9" cy="304.3" r="1.75" fill="#2daca7" fill-opacity="0.85"/>
<circle cx="168.0" cy="304.3" r="1.75" fill="#2daca7" fill-opacity="0.85"/>
<circle cx="170.1" cy="304.3" r="1.75" fill="#2daca7" fill-opacity="0.85"/>
<circle cx="172.2" cy="304.3" r="1.75" fill="#2daca7" fill-opacity="0.85"/>
<circle cx="174.2" cy="304.3" r="1.75" fill="#2daca7" fill-opacity="0.85"/>
<circle cx="159.2" cy="304.3" r="1.75" fill="#2daca7" fill-opacity="0.85"/>
<circle cx="160.4" cy="309.8" r="1.75" fill="#2daca7" fill-opacity="0.85"/>
<circle cx="159.2" cy="315.3" r="1.75" fill="#88c4ee" fill-opacity="0.70"/>
<circle cx="160.4" cy="320.9" r="1.75" fill="#88c4ee" fill-opacity="0.70"/>
<circle cx="159.2" cy="326.4" r="1.75" fill="#88c4ee" fill-opacity="0.70"/>
<circle cx="160.4" cy="331.9" r="1.75" fill="#88c4ee" fill-opacity="0.70"/>
<circle cx="159.2" cy="337.5" r="1.75" fill="#2aaeb6" fill-opacity="0.85"/>
<circle cx="160.4" cy="343.0" r="1.75" fill="#d3c13f" fill-opacity="0.85"/>
<circle cx="159.2" cy="348.5" r="1.75" fill="#2aaeb6" fill-opacity="0.85"/>
<circle cx="160.4" cy="354.0" r="1.75" fill="#2aaeb6" fill-opacity="0.85"/>
<circle cx="164.9" cy="322.5" r="1.75" fill="#2a71e4" fill-opacity="0.85"/>
<circle cx="165.6" cy="327.1" r="1.75" fill="#2a71e4" fill-opacity="0.85"/>
<circle cx="164.9" cy="331.7" r="1.75" fill="#2d74e5" fill-opacity="0.85"/>
<circle cx="165.6" cy="336.2" r="1.75" fill="#327be6" fill-opacity="0.85"/>
<circle cx="171.7" cy="305.2" r="1.75" fill="#2daca7" fill-opacity="0.85"/>
<circle cx="172.3" cy="309.4" r="1.75" fill="#2daca7" fill-opacity="0.85"/>
<circle cx="171.7" cy="313.7" r="1.75" fill="#2aaeb6" fill-opacity="0.85"/>
<circle cx="172.3" cy="318.0" r="1.75" fill="#2aaeb6" fill-opacity="0.85"/>
<circle cx="181.0" cy="322.5" r="1.75" fill="#93cdef" fill-opacity="0.70"/>
<circle cx="181.9" cy="327.8" r="1.75" fill="#93cdef" fill-opacity="0.70"/>
<circle cx="181.0" cy="333.0" r="1.75" fill="#88c4ee" fill-opacity="0.70"/>
<circle cx="181.9" cy="338.3" r="1.75" fill="#88c4ee" fill-opacity="0.70"/>
<circle cx="181.0" cy="343.5" r="1.75" fill="#93cdef" fill-opacity="0.70"/>
<circle cx="181.9" cy="348.8" r="1.75" fill="#8fccec" fill-opacity="0.70"/>
<circle cx="181.0" cy="354.0" r="1.75" fill="#2aaeb6" fill-opacity="0.85"/>
<circle cx="191.2" cy="300.6" r="1.75" fill="#93cdef" fill-opacity="0.70"/>
<circle cx="192.5" cy="307.0" r="1.75" fill="#93cdef" fill-opacity="0.70"/>
<circle cx="191.2" cy="313.4" r="1.75" fill="#88c4ee" fill-opacity="0.70"/>
<circle cx="192.5" cy="319.8" r="1.75" fill="#88c4ee" fill-opacity="0.70"/>
<circle cx="191.2" cy="326.2" r="1.75" fill="#93cdef" fill-opacity="0.70"/>
<circle cx="192.5" cy="332.6" r="1.75" fill="#88c4ee" fill-opacity="0.70"/>
<circle cx="191.2" cy="339.0" r="1.75" fill="#88c4ee" fill-opacity="0.70"/>
<circle cx="192.5" cy="345.4" r="1.75" fill="#93cdef" fill-opacity="0.70"/>
<circle cx="196.0" cy="349.9" r="1.75" fill="#2badb0" fill-opacity="0.85"/>
<circle cx="204.0" cy="300.6" r="1.75" fill="#93cdef" fill-opacity="0.70"/>
<circle cx="205.5" cy="306.6" r="1.75" fill="#93cdef" fill-opacity="0.70"/>
<circle cx="204.0" cy="312.5" r="1.75" fill="#88c4ee" fill-opacity="0.70"/>
<circle cx="205.5" cy="318.4" r="1.75" fill="#88c4ee" fill-opacity="0.70"/>
<circle cx="204.0" cy="324.4" r="1.75" fill="#93cdef" fill-opacity="0.70"/>
<circle cx="205.5" cy="330.3" r="1.75" fill="#3e88e7" fill-opacity="0.85"/>
<circle cx="204.0" cy="336.2" r="1.75" fill="#3e88e7" fill-opacity="0.85"/>
<circle cx="210.5" cy="349.9" r="1.75" fill="#2badb0" fill-opacity="0.85"/>
<circle cx="215.4" cy="298.8" r="1.75" fill="#8fccec" fill-opacity="0.70"/>
<circle cx="216.7" cy="305.0" r="1.75" fill="#8fccec" fill-opacity="0.70"/>
<circle cx="215.4" cy="311.3" r="1.75" fill="#93cdef" fill-opacity="0.70"/>
<circle cx="216.7" cy="317.5" r="1.75" fill="#88c4ee" fill-opacity="0.70"/>
<circle cx="215.4" cy="323.8" r="1.75" fill="#4a95e8" fill-opacity="0.85"/>
<circle cx="216.7" cy="330.0" r="1.75" fill="#88c4ee" fill-opacity="0.70"/>
<circle cx="215.4" cy="336.2" r="1.75" fill="#3e88e7" fill-opacity="0.85"/>
<circle cx="224.7" cy="349.9" r="1.75" fill="#30aa98" fill-opacity="0.85"/>
<circle cx="225.4" cy="354.0" r="1.75" fill="#30aa98" fill-opacity="0.85"/>
<circle cx="273.2" cy="304.7" r="1.75" fill="#88c4ee" fill-opacity="0.70"/>
<circle cx="276.3" cy="304.7" r="1.75" fill="#88c4ee" fill-opacity="0.70"/>
<circle cx="279.3" cy="304.7" r="1.75" fill="#88c4ee" fill-opacity="0.70"/>
<circle cx="280.1" cy="307.9" r="1.75" fill="#88c4ee" fill-opacity="0.70"/>
<circle cx="281.2" cy="313.0" r="1.75" fill="#88c4ee" fill-opacity="0.70"/>
<circle cx="280.1" cy="318.2" r="1.75" fill="#93cdef" fill-opacity="0.70"/>
<circle cx="281.2" cy="323.3" r="1.75" fill="#76b4ed" fill-opacity="0.70"/>
<circle cx="280.1" cy="328.4" r="1.75" fill="#76b4ed" fill-opacity="0.70"/>
<circle cx="281.2" cy="333.5" r="1.75" fill="#559fe9" fill-opacity="0.85"/>
<circle cx="280.1" cy="338.7" r="1.75" fill="#559fe9" fill-opacity="0.85"/>
<circle cx="281.2" cy="343.8" r="1.75" fill="#76b4ed" fill-opacity="0.70"/>
<circle cx="280.1" cy="348.9" r="1.75" fill="#4a95e8" fill-opacity="0.85"/>
<circle cx="281.2" cy="354.0" r="1.75" fill="#2268e2" fill-opacity="0.85"/>
<circle cx="288.3" cy="304.3" r="1.75" fill="#93cdef" fill-opacity="0.70"/>
<circle cx="290.8" cy="304.3" r="1.75" fill="#93cdef" fill-opacity="0.70"/>
<circle cx="293.3" cy="304.3" r="1.75" fill="#93cdef" fill-opacity="0.70"/>
<circle cx="295.8" cy="304.3" r="1.75" fill="#93cdef" fill-opacity="0.70"/>
<circle cx="298.3" cy="304.3" r="1.75" fill="#93cdef" fill-opacity="0.70"/>
<circle cx="300.8" cy="304.3" r="1.75" fill="#93cdef" fill-opacity="0.70"/>
<circle cx="286.1" cy="305.2" r="1.75" fill="#93cdef" fill-opacity="0.70"/>
<circle cx="287.0" cy="309.1" r="1.75" fill="#88c4ee" fill-opacity="0.70"/>
<circle cx="286.1" cy="313.1" r="1.75" fill="#88c4ee" fill-opacity="0.70"/>
<circle cx="287.0" cy="317.1" r="1.75" fill="#88c4ee" fill-opacity="0.70"/>
<circle cx="303.2" cy="318.0" r="1.75" fill="#2a71e4" fill-opacity="0.85"/>
<circle cx="304.6" cy="323.1" r="1.75" fill="#276de3" fill-opacity="0.85"/>
<circle cx="303.2" cy="328.3" r="1.75" fill="#2a71e4" fill-opacity="0.85"/>
<circle cx="304.6" cy="333.4" r="1.75" fill="#76b4ed" fill-opacity="0.70"/>
<circle cx="303.2" cy="338.6" r="1.75" fill="#76b4ed" fill-opacity="0.70"/>
<circle cx="304.6" cy="343.7" r="1.75" fill="#276de3" fill-opacity="0.85"/>
<circle cx="303.2" cy="348.9" r="1.75" fill="#2268e2" fill-opacity="0.85"/>
<circle cx="304.6" cy="354.0" r="1.75" fill="#2268e2" fill-opacity="0.85"/>
<circle cx="310.9" cy="299.7" r="1.75" fill="#2268e2" fill-opacity="0.85"/>
<circle cx="313.2" cy="299.7" r="1.75" fill="#2268e2" fill-opacity="0.85"/>
<circle cx="315.4" cy="299.7" r="1.75" fill="#276de3" fill-opacity="0.85"/>
<circle cx="309.3" cy="302.0" r="1.75" fill="#276de3" fill-opacity="0.85"/>
<circle cx="310.3" cy="306.6" r="1.75" fill="#2a71e4" fill-opacity="0.85"/>
<circle cx="309.3" cy="311.1" r="1.75" fill="#2a71e4" fill-opacity="0.85"/>
<circle cx="310.3" cy="315.7" r="1.75" fill="#2d74e5" fill-opacity="0.85"/>
<circle cx="316.8" cy="306.1" r="1.75" fill="#88c4ee" fill-opacity="0.70"/>
<circle cx="318.2" cy="311.4" r="1.75" fill="#88c4ee" fill-opacity="0.70"/>
<circle cx="316.8" cy="316.7" r="1.75" fill="#88c4ee" fill-opacity="0.70"/>
<circle cx="318.2" cy="322.1" r="1.75" fill="#7dbaed" fill-opacity="0.70"/>
<circle cx="316.8" cy="327.4" r="1.75" fill="#76b4ed" fill-opacity="0.70"/>
<circle cx="318.2" cy="332.7" r="1.75" fill="#76b4ed" fill-opacity="0.70"/>
<circle cx="316.8" cy="338.1" r="1.75" fill="#76b4ed" fill-opacity="0.70"/>
<circle cx="318.2" cy="343.4" r="1.75" fill="#7dbaed" fill-opacity="0.70"/>
<circle cx="316.8" cy="348.7" r="1.75" fill="#7dbaed" fill-opacity="0.70"/>
<circle cx="318.2" cy="354.0" r="1.75" fill="#2268e2" fill-opacity="0.85"/>
<circle cx="336.9" cy="294.2" r="1.75" fill="#2a71e4" fill-opacity="0.85"/>
<circle cx="339.2" cy="294.2" r="1.75" fill="#d3c13f" fill-opacity="0.85"/>
<circle cx="341.4" cy="294.2" r="1.75" fill="#e3c03d" fill-opacity="0.85"/>
<circle cx="343.7" cy="294.2" r="1.75" fill="#30aa98" fill-opacity="0.85"/>
<circle cx="327.2" cy="297.0" r="1.75" fill="#93cdef" fill-opacity="0.70"/>
<circle cx="329.2" cy="297.0" r="1.75" fill="#93cdef" fill-opacity="0.70"/>
<circle cx="331.1" cy="297.0" r="1.75" fill="#2daca7" fill-opacity="0.85"/>
<circle cx="333.1" cy="297.0" r="1.75" fill="#2daca7" fill-opacity="0.85"/>
<circle cx="335.1" cy="297.0" r="1.75" fill="#93cdef" fill-opacity="0.70"/>
<circle cx="324.4" cy="298.8" r="1.75" fill="#30aa98" fill-opacity="0.85"/>
<circle cx="325.5" cy="301.7" r="1.75" fill="#48ac78" fill-opacity="0.85"/>
<circle cx="324.4" cy="304.6" r="1.75" fill="#74b450" fill-opacity="0.85"/>
<circle cx="325.5" cy="307.6" r="1.75" fill="#d3c13f" fill-opacity="0.85"/>
<circle cx="324.4" cy="310.5" r="1.75" fill="#edab34" fill-opacity="0.85"/>
<circle cx="325.5" cy="313.4" r="1.75" fill="#d3c13f" fill-opacity="0.85"/>
<circle cx="344.0" cy="311.6" r="1.75" fill="#5eb064" fill-opacity="0.85"/>
<circle cx="345.1" cy="316.8" r="1.75" fill="#2daca7" fill-opacity="0.85"/>
<circle cx="344.0" cy="322.1" r="1.75" fill="#74b450" fill-opacity="0.85"/>
<circle cx="345.1" cy="327.3" r="1.75" fill="#2aaeb6" fill-opacity="0.85"/>
<circle cx="344.0" cy="332.6" r="1.75" fill="#f18c21" fill-opacity="0.85"/>
<circle cx="345.1" cy="337.8" r="1.75" fill="#f0821a" fill-opacity="0.85"/>
<circle cx="344.0" cy="343.1" r="1.75" fill="#74b450" fill-opacity="0.85"/>
<circle cx="345.1" cy="348.3" r="1.75" fill="#88c4ee" fill-opacity="0.70"/>
<circle cx="344.0" cy="353.6" r="1.75" fill="#93cdef" fill-opacity="0.70"/>
<circle cx="351.1" cy="318.0" r="1.75" fill="#74b450" fill-opacity="0.85"/>
<circle cx="352.5" cy="325.1" r="1.75" fill="#6bb258" fill-opacity="0.85"/>
<circle cx="351.1" cy="332.2" r="1.75" fill="#d3c13f" fill-opacity="0.85"/>
<circle cx="352.5" cy="339.3" r="1.75" fill="#48ac78" fill-opacity="0.85"/>
<circle cx="351.1" cy="346.5" r="1.75" fill="#f18c21" fill-opacity="0.85"/>
<circle cx="352.5" cy="353.6" r="1.75" fill="#2daca7" fill-opacity="0.85"/>
<circle cx="358.5" cy="311.1" r="1.75" fill="#74b450" fill-opacity="0.85"/>
<circle cx="359.6" cy="317.0" r="1.75" fill="#6bb258" fill-opacity="0.85"/>
<circle cx="358.5" cy="322.9" r="1.75" fill="#30aa98" fill-opacity="0.85"/>
<circle cx="359.6" cy="328.7" r="1.75" fill="#48ac78" fill-opacity="0.85"/>
<circle cx="358.5" cy="334.6" r="1.75" fill="#2daca7" fill-opacity="0.85"/>
<circle cx="359.6" cy="340.5" r="1.75" fill="#2badb0" fill-opacity="0.85"/>
<circle cx="358.5" cy="346.3" r="1.75" fill="#2aaeb6" fill-opacity="0.85"/>
<circle cx="359.6" cy="352.2" r="1.75" fill="#2aaeb6" fill-opacity="0.85"/>
<circle cx="372.4" cy="296.5" r="1.75" fill="#93cdef" fill-opacity="0.70"/>
<circle cx="375.1" cy="296.5" r="1.75" fill="#93cdef" fill-opacity="0.70"/>
<circle cx="377.8" cy="296.5" r="1.75" fill="#93cdef" fill-opacity="0.70"/>
<circle cx="372.3" cy="298.8" r="1.75" fill="#93cdef" fill-opacity="0.70"/>
<circle cx="372.9" cy="303.7" r="1.75" fill="#93cdef" fill-opacity="0.70"/>
<circle cx="372.3" cy="308.5" r="1.75" fill="#88c4ee" fill-opacity="0.70"/>
<circle cx="372.9" cy="313.4" r="1.75" fill="#88c4ee" fill-opacity="0.70"/>
<circle cx="388.9" cy="294.7" r="1.75" fill="#93cdef" fill-opacity="0.70"/>
<circle cx="391.1" cy="294.7" r="1.75" fill="#93cdef" fill-opacity="0.70"/>
<circle cx="393.4" cy="294.7" r="1.75" fill="#93cdef" fill-opacity="0.70"/>
<circle cx="395.6" cy="294.7" r="1.75" fill="#93cdef" fill-opacity="0.70"/>
<circle cx="389.3" cy="296.0" r="1.75" fill="#93cdef" fill-opacity="0.70"/>
<circle cx="390.7" cy="301.8" r="1.75" fill="#88c4ee" fill-opacity="0.70"/>
<circle cx="389.3" cy="307.6" r="1.75" fill="#88c4ee" fill-opacity="0.70"/>
<circle cx="390.7" cy="313.3" r="1.75" fill="#88c4ee" fill-opacity="0.70"/>
<circle cx="389.3" cy="319.1" r="1.75" fill="#5da7e9" fill-opacity="0.85"/>
<circle cx="390.7" cy="324.8" r="1.75" fill="#5da7e9" fill-opacity="0.85"/>
<circle cx="389.3" cy="330.6" r="1.75" fill="#4a95e8" fill-opacity="0.85"/>
<circle cx="390.7" cy="336.3" r="1.75" fill="#88c4ee" fill-opacity="0.70"/>
<circle cx="389.3" cy="342.1" r="1.75" fill="#88c4ee" fill-opacity="0.70"/>
<circle cx="390.7" cy="347.8" r="1.75" fill="#2aaeb6" fill-opacity="0.85"/>
<circle cx="389.3" cy="353.6" r="1.75" fill="#2badb0" fill-opacity="0.85"/>
<circle cx="405.1" cy="308.8" r="1.75" fill="#88c4ee" fill-opacity="0.70"/>
<circle cx="406.9" cy="313.8" r="1.75" fill="#88c4ee" fill-opacity="0.70"/>
<circle cx="405.1" cy="318.8" r="1.75" fill="#5da7e9" fill-opacity="0.85"/>
<circle cx="406.9" cy="323.8" r="1.75" fill="#4a95e8" fill-opacity="0.85"/>
<circle cx="405.1" cy="328.7" r="1.75" fill="#3e88e7" fill-opacity="0.85"/>
<circle cx="406.9" cy="333.7" r="1.75" fill="#88c4ee" fill-opacity="0.70"/>
<circle cx="405.1" cy="338.7" r="1.75" fill="#88c4ee" fill-opacity="0.70"/>
<circle cx="406.9" cy="343.6" r="1.75" fill="#88c4ee" fill-opacity="0.70"/>
<circle cx="405.1" cy="348.6" r="1.75" fill="#88c4ee" fill-opacity="0.70"/>
<circle cx="406.9" cy="353.6" r="1.75" fill="#2aaeb6" fill-opacity="0.85"/>
<circle cx="411.9" cy="303.8" r="1.75" fill="#8accea" fill-opacity="0.70"/>
<circle cx="414.1" cy="303.8" r="1.75" fill="#8accea" fill-opacity="0.70"/>
<circle cx="416.3" cy="303.8" r="1.75" fill="#8accea" fill-opacity="0.70"/>
<circle cx="418.5" cy="303.8" r="1.75" fill="#8accea" fill-opacity="0.70"/>
<circle cx="420.7" cy="303.8" r="1.75" fill="#8accea" fill-opacity="0.70"/>
<circle cx="423.0" cy="303.8" r="1.75" fill="#8accea" fill-opacity="0.70"/>
<circle cx="412.7" cy="304.3" r="1.75" fill="#8fccec" fill-opacity="0.70"/>
<circle cx="413.4" cy="308.8" r="1.75" fill="#8fccec" fill-opacity="0.70"/>
<circle cx="412.7" cy="313.4" r="1.75" fill="#93cdef" fill-opacity="0.70"/>
<circle cx="427.0" cy="327.1" r="1.75" fill="#93cdef" fill-opacity="0.70"/>
<circle cx="428.4" cy="332.5" r="1.75" fill="#3e88e7" fill-opacity="0.85"/>
<circle cx="427.0" cy="337.9" r="1.75" fill="#88c4ee" fill-opacity="0.70"/>
<circle cx="428.4" cy="343.3" r="1.75" fill="#4a95e8" fill-opacity="0.85"/>
<circle cx="427.0" cy="348.7" r="1.75" fill="#93cdef" fill-opacity="0.70"/>
<circle cx="428.4" cy="354.0" r="1.75" fill="#2aaeb6" fill-opacity="0.85"/>
<circle cx="431.8" cy="301.5" r="1.75" fill="#8fccec" fill-opacity="0.70"/>
<circle cx="434.0" cy="301.5" r="1.75" fill="#8fccec" fill-opacity="0.70"/>
<circle cx="436.3" cy="301.5" r="1.75" fill="#8fccec" fill-opacity="0.70"/>
<circle cx="438.5" cy="301.5" r="1.75" fill="#8fccec" fill-opacity="0.70"/>
<circle cx="432.4" cy="301.5" r="1.75" fill="#8fccec" fill-opacity="0.70"/>
<circle cx="433.4" cy="306.2" r="1.75" fill="#93cdef" fill-opacity="0.70"/>
<circle cx="432.4" cy="311.0" r="1.75" fill="#93cdef" fill-opacity="0.70"/>
<circle cx="433.4" cy="315.7" r="1.75" fill="#93cdef" fill-opacity="0.70"/>
<circle cx="440.9" cy="327.1" r="1.75" fill="#88c4ee" fill-opacity="0.70"/>
<circle cx="442.0" cy="333.8" r="1.75" fill="#88c4ee" fill-opacity="0.70"/>
<circle cx="440.9" cy="340.6" r="1.75" fill="#5da7e9" fill-opacity="0.85"/>
<circle cx="442.0" cy="347.3" r="1.75" fill="#93cdef" fill-opacity="0.70"/>
<circle cx="440.9" cy="354.0" r="1.75" fill="#2aaeb6" fill-opacity="0.85"/>
<circle cx="448.3" cy="302.0" r="1.75" fill="#8fccec" fill-opacity="0.70"/>
<circle cx="449.2" cy="305.8" r="1.75" fill="#93cdef" fill-opacity="0.70"/>
<circle cx="448.3" cy="309.6" r="1.75" fill="#93cdef" fill-opacity="0.70"/>
<circle cx="449.2" cy="313.4" r="1.75" fill="#93cdef" fill-opacity="0.70"/>
<circle cx="450.2" cy="349.9" r="1.75" fill="#2aaeb6" fill-opacity="0.85"/>
<circle cx="450.9" cy="354.0" r="1.75" fill="#2aaeb6" fill-opacity="0.85"/>
<circle cx="363.3" cy="318.0" r="1.75" fill="#8fccec" fill-opacity="0.70"/>
<circle cx="364.7" cy="321.5" r="1.75" fill="#47b9c6" fill-opacity="0.85"/>
<circle cx="363.3" cy="325.1" r="1.75" fill="#8fccec" fill-opacity="0.70"/>
<circle cx="364.7" cy="328.7" r="1.75" fill="#36b2bc" fill-opacity="0.85"/>
<circle cx="363.3" cy="332.2" r="1.75" fill="#8accea" fill-opacity="0.70"/>
<circle cx="364.7" cy="335.8" r="1.75" fill="#47b9c6" fill-opacity="0.85"/>
<circle cx="363.3" cy="339.3" r="1.75" fill="#8fccec" fill-opacity="0.70"/>
<circle cx="364.7" cy="342.9" r="1.75" fill="#36b2bc" fill-opacity="0.85"/>
<circle cx="363.3" cy="346.5" r="1.75" fill="#8fccec" fill-opacity="0.70"/>
<circle cx="364.7" cy="350.0" r="1.75" fill="#2aaeb6" fill-opacity="0.85"/>
<circle cx="363.3" cy="353.6" r="1.75" fill="#2badb0" fill-opacity="0.85"/>
<circle cx="376.7" cy="308.8" r="1.75" fill="#8accea" fill-opacity="0.70"/>
<circle cx="378.5" cy="312.9" r="1.75" fill="#8fccec" fill-opacity="0.70"/>
<circle cx="376.7" cy="317.0" r="1.75" fill="#47b9c6" fill-opacity="0.85"/>
<circle cx="378.5" cy="321.0" r="1.75" fill="#8fccec" fill-opacity="0.70"/>
<circle cx="376.7" cy="325.1" r="1.75" fill="#36b2bc" fill-opacity="0.85"/>
<circle cx="378.5" cy="329.2" r="1.75" fill="#8fccec" fill-opacity="0.70"/>
<circle cx="376.7" cy="333.2" r="1.75" fill="#47b9c6" fill-opacity="0.85"/>
<circle cx="378.5" cy="337.3" r="1.75" fill="#8accea" fill-opacity="0.70"/>
<circle cx="376.7" cy="341.4" r="1.75" fill="#2aaeb6" fill-opacity="0.85"/>
<circle cx="378.5" cy="345.4" r="1.75" fill="#8fccec" fill-opacity="0.70"/>
<circle cx="376.7" cy="349.5" r="1.75" fill="#36b2bc" fill-opacity="0.85"/>
<circle cx="378.5" cy="353.6" r="1.75" fill="#2badb0" fill-opacity="0.85"/>
<circle cx="395.4" cy="313.4" r="1.75" fill="#8fccec" fill-opacity="0.70"/>
<circle cx="396.8" cy="317.9" r="1.75" fill="#36b2bc" fill-opacity="0.85"/>
<circle cx="395.4" cy="322.3" r="1.75" fill="#8fccec" fill-opacity="0.70"/>
<circle cx="396.8" cy="326.8" r="1.75" fill="#8accea" fill-opacity="0.70"/>
<circle cx="395.4" cy="331.3" r="1.75" fill="#47b9c6" fill-opacity="0.85"/>
<circle cx="396.8" cy="335.7" r="1.75" fill="#8fccec" fill-opacity="0.70"/>
<circle cx="395.4" cy="340.2" r="1.75" fill="#559fe9" fill-opacity="0.85"/>
<circle cx="396.8" cy="344.7" r="1.75" fill="#8fccec" fill-opacity="0.70"/>
<circle cx="395.4" cy="349.1" r="1.75" fill="#47b9c6" fill-opacity="0.85"/>
<circle cx="396.8" cy="353.6" r="1.75" fill="#2aaeb6" fill-opacity="0.85"/>
<circle cx="420.8" cy="318.0" r="1.75" fill="#8accea" fill-opacity="0.70"/>
<circle cx="422.4" cy="322.4" r="1.75" fill="#8fccec" fill-opacity="0.70"/>
<circle cx="420.8" cy="326.9" r="1.75" fill="#5da7e9" fill-opacity="0.85"/>
<circle cx="422.4" cy="331.3" r="1.75" fill="#8fccec" fill-opacity="0.70"/>
<circle cx="420.8" cy="335.8" r="1.75" fill="#8accea" fill-opacity="0.70"/>
<circle cx="422.4" cy="340.2" r="1.75" fill="#559fe9" fill-opacity="0.85"/>
<circle cx="420.8" cy="344.7" r="1.75" fill="#8fccec" fill-opacity="0.70"/>
<circle cx="422.4" cy="349.1" r="1.75" fill="#47b9c6" fill-opacity="0.85"/>
<circle cx="420.8" cy="353.6" r="1.75" fill="#2aaeb6" fill-opacity="0.85"/>
<circle cx="436.6" cy="313.4" r="1.75" fill="#8accea" fill-opacity="0.70"/>
<circle cx="438.2" cy="317.9" r="1.75" fill="#8fccec" fill-opacity="0.70"/>
<circle cx="436.6" cy="322.3" r="1.75" fill="#8fccec" fill-opacity="0.70"/>
<circle cx="438.2" cy="326.8" r="1.75" fill="#559fe9" fill-opacity="0.85"/>
<circle cx="436.6" cy="331.3" r="1.75" fill="#8accea" fill-opacity="0.70"/>
<circle cx="438.2" cy="335.7" r="1.75" fill="#8fccec" fill-opacity="0.70"/>
<circle cx="436.6" cy="340.2" r="1.75" fill="#5da7e9" fill-opacity="0.85"/>
<circle cx="438.2" cy="344.7" r="1.75" fill="#8fccec" fill-opacity="0.70"/>
<circle cx="436.6" cy="349.1" r="1.75" fill="#47b9c6" fill-opacity="0.85"/>
<circle cx="438.2" cy="353.6" r="1.75" fill="#2aaeb6" fill-opacity="0.85"/>
</g>
<text x="135.5" y="13.2" font-size="11" text-anchor="middle">13-15 February 2017</text>
<text x="361.5" y="13.2" font-size="11" text-anchor="middle">17-20 October 2017</text>
<text transform="translate(12.9,63.0) rotate(-90)" font-size="11" text-anchor="middle">IASI</text>
<text x="21.0" y="16.0" font-size="9.3" text-anchor="middle">(a)</text>
<text transform="translate(27.9,63.0) rotate(-90)" font-size="7.9" text-anchor="middle">Altitude (km)</text>
<text x="135.8" y="123.7" font-size="7.9" text-anchor="middle">Latitude (°)</text>
<line x1="45.50" y1="104.40" x2="45.50" y2="106.90" class="tk"/>
<text x="45.50" y="115.4" font-size="8.3" text-anchor="middle">−40</text>
<line x1="68.09" y1="104.40" x2="68.09" y2="106.90" class="tk"/>
<text x="68.09" y="115.4" font-size="8.3" text-anchor="middle">−30</text>
<line x1="90.67" y1="104.40" x2="90.67" y2="106.90" class="tk"/>
<text x="90.67" y="115.4" font-size="8.3" text-anchor="middle">−20</text>
<line x1="113.26" y1="104.40" x2="113.26" y2="106.90" class="tk"/>
<text x="113.26" y="115.4" font-size="8.3" text-anchor="middle">−10</text>
<line x1="135.85" y1="104.40" x2="135.85" y2="106.90" class="tk"/>
<text x="135.85" y="115.4" font-size="8.3" text-anchor="middle">0</text>
<line x1="158.44" y1="104.40" x2="158.44" y2="106.90" class="tk"/>
<text x="158.44" y="115.4" font-size="8.3" text-anchor="middle">10</text>
<line x1="181.03" y1="104.40" x2="181.03" y2="106.90" class="tk"/>
<text x="181.03" y="115.4" font-size="8.3" text-anchor="middle">20</text>
<line x1="203.61" y1="104.40" x2="203.61" y2="106.90" class="tk"/>
<text x="203.61" y="115.4" font-size="8.3" text-anchor="middle">30</text>
<line x1="226.20" y1="104.40" x2="226.20" y2="106.90" class="tk"/>
<text x="226.20" y="115.4" font-size="8.3" text-anchor="middle">40</text>
<line x1="43.00" y1="104.40" x2="45.50" y2="104.40" class="tk"/>
<text x="40.30" y="107.40" font-size="8.3" text-anchor="end">0</text>
<line x1="43.00" y1="81.37" x2="45.50" y2="81.37" class="tk"/>
<text x="40.30" y="84.37" font-size="8.3" text-anchor="end">5</text>
<line x1="43.00" y1="58.34" x2="45.50" y2="58.34" class="tk"/>
<text x="40.30" y="61.34" font-size="8.3" text-anchor="end">10</text>
<line x1="43.00" y1="35.32" x2="45.50" y2="35.32" class="tk"/>
<text x="40.30" y="38.32" font-size="8.3" text-anchor="end">15</text>
<rect x="45.50" y="21.50" width="180.70" height="82.90" class="sp"/>
<text x="246.9" y="16.0" font-size="9.3" text-anchor="middle">(b)</text>
<text transform="translate(253.8,63.0) rotate(-90)" font-size="7.9" text-anchor="middle">Altitude (km)</text>
<text x="361.8" y="123.7" font-size="7.9" text-anchor="middle">Latitude (°)</text>
<line x1="271.40" y1="104.40" x2="271.40" y2="106.90" class="tk"/>
<text x="271.40" y="115.4" font-size="8.3" text-anchor="middle">−40</text>
<line x1="293.99" y1="104.40" x2="293.99" y2="106.90" class="tk"/>
<text x="293.99" y="115.4" font-size="8.3" text-anchor="middle">−30</text>
<line x1="316.57" y1="104.40" x2="316.57" y2="106.90" class="tk"/>
<text x="316.57" y="115.4" font-size="8.3" text-anchor="middle">−20</text>
<line x1="339.16" y1="104.40" x2="339.16" y2="106.90" class="tk"/>
<text x="339.16" y="115.4" font-size="8.3" text-anchor="middle">−10</text>
<line x1="361.75" y1="104.40" x2="361.75" y2="106.90" class="tk"/>
<text x="361.75" y="115.4" font-size="8.3" text-anchor="middle">0</text>
<line x1="384.34" y1="104.40" x2="384.34" y2="106.90" class="tk"/>
<text x="384.34" y="115.4" font-size="8.3" text-anchor="middle">10</text>
<line x1="406.92" y1="104.40" x2="406.92" y2="106.90" class="tk"/>
<text x="406.92" y="115.4" font-size="8.3" text-anchor="middle">20</text>
<line x1="429.51" y1="104.40" x2="429.51" y2="106.90" class="tk"/>
<text x="429.51" y="115.4" font-size="8.3" text-anchor="middle">30</text>
<line x1="452.10" y1="104.40" x2="452.10" y2="106.90" class="tk"/>
<text x="452.10" y="115.4" font-size="8.3" text-anchor="middle">40</text>
<line x1="268.90" y1="104.40" x2="271.40" y2="104.40" class="tk"/>
<text x="266.20" y="107.40" font-size="8.3" text-anchor="end">0</text>
<line x1="268.90" y1="81.37" x2="271.40" y2="81.37" class="tk"/>
<text x="266.20" y="84.37" font-size="8.3" text-anchor="end">5</text>
<line x1="268.90" y1="58.34" x2="271.40" y2="58.34" class="tk"/>
<text x="266.20" y="61.34" font-size="8.3" text-anchor="end">10</text>
<line x1="268.90" y1="35.32" x2="271.40" y2="35.32" class="tk"/>
<text x="266.20" y="38.32" font-size="8.3" text-anchor="end">15</text>
<rect x="271.40" y="21.50" width="180.70" height="82.90" class="sp"/>
<rect x="463.00" y="25.80" width="4.60" height="78.10" fill="url(#cbg)"/>
<path d="M463.00 25.80 L465.30 21.30 L467.60 25.80 Z" fill="#a01c28"/>
<path d="M463.00 103.90 L463.00 25.80 L465.30 21.30 L467.60 25.80 L467.60 103.90 Z" class="sp"/>
<line x1="467.60" y1="103.90" x2="470.10" y2="103.90" class="tk"/>
<text x="472.30" y="106.90" font-size="8.3">0</text>
<line x1="467.60" y1="88.28" x2="470.10" y2="88.28" class="tk"/>
<text x="472.30" y="91.28" font-size="8.3">50</text>
<line x1="467.60" y1="72.66" x2="470.10" y2="72.66" class="tk"/>
<text x="472.30" y="75.66" font-size="8.3">100</text>
<line x1="467.60" y1="57.04" x2="470.10" y2="57.04" class="tk"/>
<text x="472.30" y="60.04" font-size="8.3">150</text>
<line x1="467.60" y1="41.42" x2="470.10" y2="41.42" class="tk"/>
<text x="472.30" y="44.42" font-size="8.3">200</text>
<line x1="467.60" y1="25.80" x2="470.10" y2="25.80" class="tk"/>
<text x="472.30" y="28.80" font-size="8.3">250</text>
<text transform="translate(493.6,64.9) rotate(-90)" font-size="7.9" text-anchor="middle">(ppb)</text>
<text transform="translate(12.9,188.2) rotate(-90)" font-size="11" text-anchor="middle">TCR-2</text>
<text x="21.0" y="141.5" font-size="9.3" text-anchor="middle">(c)</text>
<text transform="translate(27.9,188.2) rotate(-90)" font-size="7.9" text-anchor="middle">Altitude (km)</text>
<text x="135.8" y="248.8" font-size="7.9" text-anchor="middle">Latitude (°)</text>
<line x1="45.50" y1="229.50" x2="45.50" y2="232.00" class="tk"/>
<text x="45.50" y="240.5" font-size="8.3" text-anchor="middle">−40</text>
<line x1="68.09" y1="229.50" x2="68.09" y2="232.00" class="tk"/>
<text x="68.09" y="240.5" font-size="8.3" text-anchor="middle">−30</text>
<line x1="90.67" y1="229.50" x2="90.67" y2="232.00" class="tk"/>
<text x="90.67" y="240.5" font-size="8.3" text-anchor="middle">−20</text>
<line x1="113.26" y1="229.50" x2="113.26" y2="232.00" class="tk"/>
<text x="113.26" y="240.5" font-size="8.3" text-anchor="middle">−10</text>
<line x1="135.85" y1="229.50" x2="135.85" y2="232.00" class="tk"/>
<text x="135.85" y="240.5" font-size="8.3" text-anchor="middle">0</text>
<line x1="158.44" y1="229.50" x2="158.44" y2="232.00" class="tk"/>
<text x="158.44" y="240.5" font-size="8.3" text-anchor="middle">10</text>
<line x1="181.03" y1="229.50" x2="181.03" y2="232.00" class="tk"/>
<text x="181.03" y="240.5" font-size="8.3" text-anchor="middle">20</text>
<line x1="203.61" y1="229.50" x2="203.61" y2="232.00" class="tk"/>
<text x="203.61" y="240.5" font-size="8.3" text-anchor="middle">30</text>
<line x1="226.20" y1="229.50" x2="226.20" y2="232.00" class="tk"/>
<text x="226.20" y="240.5" font-size="8.3" text-anchor="middle">40</text>
<line x1="43.00" y1="229.50" x2="45.50" y2="229.50" class="tk"/>
<text x="40.30" y="232.50" font-size="8.3" text-anchor="end">0</text>
<line x1="43.00" y1="206.58" x2="45.50" y2="206.58" class="tk"/>
<text x="40.30" y="209.58" font-size="8.3" text-anchor="end">5</text>
<line x1="43.00" y1="183.67" x2="45.50" y2="183.67" class="tk"/>
<text x="40.30" y="186.67" font-size="8.3" text-anchor="end">10</text>
<line x1="43.00" y1="160.75" x2="45.50" y2="160.75" class="tk"/>
<text x="40.30" y="163.75" font-size="8.3" text-anchor="end">15</text>
<rect x="45.50" y="147.00" width="180.70" height="82.50" class="sp"/>
<text x="246.9" y="141.5" font-size="9.3" text-anchor="middle">(d)</text>
<text transform="translate(253.8,188.2) rotate(-90)" font-size="7.9" text-anchor="middle">Altitude (km)</text>
<text x="361.8" y="248.8" font-size="7.9" text-anchor="middle">Latitude (°)</text>
<line x1="271.40" y1="229.50" x2="271.40" y2="232.00" class="tk"/>
<text x="271.40" y="240.5" font-size="8.3" text-anchor="middle">−40</text>
<line x1="293.99" y1="229.50" x2="293.99" y2="232.00" class="tk"/>
<text x="293.99" y="240.5" font-size="8.3" text-anchor="middle">−30</text>
<line x1="316.57" y1="229.50" x2="316.57" y2="232.00" class="tk"/>
<text x="316.57" y="240.5" font-size="8.3" text-anchor="middle">−20</text>
<line x1="339.16" y1="229.50" x2="339.16" y2="232.00" class="tk"/>
<text x="339.16" y="240.5" font-size="8.3" text-anchor="middle">−10</text>
<line x1="361.75" y1="229.50" x2="361.75" y2="232.00" class="tk"/>
<text x="361.75" y="240.5" font-size="8.3" text-anchor="middle">0</text>
<line x1="384.34" y1="229.50" x2="384.34" y2="232.00" class="tk"/>
<text x="384.34" y="240.5" font-size="8.3" text-anchor="middle">10</text>
<line x1="406.92" y1="229.50" x2="406.92" y2="232.00" class="tk"/>
<text x="406.92" y="240.5" font-size="8.3" text-anchor="middle">20</text>
<line x1="429.51" y1="229.50" x2="429.51" y2="232.00" class="tk"/>
<text x="429.51" y="240.5" font-size="8.3" text-anchor="middle">30</text>
<line x1="452.10" y1="229.50" x2="452.10" y2="232.00" class="tk"/>
<text x="452.10" y="240.5" font-size="8.3" text-anchor="middle">40</text>
<line x1="268.90" y1="229.50" x2="271.40" y2="229.50" class="tk"/>
<text x="266.20" y="232.50" font-size="8.3" text-anchor="end">0</text>
<line x1="268.90" y1="206.58" x2="271.40" y2="206.58" class="tk"/>
<text x="266.20" y="209.58" font-size="8.3" text-anchor="end">5</text>
<line x1="268.90" y1="183.67" x2="271.40" y2="183.67" class="tk"/>
<text x="266.20" y="186.67" font-size="8.3" text-anchor="end">10</text>
<line x1="268.90" y1="160.75" x2="271.40" y2="160.75" class="tk"/>
<text x="266.20" y="163.75" font-size="8.3" text-anchor="end">15</text>
<rect x="271.40" y="147.00" width="180.70" height="82.50" class="sp"/>
<rect x="463.00" y="151.30" width="4.60" height="77.70" fill="url(#cbg)"/>
<path d="M463.00 151.30 L465.30 146.80 L467.60 151.30 Z" fill="#a01c28"/>
<path d="M463.00 229.00 L463.00 151.30 L465.30 146.80 L467.60 151.30 L467.60 229.00 Z" class="sp"/>
<line x1="467.60" y1="229.00" x2="470.10" y2="229.00" class="tk"/>
<text x="472.30" y="232.00" font-size="8.3">0</text>
<line x1="467.60" y1="213.46" x2="470.10" y2="213.46" class="tk"/>
<text x="472.30" y="216.46" font-size="8.3">50</text>
<line x1="467.60" y1="197.92" x2="470.10" y2="197.92" class="tk"/>
<text x="472.30" y="200.92" font-size="8.3">100</text>
<line x1="467.60" y1="182.38" x2="470.10" y2="182.38" class="tk"/>
<text x="472.30" y="185.38" font-size="8.3">150</text>
<line x1="467.60" y1="166.84" x2="470.10" y2="166.84" class="tk"/>
<text x="472.30" y="169.84" font-size="8.3">200</text>
<line x1="467.60" y1="151.30" x2="470.10" y2="151.30" class="tk"/>
<text x="472.30" y="154.30" font-size="8.3">250</text>
<text transform="translate(493.6,190.2) rotate(-90)" font-size="7.9" text-anchor="middle">(ppb)</text>
<text transform="translate(12.9,313.4) rotate(-90)" font-size="11" text-anchor="middle">CAMS reanalysis</text>
<text x="21.0" y="266.8" font-size="9.3" text-anchor="middle">(e)</text>
<text transform="translate(27.9,313.4) rotate(-90)" font-size="7.9" text-anchor="middle">Altitude (km)</text>
<text x="135.8" y="373.8" font-size="7.9" text-anchor="middle">Latitude (°)</text>
<line x1="45.50" y1="354.50" x2="45.50" y2="357.00" class="tk"/>
<text x="45.50" y="365.5" font-size="8.3" text-anchor="middle">−40</text>
<line x1="68.09" y1="354.50" x2="68.09" y2="357.00" class="tk"/>
<text x="68.09" y="365.5" font-size="8.3" text-anchor="middle">−30</text>
<line x1="90.67" y1="354.50" x2="90.67" y2="357.00" class="tk"/>
<text x="90.67" y="365.5" font-size="8.3" text-anchor="middle">−20</text>
<line x1="113.26" y1="354.50" x2="113.26" y2="357.00" class="tk"/>
<text x="113.26" y="365.5" font-size="8.3" text-anchor="middle">−10</text>
<line x1="135.85" y1="354.50" x2="135.85" y2="357.00" class="tk"/>
<text x="135.85" y="365.5" font-size="8.3" text-anchor="middle">0</text>
<line x1="158.44" y1="354.50" x2="158.44" y2="357.00" class="tk"/>
<text x="158.44" y="365.5" font-size="8.3" text-anchor="middle">10</text>
<line x1="181.03" y1="354.50" x2="181.03" y2="357.00" class="tk"/>
<text x="181.03" y="365.5" font-size="8.3" text-anchor="middle">20</text>
<line x1="203.61" y1="354.50" x2="203.61" y2="357.00" class="tk"/>
<text x="203.61" y="365.5" font-size="8.3" text-anchor="middle">30</text>
<line x1="226.20" y1="354.50" x2="226.20" y2="357.00" class="tk"/>
<text x="226.20" y="365.5" font-size="8.3" text-anchor="middle">40</text>
<line x1="43.00" y1="354.50" x2="45.50" y2="354.50" class="tk"/>
<text x="40.30" y="357.50" font-size="8.3" text-anchor="end">0</text>
<line x1="43.00" y1="331.67" x2="45.50" y2="331.67" class="tk"/>
<text x="40.30" y="334.67" font-size="8.3" text-anchor="end">5</text>
<line x1="43.00" y1="308.83" x2="45.50" y2="308.83" class="tk"/>
<text x="40.30" y="311.83" font-size="8.3" text-anchor="end">10</text>
<line x1="43.00" y1="286.00" x2="45.50" y2="286.00" class="tk"/>
<text x="40.30" y="289.00" font-size="8.3" text-anchor="end">15</text>
<rect x="45.50" y="272.30" width="180.70" height="82.20" class="sp"/>
<text x="246.9" y="266.8" font-size="9.3" text-anchor="middle">(f)</text>
<text transform="translate(253.8,313.4) rotate(-90)" font-size="7.9" text-anchor="middle">Altitude (km)</text>
<text x="361.8" y="373.8" font-size="7.9" text-anchor="middle">Latitude (°)</text>
<line x1="271.40" y1="354.50" x2="271.40" y2="357.00" class="tk"/>
<text x="271.40" y="365.5" font-size="8.3" text-anchor="middle">−40</text>
<line x1="293.99" y1="354.50" x2="293.99" y2="357.00" class="tk"/>
<text x="293.99" y="365.5" font-size="8.3" text-anchor="middle">−30</text>
<line x1="316.57" y1="354.50" x2="316.57" y2="357.00" class="tk"/>
<text x="316.57" y="365.5" font-size="8.3" text-anchor="middle">−20</text>
<line x1="339.16" y1="354.50" x2="339.16" y2="357.00" class="tk"/>
<text x="339.16" y="365.5" font-size="8.3" text-anchor="middle">−10</text>
<line x1="361.75" y1="354.50" x2="361.75" y2="357.00" class="tk"/>
<text x="361.75" y="365.5" font-size="8.3" text-anchor="middle">0</text>
<line x1="384.34" y1="354.50" x2="384.34" y2="357.00" class="tk"/>
<text x="384.34" y="365.5" font-size="8.3" text-anchor="middle">10</text>
<line x1="406.92" y1="354.50" x2="406.92" y2="357.00" class="tk"/>
<text x="406.92" y="365.5" font-size="8.3" text-anchor="middle">20</text>
<line x1="429.51" y1="354.50" x2="429.51" y2="357.00" class="tk"/>
<text x="429.51" y="365.5" font-size="8.3" text-anchor="middle">30</text>
<line x1="452.10" y1="354.50" x2="452.10" y2="357.00" class="tk"/>
<text x="452.10" y="365.5" font-size="8.3" text-anchor="middle">40</text>
<line x1="268.90" y1="354.50" x2="271.40" y2="354.50" class="tk"/>
<text x="266.20" y="357.50" font-size="8.3" text-anchor="end">0</text>
<line x1="268.90" y1="331.67" x2="271.40" y2="331.67" class="tk"/>
<text x="266.20" y="334.67" font-size="8.3" text-anchor="end">5</text>
<line x1="268.90" y1="308.83" x2="271.40" y2="308.83" class="tk"/>
<text x="266.20" y="311.83" font-size="8.3" text-anchor="end">10</text>
<line x1="268.90" y1="286.00" x2="271.40" y2="286.00" class="tk"/>
<text x="266.20" y="289.00" font-size="8.3" text-anchor="end">15</text>
<rect x="271.40" y="272.30" width="180.70" height="82.20" class="sp"/>
<rect x="463.00" y="276.60" width="4.60" height="77.40" fill="url(#cbg)"/>
<path d="M463.00 276.60 L465.30 272.10 L467.60 276.60 Z" fill="#a01c28"/>
<path d="M463.00 354.00 L463.00 276.60 L465.30 272.10 L467.60 276.60 L467.60 354.00 Z" class="sp"/>
<line x1="467.60" y1="354.00" x2="470.10" y2="354.00" class="tk"/>
<text x="472.30" y="357.00" font-size="8.3">0</text>
<line x1="467.60" y1="338.52" x2="470.10" y2="338.52" class="tk"/>
<text x="472.30" y="341.52" font-size="8.3">50</text>
<line x1="467.60" y1="323.04" x2="470.10" y2="323.04" class="tk"/>
<text x="472.30" y="326.04" font-size="8.3">100</text>
<line x1="467.60" y1="307.56" x2="470.10" y2="307.56" class="tk"/>
<text x="472.30" y="310.56" font-size="8.3">150</text>
<line x1="467.60" y1="292.08" x2="470.10" y2="292.08" class="tk"/>
<text x="472.30" y="295.08" font-size="8.3">200</text>
<line x1="467.60" y1="276.60" x2="470.10" y2="276.60" class="tk"/>
<text x="472.30" y="279.60" font-size="8.3">250</text>
<text transform="translate(493.6,315.3) rotate(-90)" font-size="7.9" text-anchor="middle">(ppb)</text>
</svg></body></html>
